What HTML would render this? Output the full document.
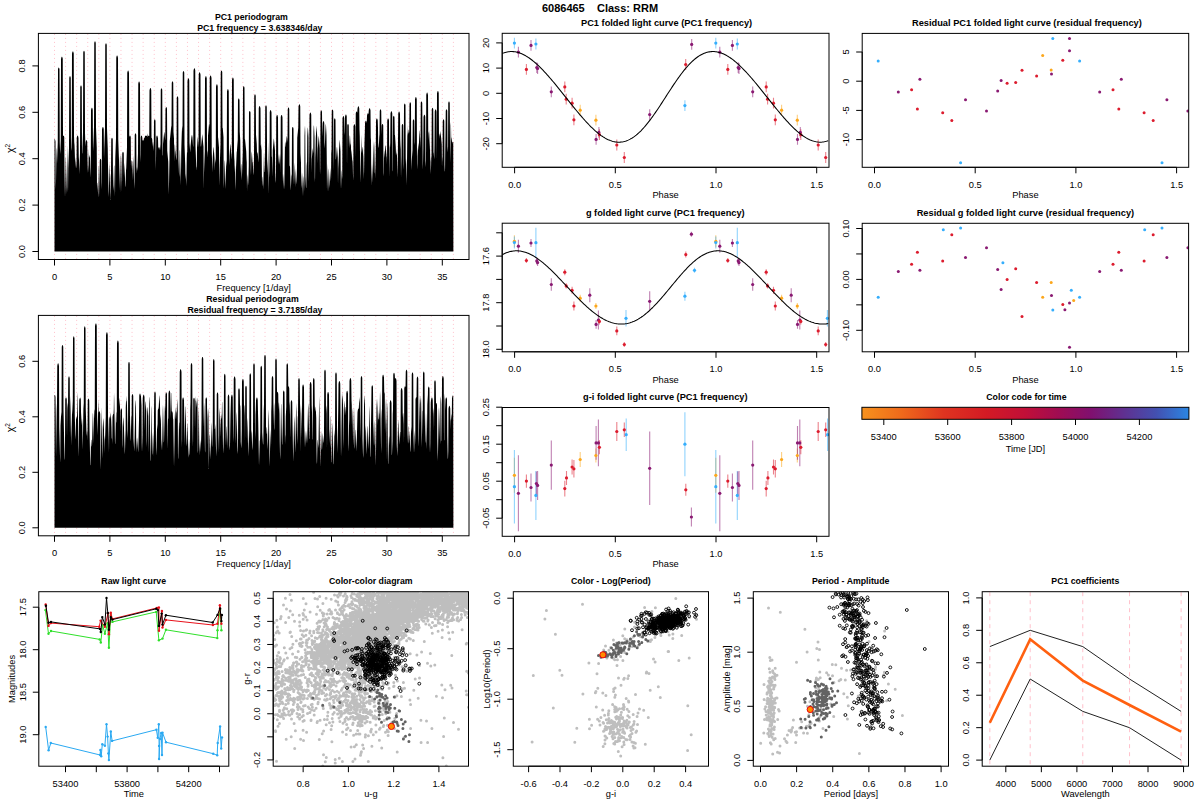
<!DOCTYPE html><html><head><meta charset="utf-8"><style>html,body{margin:0;padding:0;background:#fff;width:1200px;height:800px;overflow:hidden}</style></head><body><svg width="1200" height="800" viewBox="0 0 1200 800" style="display:block">
<g font-family='"Liberation Sans", sans-serif'>
<rect width="1200" height="800" fill="#fff"/>
<text x="600" y="12" font-size="11" text-anchor="middle" font-weight="bold" fill="#000">6086465&#160;&#160;&#160;&#160;Class: RRM</text>
<line x1="54.5" y1="33.9" x2="54.5" y2="259" stroke="#ffc0cb" stroke-width="1" stroke-dasharray="1 3"/>
<line x1="65.58" y1="33.9" x2="65.58" y2="259" stroke="#ffc0cb" stroke-width="1" stroke-dasharray="1 3"/>
<line x1="76.66" y1="33.9" x2="76.66" y2="259" stroke="#ffc0cb" stroke-width="1" stroke-dasharray="1 3"/>
<line x1="87.74" y1="33.9" x2="87.74" y2="259" stroke="#ffc0cb" stroke-width="1" stroke-dasharray="1 3"/>
<line x1="98.82" y1="33.9" x2="98.82" y2="259" stroke="#ffc0cb" stroke-width="1" stroke-dasharray="1 3"/>
<line x1="109.9" y1="33.9" x2="109.9" y2="259" stroke="#ffc0cb" stroke-width="1" stroke-dasharray="1 3"/>
<line x1="120.98" y1="33.9" x2="120.98" y2="259" stroke="#ffc0cb" stroke-width="1" stroke-dasharray="1 3"/>
<line x1="132.06" y1="33.9" x2="132.06" y2="259" stroke="#ffc0cb" stroke-width="1" stroke-dasharray="1 3"/>
<line x1="143.14" y1="33.9" x2="143.14" y2="259" stroke="#ffc0cb" stroke-width="1" stroke-dasharray="1 3"/>
<line x1="154.22" y1="33.9" x2="154.22" y2="259" stroke="#ffc0cb" stroke-width="1" stroke-dasharray="1 3"/>
<line x1="165.3" y1="33.9" x2="165.3" y2="259" stroke="#ffc0cb" stroke-width="1" stroke-dasharray="1 3"/>
<line x1="176.38" y1="33.9" x2="176.38" y2="259" stroke="#ffc0cb" stroke-width="1" stroke-dasharray="1 3"/>
<line x1="187.46" y1="33.9" x2="187.46" y2="259" stroke="#ffc0cb" stroke-width="1" stroke-dasharray="1 3"/>
<line x1="198.54" y1="33.9" x2="198.54" y2="259" stroke="#ffc0cb" stroke-width="1" stroke-dasharray="1 3"/>
<line x1="209.62" y1="33.9" x2="209.62" y2="259" stroke="#ffc0cb" stroke-width="1" stroke-dasharray="1 3"/>
<line x1="220.7" y1="33.9" x2="220.7" y2="259" stroke="#ffc0cb" stroke-width="1" stroke-dasharray="1 3"/>
<line x1="231.78" y1="33.9" x2="231.78" y2="259" stroke="#ffc0cb" stroke-width="1" stroke-dasharray="1 3"/>
<line x1="242.86" y1="33.9" x2="242.86" y2="259" stroke="#ffc0cb" stroke-width="1" stroke-dasharray="1 3"/>
<line x1="253.94" y1="33.9" x2="253.94" y2="259" stroke="#ffc0cb" stroke-width="1" stroke-dasharray="1 3"/>
<line x1="265.02" y1="33.9" x2="265.02" y2="259" stroke="#ffc0cb" stroke-width="1" stroke-dasharray="1 3"/>
<line x1="276.1" y1="33.9" x2="276.1" y2="259" stroke="#ffc0cb" stroke-width="1" stroke-dasharray="1 3"/>
<line x1="287.18" y1="33.9" x2="287.18" y2="259" stroke="#ffc0cb" stroke-width="1" stroke-dasharray="1 3"/>
<line x1="298.26" y1="33.9" x2="298.26" y2="259" stroke="#ffc0cb" stroke-width="1" stroke-dasharray="1 3"/>
<line x1="309.34" y1="33.9" x2="309.34" y2="259" stroke="#ffc0cb" stroke-width="1" stroke-dasharray="1 3"/>
<line x1="320.42" y1="33.9" x2="320.42" y2="259" stroke="#ffc0cb" stroke-width="1" stroke-dasharray="1 3"/>
<line x1="331.5" y1="33.9" x2="331.5" y2="259" stroke="#ffc0cb" stroke-width="1" stroke-dasharray="1 3"/>
<line x1="342.58" y1="33.9" x2="342.58" y2="259" stroke="#ffc0cb" stroke-width="1" stroke-dasharray="1 3"/>
<line x1="353.66" y1="33.9" x2="353.66" y2="259" stroke="#ffc0cb" stroke-width="1" stroke-dasharray="1 3"/>
<line x1="364.74" y1="33.9" x2="364.74" y2="259" stroke="#ffc0cb" stroke-width="1" stroke-dasharray="1 3"/>
<line x1="375.82" y1="33.9" x2="375.82" y2="259" stroke="#ffc0cb" stroke-width="1" stroke-dasharray="1 3"/>
<line x1="386.9" y1="33.9" x2="386.9" y2="259" stroke="#ffc0cb" stroke-width="1" stroke-dasharray="1 3"/>
<line x1="397.98" y1="33.9" x2="397.98" y2="259" stroke="#ffc0cb" stroke-width="1" stroke-dasharray="1 3"/>
<line x1="409.06" y1="33.9" x2="409.06" y2="259" stroke="#ffc0cb" stroke-width="1" stroke-dasharray="1 3"/>
<line x1="420.14" y1="33.9" x2="420.14" y2="259" stroke="#ffc0cb" stroke-width="1" stroke-dasharray="1 3"/>
<line x1="431.22" y1="33.9" x2="431.22" y2="259" stroke="#ffc0cb" stroke-width="1" stroke-dasharray="1 3"/>
<line x1="442.3" y1="33.9" x2="442.3" y2="259" stroke="#ffc0cb" stroke-width="1" stroke-dasharray="1 3"/>
<line x1="453.38" y1="33.9" x2="453.38" y2="259" stroke="#ffc0cb" stroke-width="1" stroke-dasharray="1 3"/>
<path d="M54.50 251.50L54.50 139.0L54.75 139.0L55.00 139.5L55.25 140.3L55.50 141.5L55.75 189.6L56.00 181.6L56.25 164.6L56.50 147.5L56.75 150.0L57.00 163.4L57.25 156.4L57.50 149.5L57.75 142.5L58.00 69.3L58.25 68.3L58.50 67.7L58.75 67.5L59.00 67.7L59.25 68.3L59.50 69.3L59.75 142.5L60.00 149.5L60.25 154.1L60.50 147.1L60.75 140.1L61.00 59.1L61.25 57.9L61.50 57.1L61.75 56.7L62.00 56.7L62.25 57.0L62.50 57.7L62.75 58.8L63.00 136.3L63.25 135.7L63.50 135.5L63.75 135.7L64.00 136.3L64.25 137.2L64.50 171.7L64.75 186.2L65.00 197.2L65.25 187.2L65.50 171.6L65.75 156.0L66.00 159.4L66.25 173.1L66.50 186.7L66.75 193.9L67.00 167.6L67.25 144.1L67.50 161.9L67.75 187.3L68.00 192.5L68.25 168.5L68.50 161.6L68.75 154.6L69.00 147.7L69.25 77.8L69.50 76.9L69.75 76.3L70.00 76.1L70.25 76.3L70.50 76.9L70.75 77.8L71.00 147.7L71.25 150.9L71.50 143.9L71.75 136.9L72.00 53.8L72.25 52.6L72.50 51.8L72.75 51.4L73.00 51.3L73.25 51.7L73.50 52.4L73.75 53.5L74.00 135.5L74.25 142.5L74.50 145.0L74.75 151.9L75.00 160.5L75.25 167.9L75.50 162.4L75.75 156.9L76.00 162.1L76.25 167.7L76.50 167.6L76.75 137.7L77.00 136.6L77.25 135.9L77.50 135.5L77.75 135.6L78.00 136.0L78.25 136.8L78.50 138.0L78.75 156.7L79.00 160.3L79.25 174.1L79.50 167.1L79.75 160.2L80.00 153.2L80.25 87.1L80.50 86.2L80.75 85.6L81.00 85.4L81.25 85.6L81.50 86.2L81.75 87.1L82.00 153.2L82.25 153.4L82.50 146.4L82.75 139.4L83.00 132.5L83.25 52.6L83.50 51.6L83.75 51.0L84.00 50.8L84.25 51.0L84.50 51.6L84.75 52.6L85.00 132.5L85.25 139.4L85.50 146.4L85.75 141.9L86.00 140.9L86.25 140.3L86.50 140.1L86.75 140.3L87.00 140.9L87.25 141.9L87.50 159.2L87.75 168.9L88.00 173.0L88.25 168.3L88.50 164.7L88.75 148.6L89.00 157.3L89.25 156.2L89.50 154.4L89.75 158.3L90.00 156.0L90.25 167.3L90.50 177.7L90.75 167.8L91.00 110.2L91.25 109.0L91.50 108.2L91.75 107.7L92.00 107.7L92.25 108.0L92.50 108.8L92.75 109.9L93.00 151.2L93.25 146.5L93.50 140.7L93.75 133.7L94.00 126.8L94.25 43.0L94.50 42.1L94.75 41.5L95.00 41.3L95.25 41.5L95.50 42.1L95.75 43.0L96.00 126.8L96.25 133.7L96.50 140.7L96.75 147.7L97.00 189.4L97.25 182.7L97.50 183.0L97.75 187.9L98.00 192.8L98.25 197.7L98.50 185.3L98.75 167.7L99.00 165.2L99.25 180.8L99.50 196.5L99.75 160.4L100.00 159.5L100.25 158.9L100.50 158.7L100.75 158.9L101.00 159.5L101.25 160.4L101.50 189.3L101.75 182.3L102.00 129.4L102.25 128.2L102.50 127.4L102.75 127.0L103.00 126.9L103.25 127.3L103.50 128.0L103.75 129.1L104.00 159.0L104.25 148.8L104.50 141.8L104.75 134.9L105.00 127.9L105.25 44.9L105.50 43.9L105.75 43.4L106.00 43.2L106.25 43.4L106.50 43.9L106.75 44.9L107.00 127.9L107.25 134.9L107.50 141.8L107.75 148.8L108.00 165.7L108.25 176.0L108.50 190.9L108.75 197.1L109.00 183.3L109.25 169.6L109.50 162.3L109.75 173.0L110.00 186.5L110.25 200.1L110.50 191.2L110.75 176.1L111.00 173.9L111.25 139.6L111.50 138.6L111.75 138.0L112.00 137.8L112.25 138.0L112.50 138.6L112.75 139.6L113.00 184.7L113.25 190.8L113.50 186.3L113.75 175.7L114.00 165.2L114.25 166.0L114.50 177.9L114.75 189.8L115.00 196.4L115.25 158.9L115.50 152.0L115.75 145.0L116.00 138.1L116.25 57.7L116.50 56.6L116.75 55.8L117.00 55.5L117.25 55.5L117.50 56.0L117.75 56.8L118.00 58.0L118.25 139.4L118.50 146.4L118.75 153.4L119.00 160.3L119.25 189.9L119.50 178.3L119.75 166.7L120.00 155.1L120.25 156.2L120.50 168.5L120.75 180.7L121.00 193.0L121.25 179.1L121.50 153.6L121.75 162.2L122.00 184.8L122.25 153.5L122.50 152.5L122.75 151.9L123.00 151.7L123.25 151.9L123.50 152.5L123.75 153.5L124.00 177.9L124.25 168.2L124.50 162.7L124.75 169.7L125.00 178.5L125.25 187.3L125.50 185.7L125.75 178.1L126.00 170.4L126.25 168.0L126.50 161.0L126.75 154.1L127.00 147.1L127.25 72.8L127.50 71.7L127.75 70.9L128.00 70.6L128.25 70.6L128.50 71.0L128.75 71.8L129.00 73.0L129.25 137.2L129.50 136.3L129.75 135.7L130.00 135.5L130.25 135.7L130.50 136.3L130.75 137.2L131.00 169.0L131.25 165.1L131.50 161.2L131.75 160.2L132.00 160.7L132.25 161.8L132.50 167.8L132.75 173.8L133.00 180.6L133.25 166.5L133.50 155.2L133.75 163.1L134.00 176.6L134.25 188.9L134.50 181.9L134.75 134.9L135.00 134.0L135.25 133.4L135.50 133.2L135.75 133.4L136.00 134.0L136.25 134.9L136.50 173.4L136.75 169.2L137.00 166.7L137.25 170.9L137.50 167.6L137.75 160.6L138.00 153.6L138.25 83.7L138.50 82.6L138.75 81.8L139.00 81.5L139.25 81.5L139.50 81.9L139.75 82.7L140.00 83.9L140.25 155.0L140.50 162.0L140.75 137.2L141.00 136.3L141.25 135.7L141.50 135.5L141.75 135.7L142.00 136.3L142.25 137.2L142.50 140.9L142.75 140.3L143.00 140.1L143.25 140.3L143.50 140.9L143.75 139.6L144.00 138.6L144.25 138.0L144.50 137.8L144.75 137.2L145.00 136.3L145.25 135.7L145.50 135.5L145.75 135.7L146.00 136.3L146.25 135.7L146.50 135.5L146.75 135.7L147.00 136.3L147.25 137.2L147.50 135.2L147.75 133.3L148.00 136.3L148.25 135.7L148.50 135.5L148.75 135.7L149.00 136.3L149.25 135.7L149.50 90.4L149.75 89.2L150.00 88.4L150.25 88.0L150.50 88.0L150.75 88.3L151.00 89.1L151.25 90.2L151.50 137.8L151.75 138.0L152.00 138.6L152.25 139.6L152.50 146.7L152.75 143.4L153.00 141.4L153.25 144.7L153.50 147.9L153.75 151.1L154.00 121.0L154.25 120.0L154.50 119.5L154.75 119.3L155.00 119.5L155.25 120.0L155.50 121.0L155.75 170.1L156.00 159.6L156.25 137.2L156.50 136.3L156.75 135.7L157.00 135.5L157.25 135.7L157.50 136.3L157.75 137.2L158.00 138.3L158.25 148.8L158.50 147.9L158.75 147.3L159.00 147.1L159.25 147.3L159.50 147.9L159.75 148.8L160.00 150.6L160.25 147.2L160.50 143.9L160.75 89.9L161.00 88.9L161.25 88.4L161.50 88.2L161.75 88.4L162.00 88.9L162.25 89.9L162.50 154.9L162.75 155.8L163.00 144.0L163.25 141.5L163.50 139.0L163.75 136.4L164.00 133.9L164.25 131.4L164.50 132.9L164.75 135.4L165.00 137.9L165.25 140.4L165.50 108.7L165.75 107.7L166.00 107.2L166.25 107.0L166.50 107.2L166.75 107.7L167.00 108.7L167.25 150.7L167.50 153.5L167.75 156.2L168.00 159.0L168.25 161.8L168.50 177.8L168.75 194.5L169.00 184.2L169.25 170.5L169.50 158.5L169.75 141.3L170.00 138.8L170.25 136.3L170.50 133.8L170.75 131.3L171.00 128.8L171.25 126.7L171.50 125.6L171.75 82.9L172.00 82.0L172.25 81.4L172.50 81.2L172.75 81.4L173.00 82.0L173.25 82.9L173.50 132.0L173.75 135.3L174.00 138.7L174.25 161.7L174.50 152.0L174.75 145.3L175.00 143.9L175.25 150.6L175.50 151.5L175.75 154.2L176.00 156.9L176.25 159.6L176.50 159.8L176.75 98.0L177.00 97.1L177.25 96.5L177.50 96.3L177.75 96.5L178.00 97.1L178.25 98.0L178.50 159.8L178.75 166.7L179.00 173.7L179.25 177.1L179.50 164.1L179.75 151.0L180.00 149.6L180.25 161.5L180.50 173.3L180.75 185.2L181.00 170.8L181.25 150.6L181.50 141.7L181.75 134.3L182.00 128.2L182.25 125.7L182.50 131.8L182.75 72.7L183.00 71.8L183.25 71.2L183.50 71.0L183.75 71.2L184.00 71.8L184.25 72.7L184.50 144.6L184.75 151.6L185.00 158.5L185.25 165.5L185.50 179.8L185.75 173.5L186.00 179.5L186.25 186.1L186.50 174.0L186.75 158.5L187.00 151.4L187.25 153.1L187.50 80.7L187.75 79.5L188.00 78.7L188.25 78.3L188.50 78.2L188.75 78.6L189.00 79.3L189.25 80.4L189.50 142.7L189.75 146.0L190.00 149.3L190.25 152.6L190.50 146.3L190.75 143.7L191.00 141.0L191.25 138.4L191.50 135.7L191.75 134.8L192.00 137.5L192.25 134.6L192.50 137.9L192.75 141.7L193.00 145.5L193.25 147.1L193.50 70.7L193.75 69.5L194.00 68.7L194.25 68.3L194.50 68.3L194.75 68.6L195.00 69.3L195.25 70.4L195.50 145.7L195.75 152.7L196.00 159.6L196.25 166.6L196.50 167.6L196.75 170.7L197.00 147.8L197.25 144.0L197.50 140.1L197.75 136.2L198.00 139.7L198.25 143.6L198.50 147.5L198.75 74.4L199.00 73.3L199.25 72.5L199.50 72.2L199.75 72.2L200.00 72.7L200.25 73.5L200.50 74.7L200.75 145.4L201.00 146.9L201.25 144.3L201.50 141.7L201.75 139.1L202.00 136.5L202.25 133.9L202.50 136.4L202.75 139.0L203.00 141.6L203.25 144.2L203.50 146.8L203.75 189.2L204.00 172.7L204.25 165.8L204.50 158.8L204.75 151.8L205.00 78.6L205.25 77.4L205.50 76.6L205.75 76.2L206.00 76.1L206.25 76.5L206.50 77.2L206.75 78.3L207.00 150.4L207.25 157.4L207.50 150.2L207.75 152.6L208.00 135.8L208.25 132.9L208.50 129.9L208.75 127.0L209.00 124.1L209.25 124.5L209.50 127.4L209.75 77.6L210.00 76.5L210.25 75.8L210.50 75.4L210.75 75.5L211.00 75.9L211.25 76.7L211.50 77.9L211.75 151.4L212.00 158.4L212.25 165.3L212.50 172.3L212.75 157.3L213.00 153.8L213.25 150.3L213.50 146.9L213.75 147.7L214.00 151.2L214.25 154.7L214.50 158.2L214.75 170.8L215.00 162.2L215.25 158.9L215.50 163.7L215.75 156.7L216.00 86.7L216.25 85.5L216.50 84.7L216.75 84.3L217.00 84.3L217.25 84.6L217.50 85.3L217.75 86.5L218.00 136.9L218.25 138.7L218.50 141.8L218.75 144.8L219.00 147.8L219.25 185.7L219.50 176.6L219.75 165.2L220.00 158.2L220.25 151.3L220.50 144.3L220.75 72.3L221.00 71.3L221.25 70.7L221.50 70.5L221.75 70.7L222.00 71.3L222.25 72.3L222.50 128.1L222.75 127.8L223.00 131.0L223.25 134.1L223.50 137.2L223.75 188.5L224.00 182.8L224.25 172.1L224.50 161.4L224.75 159.9L225.00 169.4L225.25 179.3L225.50 189.1L225.75 181.7L226.00 170.4L226.25 160.8L226.50 166.6L226.75 159.6L227.00 91.6L227.25 90.4L227.50 89.6L227.75 89.2L228.00 89.1L228.25 89.5L228.50 90.2L228.75 91.3L229.00 158.2L229.25 165.2L229.50 156.1L229.75 152.4L230.00 148.8L230.25 145.1L230.50 143.7L230.75 147.3L231.00 151.0L231.25 154.6L231.50 159.6L231.75 152.7L232.00 80.0L232.25 78.8L232.50 78.0L232.75 77.6L233.00 77.5L233.25 77.9L233.50 78.6L233.75 79.7L234.00 151.3L234.25 157.7L234.50 161.3L234.75 172.2L235.00 164.5L235.25 173.0L235.50 184.0L235.75 190.2L236.00 171.3L236.25 152.3L236.50 150.8L236.75 167.3L237.00 149.9L237.25 146.6L237.50 143.2L237.75 139.9L238.00 100.1L238.25 99.2L238.50 98.6L238.75 98.4L239.00 98.6L239.25 99.2L239.50 100.1L239.75 131.8L240.00 136.0L240.25 140.2L240.50 160.7L240.75 172.9L241.00 164.7L241.25 163.8L241.50 171.8L241.75 180.3L242.00 174.5L242.25 167.6L242.50 160.6L242.75 152.2L243.00 87.8L243.25 86.9L243.50 86.3L243.75 86.1L244.00 86.3L244.25 86.9L244.50 87.8L244.75 139.6L245.00 139.1L245.25 141.6L245.50 144.1L245.75 146.6L246.00 149.1L246.25 151.6L246.50 158.8L246.75 162.4L247.00 191.4L247.25 182.7L247.50 174.0L247.75 177.0L248.00 185.7L248.25 182.5L248.50 175.5L248.75 166.0L249.00 112.6L249.25 111.7L249.50 111.1L249.75 110.9L250.00 111.1L250.25 111.7L250.50 112.6L250.75 168.5L251.00 175.5L251.25 160.1L251.50 155.7L251.75 151.3L252.00 153.6L252.25 158.0L252.50 162.4L252.75 162.0L253.00 167.3L253.25 175.4L253.50 172.4L253.75 165.5L254.00 158.5L254.25 95.9L254.50 95.0L254.75 94.4L255.00 94.2L255.25 94.4L255.50 95.0L255.75 95.9L256.00 134.4L256.25 137.6L256.50 140.8L256.75 144.0L257.00 152.5L257.25 153.7L257.50 151.4L257.75 154.0L258.00 156.8L258.25 159.7L258.50 162.6L258.75 108.3L259.00 107.1L259.25 106.4L259.50 106.1L259.75 106.1L260.00 106.5L260.25 107.3L260.50 108.5L260.75 144.7L261.00 145.9L261.25 150.3L261.50 142.8L261.75 160.8L262.00 183.7L262.25 186.5L262.50 177.6L262.75 176.4L263.00 183.0L263.25 189.5L263.50 176.6L263.75 163.2L264.00 151.1L264.25 158.7L264.50 171.8L264.75 172.2L265.00 165.2L265.25 107.1L265.50 106.1L265.75 105.5L266.00 105.3L266.25 105.5L266.50 106.1L266.75 107.1L267.00 142.9L267.25 172.2L267.50 165.3L267.75 158.8L268.00 176.6L268.25 194.3L268.50 172.1L268.75 141.0L269.00 157.9L269.25 177.7L269.50 170.8L269.75 112.2L270.00 111.1L270.25 110.4L270.50 110.0L270.75 110.0L271.00 110.5L271.25 111.3L271.50 112.5L271.75 157.3L272.00 156.3L272.25 166.5L272.50 177.0L272.75 150.3L273.00 147.4L273.25 144.5L273.50 141.5L273.75 138.6L274.00 139.2L274.25 142.2L274.50 145.1L274.75 148.0L275.00 151.0L275.25 171.1L275.50 182.9L275.75 180.6L276.00 171.9L276.25 117.1L276.50 116.0L276.75 115.2L277.00 114.9L277.25 114.9L277.50 115.3L277.75 116.2L278.00 117.4L278.25 164.3L278.50 160.7L278.75 157.0L279.00 153.7L279.25 157.3L279.50 161.0L279.75 164.7L280.00 160.9L280.25 153.2L280.50 173.4L280.75 117.1L281.00 116.0L281.25 115.2L281.50 114.9L281.75 114.9L282.00 115.3L282.25 116.2L282.50 117.4L282.75 173.4L283.00 182.0L283.25 189.0L283.50 177.9L283.75 173.4L284.00 184.2L284.25 189.8L284.50 173.3L284.75 156.7L285.00 140.4L285.25 147.5L285.50 145.8L285.75 141.2L286.00 143.4L286.25 140.8L286.50 138.3L286.75 135.7L287.00 136.9L287.25 139.4L287.50 142.0L287.75 109.2L288.00 108.2L288.25 107.6L288.50 107.4L288.75 107.6L289.00 108.2L289.25 109.2L289.50 166.4L289.75 166.0L290.00 165.5L290.25 173.9L290.50 182.4L290.75 190.8L291.00 185.4L291.25 179.7L291.50 173.9L291.75 176.4L292.00 128.7L292.25 127.7L292.50 127.1L292.75 126.9L293.00 127.1L293.25 127.7L293.50 128.7L293.75 178.1L294.00 185.1L294.25 177.7L294.50 162.6L294.75 167.0L295.00 177.3L295.25 187.3L295.50 177.9L295.75 168.5L296.00 173.5L296.25 181.7L296.50 184.5L296.75 175.9L297.00 167.3L297.25 137.7L297.50 135.2L297.75 132.7L298.00 130.2L298.25 127.7L298.50 106.7L298.75 105.5L299.00 104.7L299.25 104.2L299.50 104.2L299.75 104.6L300.00 105.3L300.25 106.4L300.50 153.2L300.75 158.1L301.00 162.9L301.25 188.2L301.50 185.4L301.75 178.3L302.00 172.1L302.25 176.4L302.50 183.0L302.75 189.6L303.00 196.2L303.25 187.1L303.50 177.9L303.75 175.7L304.00 183.4L304.25 191.1L304.50 135.8L304.75 129.0L305.00 125.4L305.25 132.2L305.50 176.6L305.75 182.0L306.00 187.4L306.25 188.0L306.50 174.8L306.75 161.7L307.00 166.1L307.25 136.1L307.50 131.7L307.75 127.3L308.00 128.6L308.25 133.0L308.50 137.4L308.75 182.0L309.00 166.2L309.25 150.3L309.50 115.0L309.75 113.8L310.00 113.0L310.25 112.6L310.50 112.6L310.75 112.9L311.00 113.6L311.25 114.8L311.50 172.3L311.75 159.2L312.00 156.4L312.25 153.6L312.50 150.8L312.75 148.0L313.00 150.8L313.25 153.6L313.50 131.3L313.75 125.7L314.00 125.6L314.25 131.2L314.50 136.7L314.75 177.3L315.00 182.3L315.25 157.6L315.50 151.6L315.75 138.2L316.00 134.0L316.25 129.7L316.50 125.5L316.75 128.9L317.00 133.1L317.25 137.4L317.50 163.3L317.75 148.7L318.00 145.4L318.25 142.1L318.50 138.8L318.75 135.5L319.00 138.5L319.25 141.8L319.50 145.1L319.75 148.4L320.00 175.1L320.25 168.1L320.50 111.9L320.75 111.0L321.00 110.4L321.25 110.2L321.50 110.4L321.75 111.0L322.00 111.9L322.25 136.4L322.50 130.6L322.75 122.9L323.00 121.9L323.25 121.3L323.50 121.1L323.75 121.3L324.00 121.9L324.25 122.9L324.50 148.4L324.75 145.3L325.00 142.1L325.25 133.8L325.50 128.8L325.75 123.8L326.00 125.3L326.25 130.3L326.50 135.3L326.75 158.0L327.00 191.6L327.25 178.3L327.50 163.3L327.75 176.1L328.00 192.1L328.25 186.6L328.50 177.4L328.75 168.3L329.00 170.8L329.25 177.7L329.50 184.6L329.75 188.0L330.00 177.9L330.25 167.8L330.50 171.7L330.75 178.5L331.00 181.6L331.25 152.9L331.50 150.1L331.75 111.3L332.00 110.3L332.25 109.7L332.50 109.5L332.75 109.7L333.00 110.3L333.25 111.3L333.50 152.1L333.75 171.3L334.00 120.1L334.25 119.1L334.50 118.5L334.75 118.3L335.00 118.5L335.25 119.1L335.50 120.1L335.75 159.4L336.00 158.9L336.25 155.3L336.50 151.7L336.75 148.0L337.00 146.6L337.25 150.2L337.50 153.8L337.75 157.5L338.00 184.7L338.25 167.6L338.50 154.3L338.75 168.1L339.00 150.2L339.25 146.2L339.50 142.2L339.75 139.6L340.00 143.6L340.25 147.6L340.50 151.6L340.75 180.2L341.00 189.2L341.25 182.1L341.50 169.9L341.75 171.8L342.00 179.4L342.25 175.8L342.50 118.5L342.75 117.3L343.00 116.5L343.25 116.1L343.50 116.0L343.75 116.4L344.00 117.1L344.25 118.2L344.50 135.0L344.75 131.9L345.00 116.9L345.25 115.7L345.50 114.9L345.75 114.5L346.00 114.4L346.25 114.8L346.50 115.5L346.75 116.6L347.00 168.3L347.25 125.6L347.50 124.7L347.75 124.1L348.00 123.9L348.25 124.1L348.50 124.7L348.75 125.6L349.00 148.4L349.25 144.7L349.50 140.9L349.75 135.9L350.00 135.3L350.25 140.3L350.50 145.3L350.75 143.2L351.00 146.9L351.25 158.3L351.50 152.3L351.75 149.5L352.00 155.5L352.25 161.5L352.50 159.2L352.75 165.8L353.00 175.7L353.25 180.6L353.50 126.6L353.75 125.4L354.00 124.6L354.25 124.2L354.50 124.2L354.75 124.5L355.00 125.2L355.25 126.4L355.50 157.8L355.75 113.6L356.00 112.5L356.25 111.7L356.50 111.4L356.75 111.4L357.00 111.9L357.25 112.7L357.50 108.8L357.75 107.6L358.00 106.8L358.25 106.3L358.50 106.3L358.75 106.6L359.00 107.4L359.25 108.5L359.50 129.2L359.75 136.1L360.00 153.2L360.25 170.3L360.50 183.1L360.75 164.9L361.00 146.7L361.25 134.6L361.50 147.0L361.75 153.2L362.00 150.2L362.25 147.1L362.50 147.2L362.75 150.2L363.00 153.3L363.25 156.4L363.50 179.2L363.75 171.2L364.00 143.8L364.25 125.5L364.50 148.0L364.75 174.8L365.00 123.2L365.25 122.0L365.50 121.1L365.75 120.7L366.00 120.7L366.25 121.0L366.50 121.8L366.75 122.9L367.00 115.7L367.25 114.5L367.50 113.7L367.75 113.3L368.00 113.3L368.25 113.6L368.50 114.3L368.75 110.4L369.00 109.2L369.25 108.5L369.50 108.2L369.75 108.2L370.00 108.6L370.25 109.4L370.50 110.6L370.75 137.4L371.00 140.5L371.25 172.8L371.50 185.7L371.75 173.6L372.00 163.4L372.25 172.7L372.50 183.1L372.75 170.1L373.00 155.3L373.25 140.6L373.50 147.1L373.75 160.4L374.00 173.8L374.25 172.2L374.50 147.1L374.75 141.0L375.00 165.1L375.25 178.4L375.50 165.1L375.75 151.7L376.00 120.8L376.25 119.6L376.50 118.8L376.75 118.4L377.00 118.4L377.25 118.7L377.50 119.4L377.75 120.6L378.00 128.2L378.25 147.4L378.50 147.6L378.75 145.1L379.00 142.5L379.25 137.0L379.50 134.3L379.75 111.0L380.00 110.1L380.25 109.5L380.50 109.3L380.75 109.5L381.00 110.1L381.25 111.0L381.50 134.6L381.75 125.6L382.00 124.7L382.25 124.1L382.50 123.9L382.75 124.1L383.00 124.7L383.25 125.6L383.50 176.3L383.75 172.9L384.00 151.7L384.25 150.1L384.50 158.0L384.75 154.8L385.00 151.7L385.25 145.4L385.50 145.4L385.75 146.5L386.00 149.7L386.25 152.8L386.50 156.0L386.75 157.2L387.00 164.4L387.25 120.6L387.50 119.4L387.75 118.7L388.00 118.4L388.25 118.4L388.50 118.8L388.75 119.6L389.00 120.8L389.25 177.2L389.50 162.8L389.75 144.4L390.00 148.0L390.25 142.7L390.50 113.6L390.75 112.4L391.00 111.6L391.25 111.2L391.50 111.2L391.75 111.5L392.00 112.3L392.25 113.4L392.50 170.2L392.75 171.5L393.00 117.5L393.25 116.6L393.50 116.0L393.75 115.8L394.00 116.0L394.25 116.6L394.50 117.5L394.75 134.9L395.00 135.1L395.25 139.0L395.50 143.0L395.75 146.9L396.00 155.9L396.25 152.5L396.50 155.2L396.75 148.8L397.00 155.7L397.25 165.3L397.50 177.4L397.75 165.5L398.00 139.7L398.25 113.6L398.50 112.5L398.75 111.7L399.00 111.4L399.25 111.4L399.50 111.9L399.75 112.7L400.00 113.9L400.25 139.1L400.50 145.6L400.75 149.5L401.00 178.2L401.25 165.3L401.50 156.1L401.75 125.6L402.00 124.7L402.25 124.1L402.50 123.9L402.75 124.1L403.00 124.7L403.25 125.6L403.50 169.7L403.75 164.1L404.00 105.2L404.25 104.3L404.50 103.7L404.75 103.5L405.00 103.7L405.25 104.3L405.50 105.2L405.75 164.1L406.00 158.1L406.25 164.4L406.50 175.0L406.75 184.9L407.00 162.6L407.25 140.3L407.50 124.5L407.75 135.8L408.00 132.1L408.25 133.9L408.50 131.9L408.75 129.2L409.00 130.6L409.25 133.3L409.50 104.1L409.75 103.1L410.00 102.5L410.25 102.3L410.50 102.5L410.75 103.1L411.00 104.1L411.25 159.7L411.50 170.3L411.75 160.6L412.00 157.1L412.25 153.5L412.50 150.2L412.75 121.0L413.00 120.0L413.25 119.5L413.50 119.3L413.75 119.5L414.00 120.0L414.25 121.0L414.50 144.9L414.75 142.3L415.00 99.5L415.25 98.3L415.50 97.5L415.75 97.1L416.00 97.0L416.25 97.4L416.50 98.1L416.75 99.2L417.00 163.0L417.25 169.4L417.50 155.7L417.75 151.4L418.00 147.0L418.25 142.6L418.50 146.3L418.75 150.6L419.00 141.4L419.25 136.0L419.50 130.7L419.75 130.8L420.00 136.2L420.25 141.6L420.50 148.3L420.75 103.1L421.00 102.2L421.25 101.6L421.50 101.4L421.75 101.6L422.00 102.2L422.25 103.1L422.50 133.3L422.75 169.8L423.00 163.0L423.25 148.7L423.50 117.1L423.75 115.9L424.00 115.1L424.25 114.7L424.50 114.7L424.75 115.0L425.00 115.7L425.25 116.8L425.50 161.0L425.75 167.3L426.00 160.3L426.25 94.8L426.50 93.7L426.75 93.0L427.00 92.6L427.25 92.6L427.50 93.1L427.75 93.9L428.00 95.1L428.25 133.2L428.50 131.3L428.75 135.6L429.00 139.9L429.25 150.6L429.50 134.8L429.75 129.5L430.00 146.4L430.25 158.7L430.50 161.2L430.75 173.9L431.00 167.9L431.25 158.2L431.50 155.7L431.75 109.4L432.00 108.4L432.25 107.9L432.50 107.7L432.75 107.9L433.00 108.4L433.25 109.4L433.50 152.2L433.75 153.3L434.00 156.3L434.25 159.2L434.50 144.5L434.75 111.5L435.00 110.4L435.25 109.7L435.50 109.3L435.75 109.4L436.00 109.8L436.25 110.6L436.50 111.8L436.75 160.7L437.00 93.5L437.25 92.3L437.50 91.4L437.75 91.0L438.00 91.0L438.25 91.3L438.50 92.1L438.75 93.2L439.00 139.0L439.25 136.1L439.50 133.3L439.75 134.5L440.00 136.3L440.25 133.6L440.50 130.8L440.75 133.5L441.00 136.2L441.25 138.9L441.50 141.7L441.75 144.4L442.00 167.4L442.25 156.3L442.50 161.2L442.75 121.0L443.00 120.0L443.25 119.5L443.50 119.3L443.75 119.5L444.00 120.0L444.25 121.0L444.50 164.4L444.75 170.8L445.00 171.8L445.25 150.1L445.50 135.4L445.75 111.0L446.00 110.1L446.25 109.5L446.50 109.3L446.75 109.5L447.00 110.1L447.25 111.0L447.50 146.5L447.75 149.5L448.00 152.4L448.25 103.1L448.50 102.2L448.75 101.6L449.00 101.4L449.25 101.6L449.50 102.2L449.75 103.1L450.00 144.7L450.25 162.5L450.50 142.3L450.75 122.0L451.00 125.5L451.25 142.0L451.50 138.5L451.75 136.9L452.00 140.5L452.25 144.1L452.50 141.8L452.75 142.1L453.00 142.1L453.25 142.1L453.38 251.50Z" fill="#000"/>
<rect x="38.4" y="33.4" width="430.6" height="226.1" stroke="#000" stroke-width="1" fill="none"/>
<line x1="54.5" y1="259.5" x2="442.3" y2="259.5" stroke="#000" stroke-width="1"/>
<line x1="54.5" y1="259.5" x2="54.5" y2="265.5" stroke="#000" stroke-width="1"/>
<line x1="109.9" y1="259.5" x2="109.9" y2="265.5" stroke="#000" stroke-width="1"/>
<line x1="165.3" y1="259.5" x2="165.3" y2="265.5" stroke="#000" stroke-width="1"/>
<line x1="220.7" y1="259.5" x2="220.7" y2="265.5" stroke="#000" stroke-width="1"/>
<line x1="276.1" y1="259.5" x2="276.1" y2="265.5" stroke="#000" stroke-width="1"/>
<line x1="331.5" y1="259.5" x2="331.5" y2="265.5" stroke="#000" stroke-width="1"/>
<line x1="386.9" y1="259.5" x2="386.9" y2="265.5" stroke="#000" stroke-width="1"/>
<line x1="442.3" y1="259.5" x2="442.3" y2="265.5" stroke="#000" stroke-width="1"/>
<text x="54.5" y="279.8" font-size="9.3" text-anchor="middle" font-weight="normal" fill="#000">0</text>
<text x="109.9" y="279.8" font-size="9.3" text-anchor="middle" font-weight="normal" fill="#000">5</text>
<text x="165.3" y="279.8" font-size="9.3" text-anchor="middle" font-weight="normal" fill="#000">10</text>
<text x="220.7" y="279.8" font-size="9.3" text-anchor="middle" font-weight="normal" fill="#000">15</text>
<text x="276.1" y="279.8" font-size="9.3" text-anchor="middle" font-weight="normal" fill="#000">20</text>
<text x="331.5" y="279.8" font-size="9.3" text-anchor="middle" font-weight="normal" fill="#000">25</text>
<text x="386.9" y="279.8" font-size="9.3" text-anchor="middle" font-weight="normal" fill="#000">30</text>
<text x="442.3" y="279.8" font-size="9.3" text-anchor="middle" font-weight="normal" fill="#000">35</text>
<text x="253.7" y="290.5" font-size="9.3" text-anchor="middle" font-weight="normal" fill="#000">Frequency [1/day]</text>
<line x1="38.4" y1="251.5" x2="38.4" y2="65.9" stroke="#000" stroke-width="1"/>
<line x1="32.4" y1="251.5" x2="38.4" y2="251.5" stroke="#000" stroke-width="1"/>
<line x1="32.4" y1="205.1" x2="38.4" y2="205.1" stroke="#000" stroke-width="1"/>
<line x1="32.4" y1="158.7" x2="38.4" y2="158.7" stroke="#000" stroke-width="1"/>
<line x1="32.4" y1="112.3" x2="38.4" y2="112.3" stroke="#000" stroke-width="1"/>
<line x1="32.4" y1="65.9" x2="38.4" y2="65.9" stroke="#000" stroke-width="1"/>
<text x="25.4" y="251.5" font-size="9.3" text-anchor="middle" font-weight="normal" fill="#000" transform="rotate(-90 25.4 251.5)">0.0</text>
<text x="25.4" y="205.1" font-size="9.3" text-anchor="middle" font-weight="normal" fill="#000" transform="rotate(-90 25.4 205.1)">0.2</text>
<text x="25.4" y="158.7" font-size="9.3" text-anchor="middle" font-weight="normal" fill="#000" transform="rotate(-90 25.4 158.7)">0.4</text>
<text x="25.4" y="112.3" font-size="9.3" text-anchor="middle" font-weight="normal" fill="#000" transform="rotate(-90 25.4 112.3)">0.6</text>
<text x="25.4" y="65.9" font-size="9.3" text-anchor="middle" font-weight="normal" fill="#000" transform="rotate(-90 25.4 65.9)">0.8</text>
<text transform="translate(14.399999999999999 148.45) rotate(-90)" font-size="10.5" text-anchor="middle">&#967;<tspan font-size="6.5" dy="-4.5">2</tspan></text>
<text x="251.4" y="20" font-size="8.75" text-anchor="middle" font-weight="bold" fill="#000">PC1 periodogram</text>
<text x="259.8" y="30.8" font-size="8.75" text-anchor="middle" font-weight="bold" fill="#000">PC1 frequency = 3.638346/day</text>
<line x1="54.5" y1="315.9" x2="54.5" y2="535.3" stroke="#ffc0cb" stroke-width="1" stroke-dasharray="1 3"/>
<line x1="65.58" y1="315.9" x2="65.58" y2="535.3" stroke="#ffc0cb" stroke-width="1" stroke-dasharray="1 3"/>
<line x1="76.66" y1="315.9" x2="76.66" y2="535.3" stroke="#ffc0cb" stroke-width="1" stroke-dasharray="1 3"/>
<line x1="87.74" y1="315.9" x2="87.74" y2="535.3" stroke="#ffc0cb" stroke-width="1" stroke-dasharray="1 3"/>
<line x1="98.82" y1="315.9" x2="98.82" y2="535.3" stroke="#ffc0cb" stroke-width="1" stroke-dasharray="1 3"/>
<line x1="109.9" y1="315.9" x2="109.9" y2="535.3" stroke="#ffc0cb" stroke-width="1" stroke-dasharray="1 3"/>
<line x1="120.98" y1="315.9" x2="120.98" y2="535.3" stroke="#ffc0cb" stroke-width="1" stroke-dasharray="1 3"/>
<line x1="132.06" y1="315.9" x2="132.06" y2="535.3" stroke="#ffc0cb" stroke-width="1" stroke-dasharray="1 3"/>
<line x1="143.14" y1="315.9" x2="143.14" y2="535.3" stroke="#ffc0cb" stroke-width="1" stroke-dasharray="1 3"/>
<line x1="154.22" y1="315.9" x2="154.22" y2="535.3" stroke="#ffc0cb" stroke-width="1" stroke-dasharray="1 3"/>
<line x1="165.3" y1="315.9" x2="165.3" y2="535.3" stroke="#ffc0cb" stroke-width="1" stroke-dasharray="1 3"/>
<line x1="176.38" y1="315.9" x2="176.38" y2="535.3" stroke="#ffc0cb" stroke-width="1" stroke-dasharray="1 3"/>
<line x1="187.46" y1="315.9" x2="187.46" y2="535.3" stroke="#ffc0cb" stroke-width="1" stroke-dasharray="1 3"/>
<line x1="198.54" y1="315.9" x2="198.54" y2="535.3" stroke="#ffc0cb" stroke-width="1" stroke-dasharray="1 3"/>
<line x1="209.62" y1="315.9" x2="209.62" y2="535.3" stroke="#ffc0cb" stroke-width="1" stroke-dasharray="1 3"/>
<line x1="220.7" y1="315.9" x2="220.7" y2="535.3" stroke="#ffc0cb" stroke-width="1" stroke-dasharray="1 3"/>
<line x1="231.78" y1="315.9" x2="231.78" y2="535.3" stroke="#ffc0cb" stroke-width="1" stroke-dasharray="1 3"/>
<line x1="242.86" y1="315.9" x2="242.86" y2="535.3" stroke="#ffc0cb" stroke-width="1" stroke-dasharray="1 3"/>
<line x1="253.94" y1="315.9" x2="253.94" y2="535.3" stroke="#ffc0cb" stroke-width="1" stroke-dasharray="1 3"/>
<line x1="265.02" y1="315.9" x2="265.02" y2="535.3" stroke="#ffc0cb" stroke-width="1" stroke-dasharray="1 3"/>
<line x1="276.1" y1="315.9" x2="276.1" y2="535.3" stroke="#ffc0cb" stroke-width="1" stroke-dasharray="1 3"/>
<line x1="287.18" y1="315.9" x2="287.18" y2="535.3" stroke="#ffc0cb" stroke-width="1" stroke-dasharray="1 3"/>
<line x1="298.26" y1="315.9" x2="298.26" y2="535.3" stroke="#ffc0cb" stroke-width="1" stroke-dasharray="1 3"/>
<line x1="309.34" y1="315.9" x2="309.34" y2="535.3" stroke="#ffc0cb" stroke-width="1" stroke-dasharray="1 3"/>
<line x1="320.42" y1="315.9" x2="320.42" y2="535.3" stroke="#ffc0cb" stroke-width="1" stroke-dasharray="1 3"/>
<line x1="331.5" y1="315.9" x2="331.5" y2="535.3" stroke="#ffc0cb" stroke-width="1" stroke-dasharray="1 3"/>
<line x1="342.58" y1="315.9" x2="342.58" y2="535.3" stroke="#ffc0cb" stroke-width="1" stroke-dasharray="1 3"/>
<line x1="353.66" y1="315.9" x2="353.66" y2="535.3" stroke="#ffc0cb" stroke-width="1" stroke-dasharray="1 3"/>
<line x1="364.74" y1="315.9" x2="364.74" y2="535.3" stroke="#ffc0cb" stroke-width="1" stroke-dasharray="1 3"/>
<line x1="375.82" y1="315.9" x2="375.82" y2="535.3" stroke="#ffc0cb" stroke-width="1" stroke-dasharray="1 3"/>
<line x1="386.9" y1="315.9" x2="386.9" y2="535.3" stroke="#ffc0cb" stroke-width="1" stroke-dasharray="1 3"/>
<line x1="397.98" y1="315.9" x2="397.98" y2="535.3" stroke="#ffc0cb" stroke-width="1" stroke-dasharray="1 3"/>
<line x1="409.06" y1="315.9" x2="409.06" y2="535.3" stroke="#ffc0cb" stroke-width="1" stroke-dasharray="1 3"/>
<line x1="420.14" y1="315.9" x2="420.14" y2="535.3" stroke="#ffc0cb" stroke-width="1" stroke-dasharray="1 3"/>
<line x1="431.22" y1="315.9" x2="431.22" y2="535.3" stroke="#ffc0cb" stroke-width="1" stroke-dasharray="1 3"/>
<line x1="442.3" y1="315.9" x2="442.3" y2="535.3" stroke="#ffc0cb" stroke-width="1" stroke-dasharray="1 3"/>
<line x1="453.38" y1="315.9" x2="453.38" y2="535.3" stroke="#ffc0cb" stroke-width="1" stroke-dasharray="1 3"/>
<path d="M54.50 527.80L54.50 395.1L54.75 394.9L55.00 395.1L55.25 395.8L55.50 397.0L55.75 417.6L56.00 457.5L56.25 441.6L56.50 425.7L56.75 409.8L57.00 402.5L57.25 365.9L57.50 364.6L57.75 363.7L58.00 363.3L58.25 363.3L58.50 363.8L58.75 364.8L59.00 366.2L59.25 426.9L59.50 436.0L59.75 446.2L60.00 456.4L60.25 463.1L60.50 425.4L60.75 421.0L61.00 416.5L61.25 412.1L61.50 416.5L61.75 347.0L62.00 345.8L62.25 345.2L62.50 344.9L62.75 345.2L63.00 345.8L63.25 347.0L63.50 409.5L63.75 420.6L64.00 433.8L64.25 444.7L64.50 460.3L64.75 458.2L65.00 442.1L65.25 399.5L65.50 398.3L65.75 397.6L66.00 397.4L66.25 397.6L66.50 398.3L66.75 399.5L67.00 438.2L67.25 410.6L67.50 405.3L67.75 402.2L68.00 407.5L68.25 378.4L68.50 377.2L68.75 376.5L69.00 376.3L69.25 376.5L69.50 377.2L69.75 378.4L70.00 438.6L70.25 424.2L70.50 404.5L70.75 395.6L71.00 411.8L71.25 430.4L71.50 445.8L71.75 430.3L72.00 414.7L72.25 400.4L72.50 410.3L72.75 414.6L73.00 338.4L73.25 337.2L73.50 336.6L73.75 336.3L74.00 336.6L74.25 337.2L74.50 338.4L74.75 414.6L75.00 422.9L75.25 431.2L75.50 439.6L75.75 434.4L76.00 419.8L76.25 418.4L76.50 417.4L76.75 416.9L77.00 416.8L77.25 409.7L77.50 392.0L77.75 397.4L78.00 417.3L78.25 437.2L78.50 457.1L78.75 446.0L79.00 419.6L79.25 400.0L79.50 398.9L79.75 398.2L80.00 397.9L80.25 398.2L80.50 398.9L80.75 396.2L81.00 411.8L81.25 416.3L81.50 420.8L81.75 425.3L82.00 417.9L82.25 423.5L82.50 436.6L82.75 449.7L83.00 433.6L83.25 417.7L83.50 402.9L83.75 408.6L84.00 328.4L84.25 327.3L84.50 326.6L84.75 326.3L85.00 326.6L85.25 327.3L85.50 328.4L85.75 408.6L86.00 416.9L86.25 425.2L86.50 433.6L86.75 436.1L87.00 429.4L87.25 433.2L87.50 440.6L87.75 400.6L88.00 399.4L88.25 398.7L88.50 398.5L88.75 398.7L89.00 399.4L89.25 400.6L89.50 428.8L89.75 441.0L90.00 453.1L90.25 465.3L90.50 464.9L90.75 452.6L91.00 440.2L91.25 439.4L91.50 442.8L91.75 446.2L92.00 446.4L92.25 435.8L92.50 425.2L92.75 414.6L93.00 412.2L93.25 421.5L93.50 432.4L93.75 443.4L94.00 419.0L94.25 414.0L94.50 409.0L94.75 411.0L95.00 326.3L95.25 324.8L95.50 323.9L95.75 323.4L96.00 323.3L96.25 323.7L96.50 324.6L96.75 325.9L97.00 410.1L97.25 418.4L97.50 426.7L97.75 435.1L98.00 417.6L98.25 399.0L98.50 406.5L98.75 412.8L99.00 411.8L99.25 411.3L99.50 411.3L99.75 411.7L100.00 412.6L100.25 413.9L100.50 458.4L100.75 469.7L101.00 448.1L101.25 423.4L101.50 406.4L101.75 420.7L102.00 439.7L102.25 458.4L102.50 450.3L102.75 427.7L103.00 422.8L103.25 417.9L103.50 419.9L103.75 424.8L104.00 429.8L104.25 453.0L104.50 442.8L104.75 435.2L105.00 440.1L105.25 433.7L105.50 425.4L105.75 417.1L106.00 335.2L106.25 333.7L106.50 332.8L106.75 332.2L107.00 332.2L107.25 332.6L107.50 333.5L107.75 334.8L108.00 415.4L108.25 423.7L108.50 432.1L108.75 440.4L109.00 453.3L109.25 418.9L109.50 417.7L109.75 417.0L110.00 416.8L110.25 412.8L110.50 413.9L110.75 418.9L111.00 415.7L111.25 421.2L111.50 427.5L111.75 439.0L112.00 437.8L112.25 443.9L112.50 417.0L112.75 415.6L113.00 414.6L113.25 414.1L113.50 414.1L113.75 409.2L114.00 392.3L114.25 399.1L114.50 413.8L114.75 428.6L115.00 443.3L115.25 444.3L115.50 433.9L115.75 423.6L116.00 413.2L116.25 411.5L116.50 422.8L116.75 422.1L117.00 343.5L117.25 342.0L117.50 341.1L117.75 340.6L118.00 340.5L118.25 340.9L118.50 341.8L118.75 343.2L119.00 406.3L119.25 401.4L119.50 397.3L119.75 402.3L120.00 407.2L120.25 431.8L120.50 410.8L120.75 409.6L121.00 408.8L121.25 408.5L121.50 408.6L121.75 409.2L122.00 410.3L122.25 448.2L122.50 444.6L122.75 426.0L123.00 421.4L123.25 416.9L123.50 419.0L123.75 423.5L124.00 428.1L124.25 454.3L124.50 451.2L124.75 439.8L125.00 429.3L125.25 437.9L125.50 450.4L125.75 407.4L126.00 401.2L126.25 395.4L126.50 401.5L126.75 400.9L127.00 405.6L127.25 417.5L127.50 429.5L127.75 438.2L128.00 429.9L128.25 363.9L128.50 362.8L128.75 362.1L129.00 361.9L129.25 362.1L129.50 362.8L129.75 363.9L130.00 423.3L130.25 438.2L130.50 441.5L130.75 428.4L131.00 415.3L131.25 417.3L131.50 429.0L131.75 396.1L132.00 395.0L132.25 394.3L132.50 394.0L132.75 394.3L133.00 395.0L133.25 396.1L133.50 438.8L133.75 443.0L134.00 447.3L134.25 451.6L134.50 441.2L134.75 430.5L135.00 419.9L135.25 407.7L135.50 401.4L135.75 400.1L136.00 406.4L136.25 452.5L136.50 447.4L136.75 442.3L137.00 437.3L137.25 439.3L137.50 442.7L137.75 446.1L138.00 449.4L138.25 452.4L138.50 441.4L138.75 430.4L139.00 419.4L139.25 395.6L139.50 394.4L139.75 393.7L140.00 393.5L140.25 393.7L140.50 394.4L140.75 395.6L141.00 396.3L141.25 400.9L141.50 405.5L141.75 442.9L142.00 452.2L142.25 443.8L142.50 435.4L142.75 397.9L143.00 396.4L143.25 395.3L143.50 394.7L143.75 394.6L144.00 394.9L144.25 395.7L144.50 397.0L144.75 430.6L145.00 410.4L145.25 405.8L145.50 401.2L145.75 402.1L146.00 406.7L146.25 411.3L146.50 447.0L146.75 440.9L147.00 416.0L147.25 411.7L147.50 407.3L147.75 407.5L148.00 411.9L148.25 416.2L148.50 452.8L148.75 436.2L149.00 403.4L149.25 396.6L149.50 398.3L149.75 407.2L150.00 427.3L150.25 444.1L150.50 460.9L150.75 460.2L151.00 432.8L151.25 405.5L151.50 408.8L151.75 431.0L152.00 453.3L152.25 454.9L152.50 446.1L152.75 437.4L153.00 431.9L153.25 438.2L153.50 447.1L153.75 456.0L154.00 415.8L154.25 393.6L154.50 392.5L154.75 391.8L155.00 391.5L155.25 391.8L155.50 392.5L155.75 393.6L156.00 447.7L156.25 455.7L156.50 447.1L156.75 438.4L157.00 429.7L157.25 424.0L157.50 429.2L157.75 410.6L158.00 409.4L158.25 408.7L158.50 408.5L158.75 406.2L159.00 401.5L159.25 396.8L159.50 395.0L159.75 399.7L160.00 404.4L160.25 420.3L160.50 414.1L160.75 418.2L161.00 424.5L161.25 439.0L161.50 442.9L161.75 446.8L162.00 450.7L162.25 440.9L162.50 425.6L162.75 410.3L163.00 404.1L163.25 415.1L163.50 428.4L163.75 441.7L164.00 442.4L164.25 431.5L164.50 420.6L164.75 409.7L165.00 404.7L165.25 411.3L165.50 394.5L165.75 393.3L166.00 392.6L166.25 392.4L166.50 392.6L166.75 393.3L167.00 394.5L167.25 435.2L167.50 448.9L167.75 425.7L168.00 417.9L168.25 419.3L168.50 393.4L168.75 392.0L169.00 391.0L169.25 390.5L169.50 390.5L169.75 390.9L170.00 391.8L170.25 393.1L170.50 417.9L170.75 407.3L171.00 393.4L171.25 392.8L171.50 404.5L171.75 411.5L172.00 411.2L172.25 411.5L172.50 412.2L172.75 413.3L173.00 418.4L173.25 419.6L173.50 435.3L173.75 451.1L174.00 466.9L174.25 454.3L174.50 441.0L174.75 417.9L175.00 412.5L175.25 407.1L175.50 411.7L175.75 417.1L176.00 419.6L176.25 413.3L176.50 412.2L176.75 410.6L177.00 404.5L177.25 398.4L177.50 404.6L177.75 410.7L178.00 459.5L178.25 457.6L178.50 446.3L178.75 434.9L179.00 423.6L179.25 422.1L179.50 429.4L179.75 371.7L180.00 370.4L180.25 369.5L180.50 369.1L180.75 369.2L181.00 369.7L181.25 370.6L181.50 372.1L181.75 439.2L182.00 447.5L182.25 400.0L182.50 398.7L182.75 397.8L183.00 397.4L183.25 397.5L183.50 398.0L183.75 398.9L184.00 400.4L184.25 417.2L184.50 445.3L184.75 432.4L185.00 419.6L185.25 406.7L185.50 406.4L185.75 415.7L186.00 426.0L186.25 436.3L186.50 446.6L186.75 443.8L187.00 434.3L187.25 424.8L187.50 422.6L187.75 433.5L188.00 445.6L188.25 457.8L188.50 455.2L188.75 446.7L189.00 438.3L189.25 443.1L189.50 454.1L189.75 455.5L190.00 447.2L190.25 409.8L190.50 402.1L190.75 365.0L191.00 363.9L191.25 363.2L191.50 363.0L191.75 363.2L192.00 363.9L192.25 365.0L192.50 423.4L192.75 438.9L193.00 447.2L193.25 399.7L193.50 398.6L193.75 397.9L194.00 397.7L194.25 397.9L194.50 398.6L194.75 399.7L195.00 429.7L195.25 409.7L195.50 395.7L195.75 400.6L196.00 400.7L196.25 403.2L196.50 407.4L196.75 402.7L197.00 397.4L197.25 399.0L197.50 404.3L197.75 451.1L198.00 453.6L198.25 434.3L198.50 415.1L198.75 406.6L199.00 422.7L199.25 440.8L199.50 455.4L199.75 449.6L200.00 443.7L200.25 439.7L200.50 445.2L200.75 451.9L201.00 443.6L201.25 435.2L201.50 420.1L201.75 358.9L202.00 357.8L202.25 357.1L202.50 356.9L202.75 357.1L203.00 357.8L203.25 358.9L203.50 426.9L203.75 415.9L204.00 402.3L204.25 407.0L204.50 422.2L204.75 437.4L205.00 452.7L205.25 451.2L205.50 399.5L205.75 398.3L206.00 397.6L206.25 397.4L206.50 397.6L206.75 398.3L207.00 399.5L207.25 445.6L207.50 419.4L207.75 413.6L208.00 407.9L208.25 411.0L208.50 416.7L208.75 468.9L209.00 457.9L209.25 447.0L209.50 436.0L209.75 433.2L210.00 439.3L210.25 446.4L210.50 453.4L210.75 459.4L211.00 442.8L211.25 426.2L211.50 422.0L211.75 434.8L212.00 447.5L212.25 444.9L212.50 436.6L212.75 428.2L213.00 361.2L213.25 360.0L213.50 359.3L213.75 359.1L214.00 359.3L214.25 360.0L214.50 361.2L214.75 428.2L215.00 429.5L215.25 423.8L215.50 428.9L215.75 438.6L216.00 448.3L216.25 456.5L216.50 448.2L216.75 394.5L217.00 393.3L217.25 392.6L217.50 392.4L217.75 392.6L218.00 393.3L218.25 394.5L218.50 435.4L218.75 443.3L219.00 453.0L219.25 419.6L219.50 412.7L219.75 407.8L220.00 414.7L220.25 420.8L220.50 437.1L220.75 425.4L221.00 419.5L221.25 413.6L221.50 418.1L221.75 418.7L222.00 401.9L222.25 402.5L222.50 416.8L222.75 431.8L223.00 446.8L223.25 453.7L223.50 445.4L223.75 437.1L224.00 375.9L224.25 374.7L224.50 374.0L224.75 373.8L225.00 374.0L225.25 374.7L225.50 375.9L225.75 437.1L226.00 445.4L226.25 436.4L226.50 426.2L226.75 427.0L227.00 434.0L227.25 441.2L227.50 448.4L227.75 396.7L228.00 395.5L228.25 394.8L228.50 394.6L228.75 394.8L229.00 395.5L229.25 396.7L229.50 445.7L229.75 450.4L230.00 444.9L230.25 429.6L230.50 414.4L230.75 405.5L231.00 397.6L231.25 396.2L231.50 395.2L231.75 394.7L232.00 394.6L232.25 395.1L232.50 395.9L232.75 397.3L233.00 423.1L233.25 436.4L233.50 441.9L233.75 379.0L234.00 377.6L234.25 376.7L234.50 376.3L234.75 376.4L235.00 376.9L235.25 377.8L235.50 379.3L235.75 443.6L236.00 435.4L236.25 423.6L236.50 411.8L236.75 415.1L237.00 426.9L237.25 438.7L237.50 450.5L237.75 454.0L238.00 445.7L238.25 390.3L238.50 389.1L238.75 388.4L239.00 388.2L239.25 388.4L239.50 389.1L239.75 390.3L240.00 406.1L240.25 405.0L240.50 411.2L240.75 441.7L241.00 445.2L241.25 448.6L241.50 441.6L241.75 429.0L242.00 381.8L242.25 380.3L242.50 379.4L242.75 378.9L243.00 378.8L243.25 379.2L243.50 380.1L243.75 381.4L244.00 406.7L244.25 404.6L244.50 410.0L244.75 415.5L245.00 443.1L245.25 387.8L245.50 386.6L245.75 386.0L246.00 385.7L246.25 386.0L246.50 386.6L246.75 387.8L247.00 444.2L247.25 435.1L247.50 422.0L247.75 417.4L248.00 429.3L248.25 442.8L248.50 456.3L248.75 449.5L249.00 439.1L249.25 428.8L249.50 375.3L249.75 374.2L250.00 373.5L250.25 373.2L250.50 373.5L250.75 374.2L251.00 375.3L251.25 433.3L251.50 430.1L251.75 435.1L252.00 442.6L252.25 450.2L252.50 447.4L252.75 439.1L253.00 430.7L253.25 365.3L253.50 364.2L253.75 363.5L254.00 363.2L254.25 363.5L254.50 364.2L254.75 365.3L255.00 430.7L255.25 439.1L255.50 414.3L255.75 409.6L256.00 400.4L256.25 398.9L256.50 398.0L256.75 397.5L257.00 397.4L257.25 397.8L257.50 398.7L257.75 400.0L258.00 412.4L258.25 422.6L258.50 437.1L258.75 451.6L259.00 465.8L259.25 457.4L259.50 448.9L259.75 440.4L260.00 440.6L260.25 432.2L260.50 367.8L260.75 366.7L261.00 366.0L261.25 365.7L261.50 366.0L261.75 366.7L262.00 367.8L262.25 432.2L262.50 437.0L262.75 440.7L263.00 444.4L263.25 444.2L263.50 427.0L263.75 409.8L264.00 404.0L264.25 357.0L264.50 355.8L264.75 355.1L265.00 354.9L265.25 355.1L265.50 355.8L265.75 357.0L266.00 425.7L266.25 434.1L266.50 433.3L266.75 426.7L267.00 427.9L267.25 435.3L267.50 442.7L267.75 450.0L268.00 441.6L268.25 428.7L268.50 415.7L268.75 409.1L269.00 421.3L269.25 438.7L269.50 456.1L269.75 466.4L270.00 452.3L270.25 438.2L270.50 429.1L270.75 437.5L271.00 448.6L271.25 411.7L271.50 404.5L271.75 378.1L272.00 376.9L272.25 376.2L272.50 376.0L272.75 376.2L273.00 376.9L273.25 378.1L273.50 425.7L273.75 414.1L274.00 402.4L274.25 405.8L274.50 418.1L274.75 430.4L275.00 427.9L275.25 360.6L275.50 359.4L275.75 358.8L276.00 358.5L276.25 358.8L276.50 359.4L276.75 360.6L277.00 392.7L277.25 392.1L277.50 391.8L277.75 392.1L278.00 392.7L278.25 393.9L278.50 409.6L278.75 403.8L279.00 402.0L279.25 407.9L279.50 413.7L279.75 441.3L280.00 454.6L280.25 459.5L280.50 441.4L280.75 423.2L281.00 405.1L281.25 403.6L281.50 417.0L281.75 430.4L282.00 443.8L282.25 445.0L282.50 434.2L282.75 423.3L283.00 392.5L283.25 391.4L283.50 390.7L283.75 390.4L284.00 390.7L284.25 391.4L284.50 392.5L284.75 419.6L285.00 444.6L285.25 436.9L285.50 434.5L285.75 416.6L286.00 411.9L286.25 407.1L286.50 365.3L286.75 364.2L287.00 363.5L287.25 363.2L287.50 363.5L287.75 364.2L288.00 365.3L288.25 386.5L288.50 386.3L288.75 386.5L289.00 387.2L289.25 388.4L289.50 414.8L289.75 401.4L290.00 405.5L290.25 421.9L290.50 438.2L290.75 402.2L291.00 401.1L291.25 400.4L291.50 400.1L291.75 400.4L292.00 401.1L292.25 402.2L292.50 423.2L292.75 437.1L293.00 450.9L293.25 462.1L293.50 449.1L293.75 436.2L294.00 423.2L294.25 415.9L294.50 422.7L294.75 432.7L295.00 442.7L295.25 452.8L295.50 443.1L295.75 427.5L296.00 411.9L296.25 402.7L296.50 411.2L296.75 423.3L297.00 435.4L297.25 444.0L297.50 430.8L297.75 417.7L298.00 415.5L298.25 380.0L298.50 378.9L298.75 378.2L299.00 377.9L299.25 378.2L299.50 378.9L299.75 380.0L300.00 403.3L300.25 408.5L300.50 413.8L300.75 452.0L301.00 428.5L301.25 405.0L301.50 416.7L301.75 438.3L302.00 410.9L302.25 387.0L302.50 385.7L302.75 384.8L303.00 384.4L303.25 384.4L303.50 384.9L303.75 385.9L304.00 387.3L304.25 425.6L304.50 432.1L304.75 440.1L305.00 447.4L305.25 442.7L305.50 438.0L305.75 433.3L306.00 430.6L306.25 433.8L306.50 437.0L306.75 440.3L307.00 443.5L307.25 438.8L307.50 428.4L307.75 418.0L308.00 407.6L308.25 403.0L308.50 409.5L308.75 419.2L309.00 428.9L309.25 438.7L309.50 438.7L309.75 384.5L310.00 383.2L310.25 382.3L310.50 381.9L310.75 381.9L311.00 382.4L311.25 383.4L311.50 384.8L311.75 412.1L312.00 405.1L312.25 421.6L312.50 439.2L312.75 439.6L313.00 380.0L313.25 378.9L313.50 378.2L313.75 377.9L314.00 378.2L314.25 378.9L314.50 380.0L314.75 404.7L315.00 409.9L315.25 411.6L315.50 406.5L315.75 407.7L316.00 412.8L316.25 417.9L316.50 446.9L316.75 462.0L317.00 464.3L317.25 452.1L317.50 439.9L317.75 439.9L318.00 443.9L318.25 447.9L318.50 443.8L318.75 426.7L319.00 409.5L319.25 395.8L319.50 408.0L319.75 430.5L320.00 453.0L320.25 467.1L320.50 453.4L320.75 439.7L321.00 429.7L321.25 435.4L321.50 442.3L321.75 449.3L322.00 449.8L322.25 444.1L322.50 438.4L322.75 432.7L323.00 435.8L323.25 438.9L323.50 441.9L323.75 442.9L324.00 434.6L324.25 371.7L324.50 370.5L324.75 369.9L325.00 369.6L325.25 369.9L325.50 370.5L325.75 371.7L326.00 414.1L326.25 407.7L326.50 405.2L326.75 411.7L327.00 451.2L327.25 394.5L327.50 393.2L327.75 392.3L328.00 391.9L328.25 391.9L328.50 392.4L328.75 393.4L329.00 394.8L329.25 429.0L329.50 433.2L329.75 438.2L330.00 443.2L330.25 447.7L330.50 432.3L330.75 417.0L331.00 415.9L331.25 439.3L331.50 462.8L331.75 461.6L332.00 448.5L332.25 435.4L332.50 422.3L332.75 426.8L333.00 439.0L333.25 451.3L333.50 463.5L333.75 464.4L334.00 452.6L334.25 440.8L334.50 429.1L334.75 433.7L335.00 436.2L335.25 374.5L335.50 373.3L335.75 372.6L336.00 372.4L336.25 372.6L336.50 373.3L336.75 374.5L337.00 426.9L337.25 442.4L337.50 452.9L337.75 439.4L338.00 423.5L338.25 407.6L338.50 384.0L338.75 382.6L339.00 381.6L339.25 381.1L339.50 381.0L339.75 381.5L340.00 382.3L340.25 383.7L340.50 412.8L340.75 434.8L341.00 456.9L341.25 448.1L341.50 425.4L341.75 410.2L342.00 391.2L342.25 396.3L342.50 397.3L342.75 398.9L343.00 404.5L343.25 447.9L343.50 439.1L343.75 410.6L344.00 405.5L344.25 400.3L344.50 404.2L344.75 409.3L345.00 416.0L345.25 411.5L345.50 407.1L345.75 407.1L346.00 413.2L346.25 393.4L346.50 392.0L346.75 391.2L347.00 390.8L347.25 390.8L347.50 391.3L347.75 392.3L348.00 393.7L348.25 444.1L348.50 451.7L348.75 438.7L349.00 425.8L349.25 419.6L349.50 380.9L349.75 379.5L350.00 378.5L350.25 378.0L350.50 378.0L350.75 378.4L351.00 379.3L351.25 380.6L351.50 399.9L351.75 405.0L352.00 426.6L352.25 407.7L352.50 411.8L352.75 424.6L353.00 437.3L353.25 445.8L353.50 430.9L353.75 415.9L354.00 406.2L354.25 417.7L354.50 433.4L354.75 449.0L355.00 446.7L355.25 438.2L355.50 429.8L355.75 429.9L356.00 437.2L356.25 444.4L356.50 451.6L356.75 442.6L357.00 432.6L357.25 422.6L357.50 412.6L357.75 410.6L358.00 409.4L358.25 408.7L358.50 408.5L358.75 408.7L359.00 404.1L359.25 396.5L359.50 403.1L359.75 397.8L360.00 409.3L360.25 427.4L360.50 438.4L360.75 378.1L361.00 376.9L361.25 376.2L361.50 376.0L361.75 376.2L362.00 376.9L362.25 378.1L362.50 438.4L362.75 446.7L363.00 455.0L363.25 457.9L363.50 444.7L363.75 431.5L364.00 406.7L364.25 400.9L364.50 395.2L364.75 397.4L365.00 403.2L365.25 442.0L365.50 430.8L365.75 425.0L366.00 431.3L366.25 439.6L366.50 448.0L366.75 454.6L367.00 445.1L367.25 435.6L367.50 426.1L367.75 426.8L368.00 434.3L368.25 441.8L368.50 449.3L368.75 441.2L369.00 426.2L369.25 411.2L369.50 405.4L369.75 420.5L370.00 438.9L370.25 457.2L370.50 456.0L370.75 440.3L371.00 424.7L371.25 409.0L371.50 387.2L371.75 386.1L372.00 385.4L372.25 385.2L372.50 385.4L372.75 386.1L373.00 387.2L373.25 422.2L373.50 428.4L373.75 437.2L374.00 446.0L374.25 443.8L374.50 433.6L374.75 423.3L375.00 420.1L375.25 433.8L375.50 449.8L375.75 465.8L376.00 452.9L376.25 429.0L376.50 407.7L376.75 402.8L377.00 398.2L377.25 403.2L377.50 408.2L377.75 425.4L378.00 409.3L378.25 414.5L378.50 419.3L378.75 418.5L379.00 420.8L379.25 414.4L379.50 412.4L379.75 405.7L380.00 390.4L380.25 395.8L380.50 412.5L380.75 429.1L381.00 445.8L381.25 453.2L381.50 418.8L381.75 411.7L382.00 408.5L382.25 377.3L382.50 375.9L382.75 375.1L383.00 374.7L383.25 374.7L383.50 375.2L383.75 376.2L384.00 377.6L384.25 392.1L384.50 392.7L384.75 393.9L385.00 434.0L385.25 424.4L385.50 417.0L385.75 405.3L386.00 398.0L386.25 405.2L386.50 461.1L386.75 425.0L387.00 416.9L387.25 402.0L387.50 407.7L387.75 436.0L388.00 464.3L388.25 463.3L388.50 454.0L388.75 444.8L389.00 435.6L389.25 438.2L389.50 445.2L389.75 402.8L390.00 401.5L390.25 400.6L390.50 400.2L390.75 400.2L391.00 400.7L391.25 401.7L391.50 403.1L391.75 455.4L392.00 454.2L392.25 447.6L392.50 441.0L392.75 413.9L393.00 409.1L393.25 374.8L393.50 373.6L393.75 372.9L394.00 372.7L394.25 372.9L394.50 373.6L394.75 374.8L395.00 379.3L395.25 378.4L395.50 378.0L395.75 378.0L396.00 378.5L396.25 379.5L396.50 380.9L396.75 444.3L397.00 450.3L397.25 456.3L397.50 447.6L397.75 436.5L398.00 425.4L398.25 419.3L398.50 424.6L398.75 431.4L399.00 438.1L399.25 444.7L399.50 440.5L399.75 436.2L400.00 432.0L400.25 431.9L400.50 438.3L400.75 390.6L401.00 389.3L401.25 388.4L401.50 388.0L401.75 388.0L402.00 388.5L402.25 389.5L402.50 390.9L402.75 417.6L403.00 412.5L403.25 414.0L403.50 419.2L403.75 424.3L404.00 444.1L404.25 388.4L404.50 387.2L404.75 386.5L405.00 386.3L405.25 386.5L405.50 387.2L405.75 371.7L406.00 370.5L406.25 369.9L406.50 369.6L406.75 369.9L407.00 370.5L407.25 371.7L407.50 434.6L407.75 442.9L408.00 427.3L408.25 425.8L408.50 434.8L408.75 443.8L409.00 441.7L409.25 436.0L409.50 430.2L409.75 435.8L410.00 444.0L410.25 452.2L410.50 450.4L410.75 441.1L411.00 431.9L411.25 426.4L411.50 432.9L411.75 374.5L412.00 373.3L412.25 372.6L412.50 372.4L412.75 372.6L413.00 373.3L413.25 374.5L413.50 436.2L413.75 444.5L414.00 452.9L414.25 447.9L414.50 436.5L414.75 430.4L415.00 436.6L415.25 444.8L415.50 399.5L415.75 398.3L416.00 397.6L416.25 397.4L416.50 397.0L416.75 378.6L417.00 377.5L417.25 376.8L417.50 376.6L417.75 376.8L418.00 377.5L418.25 378.6L418.50 438.7L418.75 447.0L419.00 431.3L419.25 409.8L419.50 394.4L419.75 406.0L420.00 424.4L420.25 402.3L420.50 395.1L420.75 402.9L421.00 395.8L421.25 407.6L421.50 429.0L421.75 447.2L422.00 435.3L422.25 423.4L422.50 411.6L422.75 410.5L423.00 373.6L423.25 372.5L423.50 371.8L423.75 371.6L424.00 371.8L424.25 372.5L424.50 373.6L424.75 412.3L425.00 427.8L425.25 443.3L425.50 441.3L425.75 424.5L426.00 411.6L426.25 424.7L426.50 442.1L426.75 448.9L427.00 430.2L427.25 411.5L427.50 394.4L427.75 404.3L428.00 388.6L428.25 387.5L428.50 386.8L428.75 386.6L429.00 386.8L429.25 387.5L429.50 388.6L429.75 444.7L430.00 453.0L430.25 443.9L430.50 423.1L430.75 402.4L431.00 400.4L431.25 398.9L431.50 398.0L431.75 397.5L432.00 397.4L432.25 397.8L432.50 398.7L432.75 400.0L433.00 414.1L433.25 407.7L433.50 410.8L433.75 417.2L434.00 431.4L434.25 382.2L434.50 381.1L434.75 380.4L435.00 380.2L435.25 380.4L435.50 381.1L435.75 382.2L436.00 403.2L436.25 402.9L436.50 403.2L436.75 403.8L437.00 405.0L437.25 437.6L437.50 449.4L437.75 461.1L438.00 452.2L438.25 438.3L438.50 424.5L438.75 410.6L439.00 406.7L439.25 413.5L439.50 422.2L439.75 431.0L440.00 439.8L440.25 443.9L440.50 402.2L440.75 396.2L441.00 398.5L441.25 404.5L441.50 440.2L441.75 441.4L442.00 379.0L442.25 377.6L442.50 376.6L442.75 376.1L443.00 376.0L443.25 376.5L443.50 377.3L443.75 378.7L444.00 439.7L444.25 440.6L444.50 400.7L444.75 393.3L445.00 400.6L445.25 410.0L445.50 399.5L445.75 398.3L446.00 397.6L446.25 397.4L446.50 397.6L446.75 398.3L447.00 399.5L447.25 435.8L447.50 447.3L447.75 458.8L448.00 458.5L448.25 450.9L448.50 408.7L448.75 407.3L449.00 406.3L449.25 405.8L449.50 405.7L449.75 406.2L450.00 407.0L450.25 408.4L450.50 429.4L450.75 418.4L451.00 421.0L451.25 415.8L451.50 413.8L451.75 418.9L452.00 398.4L452.25 397.0L452.50 396.0L452.75 395.5L453.00 395.5L453.25 395.9L453.38 527.80Z" fill="#000"/>
<rect x="38.4" y="315.4" width="430.6" height="220.4" stroke="#000" stroke-width="1" fill="none"/>
<line x1="54.5" y1="535.8" x2="442.3" y2="535.8" stroke="#000" stroke-width="1"/>
<line x1="54.5" y1="535.8" x2="54.5" y2="541.8" stroke="#000" stroke-width="1"/>
<line x1="109.9" y1="535.8" x2="109.9" y2="541.8" stroke="#000" stroke-width="1"/>
<line x1="165.3" y1="535.8" x2="165.3" y2="541.8" stroke="#000" stroke-width="1"/>
<line x1="220.7" y1="535.8" x2="220.7" y2="541.8" stroke="#000" stroke-width="1"/>
<line x1="276.1" y1="535.8" x2="276.1" y2="541.8" stroke="#000" stroke-width="1"/>
<line x1="331.5" y1="535.8" x2="331.5" y2="541.8" stroke="#000" stroke-width="1"/>
<line x1="386.9" y1="535.8" x2="386.9" y2="541.8" stroke="#000" stroke-width="1"/>
<line x1="442.3" y1="535.8" x2="442.3" y2="541.8" stroke="#000" stroke-width="1"/>
<text x="54.5" y="556.1" font-size="9.3" text-anchor="middle" font-weight="normal" fill="#000">0</text>
<text x="109.9" y="556.1" font-size="9.3" text-anchor="middle" font-weight="normal" fill="#000">5</text>
<text x="165.3" y="556.1" font-size="9.3" text-anchor="middle" font-weight="normal" fill="#000">10</text>
<text x="220.7" y="556.1" font-size="9.3" text-anchor="middle" font-weight="normal" fill="#000">15</text>
<text x="276.1" y="556.1" font-size="9.3" text-anchor="middle" font-weight="normal" fill="#000">20</text>
<text x="331.5" y="556.1" font-size="9.3" text-anchor="middle" font-weight="normal" fill="#000">25</text>
<text x="386.9" y="556.1" font-size="9.3" text-anchor="middle" font-weight="normal" fill="#000">30</text>
<text x="442.3" y="556.1" font-size="9.3" text-anchor="middle" font-weight="normal" fill="#000">35</text>
<text x="253.7" y="566.8" font-size="9.3" text-anchor="middle" font-weight="normal" fill="#000">Frequency [1/day]</text>
<line x1="38.4" y1="527.8" x2="38.4" y2="361.3" stroke="#000" stroke-width="1"/>
<line x1="32.4" y1="527.8" x2="38.4" y2="527.8" stroke="#000" stroke-width="1"/>
<line x1="32.4" y1="472.3" x2="38.4" y2="472.3" stroke="#000" stroke-width="1"/>
<line x1="32.4" y1="416.8" x2="38.4" y2="416.8" stroke="#000" stroke-width="1"/>
<line x1="32.4" y1="361.3" x2="38.4" y2="361.3" stroke="#000" stroke-width="1"/>
<text x="25.4" y="527.8" font-size="9.3" text-anchor="middle" font-weight="normal" fill="#000" transform="rotate(-90 25.4 527.8)">0.0</text>
<text x="25.4" y="472.3" font-size="9.3" text-anchor="middle" font-weight="normal" fill="#000" transform="rotate(-90 25.4 472.3)">0.2</text>
<text x="25.4" y="416.8" font-size="9.3" text-anchor="middle" font-weight="normal" fill="#000" transform="rotate(-90 25.4 416.8)">0.4</text>
<text x="25.4" y="361.3" font-size="9.3" text-anchor="middle" font-weight="normal" fill="#000" transform="rotate(-90 25.4 361.3)">0.6</text>
<text transform="translate(14.399999999999999 427.59999999999997) rotate(-90)" font-size="10.5" text-anchor="middle">&#967;<tspan font-size="6.5" dy="-4.5">2</tspan></text>
<text x="252.5" y="302" font-size="8.75" text-anchor="middle" font-weight="bold" fill="#000">Residual periodogram</text>
<text x="254.9" y="312.8" font-size="8.75" text-anchor="middle" font-weight="bold" fill="#000">Residual frequency = 3.7185/day</text>
<clipPath id="c3"><rect x="502.2" y="33.3" width="326.8" height="134.0"/></clipPath>
<g clip-path="url(#c3)">
<line x1="514.40" y1="37.70" x2="514.40" y2="48.50" stroke="#35aefc" stroke-width="1.1" stroke-opacity="0.55"/>
<line x1="715.80" y1="37.70" x2="715.80" y2="48.50" stroke="#35aefc" stroke-width="1.1" stroke-opacity="0.55"/>
<line x1="518.40" y1="46.80" x2="518.40" y2="57.60" stroke="#8a1a72" stroke-width="1.1" stroke-opacity="0.55"/>
<line x1="719.80" y1="46.80" x2="719.80" y2="57.60" stroke="#8a1a72" stroke-width="1.1" stroke-opacity="0.55"/>
<line x1="531.00" y1="40.00" x2="531.00" y2="50.80" stroke="#8a1a72" stroke-width="1.1" stroke-opacity="0.55"/>
<line x1="732.40" y1="40.00" x2="732.40" y2="50.80" stroke="#8a1a72" stroke-width="1.1" stroke-opacity="0.55"/>
<line x1="535.90" y1="38.60" x2="535.90" y2="49.40" stroke="#35aefc" stroke-width="1.1" stroke-opacity="0.55"/>
<line x1="737.30" y1="38.60" x2="737.30" y2="49.40" stroke="#35aefc" stroke-width="1.1" stroke-opacity="0.55"/>
<line x1="526.40" y1="64.00" x2="526.40" y2="74.80" stroke="#dc1c2e" stroke-width="1.1" stroke-opacity="0.55"/>
<line x1="727.80" y1="64.00" x2="727.80" y2="74.80" stroke="#dc1c2e" stroke-width="1.1" stroke-opacity="0.55"/>
<line x1="536.80" y1="62.20" x2="536.80" y2="73.00" stroke="#8a1a72" stroke-width="1.1" stroke-opacity="0.55"/>
<line x1="738.20" y1="62.20" x2="738.20" y2="73.00" stroke="#8a1a72" stroke-width="1.1" stroke-opacity="0.55"/>
<line x1="537.60" y1="63.10" x2="537.60" y2="73.90" stroke="#8a1a72" stroke-width="1.1" stroke-opacity="0.55"/>
<line x1="739.00" y1="63.10" x2="739.00" y2="73.90" stroke="#8a1a72" stroke-width="1.1" stroke-opacity="0.55"/>
<line x1="551.30" y1="86.40" x2="551.30" y2="97.20" stroke="#8a1a72" stroke-width="1.1" stroke-opacity="0.55"/>
<line x1="752.70" y1="86.40" x2="752.70" y2="97.20" stroke="#8a1a72" stroke-width="1.1" stroke-opacity="0.55"/>
<line x1="564.80" y1="81.50" x2="564.80" y2="92.30" stroke="#dc1c2e" stroke-width="1.1" stroke-opacity="0.55"/>
<line x1="766.20" y1="81.50" x2="766.20" y2="92.30" stroke="#dc1c2e" stroke-width="1.1" stroke-opacity="0.55"/>
<line x1="566.20" y1="93.80" x2="566.20" y2="104.60" stroke="#dc1c2e" stroke-width="1.1" stroke-opacity="0.55"/>
<line x1="767.60" y1="93.80" x2="767.60" y2="104.60" stroke="#dc1c2e" stroke-width="1.1" stroke-opacity="0.55"/>
<line x1="572.10" y1="97.80" x2="572.10" y2="108.60" stroke="#dc1c2e" stroke-width="1.1" stroke-opacity="0.55"/>
<line x1="773.50" y1="97.80" x2="773.50" y2="108.60" stroke="#dc1c2e" stroke-width="1.1" stroke-opacity="0.55"/>
<line x1="580.20" y1="104.80" x2="580.20" y2="115.60" stroke="#fca71c" stroke-width="1.1" stroke-opacity="0.55"/>
<line x1="781.60" y1="104.80" x2="781.60" y2="115.60" stroke="#fca71c" stroke-width="1.1" stroke-opacity="0.55"/>
<line x1="573.90" y1="114.40" x2="573.90" y2="125.20" stroke="#dc1c2e" stroke-width="1.1" stroke-opacity="0.55"/>
<line x1="775.30" y1="114.40" x2="775.30" y2="125.20" stroke="#dc1c2e" stroke-width="1.1" stroke-opacity="0.55"/>
<line x1="595.90" y1="114.80" x2="595.90" y2="125.60" stroke="#fca71c" stroke-width="1.1" stroke-opacity="0.55"/>
<line x1="797.30" y1="114.80" x2="797.30" y2="125.60" stroke="#fca71c" stroke-width="1.1" stroke-opacity="0.55"/>
<line x1="596.10" y1="134.00" x2="596.10" y2="144.80" stroke="#8a1a72" stroke-width="1.1" stroke-opacity="0.55"/>
<line x1="797.50" y1="134.00" x2="797.50" y2="144.80" stroke="#8a1a72" stroke-width="1.1" stroke-opacity="0.55"/>
<line x1="598.90" y1="127.00" x2="598.90" y2="137.80" stroke="#8a1a72" stroke-width="1.1" stroke-opacity="0.55"/>
<line x1="800.30" y1="127.00" x2="800.30" y2="137.80" stroke="#8a1a72" stroke-width="1.1" stroke-opacity="0.55"/>
<line x1="599.40" y1="129.30" x2="599.40" y2="140.10" stroke="#dc1c2e" stroke-width="1.1" stroke-opacity="0.55"/>
<line x1="800.80" y1="129.30" x2="800.80" y2="140.10" stroke="#dc1c2e" stroke-width="1.1" stroke-opacity="0.55"/>
<line x1="616.80" y1="139.60" x2="616.80" y2="150.40" stroke="#dc1c2e" stroke-width="1.1" stroke-opacity="0.55"/>
<line x1="818.20" y1="139.60" x2="818.20" y2="150.40" stroke="#dc1c2e" stroke-width="1.1" stroke-opacity="0.55"/>
<line x1="624.30" y1="152.10" x2="624.30" y2="162.90" stroke="#dc1c2e" stroke-width="1.1" stroke-opacity="0.55"/>
<line x1="825.70" y1="152.10" x2="825.70" y2="162.90" stroke="#dc1c2e" stroke-width="1.1" stroke-opacity="0.55"/>
<line x1="649.70" y1="109.20" x2="649.70" y2="120.00" stroke="#8a1a72" stroke-width="1.1" stroke-opacity="0.55"/>
<line x1="851.10" y1="109.20" x2="851.10" y2="120.00" stroke="#8a1a72" stroke-width="1.1" stroke-opacity="0.55"/>
<line x1="685.70" y1="59.10" x2="685.70" y2="69.90" stroke="#dc1c2e" stroke-width="1.1" stroke-opacity="0.55"/>
<line x1="887.10" y1="59.10" x2="887.10" y2="69.90" stroke="#dc1c2e" stroke-width="1.1" stroke-opacity="0.55"/>
<line x1="691.70" y1="39.00" x2="691.70" y2="49.80" stroke="#8a1a72" stroke-width="1.1" stroke-opacity="0.55"/>
<line x1="893.10" y1="39.00" x2="893.10" y2="49.80" stroke="#8a1a72" stroke-width="1.1" stroke-opacity="0.55"/>
<line x1="684.90" y1="100.20" x2="684.90" y2="111.00" stroke="#35aefc" stroke-width="1.1" stroke-opacity="0.55"/>
<line x1="886.30" y1="100.20" x2="886.30" y2="111.00" stroke="#35aefc" stroke-width="1.1" stroke-opacity="0.55"/>
<circle cx="514.40" cy="43.10" r="1.6" fill="#35aefc"/>
<circle cx="715.80" cy="43.10" r="1.6" fill="#35aefc"/>
<circle cx="518.40" cy="52.20" r="1.6" fill="#8a1a72"/>
<circle cx="719.80" cy="52.20" r="1.6" fill="#8a1a72"/>
<circle cx="531.00" cy="45.40" r="1.6" fill="#8a1a72"/>
<circle cx="732.40" cy="45.40" r="1.6" fill="#8a1a72"/>
<circle cx="535.90" cy="44.00" r="1.6" fill="#35aefc"/>
<circle cx="737.30" cy="44.00" r="1.6" fill="#35aefc"/>
<circle cx="526.40" cy="69.40" r="1.6" fill="#dc1c2e"/>
<circle cx="727.80" cy="69.40" r="1.6" fill="#dc1c2e"/>
<circle cx="536.80" cy="67.60" r="1.6" fill="#8a1a72"/>
<circle cx="738.20" cy="67.60" r="1.6" fill="#8a1a72"/>
<circle cx="537.60" cy="68.50" r="1.6" fill="#8a1a72"/>
<circle cx="739.00" cy="68.50" r="1.6" fill="#8a1a72"/>
<circle cx="551.30" cy="91.80" r="1.6" fill="#8a1a72"/>
<circle cx="752.70" cy="91.80" r="1.6" fill="#8a1a72"/>
<circle cx="564.80" cy="86.90" r="1.6" fill="#dc1c2e"/>
<circle cx="766.20" cy="86.90" r="1.6" fill="#dc1c2e"/>
<circle cx="566.20" cy="99.20" r="1.6" fill="#dc1c2e"/>
<circle cx="767.60" cy="99.20" r="1.6" fill="#dc1c2e"/>
<circle cx="572.10" cy="103.20" r="1.6" fill="#dc1c2e"/>
<circle cx="773.50" cy="103.20" r="1.6" fill="#dc1c2e"/>
<circle cx="580.20" cy="110.20" r="1.6" fill="#fca71c"/>
<circle cx="781.60" cy="110.20" r="1.6" fill="#fca71c"/>
<circle cx="573.90" cy="119.80" r="1.6" fill="#dc1c2e"/>
<circle cx="775.30" cy="119.80" r="1.6" fill="#dc1c2e"/>
<circle cx="595.90" cy="120.20" r="1.6" fill="#fca71c"/>
<circle cx="797.30" cy="120.20" r="1.6" fill="#fca71c"/>
<circle cx="596.10" cy="139.40" r="1.6" fill="#8a1a72"/>
<circle cx="797.50" cy="139.40" r="1.6" fill="#8a1a72"/>
<circle cx="598.90" cy="132.40" r="1.6" fill="#8a1a72"/>
<circle cx="800.30" cy="132.40" r="1.6" fill="#8a1a72"/>
<circle cx="599.40" cy="134.70" r="1.6" fill="#dc1c2e"/>
<circle cx="800.80" cy="134.70" r="1.6" fill="#dc1c2e"/>
<circle cx="616.80" cy="145.00" r="1.6" fill="#dc1c2e"/>
<circle cx="818.20" cy="145.00" r="1.6" fill="#dc1c2e"/>
<circle cx="624.30" cy="157.50" r="1.6" fill="#dc1c2e"/>
<circle cx="825.70" cy="157.50" r="1.6" fill="#dc1c2e"/>
<circle cx="649.70" cy="114.60" r="1.6" fill="#8a1a72"/>
<circle cx="851.10" cy="114.60" r="1.6" fill="#8a1a72"/>
<circle cx="685.70" cy="64.50" r="1.6" fill="#dc1c2e"/>
<circle cx="887.10" cy="64.50" r="1.6" fill="#dc1c2e"/>
<circle cx="691.70" cy="44.40" r="1.6" fill="#8a1a72"/>
<circle cx="893.10" cy="44.40" r="1.6" fill="#8a1a72"/>
<circle cx="684.90" cy="105.60" r="1.6" fill="#35aefc"/>
<circle cx="886.30" cy="105.60" r="1.6" fill="#35aefc"/>
<polyline points="502.2,53.53 503.2,53.13 504.2,52.77 505.2,52.45 506.2,52.19 507.2,51.97 508.2,51.79 509.2,51.66 510.2,51.58 511.2,51.55 512.2,51.56 513.2,51.61 514.2,51.71 515.2,51.85 516.2,52.03 517.2,52.26 518.2,52.53 519.2,52.84 520.2,53.19 521.2,53.58 522.2,54.01 523.2,54.48 524.2,54.98 525.2,55.53 526.2,56.10 527.2,56.71 528.2,57.36 529.2,58.04 530.2,58.75 531.2,59.49 532.2,60.26 533.2,61.06 534.2,61.89 535.2,62.75 536.2,63.63 537.2,64.54 538.2,65.47 539.2,66.43 540.2,67.41 541.2,68.41 542.2,69.43 543.2,70.47 544.2,71.53 545.2,72.60 546.2,73.70 547.2,74.81 548.2,75.93 549.2,77.07 550.2,78.23 551.2,79.39 552.2,80.57 553.2,81.76 554.2,82.96 555.2,84.16 556.2,85.38 557.2,86.61 558.2,87.84 559.2,89.07 560.2,90.32 561.2,91.56 562.2,92.81 563.2,94.07 564.2,95.32 565.2,96.58 566.2,97.84 567.2,99.09 568.2,100.35 569.2,101.60 570.2,102.86 571.2,104.10 572.2,105.35 573.2,106.59 574.2,107.82 575.2,109.05 576.2,110.26 577.2,111.47 578.2,112.67 579.2,113.86 580.2,115.04 581.2,116.21 582.2,117.37 583.2,118.51 584.2,119.63 585.2,120.74 586.2,121.84 587.2,122.91 588.2,123.97 589.2,125.01 590.2,126.02 591.2,127.02 592.2,127.99 593.2,128.94 594.2,129.87 595.2,130.77 596.2,131.64 597.2,132.48 598.2,133.30 599.2,134.09 600.2,134.84 601.2,135.57 602.2,136.26 603.2,136.92 604.2,137.54 605.2,138.13 606.2,138.68 607.2,139.20 608.2,139.67 609.2,140.11 610.2,140.51 611.2,140.86 612.2,141.18 613.2,141.45 614.2,141.68 615.2,141.87 616.2,142.01 617.2,142.11 618.2,142.16 619.2,142.17 620.2,142.13 621.2,142.04 622.2,141.91 623.2,141.73 624.2,141.50 625.2,141.23 626.2,140.91 627.2,140.54 628.2,140.12 629.2,139.65 630.2,139.14 631.2,138.58 632.2,137.98 633.2,137.32 634.2,136.63 635.2,135.88 636.2,135.09 637.2,134.26 638.2,133.38 639.2,132.47 640.2,131.51 641.2,130.51 642.2,129.46 643.2,128.38 644.2,127.27 645.2,126.11 646.2,124.93 647.2,123.70 648.2,122.45 649.2,121.16 650.2,119.85 651.2,118.50 652.2,117.13 653.2,115.74 654.2,114.32 655.2,112.88 656.2,111.42 657.2,109.94 658.2,108.45 659.2,106.94 660.2,105.42 661.2,103.89 662.2,102.35 663.2,100.80 664.2,99.25 665.2,97.70 666.2,96.14 667.2,94.59 668.2,93.04 669.2,91.49 670.2,89.96 671.2,88.43 672.2,86.91 673.2,85.40 674.2,83.91 675.2,82.43 676.2,80.97 677.2,79.54 678.2,78.12 679.2,76.73 680.2,75.36 681.2,74.02 682.2,72.70 683.2,71.42 684.2,70.16 685.2,68.94 686.2,67.76 687.2,66.60 688.2,65.49 689.2,64.41 690.2,63.37 691.2,62.37 692.2,61.41 693.2,60.49 694.2,59.61 695.2,58.77 696.2,57.98 697.2,57.24 698.2,56.53 699.2,55.88 700.2,55.27 701.2,54.70 702.2,54.18 703.2,53.71 704.2,53.28 705.2,52.91 706.2,52.57 707.2,52.29 708.2,52.05 709.2,51.86 710.2,51.71 711.2,51.61 712.2,51.56 713.2,51.55 714.2,51.58 715.2,51.66 716.2,51.79 717.2,51.95 718.2,52.17 719.2,52.42 720.2,52.71 721.2,53.05 722.2,53.42 723.2,53.84 724.2,54.29 725.2,54.78 726.2,55.30 727.2,55.87 728.2,56.47 729.2,57.10 730.2,57.76 731.2,58.46 732.2,59.19 733.2,59.95 734.2,60.74 735.2,61.56 736.2,62.40 737.2,63.28 738.2,64.17 739.2,65.10 740.2,66.04 741.2,67.01 742.2,68.00 743.2,69.02 744.2,70.05 745.2,71.10 746.2,72.17 747.2,73.26 748.2,74.36 749.2,75.48 750.2,76.61 751.2,77.76 752.2,78.92 753.2,80.10 754.2,81.28 755.2,82.48 756.2,83.68 757.2,84.89 758.2,86.12 759.2,87.34 760.2,88.58 761.2,89.82 762.2,91.06 763.2,92.31 764.2,93.57 765.2,94.82 766.2,96.08 767.2,97.33 768.2,98.59 769.2,99.85 770.2,101.10 771.2,102.36 772.2,103.61 773.2,104.85 774.2,106.09 775.2,107.33 776.2,108.56 777.2,109.78 778.2,110.99 779.2,112.20 780.2,113.39 781.2,114.57 782.2,115.75 783.2,116.91 784.2,118.05 785.2,119.18 786.2,120.30 787.2,121.40 788.2,122.48 789.2,123.55 790.2,124.59 791.2,125.62 792.2,126.62 793.2,127.61 794.2,128.56 795.2,129.50 796.2,130.41 797.2,131.29 798.2,132.15 799.2,132.98 800.2,133.78 801.2,134.54 802.2,135.28 803.2,135.99 804.2,136.66 805.2,137.30 806.2,137.90 807.2,138.47 808.2,139.00 809.2,139.49 810.2,139.94 811.2,140.35 812.2,140.73 813.2,141.06 814.2,141.35 815.2,141.60 816.2,141.80 817.2,141.96 818.2,142.08 819.2,142.15 820.2,142.17 821.2,142.15 822.2,142.08 823.2,141.97 824.2,141.81 825.2,141.60 826.2,141.34 827.2,141.04 828.2,140.69" fill="none" stroke="#000" stroke-width="1.05"/>
</g>
<rect x="502.2" y="33.3" width="326.8" height="134" stroke="#000" stroke-width="1" fill="none"/>
<line x1="514.6" y1="167.3" x2="816.7" y2="167.3" stroke="#000" stroke-width="1"/>
<line x1="514.6" y1="167.3" x2="514.6" y2="173.3" stroke="#000" stroke-width="1"/>
<line x1="615.3" y1="167.3" x2="615.3" y2="173.3" stroke="#000" stroke-width="1"/>
<line x1="716" y1="167.3" x2="716" y2="173.3" stroke="#000" stroke-width="1"/>
<line x1="816.7" y1="167.3" x2="816.7" y2="173.3" stroke="#000" stroke-width="1"/>
<text x="514.6" y="187.6" font-size="9.3" text-anchor="middle" font-weight="normal" fill="#000">0.0</text>
<text x="615.3" y="187.6" font-size="9.3" text-anchor="middle" font-weight="normal" fill="#000">0.5</text>
<text x="716" y="187.6" font-size="9.3" text-anchor="middle" font-weight="normal" fill="#000">1.0</text>
<text x="816.7" y="187.6" font-size="9.3" text-anchor="middle" font-weight="normal" fill="#000">1.5</text>
<text x="665.6" y="198.3" font-size="9.3" text-anchor="middle" font-weight="normal" fill="#000">Phase</text>
<line x1="502.2" y1="143.7" x2="502.2" y2="42.9" stroke="#000" stroke-width="1"/>
<line x1="496.2" y1="143.7" x2="502.2" y2="143.7" stroke="#000" stroke-width="1"/>
<line x1="496.2" y1="118.5" x2="502.2" y2="118.5" stroke="#000" stroke-width="1"/>
<line x1="496.2" y1="93.3" x2="502.2" y2="93.3" stroke="#000" stroke-width="1"/>
<line x1="496.2" y1="68.1" x2="502.2" y2="68.1" stroke="#000" stroke-width="1"/>
<line x1="496.2" y1="42.9" x2="502.2" y2="42.9" stroke="#000" stroke-width="1"/>
<text x="489.2" y="143.7" font-size="9.3" text-anchor="middle" font-weight="normal" fill="#000" transform="rotate(-90 489.2 143.7)">-20</text>
<text x="489.2" y="118.5" font-size="9.3" text-anchor="middle" font-weight="normal" fill="#000" transform="rotate(-90 489.2 118.5)">-10</text>
<text x="489.2" y="93.3" font-size="9.3" text-anchor="middle" font-weight="normal" fill="#000" transform="rotate(-90 489.2 93.3)">0</text>
<text x="489.2" y="68.1" font-size="9.3" text-anchor="middle" font-weight="normal" fill="#000" transform="rotate(-90 489.2 68.1)">10</text>
<text x="489.2" y="42.9" font-size="9.3" text-anchor="middle" font-weight="normal" fill="#000" transform="rotate(-90 489.2 42.9)">20</text>
<text x="666.6" y="26" font-size="9.25" text-anchor="middle" font-weight="bold" fill="#000">PC1 folded light curve (PC1 frequency)</text>
<clipPath id="c4"><rect x="502.2" y="223.2" width="326.8" height="128.60000000000002"/></clipPath>
<g clip-path="url(#c4)">
<line x1="514.40" y1="235.30" x2="514.40" y2="247.30" stroke="#fca71c" stroke-width="1.1" stroke-opacity="0.55"/>
<line x1="715.80" y1="235.30" x2="715.80" y2="247.30" stroke="#fca71c" stroke-width="1.1" stroke-opacity="0.55"/>
<line x1="514.40" y1="236.50" x2="514.40" y2="248.50" stroke="#35aefc" stroke-width="1.1" stroke-opacity="0.55"/>
<line x1="715.80" y1="236.50" x2="715.80" y2="248.50" stroke="#35aefc" stroke-width="1.1" stroke-opacity="0.55"/>
<line x1="518.40" y1="239.70" x2="518.40" y2="252.70" stroke="#8a1a72" stroke-width="1.1" stroke-opacity="0.55"/>
<line x1="719.80" y1="239.70" x2="719.80" y2="252.70" stroke="#8a1a72" stroke-width="1.1" stroke-opacity="0.55"/>
<line x1="531.00" y1="239.00" x2="531.00" y2="247.00" stroke="#8a1a72" stroke-width="1.1" stroke-opacity="0.55"/>
<line x1="732.40" y1="239.00" x2="732.40" y2="247.00" stroke="#8a1a72" stroke-width="1.1" stroke-opacity="0.55"/>
<line x1="535.90" y1="227.70" x2="535.90" y2="257.70" stroke="#35aefc" stroke-width="1.1" stroke-opacity="0.55"/>
<line x1="737.30" y1="227.70" x2="737.30" y2="257.70" stroke="#35aefc" stroke-width="1.1" stroke-opacity="0.55"/>
<line x1="526.40" y1="257.90" x2="526.40" y2="263.10" stroke="#dc1c2e" stroke-width="1.1" stroke-opacity="0.55"/>
<line x1="727.80" y1="257.90" x2="727.80" y2="263.10" stroke="#dc1c2e" stroke-width="1.1" stroke-opacity="0.55"/>
<line x1="536.80" y1="257.40" x2="536.80" y2="264.40" stroke="#8a1a72" stroke-width="1.1" stroke-opacity="0.55"/>
<line x1="738.20" y1="257.40" x2="738.20" y2="264.40" stroke="#8a1a72" stroke-width="1.1" stroke-opacity="0.55"/>
<line x1="537.60" y1="259.10" x2="537.60" y2="266.10" stroke="#8a1a72" stroke-width="1.1" stroke-opacity="0.55"/>
<line x1="739.00" y1="259.10" x2="739.00" y2="266.10" stroke="#8a1a72" stroke-width="1.1" stroke-opacity="0.55"/>
<line x1="551.30" y1="278.20" x2="551.30" y2="290.80" stroke="#8a1a72" stroke-width="1.1" stroke-opacity="0.55"/>
<line x1="752.70" y1="278.20" x2="752.70" y2="290.80" stroke="#8a1a72" stroke-width="1.1" stroke-opacity="0.55"/>
<line x1="564.80" y1="269.20" x2="564.80" y2="275.20" stroke="#dc1c2e" stroke-width="1.1" stroke-opacity="0.55"/>
<line x1="766.20" y1="269.20" x2="766.20" y2="275.20" stroke="#dc1c2e" stroke-width="1.1" stroke-opacity="0.55"/>
<line x1="566.20" y1="283.30" x2="566.20" y2="288.50" stroke="#dc1c2e" stroke-width="1.1" stroke-opacity="0.55"/>
<line x1="767.60" y1="283.30" x2="767.60" y2="288.50" stroke="#dc1c2e" stroke-width="1.1" stroke-opacity="0.55"/>
<line x1="572.10" y1="286.80" x2="572.10" y2="293.80" stroke="#dc1c2e" stroke-width="1.1" stroke-opacity="0.55"/>
<line x1="773.50" y1="286.80" x2="773.50" y2="293.80" stroke="#dc1c2e" stroke-width="1.1" stroke-opacity="0.55"/>
<line x1="580.20" y1="294.70" x2="580.20" y2="301.70" stroke="#fca71c" stroke-width="1.1" stroke-opacity="0.55"/>
<line x1="781.60" y1="294.70" x2="781.60" y2="301.70" stroke="#fca71c" stroke-width="1.1" stroke-opacity="0.55"/>
<line x1="573.90" y1="301.60" x2="573.90" y2="310.40" stroke="#dc1c2e" stroke-width="1.1" stroke-opacity="0.55"/>
<line x1="775.30" y1="301.60" x2="775.30" y2="310.40" stroke="#dc1c2e" stroke-width="1.1" stroke-opacity="0.55"/>
<line x1="589.80" y1="288.20" x2="589.80" y2="302.20" stroke="#8a1a72" stroke-width="1.1" stroke-opacity="0.55"/>
<line x1="791.20" y1="288.20" x2="791.20" y2="302.20" stroke="#8a1a72" stroke-width="1.1" stroke-opacity="0.55"/>
<line x1="595.90" y1="303.00" x2="595.90" y2="309.00" stroke="#fca71c" stroke-width="1.1" stroke-opacity="0.55"/>
<line x1="797.30" y1="303.00" x2="797.30" y2="309.00" stroke="#fca71c" stroke-width="1.1" stroke-opacity="0.55"/>
<line x1="596.10" y1="320.00" x2="596.10" y2="328.80" stroke="#8a1a72" stroke-width="1.1" stroke-opacity="0.55"/>
<line x1="797.50" y1="320.00" x2="797.50" y2="328.80" stroke="#8a1a72" stroke-width="1.1" stroke-opacity="0.55"/>
<line x1="598.40" y1="310.60" x2="598.40" y2="329.40" stroke="#8a1a72" stroke-width="1.1" stroke-opacity="0.55"/>
<line x1="799.80" y1="310.60" x2="799.80" y2="329.40" stroke="#8a1a72" stroke-width="1.1" stroke-opacity="0.55"/>
<line x1="599.40" y1="318.40" x2="599.40" y2="324.40" stroke="#dc1c2e" stroke-width="1.1" stroke-opacity="0.55"/>
<line x1="800.80" y1="318.40" x2="800.80" y2="324.40" stroke="#dc1c2e" stroke-width="1.1" stroke-opacity="0.55"/>
<line x1="626.00" y1="310.00" x2="626.00" y2="326.60" stroke="#35aefc" stroke-width="1.1" stroke-opacity="0.55"/>
<line x1="827.40" y1="310.00" x2="827.40" y2="326.60" stroke="#35aefc" stroke-width="1.1" stroke-opacity="0.55"/>
<line x1="616.80" y1="326.50" x2="616.80" y2="335.30" stroke="#dc1c2e" stroke-width="1.1" stroke-opacity="0.55"/>
<line x1="818.20" y1="326.50" x2="818.20" y2="335.30" stroke="#dc1c2e" stroke-width="1.1" stroke-opacity="0.55"/>
<line x1="624.30" y1="341.90" x2="624.30" y2="347.10" stroke="#dc1c2e" stroke-width="1.1" stroke-opacity="0.55"/>
<line x1="825.70" y1="341.90" x2="825.70" y2="347.10" stroke="#dc1c2e" stroke-width="1.1" stroke-opacity="0.55"/>
<line x1="649.70" y1="291.30" x2="649.70" y2="311.30" stroke="#8a1a72" stroke-width="1.1" stroke-opacity="0.55"/>
<line x1="851.10" y1="291.30" x2="851.10" y2="311.30" stroke="#8a1a72" stroke-width="1.1" stroke-opacity="0.55"/>
<line x1="685.80" y1="251.60" x2="685.80" y2="257.60" stroke="#dc1c2e" stroke-width="1.1" stroke-opacity="0.55"/>
<line x1="887.20" y1="251.60" x2="887.20" y2="257.60" stroke="#dc1c2e" stroke-width="1.1" stroke-opacity="0.55"/>
<line x1="691.40" y1="231.70" x2="691.40" y2="236.70" stroke="#8a1a72" stroke-width="1.1" stroke-opacity="0.55"/>
<line x1="892.80" y1="231.70" x2="892.80" y2="236.70" stroke="#8a1a72" stroke-width="1.1" stroke-opacity="0.55"/>
<line x1="684.90" y1="291.70" x2="684.90" y2="300.70" stroke="#35aefc" stroke-width="1.1" stroke-opacity="0.55"/>
<line x1="886.30" y1="291.70" x2="886.30" y2="300.70" stroke="#35aefc" stroke-width="1.1" stroke-opacity="0.55"/>
<line x1="694.50" y1="267.80" x2="694.50" y2="272.80" stroke="#35aefc" stroke-width="1.1" stroke-opacity="0.55"/>
<line x1="895.90" y1="267.80" x2="895.90" y2="272.80" stroke="#35aefc" stroke-width="1.1" stroke-opacity="0.55"/>
<circle cx="514.40" cy="241.30" r="1.6" fill="#fca71c"/>
<circle cx="715.80" cy="241.30" r="1.6" fill="#fca71c"/>
<circle cx="514.40" cy="242.50" r="1.6" fill="#35aefc"/>
<circle cx="715.80" cy="242.50" r="1.6" fill="#35aefc"/>
<circle cx="518.40" cy="246.20" r="1.6" fill="#8a1a72"/>
<circle cx="719.80" cy="246.20" r="1.6" fill="#8a1a72"/>
<circle cx="531.00" cy="243.00" r="1.6" fill="#8a1a72"/>
<circle cx="732.40" cy="243.00" r="1.6" fill="#8a1a72"/>
<circle cx="535.90" cy="242.70" r="1.6" fill="#35aefc"/>
<circle cx="737.30" cy="242.70" r="1.6" fill="#35aefc"/>
<circle cx="526.40" cy="260.50" r="1.6" fill="#dc1c2e"/>
<circle cx="727.80" cy="260.50" r="1.6" fill="#dc1c2e"/>
<circle cx="536.80" cy="260.90" r="1.6" fill="#8a1a72"/>
<circle cx="738.20" cy="260.90" r="1.6" fill="#8a1a72"/>
<circle cx="537.60" cy="262.60" r="1.6" fill="#8a1a72"/>
<circle cx="739.00" cy="262.60" r="1.6" fill="#8a1a72"/>
<circle cx="551.30" cy="284.50" r="1.6" fill="#8a1a72"/>
<circle cx="752.70" cy="284.50" r="1.6" fill="#8a1a72"/>
<circle cx="564.80" cy="272.20" r="1.6" fill="#dc1c2e"/>
<circle cx="766.20" cy="272.20" r="1.6" fill="#dc1c2e"/>
<circle cx="566.20" cy="285.90" r="1.6" fill="#dc1c2e"/>
<circle cx="767.60" cy="285.90" r="1.6" fill="#dc1c2e"/>
<circle cx="572.10" cy="290.30" r="1.6" fill="#dc1c2e"/>
<circle cx="773.50" cy="290.30" r="1.6" fill="#dc1c2e"/>
<circle cx="580.20" cy="298.20" r="1.6" fill="#fca71c"/>
<circle cx="781.60" cy="298.20" r="1.6" fill="#fca71c"/>
<circle cx="573.90" cy="306.00" r="1.6" fill="#dc1c2e"/>
<circle cx="775.30" cy="306.00" r="1.6" fill="#dc1c2e"/>
<circle cx="589.80" cy="295.20" r="1.6" fill="#8a1a72"/>
<circle cx="791.20" cy="295.20" r="1.6" fill="#8a1a72"/>
<circle cx="595.90" cy="306.00" r="1.6" fill="#fca71c"/>
<circle cx="797.30" cy="306.00" r="1.6" fill="#fca71c"/>
<circle cx="596.10" cy="324.40" r="1.6" fill="#8a1a72"/>
<circle cx="797.50" cy="324.40" r="1.6" fill="#8a1a72"/>
<circle cx="598.40" cy="320.00" r="1.6" fill="#8a1a72"/>
<circle cx="799.80" cy="320.00" r="1.6" fill="#8a1a72"/>
<circle cx="599.40" cy="321.40" r="1.6" fill="#dc1c2e"/>
<circle cx="800.80" cy="321.40" r="1.6" fill="#dc1c2e"/>
<circle cx="626.00" cy="318.30" r="1.6" fill="#35aefc"/>
<circle cx="827.40" cy="318.30" r="1.6" fill="#35aefc"/>
<circle cx="616.80" cy="330.90" r="1.6" fill="#dc1c2e"/>
<circle cx="818.20" cy="330.90" r="1.6" fill="#dc1c2e"/>
<circle cx="624.30" cy="344.50" r="1.6" fill="#dc1c2e"/>
<circle cx="825.70" cy="344.50" r="1.6" fill="#dc1c2e"/>
<circle cx="649.70" cy="301.30" r="1.6" fill="#8a1a72"/>
<circle cx="851.10" cy="301.30" r="1.6" fill="#8a1a72"/>
<circle cx="685.80" cy="254.60" r="1.6" fill="#dc1c2e"/>
<circle cx="887.20" cy="254.60" r="1.6" fill="#dc1c2e"/>
<circle cx="691.40" cy="234.20" r="1.6" fill="#8a1a72"/>
<circle cx="892.80" cy="234.20" r="1.6" fill="#8a1a72"/>
<circle cx="684.90" cy="296.20" r="1.6" fill="#35aefc"/>
<circle cx="886.30" cy="296.20" r="1.6" fill="#35aefc"/>
<circle cx="694.50" cy="270.30" r="1.6" fill="#35aefc"/>
<circle cx="895.90" cy="270.30" r="1.6" fill="#35aefc"/>
<polyline points="502.2,254.74 503.2,254.21 504.2,253.73 505.2,253.27 506.2,252.86 507.2,252.48 508.2,252.15 509.2,251.85 510.2,251.58 511.2,251.36 512.2,251.17 513.2,251.03 514.2,250.92 515.2,250.85 516.2,250.82 517.2,250.82 518.2,250.87 519.2,250.95 520.2,251.07 521.2,251.23 522.2,251.42 523.2,251.65 524.2,251.92 525.2,252.22 526.2,252.55 527.2,252.92 528.2,253.33 529.2,253.77 530.2,254.23 531.2,254.74 532.2,255.27 533.2,255.83 534.2,256.42 535.2,257.04 536.2,257.69 537.2,258.37 538.2,259.07 539.2,259.80 540.2,260.55 541.2,261.33 542.2,262.13 543.2,262.95 544.2,263.79 545.2,264.65 546.2,265.53 547.2,266.43 548.2,267.35 549.2,268.28 550.2,269.23 551.2,270.19 552.2,271.17 553.2,272.16 554.2,273.16 555.2,274.18 556.2,275.20 557.2,276.23 558.2,277.27 559.2,278.31 560.2,279.37 561.2,280.43 562.2,281.49 563.2,282.55 564.2,283.62 565.2,284.69 566.2,285.76 567.2,286.84 568.2,287.91 569.2,288.98 570.2,290.04 571.2,291.11 572.2,292.17 573.2,293.22 574.2,294.27 575.2,295.31 576.2,296.35 577.2,297.37 578.2,298.39 579.2,299.40 580.2,300.40 581.2,301.39 582.2,302.36 583.2,303.33 584.2,304.28 585.2,305.21 586.2,306.13 587.2,307.04 588.2,307.93 589.2,308.80 590.2,309.66 591.2,310.49 592.2,311.31 593.2,312.11 594.2,312.89 595.2,313.65 596.2,314.38 597.2,315.10 598.2,315.79 599.2,316.45 600.2,317.10 601.2,317.72 602.2,318.31 603.2,318.88 604.2,319.42 605.2,319.93 606.2,320.42 607.2,320.88 608.2,321.31 609.2,321.71 610.2,322.08 611.2,322.42 612.2,322.73 613.2,323.01 614.2,323.26 615.2,323.48 616.2,323.66 617.2,323.81 618.2,323.93 619.2,324.02 620.2,324.07 621.2,324.09 622.2,324.07 623.2,324.02 624.2,323.94 625.2,323.82 626.2,323.66 627.2,323.48 628.2,323.25 629.2,322.99 630.2,322.70 631.2,322.37 632.2,322.01 633.2,321.61 634.2,321.18 635.2,320.72 636.2,320.22 637.2,319.69 638.2,319.12 639.2,318.52 640.2,317.89 641.2,317.23 642.2,316.53 643.2,315.81 644.2,315.05 645.2,314.26 646.2,313.45 647.2,312.61 648.2,311.74 649.2,310.84 650.2,309.92 651.2,308.97 652.2,308.00 653.2,307.00 654.2,305.98 655.2,304.94 656.2,303.89 657.2,302.81 658.2,301.71 659.2,300.60 660.2,299.47 661.2,298.33 662.2,297.17 663.2,296.01 664.2,294.83 665.2,293.64 666.2,292.45 667.2,291.25 668.2,290.04 669.2,288.83 670.2,287.62 671.2,286.40 672.2,285.19 673.2,283.98 674.2,282.77 675.2,281.57 676.2,280.37 677.2,279.18 678.2,278.00 679.2,276.82 680.2,275.66 681.2,274.52 682.2,273.38 683.2,272.27 684.2,271.16 685.2,270.08 686.2,269.02 687.2,267.98 688.2,266.95 689.2,265.96 690.2,264.98 691.2,264.03 692.2,263.11 693.2,262.21 694.2,261.35 695.2,260.51 696.2,259.70 697.2,258.93 698.2,258.18 699.2,257.47 700.2,256.79 701.2,256.14 702.2,255.53 703.2,254.96 704.2,254.42 705.2,253.92 706.2,253.45 707.2,253.02 708.2,252.63 709.2,252.28 710.2,251.96 711.2,251.68 712.2,251.44 713.2,251.24 714.2,251.08 715.2,250.96 716.2,250.87 717.2,250.83 718.2,250.82 719.2,250.85 720.2,250.91 721.2,251.02 722.2,251.16 723.2,251.34 724.2,251.56 725.2,251.81 726.2,252.09 727.2,252.42 728.2,252.77 729.2,253.16 730.2,253.59 731.2,254.04 732.2,254.53 733.2,255.05 734.2,255.60 735.2,256.18 736.2,256.79 737.2,257.43 738.2,258.09 739.2,258.79 740.2,259.50 741.2,260.25 742.2,261.01 743.2,261.80 744.2,262.62 745.2,263.45 746.2,264.30 747.2,265.18 748.2,266.07 749.2,266.98 750.2,267.91 751.2,268.85 752.2,269.81 753.2,270.78 754.2,271.76 755.2,272.76 756.2,273.77 757.2,274.79 758.2,275.82 759.2,276.85 760.2,277.90 761.2,278.95 762.2,280.00 763.2,281.06 764.2,282.13 765.2,283.19 766.2,284.26 767.2,285.34 768.2,286.41 769.2,287.48 770.2,288.55 771.2,289.62 772.2,290.68 773.2,291.74 774.2,292.80 775.2,293.85 776.2,294.90 777.2,295.93 778.2,296.96 779.2,297.99 780.2,299.00 781.2,300.00 782.2,300.99 783.2,301.97 784.2,302.94 785.2,303.90 786.2,304.84 787.2,305.77 788.2,306.68 789.2,307.57 790.2,308.45 791.2,309.32 792.2,310.16 793.2,310.99 794.2,311.79 795.2,312.58 796.2,313.35 797.2,314.09 798.2,314.81 799.2,315.51 800.2,316.19 801.2,316.84 802.2,317.47 803.2,318.08 804.2,318.65 805.2,319.21 806.2,319.73 807.2,320.23 808.2,320.70 809.2,321.14 810.2,321.55 811.2,321.94 812.2,322.29 813.2,322.61 814.2,322.91 815.2,323.17 816.2,323.40 817.2,323.59 818.2,323.76 819.2,323.89 820.2,323.99 821.2,324.05 822.2,324.09 823.2,324.08 824.2,324.05 825.2,323.98 826.2,323.87 827.2,323.73 828.2,323.56" fill="none" stroke="#000" stroke-width="1.05"/>
</g>
<rect x="502.2" y="223.2" width="326.8" height="128.6" stroke="#000" stroke-width="1" fill="none"/>
<line x1="514.6" y1="351.8" x2="816.7" y2="351.8" stroke="#000" stroke-width="1"/>
<line x1="514.6" y1="351.8" x2="514.6" y2="357.8" stroke="#000" stroke-width="1"/>
<line x1="615.3" y1="351.8" x2="615.3" y2="357.8" stroke="#000" stroke-width="1"/>
<line x1="716" y1="351.8" x2="716" y2="357.8" stroke="#000" stroke-width="1"/>
<line x1="816.7" y1="351.8" x2="816.7" y2="357.8" stroke="#000" stroke-width="1"/>
<text x="514.6" y="372.1" font-size="9.3" text-anchor="middle" font-weight="normal" fill="#000">0.0</text>
<text x="615.3" y="372.1" font-size="9.3" text-anchor="middle" font-weight="normal" fill="#000">0.5</text>
<text x="716" y="372.1" font-size="9.3" text-anchor="middle" font-weight="normal" fill="#000">1.0</text>
<text x="816.7" y="372.1" font-size="9.3" text-anchor="middle" font-weight="normal" fill="#000">1.5</text>
<text x="665.6" y="382.8" font-size="9.3" text-anchor="middle" font-weight="normal" fill="#000">Phase</text>
<line x1="502.2" y1="232.8" x2="502.2" y2="349.3" stroke="#000" stroke-width="1"/>
<line x1="496.2" y1="232.8" x2="502.2" y2="232.8" stroke="#000" stroke-width="1"/>
<line x1="496.2" y1="256.1" x2="502.2" y2="256.1" stroke="#000" stroke-width="1"/>
<line x1="496.2" y1="279.4" x2="502.2" y2="279.4" stroke="#000" stroke-width="1"/>
<line x1="496.2" y1="302.7" x2="502.2" y2="302.7" stroke="#000" stroke-width="1"/>
<line x1="496.2" y1="326" x2="502.2" y2="326" stroke="#000" stroke-width="1"/>
<line x1="496.2" y1="349.3" x2="502.2" y2="349.3" stroke="#000" stroke-width="1"/>
<text x="489.2" y="256.1" font-size="9.3" text-anchor="middle" font-weight="normal" fill="#000" transform="rotate(-90 489.2 256.1)">17.6</text>
<text x="489.2" y="302.7" font-size="9.3" text-anchor="middle" font-weight="normal" fill="#000" transform="rotate(-90 489.2 302.7)">17.8</text>
<text x="489.2" y="349.3" font-size="9.3" text-anchor="middle" font-weight="normal" fill="#000" transform="rotate(-90 489.2 349.3)">18.0</text>
<text x="665.3" y="216" font-size="9.25" text-anchor="middle" font-weight="bold" fill="#000">g folded light curve (PC1 frequency)</text>
<clipPath id="c5"><rect x="502.2" y="407.5" width="326.8" height="128.79999999999995"/></clipPath>
<g clip-path="url(#c5)">
<line x1="514.40" y1="457.80" x2="514.40" y2="492.80" stroke="#fca71c" stroke-width="1.1" stroke-opacity="0.55"/>
<line x1="715.80" y1="457.80" x2="715.80" y2="492.80" stroke="#fca71c" stroke-width="1.1" stroke-opacity="0.55"/>
<line x1="514.40" y1="449.90" x2="514.40" y2="523.50" stroke="#35aefc" stroke-width="1.1" stroke-opacity="0.55"/>
<line x1="715.80" y1="449.90" x2="715.80" y2="523.50" stroke="#35aefc" stroke-width="1.1" stroke-opacity="0.55"/>
<line x1="518.40" y1="455.30" x2="518.40" y2="531.30" stroke="#8a1a72" stroke-width="1.1" stroke-opacity="0.55"/>
<line x1="719.80" y1="455.30" x2="719.80" y2="531.30" stroke="#8a1a72" stroke-width="1.1" stroke-opacity="0.55"/>
<line x1="526.40" y1="474.50" x2="526.40" y2="487.70" stroke="#dc1c2e" stroke-width="1.1" stroke-opacity="0.55"/>
<line x1="727.80" y1="474.50" x2="727.80" y2="487.70" stroke="#dc1c2e" stroke-width="1.1" stroke-opacity="0.55"/>
<line x1="531.00" y1="473.50" x2="531.00" y2="501.50" stroke="#8a1a72" stroke-width="1.1" stroke-opacity="0.55"/>
<line x1="732.40" y1="473.50" x2="732.40" y2="501.50" stroke="#8a1a72" stroke-width="1.1" stroke-opacity="0.55"/>
<line x1="535.90" y1="470.90" x2="535.90" y2="519.90" stroke="#35aefc" stroke-width="1.1" stroke-opacity="0.55"/>
<line x1="737.30" y1="470.90" x2="737.30" y2="519.90" stroke="#35aefc" stroke-width="1.1" stroke-opacity="0.55"/>
<line x1="536.40" y1="471.50" x2="536.40" y2="495.50" stroke="#8a1a72" stroke-width="1.1" stroke-opacity="0.55"/>
<line x1="737.80" y1="471.50" x2="737.80" y2="495.50" stroke="#8a1a72" stroke-width="1.1" stroke-opacity="0.55"/>
<line x1="537.60" y1="470.90" x2="537.60" y2="499.90" stroke="#8a1a72" stroke-width="1.1" stroke-opacity="0.55"/>
<line x1="739.00" y1="470.90" x2="739.00" y2="499.90" stroke="#8a1a72" stroke-width="1.1" stroke-opacity="0.55"/>
<line x1="551.30" y1="440.40" x2="551.30" y2="489.80" stroke="#8a1a72" stroke-width="1.1" stroke-opacity="0.55"/>
<line x1="752.70" y1="440.40" x2="752.70" y2="489.80" stroke="#8a1a72" stroke-width="1.1" stroke-opacity="0.55"/>
<line x1="564.80" y1="480.70" x2="564.80" y2="496.50" stroke="#dc1c2e" stroke-width="1.1" stroke-opacity="0.55"/>
<line x1="766.20" y1="480.70" x2="766.20" y2="496.50" stroke="#dc1c2e" stroke-width="1.1" stroke-opacity="0.55"/>
<line x1="566.50" y1="470.90" x2="566.50" y2="484.90" stroke="#dc1c2e" stroke-width="1.1" stroke-opacity="0.55"/>
<line x1="767.90" y1="470.90" x2="767.90" y2="484.90" stroke="#dc1c2e" stroke-width="1.1" stroke-opacity="0.55"/>
<line x1="572.10" y1="459.60" x2="572.10" y2="474.40" stroke="#dc1c2e" stroke-width="1.1" stroke-opacity="0.55"/>
<line x1="773.50" y1="459.60" x2="773.50" y2="474.40" stroke="#dc1c2e" stroke-width="1.1" stroke-opacity="0.55"/>
<line x1="573.90" y1="460.00" x2="573.90" y2="477.60" stroke="#dc1c2e" stroke-width="1.1" stroke-opacity="0.55"/>
<line x1="775.30" y1="460.00" x2="775.30" y2="477.60" stroke="#dc1c2e" stroke-width="1.1" stroke-opacity="0.55"/>
<line x1="580.20" y1="452.00" x2="580.20" y2="467.00" stroke="#fca71c" stroke-width="1.1" stroke-opacity="0.55"/>
<line x1="781.60" y1="452.00" x2="781.60" y2="467.00" stroke="#fca71c" stroke-width="1.1" stroke-opacity="0.55"/>
<line x1="595.90" y1="448.50" x2="595.90" y2="462.50" stroke="#fca71c" stroke-width="1.1" stroke-opacity="0.55"/>
<line x1="797.30" y1="448.50" x2="797.30" y2="462.50" stroke="#fca71c" stroke-width="1.1" stroke-opacity="0.55"/>
<line x1="596.10" y1="426.10" x2="596.10" y2="459.70" stroke="#8a1a72" stroke-width="1.1" stroke-opacity="0.55"/>
<line x1="797.50" y1="426.10" x2="797.50" y2="459.70" stroke="#8a1a72" stroke-width="1.1" stroke-opacity="0.55"/>
<line x1="598.40" y1="419.50" x2="598.40" y2="466.30" stroke="#8a1a72" stroke-width="1.1" stroke-opacity="0.55"/>
<line x1="799.80" y1="419.50" x2="799.80" y2="466.30" stroke="#8a1a72" stroke-width="1.1" stroke-opacity="0.55"/>
<line x1="599.40" y1="440.30" x2="599.40" y2="454.30" stroke="#dc1c2e" stroke-width="1.1" stroke-opacity="0.55"/>
<line x1="800.80" y1="440.30" x2="800.80" y2="454.30" stroke="#dc1c2e" stroke-width="1.1" stroke-opacity="0.55"/>
<line x1="616.80" y1="421.90" x2="616.80" y2="441.10" stroke="#dc1c2e" stroke-width="1.1" stroke-opacity="0.55"/>
<line x1="818.20" y1="421.90" x2="818.20" y2="441.10" stroke="#dc1c2e" stroke-width="1.1" stroke-opacity="0.55"/>
<line x1="624.30" y1="422.60" x2="624.30" y2="437.00" stroke="#dc1c2e" stroke-width="1.1" stroke-opacity="0.55"/>
<line x1="825.70" y1="422.60" x2="825.70" y2="437.00" stroke="#dc1c2e" stroke-width="1.1" stroke-opacity="0.55"/>
<line x1="626.20" y1="418.50" x2="626.20" y2="450.90" stroke="#35aefc" stroke-width="1.1" stroke-opacity="0.55"/>
<line x1="827.60" y1="418.50" x2="827.60" y2="450.90" stroke="#35aefc" stroke-width="1.1" stroke-opacity="0.55"/>
<line x1="649.70" y1="431.50" x2="649.70" y2="505.10" stroke="#8a1a72" stroke-width="1.1" stroke-opacity="0.55"/>
<line x1="851.10" y1="431.50" x2="851.10" y2="505.10" stroke="#8a1a72" stroke-width="1.1" stroke-opacity="0.55"/>
<line x1="684.90" y1="412.20" x2="684.90" y2="476.20" stroke="#35aefc" stroke-width="1.1" stroke-opacity="0.55"/>
<line x1="886.30" y1="412.20" x2="886.30" y2="476.20" stroke="#35aefc" stroke-width="1.1" stroke-opacity="0.55"/>
<line x1="685.80" y1="483.80" x2="685.80" y2="495.80" stroke="#dc1c2e" stroke-width="1.1" stroke-opacity="0.55"/>
<line x1="887.20" y1="483.80" x2="887.20" y2="495.80" stroke="#dc1c2e" stroke-width="1.1" stroke-opacity="0.55"/>
<line x1="691.40" y1="507.50" x2="691.40" y2="526.50" stroke="#8a1a72" stroke-width="1.1" stroke-opacity="0.55"/>
<line x1="892.80" y1="507.50" x2="892.80" y2="526.50" stroke="#8a1a72" stroke-width="1.1" stroke-opacity="0.55"/>
<circle cx="514.40" cy="475.30" r="1.6" fill="#fca71c"/>
<circle cx="715.80" cy="475.30" r="1.6" fill="#fca71c"/>
<circle cx="514.40" cy="486.70" r="1.6" fill="#35aefc"/>
<circle cx="715.80" cy="486.70" r="1.6" fill="#35aefc"/>
<circle cx="518.40" cy="493.30" r="1.6" fill="#8a1a72"/>
<circle cx="719.80" cy="493.30" r="1.6" fill="#8a1a72"/>
<circle cx="526.40" cy="481.10" r="1.6" fill="#dc1c2e"/>
<circle cx="727.80" cy="481.10" r="1.6" fill="#dc1c2e"/>
<circle cx="531.00" cy="487.50" r="1.6" fill="#8a1a72"/>
<circle cx="732.40" cy="487.50" r="1.6" fill="#8a1a72"/>
<circle cx="535.90" cy="495.40" r="1.6" fill="#35aefc"/>
<circle cx="737.30" cy="495.40" r="1.6" fill="#35aefc"/>
<circle cx="536.40" cy="483.50" r="1.6" fill="#8a1a72"/>
<circle cx="737.80" cy="483.50" r="1.6" fill="#8a1a72"/>
<circle cx="537.60" cy="485.40" r="1.6" fill="#8a1a72"/>
<circle cx="739.00" cy="485.40" r="1.6" fill="#8a1a72"/>
<circle cx="551.30" cy="465.10" r="1.6" fill="#8a1a72"/>
<circle cx="752.70" cy="465.10" r="1.6" fill="#8a1a72"/>
<circle cx="564.80" cy="488.60" r="1.6" fill="#dc1c2e"/>
<circle cx="766.20" cy="488.60" r="1.6" fill="#dc1c2e"/>
<circle cx="566.50" cy="477.90" r="1.6" fill="#dc1c2e"/>
<circle cx="767.90" cy="477.90" r="1.6" fill="#dc1c2e"/>
<circle cx="572.10" cy="467.00" r="1.6" fill="#dc1c2e"/>
<circle cx="773.50" cy="467.00" r="1.6" fill="#dc1c2e"/>
<circle cx="573.90" cy="468.80" r="1.6" fill="#dc1c2e"/>
<circle cx="775.30" cy="468.80" r="1.6" fill="#dc1c2e"/>
<circle cx="580.20" cy="459.50" r="1.6" fill="#fca71c"/>
<circle cx="781.60" cy="459.50" r="1.6" fill="#fca71c"/>
<circle cx="595.90" cy="455.50" r="1.6" fill="#fca71c"/>
<circle cx="797.30" cy="455.50" r="1.6" fill="#fca71c"/>
<circle cx="596.10" cy="442.90" r="1.6" fill="#8a1a72"/>
<circle cx="797.50" cy="442.90" r="1.6" fill="#8a1a72"/>
<circle cx="598.40" cy="442.90" r="1.6" fill="#8a1a72"/>
<circle cx="799.80" cy="442.90" r="1.6" fill="#8a1a72"/>
<circle cx="599.40" cy="447.30" r="1.6" fill="#dc1c2e"/>
<circle cx="800.80" cy="447.30" r="1.6" fill="#dc1c2e"/>
<circle cx="616.80" cy="431.50" r="1.6" fill="#dc1c2e"/>
<circle cx="818.20" cy="431.50" r="1.6" fill="#dc1c2e"/>
<circle cx="624.30" cy="429.80" r="1.6" fill="#dc1c2e"/>
<circle cx="825.70" cy="429.80" r="1.6" fill="#dc1c2e"/>
<circle cx="626.20" cy="434.70" r="1.6" fill="#35aefc"/>
<circle cx="827.60" cy="434.70" r="1.6" fill="#35aefc"/>
<circle cx="649.70" cy="468.30" r="1.6" fill="#8a1a72"/>
<circle cx="851.10" cy="468.30" r="1.6" fill="#8a1a72"/>
<circle cx="684.90" cy="444.20" r="1.6" fill="#35aefc"/>
<circle cx="886.30" cy="444.20" r="1.6" fill="#35aefc"/>
<circle cx="685.80" cy="489.80" r="1.6" fill="#dc1c2e"/>
<circle cx="887.20" cy="489.80" r="1.6" fill="#dc1c2e"/>
<circle cx="691.40" cy="517.00" r="1.6" fill="#8a1a72"/>
<circle cx="892.80" cy="517.00" r="1.6" fill="#8a1a72"/>
</g>
<rect x="502.2" y="407.5" width="326.8" height="128.8" stroke="#000" stroke-width="1" fill="none"/>
<line x1="514.6" y1="536.3" x2="816.7" y2="536.3" stroke="#000" stroke-width="1"/>
<line x1="514.6" y1="536.3" x2="514.6" y2="542.3" stroke="#000" stroke-width="1"/>
<line x1="615.3" y1="536.3" x2="615.3" y2="542.3" stroke="#000" stroke-width="1"/>
<line x1="716" y1="536.3" x2="716" y2="542.3" stroke="#000" stroke-width="1"/>
<line x1="816.7" y1="536.3" x2="816.7" y2="542.3" stroke="#000" stroke-width="1"/>
<text x="514.6" y="556.6" font-size="9.3" text-anchor="middle" font-weight="normal" fill="#000">0.0</text>
<text x="615.3" y="556.6" font-size="9.3" text-anchor="middle" font-weight="normal" fill="#000">0.5</text>
<text x="716" y="556.6" font-size="9.3" text-anchor="middle" font-weight="normal" fill="#000">1.0</text>
<text x="816.7" y="556.6" font-size="9.3" text-anchor="middle" font-weight="normal" fill="#000">1.5</text>
<text x="665.6" y="567.3" font-size="9.3" text-anchor="middle" font-weight="normal" fill="#000">Phase</text>
<line x1="502.2" y1="518.2" x2="502.2" y2="407.2" stroke="#000" stroke-width="1"/>
<line x1="496.2" y1="518.2" x2="502.2" y2="518.2" stroke="#000" stroke-width="1"/>
<line x1="496.2" y1="499.7" x2="502.2" y2="499.7" stroke="#000" stroke-width="1"/>
<line x1="496.2" y1="481.2" x2="502.2" y2="481.2" stroke="#000" stroke-width="1"/>
<line x1="496.2" y1="462.7" x2="502.2" y2="462.7" stroke="#000" stroke-width="1"/>
<line x1="496.2" y1="444.2" x2="502.2" y2="444.2" stroke="#000" stroke-width="1"/>
<line x1="496.2" y1="425.7" x2="502.2" y2="425.7" stroke="#000" stroke-width="1"/>
<line x1="496.2" y1="407.2" x2="502.2" y2="407.2" stroke="#000" stroke-width="1"/>
<text x="489.2" y="518.2" font-size="9.3" text-anchor="middle" font-weight="normal" fill="#000" transform="rotate(-90 489.2 518.2)">-0.05</text>
<text x="489.2" y="481.2" font-size="9.3" text-anchor="middle" font-weight="normal" fill="#000" transform="rotate(-90 489.2 481.2)">0.05</text>
<text x="489.2" y="444.2" font-size="9.3" text-anchor="middle" font-weight="normal" fill="#000" transform="rotate(-90 489.2 444.2)">0.15</text>
<text x="489.2" y="407.2" font-size="9.3" text-anchor="middle" font-weight="normal" fill="#000" transform="rotate(-90 489.2 407.2)">0.25</text>
<text x="665.3" y="400.3" font-size="9.25" text-anchor="middle" font-weight="bold" fill="#000">g-i folded light curve (PC1 frequency)</text>
<clipPath id="c6"><rect x="862.2" y="33.4" width="326.5" height="133.9"/></clipPath>
<g clip-path="url(#c6)">
<circle cx="878.20" cy="61.10" r="1.5" fill="#35aefc"/>
<circle cx="1079.60" cy="61.10" r="1.5" fill="#35aefc"/>
<circle cx="898.30" cy="92.10" r="1.5" fill="#8a1a72"/>
<circle cx="1099.70" cy="92.10" r="1.5" fill="#8a1a72"/>
<circle cx="911.60" cy="89.70" r="1.5" fill="#dc1c2e"/>
<circle cx="1113.00" cy="89.70" r="1.5" fill="#dc1c2e"/>
<circle cx="917.40" cy="109.10" r="1.5" fill="#dc1c2e"/>
<circle cx="1118.80" cy="109.10" r="1.5" fill="#dc1c2e"/>
<circle cx="919.90" cy="79.30" r="1.5" fill="#8a1a72"/>
<circle cx="1121.30" cy="79.30" r="1.5" fill="#8a1a72"/>
<circle cx="942.70" cy="112.80" r="1.5" fill="#dc1c2e"/>
<circle cx="1144.10" cy="112.80" r="1.5" fill="#dc1c2e"/>
<circle cx="951.80" cy="120.40" r="1.5" fill="#dc1c2e"/>
<circle cx="1153.20" cy="120.40" r="1.5" fill="#dc1c2e"/>
<circle cx="960.60" cy="162.70" r="1.5" fill="#35aefc"/>
<circle cx="1162.00" cy="162.70" r="1.5" fill="#35aefc"/>
<circle cx="965.50" cy="99.70" r="1.5" fill="#8a1a72"/>
<circle cx="1166.90" cy="99.70" r="1.5" fill="#8a1a72"/>
<circle cx="986.50" cy="111.00" r="1.5" fill="#8a1a72"/>
<circle cx="1187.90" cy="111.00" r="1.5" fill="#8a1a72"/>
<circle cx="997.70" cy="90.90" r="1.5" fill="#8a1a72"/>
<circle cx="1199.10" cy="90.90" r="1.5" fill="#8a1a72"/>
<circle cx="1001.10" cy="80.60" r="1.5" fill="#8a1a72"/>
<circle cx="1202.50" cy="80.60" r="1.5" fill="#8a1a72"/>
<circle cx="1007.10" cy="83.30" r="1.5" fill="#dc1c2e"/>
<circle cx="1208.50" cy="83.30" r="1.5" fill="#dc1c2e"/>
<circle cx="1015.70" cy="82.40" r="1.5" fill="#dc1c2e"/>
<circle cx="1217.10" cy="82.40" r="1.5" fill="#dc1c2e"/>
<circle cx="1022.00" cy="70.20" r="1.5" fill="#dc1c2e"/>
<circle cx="1223.40" cy="70.20" r="1.5" fill="#dc1c2e"/>
<circle cx="1036.60" cy="76.00" r="1.5" fill="#dc1c2e"/>
<circle cx="1238.00" cy="76.00" r="1.5" fill="#dc1c2e"/>
<circle cx="1042.70" cy="55.60" r="1.5" fill="#fca71c"/>
<circle cx="1244.10" cy="55.60" r="1.5" fill="#fca71c"/>
<circle cx="1051.20" cy="69.90" r="1.5" fill="#fca71c"/>
<circle cx="1252.60" cy="69.90" r="1.5" fill="#fca71c"/>
<circle cx="1051.50" cy="73.90" r="1.5" fill="#8a1a72"/>
<circle cx="1252.90" cy="73.90" r="1.5" fill="#8a1a72"/>
<circle cx="1052.80" cy="38.60" r="1.5" fill="#35aefc"/>
<circle cx="1254.20" cy="38.60" r="1.5" fill="#35aefc"/>
<circle cx="1062.80" cy="60.20" r="1.5" fill="#dc1c2e"/>
<circle cx="1264.20" cy="60.20" r="1.5" fill="#dc1c2e"/>
<circle cx="1069.50" cy="50.80" r="1.5" fill="#8a1a72"/>
<circle cx="1270.90" cy="50.80" r="1.5" fill="#8a1a72"/>
<circle cx="1069.50" cy="38.60" r="1.5" fill="#8a1a72"/>
<circle cx="1270.90" cy="38.60" r="1.5" fill="#8a1a72"/>
</g>
<rect x="862.2" y="33.4" width="326.5" height="133.9" stroke="#000" stroke-width="1" fill="none"/>
<line x1="874.5" y1="167.3" x2="1176.6" y2="167.3" stroke="#000" stroke-width="1"/>
<line x1="874.5" y1="167.3" x2="874.5" y2="173.3" stroke="#000" stroke-width="1"/>
<line x1="975.2" y1="167.3" x2="975.2" y2="173.3" stroke="#000" stroke-width="1"/>
<line x1="1075.9" y1="167.3" x2="1075.9" y2="173.3" stroke="#000" stroke-width="1"/>
<line x1="1176.6" y1="167.3" x2="1176.6" y2="173.3" stroke="#000" stroke-width="1"/>
<text x="874.5" y="187.6" font-size="9.3" text-anchor="middle" font-weight="normal" fill="#000">0.0</text>
<text x="975.2" y="187.6" font-size="9.3" text-anchor="middle" font-weight="normal" fill="#000">0.5</text>
<text x="1075.9" y="187.6" font-size="9.3" text-anchor="middle" font-weight="normal" fill="#000">1.0</text>
<text x="1176.6" y="187.6" font-size="9.3" text-anchor="middle" font-weight="normal" fill="#000">1.5</text>
<text x="1025.45" y="198.3" font-size="9.3" text-anchor="middle" font-weight="normal" fill="#000">Phase</text>
<line x1="862.2" y1="139.6" x2="862.2" y2="52" stroke="#000" stroke-width="1"/>
<line x1="856.2" y1="139.6" x2="862.2" y2="139.6" stroke="#000" stroke-width="1"/>
<line x1="856.2" y1="110.4" x2="862.2" y2="110.4" stroke="#000" stroke-width="1"/>
<line x1="856.2" y1="81.2" x2="862.2" y2="81.2" stroke="#000" stroke-width="1"/>
<line x1="856.2" y1="52" x2="862.2" y2="52" stroke="#000" stroke-width="1"/>
<text x="849.2" y="139.6" font-size="9.3" text-anchor="middle" font-weight="normal" fill="#000" transform="rotate(-90 849.2 139.6)">-10</text>
<text x="849.2" y="110.4" font-size="9.3" text-anchor="middle" font-weight="normal" fill="#000" transform="rotate(-90 849.2 110.4)">-5</text>
<text x="849.2" y="81.2" font-size="9.3" text-anchor="middle" font-weight="normal" fill="#000" transform="rotate(-90 849.2 81.2)">0</text>
<text x="849.2" y="52" font-size="9.3" text-anchor="middle" font-weight="normal" fill="#000" transform="rotate(-90 849.2 52)">5</text>
<text x="1026.9" y="26" font-size="9.25" text-anchor="middle" font-weight="bold" fill="#000">Residual PC1 folded light curve (residual frequency)</text>
<clipPath id="c7"><rect x="862.2" y="223.3" width="326.39999999999986" height="128.5"/></clipPath>
<g clip-path="url(#c7)">
<circle cx="878.20" cy="297.30" r="1.5" fill="#35aefc"/>
<circle cx="1079.60" cy="297.30" r="1.5" fill="#35aefc"/>
<circle cx="898.30" cy="271.50" r="1.5" fill="#8a1a72"/>
<circle cx="1099.70" cy="271.50" r="1.5" fill="#8a1a72"/>
<circle cx="911.60" cy="264.20" r="1.5" fill="#dc1c2e"/>
<circle cx="1113.00" cy="264.20" r="1.5" fill="#dc1c2e"/>
<circle cx="917.40" cy="252.30" r="1.5" fill="#dc1c2e"/>
<circle cx="1118.80" cy="252.30" r="1.5" fill="#dc1c2e"/>
<circle cx="919.90" cy="270.30" r="1.5" fill="#8a1a72"/>
<circle cx="1121.30" cy="270.30" r="1.5" fill="#8a1a72"/>
<circle cx="942.70" cy="261.10" r="1.5" fill="#dc1c2e"/>
<circle cx="1144.10" cy="261.10" r="1.5" fill="#dc1c2e"/>
<circle cx="943.30" cy="229.80" r="1.5" fill="#35aefc"/>
<circle cx="1144.70" cy="229.80" r="1.5" fill="#35aefc"/>
<circle cx="951.80" cy="234.70" r="1.5" fill="#dc1c2e"/>
<circle cx="1153.20" cy="234.70" r="1.5" fill="#dc1c2e"/>
<circle cx="960.60" cy="228.00" r="1.5" fill="#35aefc"/>
<circle cx="1162.00" cy="228.00" r="1.5" fill="#35aefc"/>
<circle cx="965.50" cy="257.50" r="1.5" fill="#8a1a72"/>
<circle cx="1166.90" cy="257.50" r="1.5" fill="#8a1a72"/>
<circle cx="986.50" cy="247.70" r="1.5" fill="#8a1a72"/>
<circle cx="1187.90" cy="247.70" r="1.5" fill="#8a1a72"/>
<circle cx="997.70" cy="269.60" r="1.5" fill="#8a1a72"/>
<circle cx="1199.10" cy="269.60" r="1.5" fill="#8a1a72"/>
<circle cx="1002.90" cy="262.70" r="1.5" fill="#35aefc"/>
<circle cx="1204.30" cy="262.70" r="1.5" fill="#35aefc"/>
<circle cx="1001.10" cy="289.40" r="1.5" fill="#8a1a72"/>
<circle cx="1202.50" cy="289.40" r="1.5" fill="#8a1a72"/>
<circle cx="1007.10" cy="279.40" r="1.5" fill="#dc1c2e"/>
<circle cx="1208.50" cy="279.40" r="1.5" fill="#dc1c2e"/>
<circle cx="1015.70" cy="268.70" r="1.5" fill="#dc1c2e"/>
<circle cx="1217.10" cy="268.70" r="1.5" fill="#dc1c2e"/>
<circle cx="1022.00" cy="316.50" r="1.5" fill="#dc1c2e"/>
<circle cx="1223.40" cy="316.50" r="1.5" fill="#dc1c2e"/>
<circle cx="1036.60" cy="282.40" r="1.5" fill="#dc1c2e"/>
<circle cx="1238.00" cy="282.40" r="1.5" fill="#dc1c2e"/>
<circle cx="1042.70" cy="297.30" r="1.5" fill="#fca71c"/>
<circle cx="1244.10" cy="297.30" r="1.5" fill="#fca71c"/>
<circle cx="1051.20" cy="282.40" r="1.5" fill="#fca71c"/>
<circle cx="1252.60" cy="282.40" r="1.5" fill="#fca71c"/>
<circle cx="1051.50" cy="295.50" r="1.5" fill="#8a1a72"/>
<circle cx="1252.90" cy="295.50" r="1.5" fill="#8a1a72"/>
<circle cx="1052.80" cy="310.10" r="1.5" fill="#35aefc"/>
<circle cx="1254.20" cy="310.10" r="1.5" fill="#35aefc"/>
<circle cx="1062.80" cy="304.60" r="1.5" fill="#dc1c2e"/>
<circle cx="1264.20" cy="304.60" r="1.5" fill="#dc1c2e"/>
<circle cx="1064.90" cy="309.80" r="1.5" fill="#8a1a72"/>
<circle cx="1266.30" cy="309.80" r="1.5" fill="#8a1a72"/>
<circle cx="1069.50" cy="303.10" r="1.5" fill="#8a1a72"/>
<circle cx="1270.90" cy="303.10" r="1.5" fill="#8a1a72"/>
<circle cx="1069.50" cy="347.20" r="1.5" fill="#8a1a72"/>
<circle cx="1270.90" cy="347.20" r="1.5" fill="#8a1a72"/>
<circle cx="1071.30" cy="290.30" r="1.5" fill="#35aefc"/>
<circle cx="1272.70" cy="290.30" r="1.5" fill="#35aefc"/>
<circle cx="1073.70" cy="300.40" r="1.5" fill="#fca71c"/>
<circle cx="1275.10" cy="300.40" r="1.5" fill="#fca71c"/>
</g>
<rect x="862.2" y="223.3" width="326.4" height="128.5" stroke="#000" stroke-width="1" fill="none"/>
<line x1="874.5" y1="351.8" x2="1176.6" y2="351.8" stroke="#000" stroke-width="1"/>
<line x1="874.5" y1="351.8" x2="874.5" y2="357.8" stroke="#000" stroke-width="1"/>
<line x1="975.2" y1="351.8" x2="975.2" y2="357.8" stroke="#000" stroke-width="1"/>
<line x1="1075.9" y1="351.8" x2="1075.9" y2="357.8" stroke="#000" stroke-width="1"/>
<line x1="1176.6" y1="351.8" x2="1176.6" y2="357.8" stroke="#000" stroke-width="1"/>
<text x="874.5" y="372.1" font-size="9.3" text-anchor="middle" font-weight="normal" fill="#000">0.0</text>
<text x="975.2" y="372.1" font-size="9.3" text-anchor="middle" font-weight="normal" fill="#000">0.5</text>
<text x="1075.9" y="372.1" font-size="9.3" text-anchor="middle" font-weight="normal" fill="#000">1.0</text>
<text x="1176.6" y="372.1" font-size="9.3" text-anchor="middle" font-weight="normal" fill="#000">1.5</text>
<text x="1025.4" y="382.8" font-size="9.3" text-anchor="middle" font-weight="normal" fill="#000">Phase</text>
<line x1="862.2" y1="330.3" x2="862.2" y2="228.5" stroke="#000" stroke-width="1"/>
<line x1="856.2" y1="330.3" x2="862.2" y2="330.3" stroke="#000" stroke-width="1"/>
<line x1="856.2" y1="304.85" x2="862.2" y2="304.85" stroke="#000" stroke-width="1"/>
<line x1="856.2" y1="279.4" x2="862.2" y2="279.4" stroke="#000" stroke-width="1"/>
<line x1="856.2" y1="253.95" x2="862.2" y2="253.95" stroke="#000" stroke-width="1"/>
<line x1="856.2" y1="228.5" x2="862.2" y2="228.5" stroke="#000" stroke-width="1"/>
<text x="849.2" y="330.3" font-size="9.3" text-anchor="middle" font-weight="normal" fill="#000" transform="rotate(-90 849.2 330.3)">-0.10</text>
<text x="849.2" y="279.4" font-size="9.3" text-anchor="middle" font-weight="normal" fill="#000" transform="rotate(-90 849.2 279.4)">0.00</text>
<text x="849.2" y="228.5" font-size="9.3" text-anchor="middle" font-weight="normal" fill="#000" transform="rotate(-90 849.2 228.5)">0.10</text>
<text x="1025.4" y="216" font-size="9.25" text-anchor="middle" font-weight="bold" fill="#000">Residual g folded light curve (residual frequency)</text>
<defs><linearGradient id="cb" x1="0" x2="1" y1="0" y2="0"><stop offset="0" stop-color="#f7921d"/><stop offset="0.12" stop-color="#ef6a1b"/><stop offset="0.25" stop-color="#df3420"/><stop offset="0.38" stop-color="#d41a24"/><stop offset="0.5" stop-color="#c10f38"/><stop offset="0.6" stop-color="#a00c52"/><stop offset="0.7" stop-color="#80106f"/><stop offset="0.8" stop-color="#603090"/><stop offset="0.9" stop-color="#4350b0"/><stop offset="1" stop-color="#2b86e2"/></linearGradient></defs>
<rect x="861.9" y="407.3" width="327.0" height="12.0" fill="url(#cb)" stroke="#000" stroke-width="1"/>
<line x1="883.8" y1="419.3" x2="883.8" y2="425" stroke="#000" stroke-width="1"/>
<text x="883.8" y="440.2" font-size="9.3" text-anchor="middle" font-weight="normal" fill="#000">53400</text>
<line x1="947.7" y1="419.3" x2="947.7" y2="425" stroke="#000" stroke-width="1"/>
<text x="947.7" y="440.2" font-size="9.3" text-anchor="middle" font-weight="normal" fill="#000">53600</text>
<line x1="1011.6" y1="419.3" x2="1011.6" y2="425" stroke="#000" stroke-width="1"/>
<text x="1011.6" y="440.2" font-size="9.3" text-anchor="middle" font-weight="normal" fill="#000">53800</text>
<line x1="1075.5" y1="419.3" x2="1075.5" y2="425" stroke="#000" stroke-width="1"/>
<text x="1075.5" y="440.2" font-size="9.3" text-anchor="middle" font-weight="normal" fill="#000">54000</text>
<line x1="1139.4" y1="419.3" x2="1139.4" y2="425" stroke="#000" stroke-width="1"/>
<text x="1139.4" y="440.2" font-size="9.3" text-anchor="middle" font-weight="normal" fill="#000">54200</text>
<text x="1025.4" y="451.5" font-size="9.3" text-anchor="middle" font-weight="normal" fill="#000">Time [JD]</text>
<text x="1026.4" y="400.3" font-size="8.75" text-anchor="middle" font-weight="bold" fill="#000">Color code for time</text>
<polyline points="45.7,727.0 48.6,750.2 50.8,743.0 100.1,755.0 100.4,749.9 101.2,756.3 102.3,744.3 104.9,745.7 106.5,724.3 107.6,736.6 108.4,753.4 108.9,760.1 110.8,731.5 112.1,740.9 156.4,729.7 157.7,737.7 158.8,724.3 159.1,745.9 159.1,759.0 159.9,739.0 161.2,732.9 162.0,755.0 162.5,732.6 166.0,742.2 213.2,753.7 217.2,755.3 217.7,743.0 220.1,726.5 221.2,748.6 222.0,737.4" fill="none" stroke="#2aa9f2" stroke-width="1"/>
<circle cx="45.7" cy="727.0" r="1.2" fill="#2aa9f2"/>
<circle cx="48.6" cy="750.2" r="1.2" fill="#2aa9f2"/>
<circle cx="50.8" cy="743.0" r="1.2" fill="#2aa9f2"/>
<circle cx="100.1" cy="755.0" r="1.2" fill="#2aa9f2"/>
<circle cx="100.4" cy="749.9" r="1.2" fill="#2aa9f2"/>
<circle cx="101.2" cy="756.3" r="1.2" fill="#2aa9f2"/>
<circle cx="102.3" cy="744.3" r="1.2" fill="#2aa9f2"/>
<circle cx="104.9" cy="745.7" r="1.2" fill="#2aa9f2"/>
<circle cx="106.5" cy="724.3" r="1.2" fill="#2aa9f2"/>
<circle cx="107.6" cy="736.6" r="1.2" fill="#2aa9f2"/>
<circle cx="108.4" cy="753.4" r="1.2" fill="#2aa9f2"/>
<circle cx="108.9" cy="760.1" r="1.2" fill="#2aa9f2"/>
<circle cx="110.8" cy="731.5" r="1.2" fill="#2aa9f2"/>
<circle cx="112.1" cy="740.9" r="1.2" fill="#2aa9f2"/>
<circle cx="156.4" cy="729.7" r="1.2" fill="#2aa9f2"/>
<circle cx="157.7" cy="737.7" r="1.2" fill="#2aa9f2"/>
<circle cx="158.8" cy="724.3" r="1.2" fill="#2aa9f2"/>
<circle cx="159.1" cy="745.9" r="1.2" fill="#2aa9f2"/>
<circle cx="159.1" cy="759.0" r="1.2" fill="#2aa9f2"/>
<circle cx="159.9" cy="739.0" r="1.2" fill="#2aa9f2"/>
<circle cx="161.2" cy="732.9" r="1.2" fill="#2aa9f2"/>
<circle cx="162.0" cy="755.0" r="1.2" fill="#2aa9f2"/>
<circle cx="162.5" cy="732.6" r="1.2" fill="#2aa9f2"/>
<circle cx="166.0" cy="742.2" r="1.2" fill="#2aa9f2"/>
<circle cx="213.2" cy="753.7" r="1.2" fill="#2aa9f2"/>
<circle cx="217.2" cy="755.3" r="1.2" fill="#2aa9f2"/>
<circle cx="217.7" cy="743.0" r="1.2" fill="#2aa9f2"/>
<circle cx="220.1" cy="726.5" r="1.2" fill="#2aa9f2"/>
<circle cx="221.2" cy="748.6" r="1.2" fill="#2aa9f2"/>
<circle cx="222.0" cy="737.4" r="1.2" fill="#2aa9f2"/>
<polyline points="45.4,610.1 48.5,633.7 51.0,631.0 99.7,639.4 100.8,642.5 102.6,625.0 104.9,633.7 107.6,623.2 108.9,647.7 110.8,615.4 112.4,621.9 156.2,611.9 158.9,640.3 162.5,638.6 165.9,629.8 217.3,638.1 217.5,630.2 220.1,609.7 221.4,630.2" fill="none" stroke="#2fe02a" stroke-width="1"/>
<circle cx="45.4" cy="610.1" r="1.2" fill="#2fe02a"/>
<circle cx="48.5" cy="633.7" r="1.2" fill="#2fe02a"/>
<circle cx="51.0" cy="631.0" r="1.2" fill="#2fe02a"/>
<circle cx="99.7" cy="639.4" r="1.2" fill="#2fe02a"/>
<circle cx="100.8" cy="642.5" r="1.2" fill="#2fe02a"/>
<circle cx="102.6" cy="625.0" r="1.2" fill="#2fe02a"/>
<circle cx="104.9" cy="633.7" r="1.2" fill="#2fe02a"/>
<circle cx="107.6" cy="623.2" r="1.2" fill="#2fe02a"/>
<circle cx="108.9" cy="647.7" r="1.2" fill="#2fe02a"/>
<circle cx="110.8" cy="615.4" r="1.2" fill="#2fe02a"/>
<circle cx="112.4" cy="621.9" r="1.2" fill="#2fe02a"/>
<circle cx="156.2" cy="611.9" r="1.2" fill="#2fe02a"/>
<circle cx="158.9" cy="640.3" r="1.2" fill="#2fe02a"/>
<circle cx="162.5" cy="638.6" r="1.2" fill="#2fe02a"/>
<circle cx="165.9" cy="629.8" r="1.2" fill="#2fe02a"/>
<circle cx="217.3" cy="638.1" r="1.2" fill="#2fe02a"/>
<circle cx="217.5" cy="630.2" r="1.2" fill="#2fe02a"/>
<circle cx="220.1" cy="609.7" r="1.2" fill="#2fe02a"/>
<circle cx="221.4" cy="630.2" r="1.2" fill="#2fe02a"/>
<polyline points="45.7,604.4 48.5,625.9 51.0,623.1 99.2,626.7 100.6,620.6 104.9,626.7 108.0,613.2 108.9,634.2 110.8,612.7 112.4,618.9 157.1,607.9 158.9,607.5 159.0,630.7 161.9,611.0 162.5,627.6 165.9,619.9 212.9,625.0 217.5,623.7 219.9,605.3 221.4,623.7" fill="none" stroke="#e8101a" stroke-width="1"/>
<circle cx="45.7" cy="604.4" r="1.2" fill="#e8101a"/>
<circle cx="48.5" cy="625.9" r="1.2" fill="#e8101a"/>
<circle cx="51.0" cy="623.1" r="1.2" fill="#e8101a"/>
<circle cx="99.2" cy="626.7" r="1.2" fill="#e8101a"/>
<circle cx="100.6" cy="620.6" r="1.2" fill="#e8101a"/>
<circle cx="104.9" cy="626.7" r="1.2" fill="#e8101a"/>
<circle cx="108.0" cy="613.2" r="1.2" fill="#e8101a"/>
<circle cx="108.9" cy="634.2" r="1.2" fill="#e8101a"/>
<circle cx="110.8" cy="612.7" r="1.2" fill="#e8101a"/>
<circle cx="112.4" cy="618.9" r="1.2" fill="#e8101a"/>
<circle cx="157.1" cy="607.9" r="1.2" fill="#e8101a"/>
<circle cx="158.9" cy="607.5" r="1.2" fill="#e8101a"/>
<circle cx="159.0" cy="630.7" r="1.2" fill="#e8101a"/>
<circle cx="161.9" cy="611.0" r="1.2" fill="#e8101a"/>
<circle cx="162.5" cy="627.6" r="1.2" fill="#e8101a"/>
<circle cx="165.9" cy="619.9" r="1.2" fill="#e8101a"/>
<circle cx="212.9" cy="625.0" r="1.2" fill="#e8101a"/>
<circle cx="217.5" cy="623.7" r="1.2" fill="#e8101a"/>
<circle cx="219.9" cy="605.3" r="1.2" fill="#e8101a"/>
<circle cx="221.4" cy="623.7" r="1.2" fill="#e8101a"/>
<polyline points="45.9,605.7 48.5,622.8 51.0,621.9 100.1,628.9 100.8,632.0 102.3,617.1 104.9,624.6 106.5,598.0 107.8,612.9 108.9,629.8 110.8,617.1 112.4,619.6 156.2,608.8 158.0,610.1 158.9,625.9 161.7,613.6 162.5,624.6 165.9,615.2 212.7,622.5 217.5,614.9 220.1,608.4 221.4,621.1 221.9,614.9" fill="none" stroke="#000" stroke-width="1"/>
<circle cx="45.9" cy="605.7" r="1.2" fill="#000"/>
<circle cx="48.5" cy="622.8" r="1.2" fill="#000"/>
<circle cx="51.0" cy="621.9" r="1.2" fill="#000"/>
<circle cx="100.1" cy="628.9" r="1.2" fill="#000"/>
<circle cx="100.8" cy="632.0" r="1.2" fill="#000"/>
<circle cx="102.3" cy="617.1" r="1.2" fill="#000"/>
<circle cx="104.9" cy="624.6" r="1.2" fill="#000"/>
<circle cx="106.5" cy="598.0" r="1.2" fill="#000"/>
<circle cx="107.8" cy="612.9" r="1.2" fill="#000"/>
<circle cx="108.9" cy="629.8" r="1.2" fill="#000"/>
<circle cx="110.8" cy="617.1" r="1.2" fill="#000"/>
<circle cx="112.4" cy="619.6" r="1.2" fill="#000"/>
<circle cx="156.2" cy="608.8" r="1.2" fill="#000"/>
<circle cx="158.0" cy="610.1" r="1.2" fill="#000"/>
<circle cx="158.9" cy="625.9" r="1.2" fill="#000"/>
<circle cx="161.7" cy="613.6" r="1.2" fill="#000"/>
<circle cx="162.5" cy="624.6" r="1.2" fill="#000"/>
<circle cx="165.9" cy="615.2" r="1.2" fill="#000"/>
<circle cx="212.7" cy="622.5" r="1.2" fill="#000"/>
<circle cx="217.5" cy="614.9" r="1.2" fill="#000"/>
<circle cx="220.1" cy="608.4" r="1.2" fill="#000"/>
<circle cx="221.4" cy="621.1" r="1.2" fill="#000"/>
<circle cx="221.9" cy="614.9" r="1.2" fill="#000"/>
<rect x="38.8" y="591.7" width="190" height="174.5" stroke="#000" stroke-width="1" fill="none"/>
<line x1="65.5" y1="766.2" x2="219.5" y2="766.2" stroke="#000" stroke-width="1"/>
<line x1="65.5" y1="766.2" x2="65.5" y2="772.2" stroke="#000" stroke-width="1"/>
<line x1="96.3" y1="766.2" x2="96.3" y2="772.2" stroke="#000" stroke-width="1"/>
<line x1="127.1" y1="766.2" x2="127.1" y2="772.2" stroke="#000" stroke-width="1"/>
<line x1="157.9" y1="766.2" x2="157.9" y2="772.2" stroke="#000" stroke-width="1"/>
<line x1="188.7" y1="766.2" x2="188.7" y2="772.2" stroke="#000" stroke-width="1"/>
<line x1="219.5" y1="766.2" x2="219.5" y2="772.2" stroke="#000" stroke-width="1"/>
<text x="65.5" y="786.5" font-size="9.3" text-anchor="middle" font-weight="normal" fill="#000">53400</text>
<text x="127.1" y="786.5" font-size="9.3" text-anchor="middle" font-weight="normal" fill="#000">53800</text>
<text x="188.7" y="786.5" font-size="9.3" text-anchor="middle" font-weight="normal" fill="#000">54200</text>
<text x="133.8" y="797.2" font-size="9.3" text-anchor="middle" font-weight="normal" fill="#000">Time</text>
<line x1="38.8" y1="607.2" x2="38.8" y2="734.7" stroke="#000" stroke-width="1"/>
<line x1="32.8" y1="607.2" x2="38.8" y2="607.2" stroke="#000" stroke-width="1"/>
<line x1="32.8" y1="649.7" x2="38.8" y2="649.7" stroke="#000" stroke-width="1"/>
<line x1="32.8" y1="692.2" x2="38.8" y2="692.2" stroke="#000" stroke-width="1"/>
<line x1="32.8" y1="734.7" x2="38.8" y2="734.7" stroke="#000" stroke-width="1"/>
<text x="25.8" y="607.2" font-size="9.3" text-anchor="middle" font-weight="normal" fill="#000" transform="rotate(-90 25.8 607.2)">17.5</text>
<text x="25.8" y="649.7" font-size="9.3" text-anchor="middle" font-weight="normal" fill="#000" transform="rotate(-90 25.8 649.7)">18.0</text>
<text x="25.8" y="692.2" font-size="9.3" text-anchor="middle" font-weight="normal" fill="#000" transform="rotate(-90 25.8 692.2)">18.5</text>
<text x="25.8" y="734.7" font-size="9.3" text-anchor="middle" font-weight="normal" fill="#000" transform="rotate(-90 25.8 734.7)">19.0</text>
<text x="15.4" y="678.95" font-size="9.3" text-anchor="middle" font-weight="normal" fill="#000" transform="rotate(-90 15.4 678.95)">Magnitudes</text>
<text x="133.7" y="584" font-size="8.75" text-anchor="middle" font-weight="bold" fill="#000">Raw light curve</text>
<clipPath id="cc"><rect x="273.2" y="591.7" width="195.3" height="174.5"/></clipPath><g clip-path="url(#cc)">
<path d="M288.6 677.2h0M343.4 693.7h0M463.7 594.5h0M359.7 614.7h0M364.4 606.8h0M364.6 622.7h0M381.4 614.1h0M338.4 709.0h0M356.3 679.0h0M336.1 686.1h0M388.2 612.2h0M358.4 663.8h0M327.8 642.0h0M327.9 672.3h0M347.0 619.2h0M313.7 655.9h0M368.1 713.4h0M356.0 711.8h0M388.9 621.6h0M303.5 690.7h0M443.8 592.7h0M425.6 601.6h0M343.1 648.6h0M373.0 618.1h0M436.0 625.4h0M390.8 623.1h0M444.4 594.8h0M442.4 594.8h0M346.3 598.5h0M326.9 663.4h0M382.5 620.9h0M350.1 661.4h0M378.9 638.1h0M359.9 595.8h0M381.3 658.4h0M398.9 599.2h0M306.0 603.7h0M321.5 657.9h0M299.8 685.0h0M347.3 623.9h0M376.6 670.4h0M394.4 622.9h0M424.8 597.1h0M275.4 714.8h0M453.5 610.0h0M354.1 634.0h0M289.3 680.1h0M370.7 615.2h0M361.5 695.7h0M346.5 729.5h0M330.9 645.8h0M303.5 740.4h0M460.3 609.3h0M439.1 608.3h0M344.4 680.8h0M373.9 671.4h0M334.1 639.9h0M281.8 690.9h0M461.3 601.9h0M389.1 654.4h0M353.2 626.8h0M387.4 684.6h0M361.6 630.5h0M341.4 703.8h0M287.5 687.6h0M331.7 725.8h0M276.2 663.7h0M334.0 696.4h0M290.2 611.0h0M362.7 621.4h0M383.7 725.4h0M383.7 639.4h0M327.9 659.7h0M325.8 662.9h0M398.9 606.6h0M285.6 715.0h0M399.4 600.3h0M379.1 619.1h0M317.1 669.6h0M454.3 595.1h0M357.3 642.0h0M343.0 723.3h0M373.3 618.1h0M453.1 615.3h0M400.4 620.3h0M407.0 601.9h0M350.5 730.6h0M366.4 625.0h0M344.1 609.8h0M438.9 618.9h0M337.2 664.3h0M449.5 606.6h0M350.9 640.3h0M377.4 612.2h0M432.3 633.2h0M370.9 621.2h0M392.5 609.3h0M322.8 692.9h0M445.0 603.2h0M395.3 637.7h0M351.1 622.8h0M401.9 593.0h0M371.1 643.5h0M377.9 630.2h0M380.8 628.4h0M457.3 592.5h0M372.6 651.5h0M452.0 688.1h0M303.0 691.7h0M366.8 634.7h0M363.6 644.6h0M380.7 618.8h0M333.4 700.2h0M300.3 684.2h0M353.2 628.1h0M359.6 635.9h0M318.5 629.3h0M346.5 631.9h0M376.4 631.6h0M414.0 594.0h0M318.6 655.7h0M410.9 598.9h0M317.5 632.4h0M296.8 657.4h0M373.7 632.3h0M415.6 598.4h0M356.5 637.0h0M344.8 620.5h0M383.2 618.2h0M336.8 625.1h0M295.3 657.3h0M397.6 600.2h0M345.7 629.5h0M335.2 698.0h0M406.6 596.5h0M457.2 603.4h0M448.4 609.5h0M282.6 697.3h0M338.3 653.2h0M326.6 650.6h0M352.9 761.4h0M390.4 616.5h0M453.7 596.5h0M402.8 606.5h0M283.6 660.9h0M438.2 608.3h0M410.0 619.1h0M387.3 616.6h0M353.3 636.4h0M293.1 665.2h0M440.4 598.9h0M356.4 624.6h0M393.5 645.6h0M414.7 596.2h0M397.0 600.1h0M400.0 616.4h0M388.7 670.2h0M339.3 654.9h0M343.7 645.8h0M467.7 603.6h0M383.9 623.8h0M366.9 594.9h0M365.0 669.9h0M463.9 610.2h0M350.1 631.6h0M419.3 603.5h0M367.5 612.6h0M335.2 759.5h0M363.0 626.8h0M409.1 598.4h0M367.5 626.3h0M299.3 643.8h0M364.0 611.4h0M383.6 615.0h0M290.3 688.0h0M361.8 649.5h0M381.8 661.4h0M404.7 619.5h0M380.9 660.8h0M291.8 675.2h0M425.4 599.4h0M415.3 616.2h0M370.0 661.2h0M362.2 612.9h0M374.2 617.8h0M398.7 622.7h0M376.5 655.4h0M357.1 661.2h0M406.7 617.0h0M343.0 654.0h0M293.3 700.9h0M382.3 689.6h0M414.6 616.3h0M358.2 690.1h0M276.5 674.4h0M342.9 659.2h0M318.1 661.3h0M290.9 681.7h0M364.3 643.5h0M356.2 612.6h0M333.7 707.0h0M441.6 616.2h0M397.9 593.9h0M365.8 620.1h0M352.8 699.8h0M468.2 608.5h0M415.9 611.1h0M366.2 716.2h0M372.7 650.3h0M402.6 610.0h0M352.2 593.4h0M318.7 670.2h0M401.6 629.5h0M328.7 646.3h0M431.9 728.5h0M328.8 641.6h0M398.6 596.6h0M287.4 672.0h0M429.9 603.2h0M394.4 620.9h0M348.4 626.8h0M410.4 597.8h0M367.9 659.3h0M380.5 597.6h0M312.2 704.2h0M466.6 694.8h0M364.8 652.6h0M277.4 714.4h0M393.3 596.1h0M467.6 594.8h0M420.6 604.0h0M399.0 644.1h0M360.0 641.2h0M320.1 720.3h0M389.6 598.0h0M342.3 637.2h0M440.0 602.4h0M347.0 635.7h0M340.8 649.6h0M369.4 611.3h0M342.2 654.9h0M356.8 658.7h0M369.7 611.2h0M452.7 598.7h0M364.8 678.3h0M422.7 606.0h0M432.1 608.8h0M358.3 628.5h0M390.6 627.8h0M445.2 604.1h0M362.5 661.6h0M345.8 641.9h0M307.4 698.4h0M383.0 610.3h0M389.6 594.2h0M363.3 712.5h0M412.8 610.0h0M340.7 665.7h0M365.1 619.1h0M379.7 600.5h0M417.4 595.5h0M347.1 661.2h0M354.2 612.7h0M418.9 613.1h0M328.0 656.9h0M379.8 619.8h0M441.9 603.7h0M402.0 601.9h0M449.3 605.5h0M359.8 643.4h0M357.2 651.2h0M449.7 610.3h0M395.0 591.8h0M367.4 642.9h0M402.3 619.1h0M381.6 604.7h0M320.5 662.1h0M351.5 641.8h0M379.4 633.5h0M449.3 614.9h0M362.6 629.7h0M337.1 650.8h0M389.0 601.8h0M367.7 612.4h0M409.8 603.8h0M359.0 631.4h0M284.3 647.7h0M401.8 593.0h0M393.1 613.7h0M347.9 605.7h0M373.3 681.0h0M433.0 604.6h0M365.2 612.5h0M357.8 642.3h0M379.6 703.6h0M371.5 715.0h0M391.4 612.9h0M381.7 630.9h0M355.6 703.2h0M355.6 655.3h0M348.4 644.6h0M384.6 666.8h0M284.4 707.7h0M453.7 595.1h0M383.8 595.6h0M350.6 632.2h0M393.6 617.7h0M417.6 609.2h0M402.3 596.0h0M333.9 702.6h0M353.7 628.8h0M416.9 617.2h0M410.7 616.6h0M435.5 600.1h0M426.1 597.1h0M364.6 640.5h0M337.1 691.3h0M381.4 648.3h0M363.9 608.0h0M376.3 615.0h0M374.8 625.1h0M338.8 646.4h0M400.9 602.2h0M345.5 712.3h0M350.2 619.6h0M394.0 686.1h0M420.3 604.2h0M339.2 651.7h0M358.5 665.8h0M385.8 614.9h0M346.4 659.8h0M301.8 670.7h0M336.8 667.9h0M431.9 596.2h0M349.8 634.7h0M393.5 633.8h0M297.2 686.9h0M325.8 659.2h0M373.2 616.0h0M382.9 685.5h0M319.2 621.1h0M399.1 619.6h0M377.5 616.0h0M357.8 630.8h0M371.3 691.6h0M359.1 608.1h0M394.2 609.9h0M410.3 604.0h0M369.7 627.6h0M436.3 614.6h0M349.1 629.7h0M334.5 691.9h0M374.9 644.4h0M314.6 685.4h0M307.5 713.5h0M338.0 597.0h0M374.4 618.6h0M374.7 627.1h0M360.6 719.5h0M370.1 615.4h0M391.9 630.2h0M436.5 601.3h0M341.1 647.2h0M435.3 607.2h0M449.6 604.0h0M316.8 644.4h0M358.0 654.2h0M432.6 605.5h0M455.9 596.2h0M324.1 622.9h0M366.7 667.1h0M429.3 625.0h0M281.1 616.6h0M417.4 628.0h0M340.4 654.4h0M399.9 629.5h0M396.5 595.1h0M451.8 655.4h0M364.0 638.4h0M439.9 593.4h0M362.6 621.3h0M398.6 636.1h0M353.1 696.3h0M375.8 636.7h0M356.8 696.3h0M412.5 616.6h0M341.0 701.6h0M439.0 599.5h0M351.0 646.4h0M467.0 598.4h0M389.0 617.4h0M373.8 624.2h0M415.3 619.6h0M312.1 685.6h0M369.4 611.5h0M366.4 629.8h0M380.4 609.7h0M413.7 597.3h0M367.7 717.4h0M373.2 592.9h0M451.9 599.3h0M369.4 636.8h0M397.3 598.2h0M405.4 632.3h0M326.4 642.2h0M386.4 601.0h0M437.2 611.6h0M379.1 608.8h0M314.3 662.2h0M314.4 685.1h0M418.0 597.7h0M369.8 631.9h0M370.2 722.3h0M468.0 594.2h0M464.3 611.2h0M339.9 625.7h0M347.8 652.5h0M317.4 721.5h0M381.0 615.1h0M413.1 622.2h0M300.8 702.4h0M342.8 644.3h0M290.0 677.0h0M392.9 594.6h0M319.5 646.6h0M376.5 643.9h0M273.9 686.0h0M349.3 629.3h0M449.0 606.6h0M345.3 685.3h0M354.2 634.2h0M361.2 598.1h0M326.1 652.5h0M337.3 668.3h0M373.0 644.4h0M301.6 646.4h0M402.6 616.3h0M366.8 657.6h0M301.5 689.5h0M359.0 621.8h0M444.1 620.6h0M316.5 614.3h0M346.9 642.7h0M382.7 616.4h0M329.0 643.5h0M367.6 640.7h0M373.7 648.8h0M396.2 605.2h0M402.7 594.5h0M339.8 701.6h0M358.4 718.4h0M344.9 651.7h0M359.8 677.8h0M379.3 615.7h0M374.2 619.3h0M371.1 643.2h0M400.8 618.4h0M382.3 631.6h0M375.7 691.5h0M373.7 628.4h0M365.7 634.2h0M285.7 680.3h0M292.9 680.8h0M299.7 621.9h0M397.2 605.4h0M395.0 601.9h0M449.0 600.9h0M412.8 600.5h0M405.0 615.4h0M360.0 711.7h0M460.7 594.7h0M312.9 675.4h0M365.4 719.1h0M341.4 626.4h0M359.3 635.1h0M351.8 618.7h0M427.2 609.5h0M361.3 642.2h0M387.9 637.9h0M350.9 625.3h0M296.1 675.1h0M347.3 632.6h0M373.2 605.8h0M419.9 614.3h0M407.2 597.9h0M419.8 596.7h0M404.3 625.2h0M369.1 603.6h0M372.6 634.0h0M316.0 652.9h0M281.7 716.3h0M285.8 690.3h0M360.5 709.9h0M417.3 624.1h0M354.5 644.9h0M312.0 640.4h0M327.8 662.8h0M360.3 619.1h0M373.7 638.8h0M360.9 696.7h0M397.2 752.1h0M421.9 599.0h0M391.7 635.5h0M382.5 628.3h0M381.1 596.4h0M328.3 644.9h0M407.9 601.6h0M323.8 657.4h0M276.6 667.2h0M398.9 605.2h0M421.0 595.2h0M395.8 607.0h0M342.5 612.3h0M373.1 649.6h0M348.2 644.9h0M381.7 626.9h0M337.9 646.9h0M452.0 602.4h0M307.6 639.9h0M405.8 666.6h0M450.7 593.6h0M378.1 622.9h0M325.6 632.4h0M382.0 613.3h0M437.7 591.8h0M356.4 703.0h0M349.9 653.3h0M360.7 618.4h0M398.9 642.4h0M411.9 621.6h0M390.9 597.7h0M333.9 663.4h0M404.9 611.3h0M428.3 597.8h0M392.9 623.3h0M467.0 594.9h0M337.5 649.7h0M466.2 594.6h0M375.5 633.9h0M405.8 627.1h0M357.6 725.6h0M403.1 592.7h0M374.5 716.0h0M339.9 650.5h0M312.1 654.7h0M347.5 630.2h0M413.2 616.3h0M395.7 621.7h0M456.5 592.2h0M368.0 660.7h0M451.4 619.7h0M349.7 623.1h0M379.0 605.3h0M334.5 657.0h0M381.2 606.5h0M404.2 634.9h0M430.6 609.9h0M438.0 605.1h0M317.1 722.6h0M374.5 676.8h0M399.6 610.8h0M291.7 680.4h0M387.1 603.4h0M277.1 672.6h0M362.5 702.8h0M395.4 599.6h0M405.4 615.4h0M404.2 597.3h0M408.0 592.8h0M417.7 611.5h0M351.0 595.7h0M298.1 671.2h0M338.2 698.6h0M390.0 597.9h0M350.2 661.7h0M391.7 616.0h0M354.4 709.5h0M277.7 631.0h0M373.2 660.8h0M297.4 664.2h0M430.1 594.7h0M359.1 598.0h0M402.9 592.1h0M464.7 596.3h0M322.7 645.8h0M289.8 695.3h0M377.7 648.2h0M373.8 615.8h0M346.8 599.6h0M400.0 605.4h0M352.7 630.9h0M341.3 690.3h0M382.4 650.8h0M338.4 649.5h0M369.5 703.4h0M359.9 614.1h0M410.6 599.2h0M350.0 632.4h0M331.5 640.7h0M388.1 735.4h0M345.8 645.4h0M390.1 610.9h0M288.4 677.4h0M318.0 655.3h0M385.9 665.1h0M395.4 675.2h0M338.3 661.9h0M413.6 613.3h0M435.5 592.8h0M307.0 682.8h0M361.4 637.4h0M377.4 612.6h0M458.6 597.3h0M426.9 617.8h0M396.7 621.2h0M352.3 694.0h0M423.1 593.9h0M391.2 631.8h0M348.8 619.4h0M416.3 626.1h0M279.2 633.1h0M344.9 721.6h0M392.5 594.7h0M379.5 622.1h0M371.6 616.2h0M439.9 617.6h0M417.7 591.8h0M322.1 658.7h0M430.8 665.9h0M378.6 610.6h0M339.9 657.3h0M376.8 654.1h0M422.0 618.0h0M358.6 672.9h0M363.2 682.0h0M383.8 637.8h0M394.4 615.2h0M335.4 648.4h0M448.5 617.2h0M355.1 690.0h0M397.8 615.2h0M395.1 620.2h0M398.9 594.2h0M456.9 597.3h0M334.2 624.0h0M303.1 730.3h0M346.9 620.2h0M368.5 619.7h0M361.6 599.2h0M311.3 657.5h0M391.7 605.3h0M431.1 615.3h0M394.8 619.8h0M326.6 629.4h0M419.4 605.0h0M392.2 618.0h0M379.1 616.0h0M279.8 692.5h0M378.2 625.0h0M359.7 638.2h0M360.7 620.5h0M340.8 608.4h0M342.0 651.5h0M389.9 617.8h0M416.5 606.7h0M383.2 656.0h0M331.2 634.6h0M278.5 706.1h0M441.9 593.2h0M374.4 657.7h0M369.6 658.2h0M364.6 668.2h0M326.4 647.8h0M467.4 596.6h0M367.4 662.1h0M355.8 630.2h0M340.9 632.7h0M346.6 650.2h0M445.8 607.5h0M350.2 705.7h0M397.1 613.2h0M369.4 668.4h0M365.3 697.7h0M343.9 626.6h0M381.0 646.9h0M405.3 592.5h0M325.2 675.0h0M415.5 593.8h0M356.0 700.6h0M411.4 618.0h0M346.2 656.5h0M275.4 685.5h0M334.4 622.6h0M283.1 710.2h0M360.4 632.9h0M371.7 615.9h0M382.8 635.5h0M405.8 602.9h0M364.5 631.1h0M361.0 753.3h0M393.8 614.4h0M398.8 664.9h0M385.1 600.6h0M359.6 596.6h0M315.2 680.6h0M372.8 669.5h0M457.8 601.2h0M411.4 600.0h0M327.3 687.8h0M346.4 651.6h0M343.4 634.6h0M339.6 664.1h0M391.9 592.9h0M438.0 620.1h0M360.1 611.8h0M342.5 667.6h0M418.6 621.2h0M339.0 717.9h0M425.8 623.9h0M360.4 660.9h0M319.7 652.5h0M298.3 676.1h0M395.3 611.7h0M326.3 647.4h0M283.2 675.4h0M371.6 632.0h0M332.0 642.0h0M279.5 711.5h0M367.7 609.7h0M399.2 604.5h0M359.1 667.9h0M370.6 616.9h0M374.4 610.1h0M414.2 596.1h0M400.2 608.9h0M361.8 632.2h0M323.3 708.5h0M321.4 633.1h0M385.4 628.1h0M307.8 679.5h0M385.2 643.4h0M326.5 640.0h0M347.0 647.9h0M401.3 627.8h0M337.3 634.6h0M292.7 614.7h0M336.1 632.6h0M342.7 653.0h0M321.4 659.8h0M355.5 627.6h0M456.4 592.4h0M364.8 718.6h0M322.1 637.3h0M457.7 617.4h0M407.1 600.2h0M372.6 612.7h0M401.6 608.5h0M377.4 619.0h0M342.8 621.4h0M377.5 660.4h0M304.2 695.5h0M371.6 642.9h0M431.8 598.9h0M408.2 605.0h0M334.8 649.0h0M351.0 643.9h0M311.2 704.7h0M395.5 599.0h0M350.3 614.6h0M332.7 640.4h0M378.8 652.2h0M333.5 639.7h0M408.9 596.7h0M303.3 598.6h0M339.9 721.4h0M303.3 715.4h0M279.5 710.2h0M346.9 672.9h0M383.6 624.8h0M402.4 638.0h0M376.8 631.7h0M339.3 650.1h0M348.0 640.3h0M363.4 690.2h0M384.9 624.8h0M415.7 599.1h0M392.9 625.6h0M379.7 610.1h0M436.5 603.5h0M335.9 650.6h0M420.3 616.9h0M299.6 714.6h0M307.0 689.9h0M394.0 616.8h0M373.6 717.1h0M419.7 601.3h0M392.9 620.5h0M325.1 654.8h0M430.0 600.4h0M441.4 594.1h0M343.7 693.0h0M349.4 631.8h0M421.1 742.6h0M329.3 658.2h0M363.6 704.3h0M389.1 661.7h0M392.1 637.6h0M388.4 600.7h0M373.2 626.8h0M384.0 631.5h0M352.6 699.4h0M385.4 701.5h0M415.4 610.4h0M461.1 595.8h0M350.2 691.8h0M347.9 647.9h0M330.6 686.7h0M305.6 655.7h0M367.5 693.4h0M338.9 700.7h0M372.0 600.1h0M448.4 600.8h0M459.8 603.5h0M409.4 601.5h0M452.5 618.1h0M437.6 611.2h0M296.9 681.9h0M426.6 594.6h0M368.6 643.2h0M340.5 629.5h0M330.4 664.9h0M416.6 629.7h0M343.9 655.1h0M338.2 633.3h0M385.2 592.2h0M340.8 634.1h0M325.0 644.0h0M443.9 619.5h0M351.4 620.8h0M405.1 628.4h0M437.8 603.8h0M371.3 641.3h0M378.4 618.2h0M282.0 702.1h0M332.8 635.0h0M287.3 680.6h0M319.5 649.1h0M390.6 620.8h0M383.4 599.2h0M374.4 625.5h0M366.4 658.6h0M405.2 614.7h0M446.2 611.7h0M391.6 722.7h0M337.9 652.9h0M334.0 681.6h0M403.5 593.5h0M375.3 620.2h0M379.4 740.3h0M339.1 643.9h0M373.0 608.4h0M380.4 592.3h0M285.2 694.1h0M338.1 648.6h0M437.9 616.2h0M375.7 658.8h0M355.6 656.8h0M408.4 606.7h0M365.0 647.9h0M283.7 676.4h0M359.5 688.5h0M277.3 719.8h0M410.4 592.4h0M326.8 673.9h0M399.5 611.9h0M342.6 732.0h0M349.1 628.7h0M332.6 651.0h0M329.5 689.5h0M278.3 715.6h0M359.5 617.1h0M375.2 621.8h0M360.1 641.6h0M393.3 595.2h0M334.8 623.5h0M356.3 744.8h0M330.7 668.7h0M345.9 638.2h0M384.3 605.0h0M384.0 671.7h0M357.8 636.2h0M295.5 685.4h0M359.6 682.2h0M357.5 648.6h0M377.4 663.8h0M418.8 602.1h0M404.5 609.2h0M373.3 620.6h0M295.4 730.8h0M357.1 628.7h0M399.9 597.1h0M292.0 686.7h0M399.0 598.5h0M351.6 708.1h0M412.6 613.7h0M276.0 689.2h0M406.8 595.0h0M435.0 597.8h0M375.6 623.7h0M374.6 676.5h0M404.1 618.3h0M407.6 612.4h0M371.4 675.7h0M400.7 619.4h0M368.9 697.0h0M430.9 602.7h0M354.0 646.1h0M381.8 641.4h0M374.2 642.8h0M347.9 727.9h0M364.7 656.7h0M343.7 681.6h0M368.3 645.6h0M405.5 606.9h0M383.5 616.9h0M343.0 639.0h0M419.8 601.8h0M342.2 606.8h0M453.4 594.2h0M369.5 625.3h0M399.1 628.7h0M332.5 706.1h0M363.8 617.3h0M360.4 600.1h0M383.0 635.1h0M438.1 614.4h0M391.2 598.1h0M351.8 641.3h0M381.2 617.0h0M366.0 622.6h0M334.9 646.4h0M371.0 594.6h0M340.6 666.2h0M395.3 601.2h0M374.8 601.7h0M345.8 659.7h0M300.0 645.8h0M355.9 690.2h0M423.4 603.4h0M295.0 678.9h0M427.6 742.4h0M351.1 707.3h0M364.8 644.0h0M318.6 674.0h0M318.9 672.1h0M459.4 594.2h0M407.1 616.8h0M389.6 624.9h0M370.3 639.8h0M286.6 700.4h0M296.3 666.2h0M412.6 592.9h0M345.7 667.4h0M365.9 601.8h0M406.8 671.3h0M388.3 638.1h0M429.9 608.5h0M388.3 639.3h0M353.0 712.6h0M322.2 733.7h0M431.2 611.5h0M367.4 614.8h0M322.9 663.4h0M417.3 605.6h0M347.6 689.6h0M331.1 697.8h0M380.4 593.2h0M376.4 647.9h0M446.5 599.7h0M372.6 611.3h0M324.0 668.9h0M396.3 627.9h0M449.9 604.7h0M355.1 633.8h0M386.4 611.2h0M332.4 690.5h0M362.8 655.9h0M407.2 608.6h0M400.3 626.8h0M353.6 707.0h0M309.7 633.1h0M402.5 595.7h0M444.9 609.5h0M361.6 647.3h0M352.9 652.2h0M379.7 635.7h0M371.5 603.2h0M359.6 650.9h0M347.1 653.9h0M319.2 655.0h0M348.5 650.3h0M467.7 601.2h0M380.6 614.1h0M365.1 638.1h0M354.0 628.5h0M383.6 633.5h0M360.7 631.9h0M336.0 641.4h0M378.5 592.1h0M322.0 690.7h0M379.6 615.1h0M358.1 600.5h0M336.0 634.2h0M444.7 596.4h0M468.3 600.4h0M426.4 612.2h0M466.2 606.0h0M337.6 644.4h0M367.1 623.5h0M328.5 681.5h0M326.2 724.7h0M327.9 634.4h0M377.4 630.8h0M388.7 594.4h0M352.2 669.6h0M377.3 609.3h0M388.6 592.1h0M371.9 672.8h0M378.5 711.1h0M365.5 642.3h0M370.1 636.0h0M419.8 608.0h0M411.4 596.7h0M403.8 610.9h0M378.4 611.3h0M277.4 677.1h0M325.4 634.1h0M382.9 594.9h0M290.5 698.5h0M438.3 623.0h0M429.7 604.1h0M323.1 630.9h0M320.0 683.7h0M277.0 659.1h0M360.1 717.8h0M365.4 663.7h0M400.3 605.3h0M429.4 598.1h0M330.4 656.6h0M387.2 626.8h0M367.7 634.6h0M361.0 660.8h0M403.4 682.6h0M362.4 646.2h0M333.2 633.2h0M353.7 647.5h0M343.4 673.9h0M341.2 622.6h0M366.3 614.5h0M402.5 689.1h0M421.0 602.7h0M369.3 672.3h0M362.9 636.6h0M336.4 695.4h0M338.0 653.7h0M445.0 689.8h0M300.2 686.8h0M374.1 676.9h0M361.4 692.1h0M395.2 597.9h0M283.6 718.4h0M445.9 605.6h0M282.7 676.2h0M351.5 654.3h0M466.2 643.9h0M372.0 680.9h0M348.0 710.6h0M430.5 591.8h0M410.5 604.5h0M336.9 659.6h0M333.2 657.3h0M463.3 596.1h0M293.1 675.2h0M368.4 640.2h0M376.8 606.5h0M409.9 610.7h0M348.4 719.2h0M373.3 634.9h0M375.8 620.6h0M329.7 683.1h0M360.9 670.8h0M325.9 700.2h0M360.7 641.8h0M381.6 694.3h0M414.3 605.9h0M324.0 642.7h0M385.8 713.6h0M376.4 635.1h0M437.4 591.9h0M330.8 652.0h0M405.6 603.0h0M349.7 659.7h0M387.6 634.2h0M384.2 673.0h0M420.5 612.3h0M360.2 634.5h0M282.1 671.5h0M360.5 626.2h0M366.9 612.0h0M345.4 632.9h0M311.9 649.5h0M328.6 655.8h0M461.5 598.7h0M404.2 619.3h0M367.3 617.3h0M345.1 674.0h0M316.9 662.0h0M347.0 646.7h0M361.5 635.8h0M317.5 657.5h0M418.2 592.0h0M381.8 612.6h0M389.5 600.1h0M275.6 731.4h0M409.2 602.7h0M356.4 642.0h0M365.5 655.9h0M367.6 611.8h0M419.2 610.9h0M424.7 613.8h0M461.5 598.8h0M332.4 674.7h0M373.2 718.1h0M373.1 699.7h0M361.6 650.5h0M363.8 617.1h0M346.0 710.5h0M273.5 635.2h0M370.6 626.6h0M383.6 595.5h0M347.0 692.1h0M396.3 628.1h0M338.5 655.1h0M370.1 625.1h0M337.2 664.9h0M354.0 701.8h0M385.5 732.3h0M377.7 667.6h0M418.1 605.0h0M297.8 716.7h0M413.2 604.6h0M342.4 622.6h0M313.6 659.7h0M383.6 628.2h0M323.7 648.1h0M447.6 597.5h0M372.0 599.8h0M395.3 627.7h0M380.2 615.6h0M408.0 612.2h0M396.5 608.2h0M398.6 635.4h0M460.6 619.5h0M406.6 631.8h0M340.3 636.5h0M334.4 635.3h0M350.1 618.7h0M294.2 699.9h0M348.5 616.1h0M363.9 662.9h0M345.6 649.5h0M382.0 600.4h0M463.0 598.5h0M410.0 604.3h0M437.2 613.6h0M379.7 642.7h0M355.4 656.3h0M369.3 641.1h0M435.4 603.0h0M380.7 688.8h0M285.8 672.7h0M410.6 728.6h0M326.4 681.5h0M317.7 655.7h0M403.4 604.9h0M335.7 641.6h0M418.8 603.1h0M399.7 602.5h0M397.4 599.3h0M373.5 619.2h0M460.5 599.3h0M376.9 636.8h0M332.9 714.3h0M374.1 706.4h0M362.8 681.2h0M450.5 605.2h0M350.7 624.3h0M336.6 638.8h0M365.4 594.1h0M349.4 664.7h0M446.3 595.5h0M459.2 598.4h0M335.4 707.7h0M346.4 637.7h0M369.3 625.2h0M454.5 594.1h0M377.2 603.2h0M358.0 642.9h0M447.6 611.1h0M461.5 602.4h0M328.9 656.6h0M317.8 646.7h0M363.0 616.1h0M436.6 593.1h0M464.7 600.6h0M328.2 645.0h0M329.0 655.2h0M353.8 636.2h0M321.3 651.7h0M353.5 599.0h0M298.7 664.0h0M380.2 624.9h0M366.2 629.9h0M340.9 715.3h0M312.4 644.4h0M365.9 633.6h0M406.7 601.6h0M464.8 612.5h0M364.3 667.6h0M416.5 592.7h0M377.0 606.4h0M324.2 661.1h0M425.9 596.8h0M350.3 661.4h0M394.5 599.4h0M402.4 623.7h0M287.6 696.8h0M398.1 622.1h0M426.1 599.5h0M346.2 668.1h0M315.2 659.3h0M357.4 626.2h0M329.8 705.0h0M350.0 607.4h0M421.0 613.3h0M399.5 612.0h0M390.7 625.6h0M334.9 646.2h0M382.3 632.7h0M381.7 747.9h0M318.5 694.2h0M397.0 604.2h0M349.3 678.3h0M357.5 626.0h0M321.0 656.9h0M378.9 611.4h0M359.9 699.5h0M407.9 614.3h0M305.6 652.8h0M364.5 626.7h0M363.0 679.7h0M395.6 631.0h0M355.2 634.8h0M456.0 592.7h0M359.5 596.1h0M333.8 662.8h0M360.6 621.8h0M441.7 600.5h0M340.3 662.0h0M466.7 671.2h0M353.8 644.1h0M387.4 725.2h0M417.9 596.3h0M442.8 610.4h0M426.2 618.0h0M411.3 631.7h0M339.1 669.0h0M351.9 648.2h0M389.2 645.0h0M314.2 715.1h0M386.5 623.4h0M319.1 676.9h0M331.8 655.6h0M383.9 597.2h0M367.5 627.9h0M400.0 632.8h0M277.5 679.7h0M395.6 621.4h0M370.1 645.5h0M315.6 653.9h0M347.9 709.3h0M316.8 650.5h0M462.8 602.4h0M335.7 656.4h0M359.9 734.1h0M365.7 660.5h0M336.1 656.9h0M414.1 627.0h0M378.4 650.2h0M384.4 616.1h0M355.1 648.0h0M364.7 706.2h0M380.7 616.0h0M315.7 656.1h0M358.2 614.0h0M275.9 695.4h0M392.7 614.9h0M351.0 713.3h0M345.8 621.0h0M382.8 642.4h0M330.7 632.3h0M433.4 601.2h0M325.1 663.1h0M426.5 593.1h0M341.4 711.5h0M383.8 625.9h0M319.7 671.7h0M339.0 641.8h0M362.8 622.0h0M344.3 654.3h0M389.6 632.9h0M339.2 618.7h0M386.3 627.1h0M402.3 596.4h0M344.4 648.5h0M454.1 601.4h0M439.8 611.4h0M398.6 610.5h0M378.2 597.5h0M337.6 655.0h0M362.2 725.6h0M395.0 625.4h0M362.6 631.5h0M306.6 732.3h0M359.9 680.9h0M274.2 622.7h0M396.8 620.2h0M382.7 675.1h0M333.2 645.8h0M351.9 613.0h0M400.7 604.1h0M357.1 703.7h0M431.5 593.3h0M405.9 606.3h0M404.9 593.0h0M284.5 692.4h0M338.6 653.3h0M403.6 611.9h0M396.6 606.2h0M387.7 591.8h0M388.4 626.8h0M313.7 631.2h0M346.6 623.3h0M429.1 599.9h0M400.5 634.2h0M421.3 615.8h0M377.8 611.8h0M430.6 601.9h0M285.4 669.9h0M324.3 646.5h0M397.8 632.9h0M461.3 610.4h0M350.4 709.8h0M345.3 649.8h0M374.4 646.9h0M340.7 703.3h0M412.4 605.4h0M437.2 600.7h0M276.5 664.4h0M407.1 622.1h0M334.1 650.1h0M378.3 597.5h0M412.6 601.6h0M381.2 667.1h0M387.1 595.7h0M294.1 685.2h0M462.0 610.6h0M353.0 654.1h0M463.8 607.1h0M358.4 635.2h0M384.7 623.0h0M363.5 621.7h0M355.2 605.6h0M357.0 616.5h0M465.1 598.0h0M373.0 662.5h0M430.2 594.7h0M381.6 642.5h0M338.7 652.8h0M371.3 651.1h0M387.6 622.5h0M413.9 599.2h0M384.3 632.2h0M383.9 710.1h0M311.6 635.7h0M387.3 603.8h0M420.7 606.1h0M323.4 678.1h0M399.7 593.9h0M325.9 624.1h0M397.5 607.3h0M406.2 611.8h0M395.6 626.4h0M390.4 605.8h0M452.0 599.6h0M395.8 604.3h0M434.1 605.3h0M367.0 594.9h0M449.6 638.9h0M323.7 659.5h0M391.1 610.2h0M406.6 611.9h0M377.3 632.5h0M358.1 636.2h0M386.1 644.6h0M344.0 686.6h0M360.4 670.9h0M286.5 608.9h0M305.2 705.4h0M343.2 644.9h0M395.1 618.3h0M358.3 636.4h0M374.7 619.5h0M359.1 692.0h0M342.0 664.1h0M318.7 621.6h0M356.2 620.2h0M330.7 651.7h0M424.3 641.6h0M384.7 619.0h0M308.9 669.5h0M394.3 607.6h0M343.9 637.6h0M390.9 622.7h0M315.8 698.3h0M361.5 616.5h0M292.3 712.2h0M401.1 617.8h0M311.9 651.3h0M308.1 653.3h0M402.7 595.2h0M444.4 602.2h0M331.4 646.8h0M376.8 717.5h0M424.1 606.5h0M390.8 599.5h0M426.0 603.6h0M383.4 624.6h0M397.2 612.8h0M431.5 594.2h0M376.8 640.1h0M331.3 611.7h0M434.8 592.1h0M358.7 669.2h0M361.2 702.0h0M389.2 606.6h0M277.3 627.1h0M283.8 692.8h0M307.0 642.7h0M402.6 595.5h0M351.0 643.2h0M280.5 618.8h0M327.5 627.0h0M393.8 608.0h0M430.5 597.2h0M397.8 598.2h0M438.4 622.5h0M367.9 668.8h0M325.9 689.5h0M346.0 696.4h0M343.6 650.1h0M354.1 624.6h0M320.0 635.9h0M402.8 618.4h0M409.9 610.9h0M308.4 667.3h0M421.9 594.7h0M341.1 624.9h0M353.4 651.9h0M360.9 617.1h0M447.9 614.3h0M373.6 666.3h0M382.9 707.2h0M383.5 597.6h0M406.4 621.8h0M329.4 659.5h0M345.3 645.8h0M337.1 637.4h0M433.8 600.1h0M341.7 648.8h0M316.1 658.2h0M428.7 604.8h0M326.4 625.3h0M395.9 625.1h0M307.1 620.0h0M332.7 652.4h0M448.6 598.3h0M349.3 657.1h0M361.2 635.9h0M374.5 608.9h0M351.4 666.1h0M322.4 663.4h0M411.0 616.6h0M393.0 625.8h0M402.3 600.0h0M418.7 606.8h0M333.3 638.5h0M421.3 598.2h0M360.6 676.0h0M343.0 668.7h0M368.1 685.3h0M361.3 620.2h0M314.2 691.7h0M389.4 630.2h0M382.0 636.0h0M296.4 680.9h0M367.0 604.9h0M371.2 680.2h0M356.0 610.5h0M426.2 609.2h0M369.2 625.8h0M429.4 596.5h0M387.0 619.0h0M384.1 611.4h0M358.0 620.6h0M408.9 626.8h0M429.4 599.3h0M322.8 629.7h0M355.5 623.0h0M452.0 599.1h0M407.0 605.4h0M392.3 606.2h0M325.8 654.3h0M384.4 630.5h0M364.3 645.1h0M361.7 644.8h0M361.9 665.4h0M403.3 633.2h0M384.3 677.0h0M439.4 598.5h0M403.9 604.5h0M422.0 614.0h0M313.1 643.0h0M296.2 662.1h0M321.8 675.3h0M350.4 652.3h0M321.2 648.3h0M442.4 630.0h0M333.3 648.5h0M379.9 627.7h0M427.5 608.8h0M404.9 619.2h0M406.0 592.1h0M371.6 697.2h0M350.2 712.9h0M468.5 592.6h0M387.5 717.6h0M278.5 677.6h0M384.3 632.4h0M410.6 604.6h0M462.0 606.6h0M382.6 642.7h0M406.1 595.2h0M382.9 705.1h0M370.7 593.9h0M381.2 603.1h0M345.7 628.5h0M385.8 620.3h0M281.1 698.8h0M281.0 694.4h0M369.2 594.3h0M377.0 642.5h0M372.0 652.8h0M435.3 597.1h0M391.0 626.9h0M385.4 634.6h0M335.5 610.1h0M384.1 601.8h0M317.2 638.4h0M291.9 647.6h0M422.8 608.9h0M467.1 593.3h0M352.8 702.8h0M390.6 603.0h0M384.3 671.7h0M291.9 681.8h0M333.8 684.4h0M449.0 605.3h0M389.2 609.0h0M334.7 618.4h0M393.2 628.1h0M425.6 614.2h0M338.3 644.0h0M368.1 608.9h0M389.2 592.6h0M330.4 613.7h0M326.9 670.6h0M408.4 608.2h0M331.7 628.5h0M339.2 663.1h0M423.4 608.3h0M315.8 647.5h0M293.7 691.6h0M362.8 598.7h0M420.4 615.1h0M415.9 607.2h0M384.3 684.1h0M365.5 596.4h0M348.4 637.2h0M389.9 625.2h0M279.4 723.6h0M413.0 632.5h0M413.7 615.6h0M401.8 621.4h0M341.7 631.5h0M345.9 636.6h0M371.4 628.3h0M368.4 633.3h0M348.1 664.3h0M342.1 688.5h0M336.8 637.5h0M388.9 633.1h0M393.4 635.4h0M397.2 625.2h0M352.1 674.9h0M342.3 656.8h0M337.9 668.9h0M355.9 713.6h0M416.2 593.1h0M385.2 597.9h0M373.7 606.5h0M294.7 748.6h0M401.6 592.1h0M359.4 631.4h0M391.0 615.7h0M443.8 600.9h0M349.5 674.5h0M363.7 603.7h0M390.4 599.5h0M334.6 644.0h0M398.2 634.4h0M370.3 646.1h0M423.7 612.4h0M371.9 646.4h0M432.0 607.4h0M421.7 609.9h0M407.2 607.6h0M355.2 626.3h0M323.0 685.7h0M333.6 637.6h0M397.6 634.8h0M378.0 616.4h0M359.7 640.5h0M354.6 685.4h0M406.5 600.5h0M384.4 622.3h0M467.6 601.3h0M359.8 704.7h0M395.3 652.4h0M368.5 626.2h0M468.0 600.3h0M447.1 611.6h0M362.7 717.1h0M344.2 695.3h0M334.9 645.8h0M406.6 609.5h0M383.6 617.4h0M325.2 646.3h0M364.9 645.1h0M425.1 618.3h0M457.8 602.3h0M278.1 692.6h0M352.2 663.5h0M403.5 612.7h0M364.1 642.7h0M364.3 598.2h0M281.9 664.0h0M442.0 592.2h0M314.4 680.2h0M366.7 644.2h0M434.0 605.1h0M349.9 692.1h0M447.2 604.6h0M387.3 617.3h0M392.4 624.8h0M353.0 668.3h0M331.6 646.5h0M341.2 646.9h0M387.7 701.5h0M330.2 698.8h0M373.1 613.3h0M393.5 625.2h0M375.2 646.1h0M348.8 662.7h0M363.5 626.7h0M393.7 630.0h0M296.1 678.8h0M352.4 644.4h0M319.1 660.9h0M411.4 594.9h0M342.6 656.7h0M390.6 612.5h0M380.8 604.9h0M341.1 632.5h0M346.5 717.4h0M339.0 662.4h0M304.3 610.0h0M362.1 628.9h0M390.5 616.9h0M404.2 601.2h0M421.9 602.6h0M356.5 616.6h0M467.4 617.5h0M352.9 654.4h0M371.5 636.4h0M290.4 632.1h0M373.1 630.5h0M360.4 630.9h0M383.5 621.1h0M431.6 596.6h0M318.0 652.6h0M355.9 645.4h0M379.4 617.0h0M448.2 606.8h0M371.4 729.3h0M288.1 672.9h0M374.4 619.4h0M410.3 599.2h0M388.1 618.3h0M399.0 625.5h0M357.6 654.1h0M365.1 632.6h0M308.8 695.7h0M405.7 600.9h0M273.4 718.2h0M376.5 616.8h0M450.4 611.9h0M315.0 654.3h0M379.2 614.7h0M372.1 630.3h0M321.3 643.2h0M372.4 630.3h0M321.0 621.2h0M290.8 671.9h0M460.1 597.3h0M340.9 592.7h0M357.9 669.1h0M309.4 708.4h0M396.7 635.0h0M315.8 655.7h0M423.6 606.6h0M371.0 639.2h0M330.8 708.2h0M395.2 594.4h0M346.3 635.5h0M413.4 604.7h0M384.5 667.0h0M344.3 695.9h0M429.2 603.7h0M427.8 602.0h0M334.1 651.1h0M317.6 675.2h0M352.6 693.7h0M376.8 615.4h0M452.8 606.2h0M416.5 597.9h0M360.1 597.1h0M344.9 638.5h0M398.8 631.7h0M291.1 683.4h0M356.5 688.1h0M383.0 618.0h0M372.0 626.4h0M395.1 615.0h0M374.2 647.3h0M339.6 650.7h0M446.3 766.0h0M334.9 663.2h0M355.4 717.4h0M411.3 630.9h0M274.5 700.7h0M370.0 627.7h0M344.9 662.5h0M353.2 638.4h0M399.5 596.3h0M463.4 598.5h0M300.4 638.9h0M374.9 637.6h0M323.8 647.3h0M362.9 648.0h0M367.5 642.2h0M365.1 694.3h0M386.8 615.5h0M407.9 604.4h0M281.8 713.9h0M302.0 646.0h0M331.2 708.0h0M337.5 626.5h0M352.7 617.4h0M292.5 665.4h0M288.8 617.4h0M312.5 660.9h0M338.9 652.0h0M366.7 608.2h0M336.7 640.0h0M375.7 621.8h0M368.2 641.8h0M376.9 640.2h0M282.0 663.4h0M391.5 636.2h0M352.7 644.6h0M417.0 605.0h0M453.2 595.7h0M377.2 631.3h0M449.5 597.4h0M410.1 610.4h0M436.4 602.7h0M446.4 595.9h0M384.7 632.4h0M424.8 599.2h0M404.0 616.0h0M365.9 622.8h0M418.6 595.8h0M418.3 604.7h0M337.3 667.2h0M342.1 636.1h0M302.8 709.8h0M359.7 636.7h0M373.6 634.3h0M392.4 609.5h0M374.7 690.4h0M334.0 668.8h0M331.4 648.2h0M351.8 605.1h0M300.6 739.2h0M356.8 594.7h0M326.3 621.0h0M372.2 607.2h0M344.3 712.9h0M447.7 605.8h0M352.4 655.3h0M389.5 637.7h0M365.2 710.7h0M402.0 604.2h0M412.2 605.5h0M346.1 702.9h0M379.5 640.6h0M409.3 606.6h0M456.6 610.0h0M359.8 605.3h0M370.9 637.8h0M337.6 637.7h0M410.2 653.7h0M437.5 606.0h0M371.6 594.3h0M367.5 619.9h0M420.2 594.9h0M398.3 606.7h0M384.8 628.6h0M377.1 609.0h0M325.5 680.5h0M297.8 699.8h0M332.8 680.1h0M356.2 645.3h0M408.7 604.2h0M397.9 597.0h0M331.4 684.9h0M277.8 682.2h0M313.8 665.8h0M317.4 682.4h0M324.2 626.7h0M409.3 609.4h0M384.6 615.3h0M357.7 643.8h0M373.2 636.8h0M362.3 659.7h0M369.4 639.0h0M385.3 637.4h0M416.8 594.5h0M319.6 663.7h0M324.0 653.3h0M398.5 622.0h0M461.4 614.4h0M296.1 674.5h0M466.9 612.2h0M466.2 594.1h0M331.4 613.9h0M353.6 719.0h0M408.2 595.9h0M340.3 595.1h0M363.0 706.3h0M323.4 635.0h0M427.3 595.8h0M431.2 594.6h0M360.0 626.5h0M459.8 602.9h0M402.6 613.7h0M319.5 699.0h0M354.1 623.9h0M400.5 633.8h0M301.0 675.3h0M418.7 598.6h0M379.9 601.4h0M350.7 705.9h0M364.0 623.3h0M367.3 712.2h0M413.9 612.7h0M413.7 607.3h0M331.1 651.9h0M426.9 595.8h0M390.7 598.3h0M347.8 635.3h0M455.1 599.0h0M421.9 614.7h0M362.8 633.4h0M316.1 673.6h0M363.5 640.5h0M331.2 599.3h0M407.8 602.4h0M386.2 604.0h0M348.6 655.1h0M386.5 628.1h0M291.2 710.1h0M276.0 683.4h0M409.3 611.3h0M389.8 625.8h0M373.0 616.9h0M330.0 665.3h0M375.5 620.7h0M358.6 670.0h0M385.8 604.8h0M411.3 600.5h0M320.2 610.2h0M365.6 641.8h0M339.9 665.5h0M340.1 640.0h0M367.7 674.3h0M293.3 704.6h0M378.9 696.0h0M352.1 627.5h0M331.2 646.5h0M414.0 614.3h0M343.9 666.3h0M373.5 637.9h0M301.7 657.2h0M464.3 604.4h0M316.2 683.9h0M363.6 705.7h0M362.6 677.4h0M427.1 605.3h0M355.4 626.4h0M372.9 621.0h0M393.4 625.2h0M349.5 660.9h0M312.8 663.3h0M393.0 628.7h0M303.0 613.4h0M413.9 595.8h0M442.1 637.5h0M402.4 606.4h0M428.1 619.9h0M369.7 667.1h0M402.8 619.2h0M321.6 639.5h0M356.6 655.3h0M358.2 623.6h0M382.8 651.8h0M341.3 713.4h0M354.5 635.2h0M384.6 598.7h0M358.6 724.8h0M369.7 665.6h0M405.6 613.3h0M372.3 667.0h0M398.4 618.1h0M455.9 596.3h0M305.6 662.3h0M304.4 690.1h0M364.4 635.4h0M396.2 605.4h0M325.3 761.8h0M361.0 688.1h0M328.1 652.3h0M373.8 644.8h0M447.9 615.2h0M428.1 614.3h0M376.3 602.3h0M319.8 644.5h0M365.8 637.4h0M361.4 751.8h0M387.0 601.9h0M313.1 668.7h0M315.0 598.4h0M326.8 652.6h0M424.8 601.4h0M378.0 600.9h0M367.2 616.0h0M365.6 616.0h0M343.6 647.7h0M369.3 635.3h0M351.8 646.5h0M447.4 592.7h0M361.0 637.3h0M344.3 621.2h0M349.5 705.9h0M363.3 712.3h0M402.6 598.5h0M388.3 620.8h0M371.4 637.6h0M445.2 602.9h0M305.3 677.5h0M384.2 613.0h0M415.6 604.7h0M352.2 649.4h0M352.7 724.6h0M321.0 666.2h0M428.5 596.3h0M275.2 686.5h0M377.9 641.1h0M355.1 646.7h0M367.3 619.5h0M311.6 698.5h0M431.6 595.7h0M428.2 613.5h0M420.6 613.1h0M360.7 672.5h0M398.1 611.8h0M299.3 615.3h0M319.9 647.6h0M405.3 603.8h0M393.7 638.3h0M372.9 670.6h0M391.5 597.1h0M367.7 594.3h0M455.4 596.9h0M344.1 616.0h0M364.4 673.8h0M409.8 630.3h0M378.8 612.8h0M401.1 633.3h0M286.8 708.7h0M331.8 642.9h0M441.2 599.6h0M345.4 626.8h0M373.5 664.8h0M360.5 592.7h0M343.3 659.5h0M299.3 693.6h0M393.0 619.6h0M348.6 690.6h0M443.3 614.7h0M447.9 599.7h0M366.5 637.6h0M291.7 699.8h0M457.9 608.2h0M363.6 614.4h0M454.5 614.1h0M379.6 601.2h0M455.3 592.2h0M390.3 632.1h0M377.0 632.3h0M397.1 631.1h0M373.9 663.2h0M371.3 625.5h0M337.4 682.4h0M408.2 612.6h0M362.6 697.5h0M358.8 625.1h0M412.2 599.9h0M406.1 592.5h0M360.5 755.2h0M410.0 616.2h0M396.3 624.9h0M371.4 619.4h0M353.9 704.1h0M427.9 592.0h0M315.0 689.9h0M464.3 605.8h0M352.3 634.5h0M341.8 613.4h0M356.5 624.3h0M351.3 709.5h0M339.3 758.3h0M357.4 625.5h0M275.8 699.7h0M433.3 603.9h0M378.7 693.0h0M376.8 613.7h0M408.6 604.6h0M349.6 625.7h0M372.8 659.7h0M384.8 600.9h0M374.5 623.1h0M325.4 652.5h0M279.3 698.4h0M385.6 619.8h0M395.2 618.2h0M397.8 592.9h0M394.6 592.4h0M409.8 619.9h0M376.3 625.2h0M330.1 657.6h0M428.5 597.5h0M446.8 606.4h0M346.8 702.8h0M450.9 603.7h0M399.6 593.5h0M320.3 689.9h0M337.1 658.0h0M341.6 713.3h0M351.7 701.3h0M356.9 639.1h0M280.4 658.6h0M276.3 703.9h0M371.0 685.5h0M281.1 685.5h0M370.7 731.1h0M451.2 607.9h0M410.4 639.0h0M332.5 706.8h0M409.7 601.8h0M457.0 601.6h0M337.6 646.7h0M337.7 646.5h0M399.6 620.1h0M398.9 614.2h0M277.5 693.0h0M322.3 612.8h0M359.2 615.6h0M449.8 600.5h0M417.8 592.7h0M345.2 593.8h0M369.1 644.8h0M380.9 711.8h0M406.0 631.1h0M381.1 599.6h0M387.0 612.7h0M322.8 766.1h0M403.1 602.1h0M290.5 679.7h0M397.4 680.9h0M300.5 683.0h0M411.5 599.6h0M387.0 629.0h0M448.0 597.3h0M331.9 650.9h0M366.9 605.6h0M372.4 620.5h0M458.2 610.7h0M367.8 627.6h0M376.6 614.1h0M384.0 605.9h0M318.1 628.6h0M385.5 632.0h0M373.6 596.2h0M344.5 617.8h0M466.7 603.5h0M303.4 631.1h0M378.6 631.4h0M378.0 669.2h0M376.9 598.8h0M296.7 688.2h0M317.9 703.8h0M341.2 660.0h0M414.6 597.2h0M329.5 609.6h0M352.6 643.7h0M407.4 614.1h0M424.3 611.5h0M463.1 591.9h0M407.8 629.7h0M454.4 600.0h0M360.8 648.2h0M369.4 650.7h0M439.3 602.2h0M375.7 719.1h0M422.8 600.6h0M352.2 663.5h0M423.1 621.1h0M343.8 646.7h0M448.5 594.6h0M375.4 617.8h0M358.6 669.2h0M382.6 597.3h0M355.1 624.4h0M356.8 683.5h0M380.5 639.1h0M348.8 638.9h0M370.5 618.4h0M364.6 706.3h0M321.9 649.8h0M345.9 658.1h0M388.0 601.1h0M401.8 593.2h0M364.2 652.3h0M346.8 705.3h0M325.5 645.2h0M325.6 650.3h0M388.2 621.2h0M355.9 705.6h0M427.5 593.2h0M460.8 600.9h0M298.1 692.5h0M394.9 623.1h0M318.9 689.3h0M430.6 598.6h0M410.4 598.4h0M372.2 605.4h0M434.8 600.5h0M365.1 723.1h0M409.7 597.6h0M451.1 607.7h0M428.0 601.0h0M360.7 654.7h0M342.0 647.6h0M383.2 619.3h0M327.3 719.5h0M359.5 634.7h0M345.0 719.3h0M379.7 605.1h0M446.0 592.4h0M355.8 633.0h0M420.7 604.4h0M332.4 633.7h0M392.2 634.8h0M351.1 660.5h0M363.7 612.5h0M409.0 624.8h0M395.4 597.6h0M361.7 639.5h0M381.6 696.3h0M363.9 654.2h0M432.5 622.4h0M374.6 632.0h0M422.7 617.8h0M380.0 657.4h0M340.3 633.9h0M429.9 599.5h0M351.3 644.6h0M402.3 602.0h0M348.6 696.5h0M367.0 689.6h0M383.7 638.3h0M350.9 603.9h0M395.8 613.4h0M410.6 599.6h0M298.2 669.8h0M323.2 647.8h0M330.6 642.7h0M294.3 671.8h0M350.5 706.3h0M383.6 624.6h0M388.3 731.8h0M294.5 621.3h0M356.5 710.9h0M398.8 627.3h0M392.1 626.4h0M363.8 631.8h0M320.2 653.7h0M327.2 646.7h0M391.1 634.7h0M394.1 605.1h0M376.6 627.4h0M383.0 592.1h0M408.2 631.1h0M427.1 615.3h0M361.3 617.6h0M336.5 646.7h0M421.0 610.9h0M367.1 649.3h0M400.4 595.1h0M436.6 596.6h0M369.7 632.8h0M353.8 651.9h0M337.5 613.6h0M424.0 604.9h0M351.7 628.8h0M393.6 616.4h0M416.5 593.7h0M418.0 630.0h0M423.2 602.4h0M451.9 620.6h0M373.1 606.8h0M349.2 635.8h0M390.1 641.1h0M306.0 642.4h0M285.7 704.6h0M395.5 610.3h0M392.0 597.6h0M363.5 702.9h0M437.9 604.6h0M321.9 645.4h0M347.9 676.1h0M354.0 633.6h0M368.9 600.7h0M361.8 716.2h0M428.2 615.7h0M350.5 643.7h0M382.0 645.3h0M367.0 638.3h0M355.0 712.4h0M404.9 621.5h0M421.9 618.0h0M277.2 705.0h0M331.8 613.4h0M351.9 641.6h0M397.5 644.8h0M356.8 705.1h0M339.7 696.3h0M384.3 602.0h0M401.7 620.1h0M368.4 676.7h0M364.6 634.7h0M451.8 603.8h0M317.7 658.1h0M368.5 674.5h0M377.9 646.9h0M291.8 713.8h0M366.0 635.8h0M335.5 648.7h0M408.9 622.9h0M408.8 638.2h0M448.8 621.0h0M415.7 614.4h0M394.0 645.3h0M418.3 597.1h0M381.6 625.6h0M403.0 625.4h0M408.2 607.8h0M355.0 674.3h0M409.2 620.2h0M313.6 592.2h0M458.3 602.7h0M369.7 670.1h0M429.5 593.2h0M398.7 622.7h0M278.5 673.4h0M344.3 642.9h0M367.0 671.4h0M438.7 612.1h0M371.5 667.3h0M327.9 649.9h0M360.4 645.0h0M312.3 652.5h0M342.7 611.4h0M387.6 630.8h0M437.9 594.5h0M350.2 658.0h0M459.1 596.4h0M303.9 666.3h0M359.3 704.3h0M363.2 709.4h0M362.9 604.8h0M389.1 645.1h0M375.0 705.9h0M363.9 699.6h0M405.2 608.3h0M341.3 655.5h0M379.9 685.9h0M426.2 605.4h0M408.9 602.6h0M351.7 638.7h0M344.7 645.2h0M440.7 593.9h0M354.2 626.9h0M366.1 634.9h0M341.7 677.8h0M356.5 614.5h0M402.9 597.9h0M359.6 628.2h0M337.6 713.9h0M438.2 597.4h0M327.0 661.2h0M324.8 648.3h0M389.0 631.6h0M360.7 674.5h0M438.3 609.1h0M454.9 605.0h0M379.3 629.2h0M389.3 614.2h0M333.4 647.9h0M285.6 622.6h0M356.0 634.6h0M399.7 598.2h0M297.4 672.3h0M391.5 595.6h0M381.5 625.7h0M377.7 627.2h0M464.6 599.3h0M387.8 655.2h0M349.4 685.0h0M375.1 602.2h0M369.5 606.0h0M390.8 604.8h0M315.4 662.3h0M450.1 599.1h0M367.4 610.0h0M409.6 603.1h0M354.8 645.4h0M370.2 641.4h0M301.6 687.0h0M354.6 646.9h0M344.6 639.6h0M412.5 615.2h0M397.5 604.0h0M340.7 668.1h0M366.9 602.1h0M341.2 611.4h0M398.7 628.3h0M420.8 596.2h0M429.5 594.4h0M345.7 669.1h0M274.5 669.0h0M336.3 655.0h0M369.0 632.8h0M350.0 657.7h0M434.4 599.2h0M400.1 618.6h0M351.5 662.0h0M364.4 602.9h0M355.2 705.1h0M367.3 650.4h0M435.1 592.4h0M379.2 649.1h0M440.0 596.6h0M326.1 598.3h0M457.3 595.3h0M279.3 673.6h0M371.3 623.2h0M364.1 663.4h0M352.0 694.6h0M346.3 656.7h0M365.7 653.1h0M317.0 645.8h0M360.3 628.0h0M400.1 618.3h0M324.5 655.1h0M432.3 601.0h0M394.7 627.1h0M428.7 599.9h0M392.4 594.6h0M411.1 600.7h0M297.0 713.4h0M324.5 671.7h0M331.8 675.3h0M274.7 674.3h0M346.6 633.3h0M317.6 671.5h0M406.3 593.3h0M383.2 618.6h0M373.1 678.4h0M369.1 649.5h0M324.0 642.9h0M278.8 671.4h0M391.9 642.4h0M406.0 604.0h0M349.7 649.4h0M426.1 604.4h0M371.0 642.7h0M364.8 642.5h0M387.9 623.5h0M432.1 592.1h0M382.6 608.5h0M367.4 652.7h0M434.3 605.0h0M338.9 700.5h0M423.6 610.8h0M414.4 605.2h0M340.0 637.5h0M390.0 623.5h0M468.1 600.6h0M384.3 633.3h0M345.0 648.8h0M394.4 641.2h0M386.6 650.3h0M393.6 607.0h0M429.0 591.8h0M367.2 601.1h0M384.2 601.5h0M356.3 630.6h0M314.1 662.5h0M405.2 591.8h0M450.5 620.5h0M319.0 648.3h0M421.8 608.1h0M327.9 712.2h0M377.5 647.9h0M455.1 592.6h0M378.7 676.1h0M371.8 667.3h0M306.6 629.8h0M451.2 599.7h0M365.6 622.0h0M386.7 613.9h0M326.3 652.8h0M353.6 648.6h0M443.1 591.9h0M404.0 617.7h0M364.4 648.2h0M354.2 624.6h0M451.4 612.7h0M451.7 592.6h0M382.7 609.8h0M360.4 617.1h0M421.6 652.1h0M319.5 644.3h0M461.7 600.3h0M386.4 642.3h0M387.2 626.5h0M371.2 645.2h0M346.5 645.4h0M386.6 621.6h0M416.9 606.5h0M419.5 603.0h0M382.2 663.0h0M329.3 651.7h0M374.7 622.9h0M424.9 614.7h0M348.7 604.7h0M393.4 592.5h0M400.6 616.1h0M393.8 597.1h0M410.9 599.0h0M399.4 616.5h0M421.1 598.4h0M374.6 630.4h0M385.0 648.7h0M423.2 592.5h0M362.6 667.8h0M353.6 735.2h0M389.0 633.3h0M369.3 644.7h0M408.3 626.3h0M363.4 616.2h0M332.8 652.4h0M335.5 654.5h0M380.2 617.2h0M334.2 712.4h0M337.0 618.2h0M345.5 600.2h0M406.1 612.5h0M397.6 619.5h0M388.2 611.1h0M381.0 607.8h0M438.8 602.8h0M384.8 635.7h0M433.0 602.2h0M408.9 631.3h0M444.4 598.4h0M421.3 612.9h0M443.0 617.1h0M339.1 627.6h0M369.8 642.0h0M290.8 668.0h0M353.0 613.4h0M379.6 620.0h0M400.4 610.2h0M416.2 610.4h0M389.6 623.3h0M386.6 599.0h0M327.2 651.4h0M372.3 594.9h0M364.6 693.1h0M348.2 651.8h0M377.0 621.0h0M300.1 699.2h0M376.9 622.3h0M408.0 602.1h0M433.6 593.5h0M314.2 663.6h0M406.8 606.4h0M325.4 695.8h0M361.7 613.5h0M345.1 606.2h0M353.9 608.7h0M329.0 664.3h0M339.8 609.4h0M357.7 717.1h0M422.8 594.0h0M281.5 681.4h0M302.6 642.5h0M324.4 658.4h0M402.6 613.1h0M389.9 596.2h0M349.3 647.2h0M396.9 695.7h0M388.9 670.7h0M336.5 642.7h0M455.7 608.3h0M357.5 650.7h0M318.2 672.9h0M292.2 688.5h0M424.8 601.8h0M331.8 681.9h0M362.5 683.1h0M384.8 678.9h0M400.7 614.2h0M452.1 614.3h0M379.3 630.0h0M352.3 617.7h0M301.2 697.3h0M314.5 656.7h0M460.8 604.1h0M382.1 629.2h0M368.8 652.4h0M387.3 607.6h0M340.8 707.6h0M336.1 635.4h0M440.0 607.7h0M433.4 593.0h0M380.0 602.6h0M321.9 642.7h0M357.2 631.4h0M415.1 602.8h0M387.3 730.1h0M388.0 624.8h0M328.7 617.9h0M393.4 608.9h0M365.9 655.9h0M380.7 639.6h0M279.6 660.4h0M335.7 600.9h0M383.6 606.3h0M448.7 632.8h0M327.2 613.9h0M362.8 682.1h0M352.0 601.8h0M372.5 630.2h0M325.3 640.5h0M358.3 722.8h0M356.3 616.9h0M276.0 673.8h0M384.0 633.5h0M440.7 595.7h0M373.8 620.5h0M372.7 633.5h0M365.2 606.5h0M450.6 592.8h0M420.7 593.7h0M361.4 604.3h0M402.3 636.6h0M418.6 598.0h0M324.7 667.5h0M427.6 600.1h0M345.3 695.7h0M361.0 610.8h0M342.8 665.7h0M364.9 683.1h0M353.6 630.9h0M393.0 648.0h0M425.1 603.6h0M442.2 600.2h0M385.9 624.0h0M350.1 658.5h0M277.5 696.0h0M335.3 644.0h0M389.3 627.0h0M316.7 695.6h0M278.4 705.2h0M446.3 606.3h0M351.3 631.1h0M414.1 593.8h0M369.2 676.5h0M335.7 696.8h0M371.6 622.8h0M398.6 596.3h0M360.5 633.7h0M378.5 638.9h0M454.2 592.4h0M356.7 710.5h0M369.4 676.6h0M320.3 686.6h0M350.6 618.1h0M346.2 639.2h0M361.2 624.2h0M327.6 715.9h0M409.9 606.4h0M350.2 639.5h0M463.6 597.3h0M408.0 625.2h0M378.3 649.6h0M289.7 679.5h0M329.9 652.7h0M428.4 601.0h0M423.1 604.4h0M379.0 611.9h0M355.2 667.3h0M393.6 686.4h0M376.0 732.1h0M279.8 692.5h0M325.4 653.4h0M382.3 629.1h0M374.1 633.5h0M405.8 601.7h0M388.1 594.0h0M328.4 667.4h0M390.4 610.7h0M379.5 635.8h0M358.4 621.9h0M380.1 629.2h0M360.3 653.4h0M388.2 598.1h0M327.7 648.4h0M384.6 627.4h0M369.9 714.0h0M424.0 597.1h0M392.4 619.6h0M352.8 702.8h0M413.1 612.2h0M359.4 600.2h0M465.6 598.7h0M310.2 647.3h0M395.1 696.9h0M393.4 624.0h0M381.3 656.5h0M379.0 676.8h0M390.7 605.1h0M288.3 703.3h0M403.0 612.5h0M391.7 592.4h0M335.0 647.6h0M386.5 606.3h0M379.7 619.4h0M411.8 604.0h0M362.7 745.1h0M358.3 593.8h0M450.7 685.2h0M379.8 632.1h0M349.6 692.4h0M400.7 615.8h0M341.7 639.5h0M306.8 657.9h0M330.3 653.8h0M328.6 647.2h0M348.6 643.7h0M385.3 606.0h0M428.6 609.2h0M401.8 609.4h0M346.1 654.0h0M363.2 655.6h0M355.0 657.4h0M453.7 595.6h0M388.5 592.4h0M404.9 598.3h0M375.9 668.3h0M326.1 689.1h0M320.2 680.0h0M448.5 599.4h0M325.0 657.7h0M383.9 660.6h0M373.7 631.6h0M339.1 672.8h0M363.1 640.7h0M334.1 631.9h0M381.5 611.9h0M337.3 653.4h0M358.1 685.3h0M374.7 594.3h0M328.4 656.3h0M395.7 615.0h0M339.0 651.5h0M366.7 626.7h0M378.4 595.7h0M419.2 611.6h0M440.4 595.3h0M377.6 614.9h0M459.0 598.5h0M384.6 618.2h0M380.5 625.4h0M403.0 621.0h0M350.3 650.6h0M387.4 612.8h0M396.7 614.1h0M462.1 596.1h0M410.4 597.3h0M400.3 607.0h0M453.6 619.7h0M377.7 639.4h0M421.7 619.6h0M461.5 599.2h0M397.5 591.9h0M368.9 654.5h0M457.0 595.0h0M338.5 664.9h0M323.4 643.3h0M464.4 605.7h0M440.8 600.8h0M336.9 648.4h0M401.4 609.7h0M370.8 687.5h0M369.4 702.9h0M318.2 702.2h0M373.8 618.6h0M379.4 592.4h0M445.2 593.9h0M415.6 612.9h0M369.3 631.8h0M311.0 694.2h0M291.5 719.0h0M401.9 611.1h0M410.5 603.0h0M413.3 602.8h0M388.8 624.7h0M299.7 626.0h0M315.7 688.1h0M399.7 629.6h0M430.9 610.3h0M338.4 647.3h0M350.4 645.1h0M302.9 670.9h0M363.1 615.3h0M342.7 614.6h0M352.7 660.4h0M441.8 604.9h0M380.1 617.0h0M362.1 720.4h0M294.3 702.3h0M355.8 708.8h0M355.5 625.4h0M397.5 615.6h0M435.5 605.0h0M398.6 598.4h0M373.3 625.9h0M385.0 611.7h0M451.5 595.6h0M349.0 640.9h0M374.2 702.0h0M402.6 613.7h0M359.9 653.1h0M351.9 654.5h0M426.0 617.9h0M391.8 604.5h0M367.5 668.6h0M375.8 651.0h0M365.5 631.9h0M319.5 636.9h0M444.1 594.8h0M379.2 631.7h0M373.6 592.4h0M338.9 633.0h0M389.4 616.9h0M363.2 642.0h0M467.1 599.3h0M333.0 636.6h0M378.1 613.4h0M373.7 638.1h0M340.8 707.3h0M413.2 619.1h0M409.9 612.6h0M377.0 626.8h0M435.9 615.7h0M383.3 594.1h0M374.1 593.8h0M399.8 618.6h0M429.7 603.1h0M356.1 718.2h0M384.4 633.8h0M346.8 653.7h0M358.2 689.3h0M351.6 707.7h0M362.3 616.6h0M390.9 627.9h0M385.5 660.6h0M439.9 596.7h0M439.9 600.4h0M384.5 608.6h0M426.0 614.0h0M464.4 599.2h0M386.4 605.3h0M428.3 595.0h0M392.0 625.4h0M316.1 708.2h0M428.4 592.4h0M387.3 626.4h0M383.0 619.7h0M335.0 626.2h0M459.2 592.1h0M355.5 618.7h0M340.7 648.0h0M340.2 629.6h0M418.5 607.5h0M353.2 659.0h0M403.4 619.2h0M317.9 673.4h0M380.1 612.3h0M368.4 686.1h0M309.0 638.4h0M386.1 612.2h0M457.0 618.8h0M343.4 650.2h0M369.2 614.9h0M427.8 611.5h0M323.7 657.1h0M376.6 639.2h0M452.6 597.1h0M355.2 683.0h0M426.8 599.5h0M323.2 663.5h0M375.4 614.4h0M369.5 650.9h0M332.1 669.4h0M394.8 718.5h0M363.6 716.4h0M439.3 610.3h0M311.5 662.0h0M369.2 627.5h0M415.2 603.5h0M369.3 593.1h0M366.3 668.9h0M313.8 632.8h0M315.3 684.7h0M386.1 629.1h0M381.0 608.2h0M375.4 641.8h0M424.3 593.9h0M365.7 595.1h0M282.1 679.0h0M354.8 693.7h0M361.8 601.9h0M368.3 636.5h0M349.0 625.5h0M352.1 665.5h0M382.1 604.8h0M407.1 593.7h0M435.7 592.8h0M441.4 597.1h0M321.7 693.6h0M361.3 619.0h0M323.8 688.0h0M387.4 641.2h0M386.8 593.2h0M329.3 657.0h0M381.9 622.3h0M456.2 597.8h0M360.4 593.6h0M285.4 598.3h0M466.3 594.0h0M371.4 643.4h0M403.3 596.6h0M357.1 658.1h0M381.9 639.6h0M325.5 638.4h0M387.6 658.1h0M464.0 601.2h0M336.9 633.0h0M433.8 596.4h0M361.4 618.0h0M394.9 600.6h0M383.1 641.0h0M442.6 624.4h0M388.6 604.7h0M334.2 669.8h0M324.6 673.7h0M368.6 611.9h0M368.5 621.7h0M433.7 593.4h0M375.3 627.6h0M385.8 657.6h0M376.1 610.5h0M316.7 629.6h0M296.3 640.8h0M354.5 637.0h0M367.9 649.8h0M364.6 609.2h0M361.4 644.7h0M422.0 594.6h0M332.5 696.8h0M334.4 650.3h0M382.5 608.2h0M321.7 678.0h0M345.6 648.4h0M384.6 622.7h0M311.1 720.1h0M456.7 592.2h0M349.0 641.6h0M395.7 596.2h0M407.6 594.8h0M376.7 642.2h0M440.2 600.4h0M380.6 611.0h0M304.4 698.3h0M440.6 608.9h0M376.3 633.3h0M448.1 605.0h0M437.5 605.4h0M426.1 602.3h0M422.7 596.7h0M398.2 624.3h0M382.1 638.8h0M406.9 620.9h0M279.2 696.6h0M321.3 635.6h0M343.0 663.0h0M278.9 681.4h0M356.8 658.5h0M323.5 640.9h0M301.4 667.5h0M392.6 612.5h0M344.2 630.6h0M312.2 643.3h0M365.7 629.2h0M406.1 595.2h0M396.1 636.3h0M433.1 601.9h0M323.6 730.9h0M352.1 645.0h0M351.8 697.0h0M287.1 669.8h0M410.6 704.6h0M415.4 605.3h0M427.8 621.1h0M294.0 684.2h0M354.8 649.3h0M279.7 662.9h0M457.8 598.4h0M350.4 622.7h0M339.4 656.6h0M426.4 595.6h0M424.5 593.3h0M370.3 639.3h0M350.9 641.0h0M381.2 634.8h0M357.4 666.3h0M396.1 602.5h0M377.5 598.0h0M368.4 624.9h0M399.5 614.0h0M359.4 625.6h0M298.2 651.4h0M453.5 722.4h0M358.7 707.1h0M313.1 693.2h0M334.9 645.4h0M414.0 627.4h0M359.6 633.0h0M449.6 597.0h0M302.2 634.7h0M418.1 607.5h0M288.6 681.2h0M330.4 645.5h0M352.1 618.4h0M461.9 593.7h0M367.0 622.2h0M327.3 635.3h0M330.9 707.2h0M370.5 652.7h0M383.0 627.4h0M333.4 644.6h0M347.2 660.4h0M415.2 678.9h0M392.6 611.8h0M317.8 698.4h0M419.1 603.6h0M348.3 646.7h0M368.3 761.6h0M398.7 606.2h0M369.4 625.0h0M304.2 720.4h0M375.5 637.2h0M463.6 603.8h0M418.1 605.8h0M410.0 612.3h0M346.6 694.9h0M380.0 607.6h0M336.2 658.9h0M368.1 617.3h0M383.0 671.6h0M365.1 637.3h0M386.1 622.3h0M366.9 647.2h0M319.5 651.1h0M447.6 626.8h0M391.7 639.7h0M394.9 600.5h0M369.6 620.7h0M417.4 615.1h0M347.2 684.3h0M280.7 666.5h0M369.1 659.0h0M281.5 696.4h0M418.2 698.3h0M396.2 635.6h0M395.0 631.8h0M375.9 616.0h0M400.4 611.2h0M465.2 615.0h0M395.2 633.1h0M344.9 657.9h0M275.5 730.7h0M382.6 630.6h0M413.7 625.0h0M325.0 655.9h0M375.7 630.3h0M396.6 713.4h0M328.4 649.8h0M361.5 604.5h0M468.1 597.0h0M464.0 598.0h0M329.9 694.9h0M366.7 620.2h0M360.2 705.6h0M388.6 629.9h0M337.7 601.9h0M375.8 642.5h0M342.7 657.1h0M363.2 616.6h0M325.1 651.6h0M356.0 639.2h0M356.2 642.6h0M337.3 595.4h0M373.0 629.9h0M363.6 624.0h0M445.0 593.5h0M429.6 609.1h0M307.8 647.2h0M439.8 601.9h0M331.8 680.0h0M393.0 593.8h0M273.4 697.5h0M356.3 644.1h0M354.4 634.8h0M387.9 616.5h0M448.1 597.7h0M342.4 641.3h0M398.4 616.7h0M340.6 626.2h0M398.2 633.1h0M377.4 622.2h0M380.3 629.3h0M349.7 664.9h0M380.4 694.8h0M384.6 600.5h0M354.7 643.1h0M398.8 597.0h0M343.7 631.6h0M370.4 669.4h0M314.7 668.6h0M393.5 669.8h0M363.9 637.6h0M335.4 640.6h0M411.1 605.1h0M387.9 614.5h0M408.4 607.1h0M435.9 594.0h0M415.9 624.5h0M372.2 653.7h0M284.0 713.0h0M292.9 667.2h0M385.6 617.1h0M342.8 674.4h0M353.1 722.9h0M370.3 659.0h0M376.0 624.4h0M442.9 757.8h0M292.6 709.8h0M360.7 657.4h0M396.6 599.0h0M373.2 625.4h0M428.5 592.4h0M377.0 665.9h0M431.4 602.1h0M357.4 637.0h0M338.6 652.5h0M342.0 636.3h0M291.4 600.2h0M376.9 596.5h0M283.5 605.1h0M437.8 593.1h0M288.6 711.5h0M391.5 617.4h0M346.9 709.0h0M366.0 629.1h0M274.8 705.4h0M443.6 606.7h0M371.4 678.2h0M364.9 619.9h0M393.1 597.1h0M372.0 596.7h0M329.5 722.7h0M400.9 622.2h0M356.3 643.2h0M360.1 725.9h0M365.9 687.7h0M361.6 621.4h0M388.0 614.4h0M417.8 599.1h0M376.2 640.5h0M383.7 628.8h0M355.4 641.0h0M401.7 632.6h0M373.7 682.4h0M288.4 714.4h0M363.6 625.7h0M299.2 707.1h0M445.6 599.1h0M319.7 596.4h0M412.9 608.4h0M370.3 592.3h0M377.8 620.2h0M359.3 630.1h0M337.5 655.7h0M345.1 602.6h0M401.1 615.6h0M446.1 603.4h0M344.7 627.9h0M355.2 639.9h0M349.6 713.4h0M399.8 605.6h0M301.5 695.1h0M393.5 609.1h0M353.3 679.7h0M369.1 689.0h0M347.4 646.3h0M377.1 615.5h0M367.7 626.7h0M452.1 598.3h0M415.9 611.3h0M391.5 623.9h0M341.9 714.0h0M369.2 700.5h0M398.0 600.6h0M390.2 612.8h0M341.9 643.0h0M310.8 696.8h0M346.5 619.1h0M368.9 711.9h0M385.1 610.0h0M381.1 657.5h0M355.6 639.7h0M381.8 634.8h0M287.9 699.5h0M443.0 615.2h0M343.1 639.3h0M347.1 597.3h0M423.9 594.2h0M297.1 669.6h0M390.7 638.5h0M385.9 620.6h0M354.1 627.4h0M319.6 626.4h0M301.2 682.8h0M347.8 645.7h0M380.8 656.0h0M347.3 643.5h0M409.7 594.2h0M333.6 678.9h0M358.8 650.5h0M397.1 617.8h0M414.5 592.2h0M355.8 658.0h0M365.8 654.2h0M369.4 637.1h0M367.8 621.0h0M277.8 671.6h0M448.1 600.8h0M363.2 603.8h0M325.0 643.7h0M378.7 620.9h0M366.4 634.6h0M291.7 636.6h0M323.1 675.6h0M403.6 615.7h0M359.4 602.8h0M354.6 611.8h0M409.4 624.6h0M360.3 680.0h0M403.7 602.9h0M462.9 592.6h0M438.3 606.6h0M280.0 703.7h0M327.0 656.2h0M372.1 620.6h0M366.3 593.1h0M452.4 604.8h0M334.7 636.4h0M369.6 649.5h0M353.4 627.2h0M339.5 614.8h0M373.7 667.0h0M451.4 598.6h0M416.3 605.7h0M409.7 620.3h0M379.9 608.5h0M355.0 676.6h0M387.6 623.1h0M370.6 636.4h0M383.0 623.2h0M388.3 617.9h0M409.7 608.9h0M316.4 696.0h0M361.8 593.5h0M282.8 703.5h0M373.4 592.9h0M398.4 605.5h0M352.8 631.9h0M382.0 613.3h0M275.1 646.2h0M334.0 628.9h0M358.3 623.2h0M338.6 653.0h0M284.7 688.9h0M349.8 632.7h0M323.2 615.0h0M340.4 659.9h0M378.6 601.2h0M351.9 651.7h0M276.8 620.3h0M316.8 655.6h0M380.5 609.7h0M335.0 651.6h0M387.9 595.4h0M330.2 664.7h0M391.7 615.9h0M367.6 623.9h0M323.6 652.1h0M372.6 652.9h0M351.5 679.4h0M407.7 622.2h0M362.7 622.8h0M390.9 659.3h0M417.0 593.9h0M393.0 602.4h0M461.5 592.1h0M349.7 633.9h0M369.6 610.3h0M366.9 622.0h0M347.9 639.8h0M369.7 598.4h0M370.4 614.9h0M309.0 664.8h0M364.5 654.7h0M380.8 630.5h0M294.8 698.8h0M389.9 712.3h0M305.7 617.1h0M356.8 699.5h0M391.9 597.5h0M430.2 614.6h0M323.0 648.9h0M330.6 651.7h0M381.5 645.8h0M453.0 598.2h0M403.0 597.7h0M329.4 660.5h0M348.3 705.2h0M302.4 670.5h0M412.5 618.7h0M338.2 645.2h0M369.4 608.4h0M372.8 674.0h0M416.7 611.1h0M400.0 611.5h0M393.8 682.4h0M322.2 656.0h0M377.1 618.0h0M393.4 610.2h0M315.1 648.4h0M374.2 637.1h0M278.5 687.1h0M359.6 660.8h0M424.9 605.9h0M374.8 644.4h0M334.4 655.1h0M303.0 721.3h0M346.4 705.5h0M438.2 594.5h0M403.2 623.3h0M358.6 656.5h0M364.5 616.2h0M388.1 595.8h0M459.0 593.8h0M374.4 646.0h0M369.0 643.8h0M383.1 617.3h0M349.9 668.9h0M353.5 639.6h0M314.8 691.9h0M383.7 609.0h0M285.6 678.0h0M382.0 631.8h0M401.8 616.0h0M366.5 612.5h0M341.9 714.3h0M347.4 626.1h0M375.3 594.0h0M449.5 607.1h0M425.1 596.2h0M422.3 610.3h0M385.2 606.3h0M329.6 685.8h0M296.2 683.0h0M322.9 642.6h0M389.4 618.7h0M318.7 632.8h0M395.1 626.5h0M461.5 599.0h0M382.3 622.3h0M447.2 617.2h0M342.7 677.4h0M379.4 729.3h0M403.8 606.6h0M417.9 603.9h0M381.0 631.4h0M459.5 599.0h0M398.6 628.7h0M365.5 639.0h0M351.4 672.0h0M380.5 616.8h0M441.0 599.0h0M419.2 602.5h0M394.6 594.1h0M355.4 699.8h0M399.3 598.8h0M425.1 608.8h0M442.5 606.1h0M436.3 613.0h0M388.0 598.0h0M467.9 603.4h0M357.8 636.0h0M333.2 662.1h0M378.5 593.0h0M345.8 631.2h0M290.1 698.6h0M389.0 627.4h0M418.2 602.9h0M356.6 606.0h0M405.0 601.7h0M379.6 668.3h0M351.4 616.0h0M384.6 649.6h0M387.1 634.4h0M290.0 673.9h0M443.4 599.1h0M391.2 619.4h0M418.6 615.0h0M396.3 623.9h0M452.7 632.2h0M326.2 648.3h0M409.9 626.5h0M445.9 607.3h0M362.0 721.0h0M380.3 633.4h0M438.1 594.1h0M346.7 645.8h0M322.0 676.8h0M349.9 619.1h0M396.3 605.6h0M396.1 610.2h0M308.3 680.8h0M379.0 650.2h0M421.0 596.5h0M292.9 644.2h0M383.1 605.3h0M380.2 620.7h0M393.5 628.4h0M370.4 630.7h0M424.8 593.6h0M365.1 614.2h0M407.7 601.0h0M390.2 627.9h0M291.0 668.0h0M384.2 636.1h0M407.8 597.1h0M379.3 700.4h0M391.2 611.5h0M396.4 601.8h0M316.1 663.1h0M376.5 635.0h0M436.7 604.9h0M326.3 637.8h0M366.6 709.5h0M414.1 628.1h0M378.5 613.7h0M446.6 593.7h0M315.5 644.7h0M331.8 634.0h0M418.6 624.9h0M346.1 624.4h0M299.8 687.3h0M318.7 645.4h0M377.6 638.7h0M350.6 649.4h0M336.6 656.2h0M341.1 667.1h0M323.5 754.8h0M418.9 611.4h0M339.8 706.1h0M462.9 596.7h0M406.1 620.8h0M358.8 733.9h0M423.7 592.0h0M314.5 655.3h0M381.7 623.3h0M375.1 623.8h0M360.6 660.4h0M416.3 599.2h0M350.8 648.7h0M333.0 629.2h0M304.8 659.9h0M356.3 628.5h0M314.4 666.9h0M311.5 673.1h0M362.0 722.0h0M443.6 595.4h0M466.8 594.5h0M416.7 593.9h0M392.6 604.3h0M341.7 658.0h0M370.4 603.6h0M392.0 612.9h0M354.5 624.4h0M418.4 601.4h0M308.2 684.7h0M314.3 693.8h0M419.5 665.6h0M330.5 662.0h0M277.2 673.2h0M426.6 607.7h0M362.8 633.6h0M404.6 617.5h0M367.3 668.6h0M358.0 689.5h0M404.1 601.3h0M388.6 683.1h0M368.4 599.4h0M462.1 629.7h0M359.2 694.5h0M330.3 652.5h0M370.4 673.2h0M342.7 639.8h0M379.8 649.9h0M419.2 627.4h0M303.5 706.0h0M452.3 594.5h0M371.8 609.5h0M344.9 667.9h0M380.4 630.9h0M404.0 737.6h0M403.7 628.4h0M360.0 634.5h0M348.4 713.0h0M322.1 673.8h0M367.0 608.8h0M427.5 601.3h0M378.1 612.5h0M383.3 626.0h0M438.1 631.3h0M375.2 644.0h0M358.1 637.3h0M409.0 606.5h0M353.9 703.8h0M466.6 598.2h0M302.6 694.9h0M404.0 603.5h0M355.4 599.6h0M384.2 640.1h0M385.0 622.5h0M356.0 621.7h0M369.7 595.9h0M329.1 629.5h0M468.3 606.7h0M332.2 718.5h0M382.8 615.1h0M379.7 605.9h0M413.2 602.0h0M400.6 613.3h0M354.4 697.2h0M389.3 619.4h0M357.1 672.1h0M362.9 655.7h0M442.0 606.4h0M359.8 720.7h0M350.0 652.2h0M323.6 692.9h0M375.4 608.3h0M439.7 623.3h0M352.7 639.6h0M442.0 605.8h0M431.0 600.4h0M453.7 597.8h0M426.9 614.6h0M438.7 600.1h0M344.7 654.9h0M449.3 613.5h0M402.5 622.6h0M381.6 629.6h0M345.1 720.8h0M320.1 671.2h0M292.8 689.0h0M442.5 697.8h0M385.8 618.6h0M283.5 714.8h0M367.0 628.7h0M323.9 660.2h0M394.6 629.9h0M347.7 654.5h0M450.5 599.7h0M443.4 613.6h0M337.9 643.6h0M376.0 620.2h0M301.4 689.5h0M327.4 653.3h0M350.2 718.5h0M289.8 667.6h0M320.8 652.2h0M391.1 616.2h0M379.7 679.7h0M360.4 696.2h0M346.2 655.4h0M358.3 597.1h0M384.3 593.7h0M409.4 617.6h0M410.4 592.9h0M370.7 632.9h0M372.0 600.5h0M358.6 613.3h0M378.0 617.2h0M364.7 626.5h0M386.2 711.2h0M279.6 682.5h0M407.8 594.3h0M319.3 739.5h0M403.3 622.3h0M351.1 747.1h0M315.9 678.1h0M363.4 642.8h0M421.4 612.2h0M428.1 604.9h0M299.6 719.0h0M338.4 605.0h0M360.8 623.9h0M397.4 599.1h0M377.1 662.4h0M340.0 649.5h0M317.7 606.7h0M404.1 613.2h0M363.1 630.7h0M340.4 652.5h0M392.9 616.7h0M378.3 607.1h0M373.4 622.3h0M381.9 636.5h0M383.6 640.1h0M420.5 597.2h0M352.8 604.0h0M360.0 672.8h0M421.3 608.5h0M338.0 636.6h0M372.7 626.3h0M326.4 662.4h0M303.6 674.4h0M377.2 622.5h0M442.5 598.8h0M348.4 639.9h0M339.9 695.5h0M426.5 592.5h0M375.4 623.8h0M404.5 617.3h0M462.1 595.6h0M425.7 607.1h0M297.6 704.4h0M351.5 597.4h0M434.5 599.1h0M442.0 594.9h0M374.4 626.8h0M371.9 746.2h0M352.2 638.0h0M465.7 593.9h0M323.6 657.1h0M350.1 703.0h0M354.2 682.8h0M351.2 630.8h0M443.2 602.9h0M451.2 598.1h0M427.4 592.5h0M346.6 695.2h0M342.4 636.6h0M378.2 591.8h0M337.9 644.8h0M413.1 609.4h0M381.4 603.1h0M458.8 598.0h0M380.1 606.2h0M370.7 624.4h0M416.8 605.4h0M440.0 597.5h0M323.8 648.2h0M346.2 659.4h0M395.1 613.6h0M387.1 622.1h0M321.2 651.9h0M365.5 734.7h0M388.4 612.9h0M384.2 644.6h0M344.1 701.2h0M318.0 653.3h0M393.3 607.8h0M427.5 663.3h0M371.7 627.8h0M394.0 611.3h0M372.6 618.1h0M362.8 633.6h0M327.0 681.7h0M281.8 686.0h0M343.9 668.8h0M333.0 617.4h0M285.5 669.6h0M374.1 646.3h0M373.8 619.0h0M384.1 623.8h0M424.8 596.0h0M333.2 653.1h0M373.5 677.7h0M395.2 610.2h0M368.7 623.1h0M334.6 660.7h0M459.3 604.6h0M369.2 622.7h0M306.3 663.1h0M394.8 636.0h0M416.8 609.4h0M289.7 672.0h0M328.7 610.2h0M365.9 615.1h0M447.9 597.3h0M408.7 616.2h0M342.7 648.0h0M369.6 636.8h0M459.7 606.8h0M371.8 618.2h0M328.9 651.2h0M318.1 626.8h0M336.3 643.8h0M455.9 595.3h0M354.6 619.4h0M338.0 649.5h0M334.5 594.9h0M329.6 663.2h0M440.5 617.9h0M335.5 619.0h0M462.8 607.1h0M379.4 663.1h0M424.6 592.7h0M445.8 601.4h0M372.5 654.3h0M274.8 639.4h0M435.0 601.9h0M408.5 608.1h0M336.8 643.5h0M382.6 682.5h0M329.5 630.7h0M465.6 599.1h0M443.1 616.8h0M300.6 669.9h0M342.8 680.7h0M310.4 693.4h0M337.2 682.0h0M354.4 746.8h0M411.4 604.3h0M284.0 708.9h0M379.5 611.2h0M422.5 610.1h0M314.7 641.0h0M380.4 639.9h0M404.7 606.9h0M289.4 670.2h0M455.7 599.7h0M354.9 636.4h0M343.4 639.3h0M373.6 608.4h0M443.2 593.0h0M364.7 615.2h0M344.9 645.6h0M440.2 603.6h0M366.7 644.0h0M362.6 624.4h0M378.1 614.8h0M423.0 605.8h0M366.9 701.7h0M388.2 618.1h0M407.6 591.9h0M443.9 594.7h0M404.1 625.7h0M352.0 678.9h0M452.0 608.3h0M382.9 642.1h0M368.1 637.9h0M326.6 670.4h0M340.6 629.1h0M410.8 606.1h0M442.8 600.9h0M437.5 601.3h0M366.6 662.6h0M277.4 661.4h0M431.5 610.7h0M326.8 647.4h0M356.2 733.9h0M407.3 610.0h0M378.0 613.2h0M406.3 593.6h0M398.5 617.5h0M334.0 640.0h0M372.2 618.2h0M312.4 675.8h0M378.0 649.4h0M367.6 644.3h0M323.5 659.5h0M397.9 628.9h0M398.0 633.5h0M393.7 623.7h0M465.0 596.5h0M364.5 664.6h0M448.2 597.1h0M392.0 634.9h0M280.5 716.7h0M345.2 684.1h0M435.7 605.2h0M375.3 648.2h0M409.4 611.4h0M407.3 625.8h0M369.7 657.2h0M413.9 612.0h0M350.9 640.2h0M399.6 604.6h0M345.7 695.0h0M457.5 600.7h0M341.0 716.3h0M466.6 601.6h0M394.4 604.1h0M370.0 603.0h0M325.6 619.1h0M422.2 599.5h0M413.3 602.1h0M438.3 596.9h0M360.7 690.1h0M385.8 604.5h0M305.1 649.7h0M365.6 622.6h0M457.5 602.8h0M399.6 597.7h0M314.2 652.6h0M420.7 611.1h0M359.2 654.9h0M369.8 666.6h0M349.0 631.1h0M314.8 653.1h0M349.3 655.7h0M376.5 667.3h0M276.5 761.3h0M406.9 595.3h0M385.7 628.5h0M404.5 688.3h0M454.4 609.9h0M370.9 689.7h0M365.7 616.2h0M337.1 673.4h0M343.1 638.0h0M363.8 592.8h0M449.9 604.9h0M349.3 645.7h0M419.5 678.0h0M356.1 636.0h0M339.6 648.5h0M317.5 649.1h0M301.9 657.5h0M350.6 615.6h0M423.5 601.5h0M389.3 593.2h0M414.1 596.5h0M374.0 636.1h0M357.4 600.7h0M379.5 630.5h0M395.3 603.3h0M367.0 612.0h0M332.8 665.5h0M378.9 626.4h0M389.6 606.4h0M448.4 601.7h0M375.4 710.7h0M431.2 594.8h0M382.0 626.7h0M353.7 696.3h0M414.3 592.6h0M372.7 636.0h0M298.4 689.4h0M416.0 597.4h0M363.2 599.9h0M417.3 619.1h0M383.8 657.6h0M354.0 615.8h0M293.8 663.1h0M440.8 602.8h0M343.0 649.0h0M325.4 646.9h0M374.6 623.1h0M331.0 643.4h0M358.6 640.9h0M461.6 617.5h0M331.5 648.2h0M435.8 613.1h0M368.8 613.2h0M306.5 661.3h0M333.4 654.4h0M365.3 618.5h0M339.0 620.6h0M404.5 618.0h0M351.0 622.0h0M287.0 680.2h0M416.6 612.2h0M397.1 597.1h0M373.9 641.6h0M368.8 611.4h0M367.8 632.5h0M412.1 603.9h0M370.4 714.5h0M362.9 649.7h0M432.5 607.8h0M274.7 698.4h0M339.1 698.6h0M406.0 609.3h0M414.1 618.8h0M367.2 618.9h0M422.5 610.2h0M335.4 646.9h0M345.1 646.9h0M461.7 594.9h0M435.5 614.4h0M366.7 603.6h0M290.1 670.3h0M370.8 659.3h0M395.0 634.9h0M358.2 626.2h0M381.0 628.8h0M339.6 680.9h0M295.4 684.8h0M360.6 626.4h0M290.2 677.8h0M346.0 600.8h0M351.6 659.2h0M303.5 615.1h0M337.7 637.8h0M347.0 632.3h0M362.4 628.3h0M350.3 684.7h0M353.0 654.7h0M381.5 593.4h0M372.7 599.4h0M329.0 669.4h0M335.9 628.0h0M436.8 596.7h0M362.2 650.7h0M311.2 655.7h0M387.6 607.5h0M338.6 631.3h0M389.1 688.2h0M412.9 592.3h0M361.1 627.7h0M350.3 632.5h0M353.5 654.8h0M408.5 619.9h0M385.1 592.0h0M350.8 716.9h0M409.7 596.0h0M381.3 602.5h0M428.3 595.6h0M353.9 649.0h0M350.9 644.5h0M344.8 710.6h0M412.9 598.6h0M371.0 667.0h0M413.8 620.6h0M332.0 643.8h0M275.4 673.3h0M368.3 619.9h0M356.3 624.3h0M361.7 625.0h0M411.3 632.2h0M363.1 635.2h0M282.2 702.6h0M413.9 593.0h0M364.4 648.3h0M346.2 632.1h0M414.7 611.0h0M337.3 624.3h0M412.0 604.0h0M380.4 612.1h0M406.8 600.2h0M335.3 652.3h0M386.0 643.5h0M315.9 685.7h0M361.8 637.1h0M364.7 709.6h0M465.3 595.1h0M395.5 595.3h0M345.8 630.6h0M363.2 628.0h0M355.2 659.1h0M382.8 667.3h0M465.2 599.6h0M336.0 627.0h0M391.9 598.2h0M331.5 647.0h0M279.1 666.4h0M399.1 597.3h0M417.0 594.6h0M459.0 608.0h0M409.4 595.1h0M462.6 604.5h0M358.0 641.2h0M311.2 682.7h0M449.9 597.5h0M300.0 643.2h0M338.1 640.2h0M446.3 619.4h0M336.5 665.8h0M354.6 630.3h0M347.4 650.7h0M330.0 643.8h0M358.1 661.9h0M274.4 679.6h0M372.7 613.6h0M371.8 643.6h0M293.7 710.6h0M329.6 654.0h0M459.7 607.9h0M366.4 636.2h0M352.0 630.8h0M371.0 637.9h0M411.9 597.2h0M328.5 663.7h0M381.6 630.7h0M410.6 621.2h0M466.6 607.9h0M301.1 638.9h0M419.8 595.2h0M398.5 631.7h0M455.1 595.0h0M309.5 652.2h0M317.2 688.8h0M337.7 640.2h0M331.9 741.8h0M370.2 710.4h0M394.2 626.7h0M365.7 608.7h0M372.3 642.0h0M343.1 622.0h0M443.7 606.8h0M409.9 700.1h0M398.1 621.9h0M408.0 608.0h0M413.8 621.5h0M320.8 645.5h0M387.1 609.5h0M381.6 658.9h0M373.0 652.5h0M357.2 644.8h0M315.2 677.6h0M290.1 671.1h0M368.6 681.4h0M370.5 618.4h0M333.4 641.3h0M340.8 625.3h0M348.0 660.1h0M402.1 615.2h0M282.3 716.0h0M384.5 600.2h0M331.3 666.5h0M318.5 662.9h0M400.3 611.0h0M308.0 686.3h0M457.5 613.1h0M334.7 633.8h0M431.9 604.1h0M302.2 669.7h0M291.7 681.5h0M342.5 663.1h0M325.5 658.6h0M376.9 616.1h0M379.0 656.2h0M423.7 595.9h0M374.7 673.5h0M338.4 636.8h0M337.0 682.8h0M413.2 594.0h0M330.6 661.8h0M354.5 632.0h0M423.2 615.8h0M360.5 724.5h0M426.1 605.2h0M285.8 653.0h0M444.4 605.7h0M406.3 604.0h0M409.0 611.9h0M423.0 600.3h0M346.0 691.8h0M466.5 605.4h0M294.9 699.1h0M400.4 607.7h0M393.7 605.3h0M407.7 613.4h0M333.1 638.0h0M395.8 620.0h0M429.6 595.5h0M374.5 603.4h0M316.1 665.3h0M389.9 649.1h0M384.0 631.2h0M456.4 604.4h0M420.2 595.0h0M376.0 677.4h0M399.8 620.3h0M372.8 643.1h0M410.2 613.4h0M428.2 602.4h0M348.6 706.9h0M379.3 609.9h0M364.1 614.7h0M354.8 666.2h0M276.2 665.1h0M371.6 652.5h0M301.2 708.9h0M369.5 605.5h0M374.7 640.0h0M388.4 640.4h0M388.7 616.9h0M408.7 597.4h0M313.5 655.0h0M342.4 761.6h0M382.9 619.1h0M342.2 637.6h0M358.2 625.0h0M451.5 592.0h0M442.3 609.1h0M370.4 620.9h0M273.8 672.5h0M397.4 599.4h0M332.4 642.6h0M447.8 601.7h0M374.3 665.9h0M354.1 664.1h0M466.7 598.7h0M291.2 736.8h0M334.5 660.6h0M350.4 669.9h0M445.1 608.6h0M359.0 674.8h0M333.5 632.9h0M330.1 645.9h0M370.7 636.2h0M320.3 654.6h0M372.1 594.3h0M335.2 762.9h0M417.2 619.8h0M430.3 603.3h0M447.8 603.8h0M354.0 646.8h0M341.9 647.6h0M309.0 679.1h0M363.4 603.9h0M347.8 687.8h0M406.7 595.9h0M378.2 597.4h0M405.3 625.6h0M306.5 690.3h0M358.2 627.6h0M347.3 657.7h0M350.0 668.7h0M420.6 606.2h0M415.7 605.0h0M428.9 595.8h0M363.2 652.0h0M364.0 652.6h0M331.6 685.4h0M439.4 593.6h0M340.4 707.2h0M366.4 618.2h0M453.8 608.0h0M378.5 700.9h0M429.2 624.8h0M327.3 652.7h0M392.3 617.8h0M347.4 656.3h0M383.4 597.3h0M404.8 596.0h0M368.9 602.6h0M400.8 612.1h0M365.8 622.6h0M396.5 625.9h0M310.9 652.8h0M406.1 603.9h0M398.1 620.8h0M390.1 620.4h0M314.0 659.9h0M324.5 650.8h0M465.0 594.5h0M458.6 621.0h0M384.3 598.7h0M368.6 636.8h0M468.5 707.3h0M411.1 601.0h0M402.8 608.8h0M468.2 602.9h0M442.5 600.6h0M338.9 632.0h0M398.1 595.1h0M385.8 616.2h0M368.4 629.4h0M365.2 693.1h0M292.6 654.0h0M383.4 643.6h0M384.3 606.0h0M346.5 660.2h0M317.5 598.9h0M435.0 599.3h0M379.7 604.3h0M378.9 639.0h0M381.2 624.7h0M454.1 608.3h0M425.6 595.0h0M428.7 601.2h0M416.9 655.0h0M423.4 599.0h0M280.3 697.7h0M373.0 635.0h0M359.0 613.4h0M286.3 693.5h0M363.1 627.1h0M336.4 633.2h0M347.4 673.6h0M359.3 648.1h0M378.7 637.3h0M355.0 758.9h0M367.9 596.1h0M345.9 642.4h0M397.0 625.1h0M364.1 606.1h0M363.5 711.9h0M412.5 604.1h0M320.7 658.0h0M419.2 610.6h0M442.3 615.0h0M427.7 595.6h0M450.4 599.6h0M327.1 633.4h0M358.2 637.6h0M373.3 629.6h0M384.4 612.0h0M446.2 609.8h0M328.0 657.2h0M359.8 715.0h0M305.9 630.2h0M344.3 678.4h0M305.7 658.2h0M331.2 660.8h0M404.1 622.1h0M322.9 619.6h0M349.9 656.2h0M323.1 669.9h0M410.7 592.5h0M422.8 615.2h0M343.9 662.6h0M273.5 660.3h0M335.8 639.2h0M383.5 628.8h0M311.0 720.5h0M412.7 617.2h0M389.4 598.5h0M323.3 616.0h0M276.6 668.0h0M379.8 653.0h0M360.3 641.1h0M283.3 683.6h0M358.6 672.1h0M385.5 609.6h0M409.6 596.4h0M436.4 696.3h0M327.1 699.1h0M330.6 644.7h0M315.5 665.9h0M396.9 593.1h0M332.4 654.7h0M351.2 647.1h0M335.7 648.8h0M402.7 620.9h0M353.4 614.5h0M371.6 676.2h0M379.6 634.0h0M394.6 614.0h0M353.8 633.5h0M350.5 647.6h0M418.9 595.9h0M332.9 627.0h0M354.4 627.6h0M361.7 685.4h0M376.8 615.8h0M344.6 649.3h0M406.9 612.9h0M373.8 608.8h0M401.4 593.4h0M398.7 617.7h0M360.2 675.6h0M402.1 666.8h0M431.4 598.4h0M389.1 593.3h0M397.8 611.3h0M418.5 606.1h0M385.1 598.9h0M370.1 654.5h0M315.6 678.2h0M375.2 607.5h0M436.2 592.1h0M424.1 595.6h0M379.5 643.8h0M389.9 623.0h0M339.8 639.6h0M307.6 679.7h0M327.3 634.8h0M382.6 661.8h0M389.5 620.3h0M372.6 652.4h0M373.6 634.0h0M342.1 669.4h0M422.9 598.9h0M371.5 646.9h0M391.4 615.8h0M323.9 667.0h0M314.7 680.8h0M362.4 623.1h0M364.1 627.6h0M468.4 673.1h0M386.1 618.3h0M357.3 616.9h0M368.4 648.3h0M335.0 653.1h0M345.9 626.7h0M413.1 599.5h0M408.8 614.2h0M358.6 633.4h0M305.9 664.7h0M420.9 720.3h0M316.5 655.3h0M284.9 688.6h0M395.6 610.6h0M380.3 636.9h0M433.1 616.5h0M343.0 611.0h0M339.1 646.9h0M343.1 624.4h0M343.5 628.9h0M388.2 606.9h0M442.0 598.3h0M359.0 616.4h0M340.6 634.3h0M418.5 602.7h0M368.5 622.2h0M348.6 646.0h0M446.3 605.8h0M372.7 689.4h0M348.2 632.7h0M330.3 694.1h0M341.5 647.3h0M348.8 646.6h0M358.2 645.4h0M359.2 601.9h0M400.7 602.7h0M408.9 598.2h0M289.8 715.2h0M459.3 602.0h0M352.9 687.1h0M384.2 720.5h0M353.9 616.8h0M350.0 648.9h0M396.4 622.1h0M388.2 641.8h0M431.2 605.8h0M443.8 594.1h0M370.4 658.7h0M461.5 608.0h0M390.1 632.9h0M384.1 613.2h0M457.0 620.2h0M346.2 615.9h0M415.1 595.5h0M320.4 677.8h0M361.0 621.3h0M368.0 670.0h0M368.4 615.9h0M403.4 595.2h0M400.4 616.4h0M368.2 628.0h0M347.8 631.6h0M294.8 672.7h0M408.7 592.6h0M394.8 598.1h0M315.9 659.8h0M386.2 608.9h0M421.7 595.6h0M365.0 610.3h0M329.8 666.5h0M426.5 721.1h0M377.4 593.1h0M459.1 601.0h0M413.2 623.0h0M406.7 597.6h0M343.3 660.1h0M416.4 600.5h0M365.1 610.8h0M339.4 649.2h0M335.2 659.9h0M343.3 656.1h0M447.0 598.5h0M344.3 634.0h0M400.3 608.0h0M410.0 592.9h0M356.9 641.5h0M394.4 610.0h0M433.3 603.3h0M344.1 637.6h0M442.3 603.7h0M373.2 619.5h0M341.2 648.3h0M357.4 709.8h0M373.8 622.6h0M354.2 649.2h0M343.7 642.4h0M333.0 673.0h0M398.3 597.8h0M404.7 629.8h0M344.5 633.5h0M447.6 622.5h0M444.3 595.2h0M358.2 637.1h0M382.8 613.5h0M384.0 637.4h0M314.5 687.3h0M361.5 638.1h0M277.1 687.1h0M432.1 592.7h0M319.1 692.1h0M441.2 618.5h0M373.6 593.8h0M366.6 629.1h0M333.0 650.5h0M367.1 721.6h0M325.1 656.4h0M348.2 629.8h0M370.4 615.7h0M434.8 665.0h0M406.8 620.6h0M374.6 635.5h0M348.9 631.6h0M293.4 679.9h0M344.8 652.8h0M359.7 660.5h0M347.4 628.3h0M434.0 610.9h0M353.8 616.7h0M370.4 634.2h0M314.6 657.0h0M441.3 601.2h0M357.5 651.4h0M372.9 598.2h0M356.7 707.3h0M357.4 713.9h0M274.3 680.1h0M368.4 735.7h0M448.1 599.1h0M370.0 605.7h0M421.5 605.3h0M318.0 656.2h0M379.0 628.8h0M398.8 614.3h0M329.2 630.3h0M362.4 602.5h0M413.8 690.3h0M358.4 647.8h0M375.0 622.3h0M305.9 635.3h0M443.9 593.3h0M355.0 719.4h0M451.7 598.4h0M389.4 598.7h0M427.4 595.8h0M379.5 628.6h0M316.0 648.7h0M388.9 675.5h0M345.2 631.2h0M455.2 607.4h0M423.2 603.2h0M407.6 614.3h0M292.2 672.5h0M326.5 636.9h0M375.4 652.3h0M364.9 642.7h0M409.9 608.3h0M357.2 658.6h0M461.8 603.1h0M332.4 649.2h0M387.0 607.0h0M374.2 623.7h0M322.6 663.1h0M384.3 647.2h0M377.8 635.2h0M417.1 601.0h0M389.6 614.2h0M303.2 619.2h0M444.3 592.0h0M411.9 617.7h0M327.3 699.5h0M356.9 607.1h0M421.5 594.5h0M342.7 705.3h0M431.8 613.8h0M401.4 696.4h0M362.1 654.6h0M333.8 652.7h0M377.0 696.3h0M438.0 612.2h0M307.0 653.8h0M277.3 655.8h0M447.4 608.3h0M329.5 703.6h0M344.1 624.4h0M376.9 634.7h0M290.4 685.5h0M397.6 616.0h0M409.6 618.8h0M360.5 706.0h0M389.6 638.4h0M389.8 622.4h0M359.4 691.5h0M420.0 601.2h0M414.0 628.4h0M395.4 607.2h0M363.0 651.7h0M341.9 636.3h0M330.7 693.7h0M377.2 659.6h0M402.7 608.3h0M361.4 647.2h0M416.1 620.5h0M292.0 675.1h0M376.5 635.0h0M333.9 627.8h0M290.0 594.4h0M347.6 660.2h0M437.6 610.1h0M385.3 612.4h0M357.9 705.7h0M344.7 665.0h0M324.8 640.5h0M343.8 605.2h0M403.8 598.9h0M356.5 623.5h0M323.5 648.5h0M431.3 598.8h0M417.4 597.5h0M349.7 649.9h0M401.3 623.3h0M340.3 639.8h0M429.0 600.9h0M374.0 642.5h0M351.9 657.2h0M282.5 696.8h0M317.1 623.2h0M362.4 659.1h0M315.3 647.0h0M413.6 608.1h0M274.8 663.0h0M406.5 597.4h0M362.5 688.6h0M395.3 611.2h0M446.4 610.2h0M328.4 652.2h0M314.2 699.3h0M283.3 680.6h0M348.0 636.3h0M408.1 608.7h0M297.3 707.0h0M411.1 595.7h0M435.1 602.0h0M399.8 604.5h0M349.4 621.2h0M274.5 670.0h0M328.7 646.7h0M306.6 640.2h0M279.6 700.6h0M348.4 666.7h0M345.1 631.4h0M352.4 608.4h0M301.5 665.6h0M298.0 709.6h0M366.9 592.0h0M366.1 702.8h0M328.4 665.0h0M401.3 619.7h0M406.6 640.7h0M411.7 602.9h0M358.7 628.6h0M383.3 636.6h0M298.8 680.4h0M419.0 612.3h0M323.4 655.9h0M371.8 603.3h0M396.3 604.0h0M394.4 728.5h0M445.4 612.3h0M357.8 642.0h0M401.8 598.8h0M422.5 602.1h0M345.3 658.0h0M322.4 643.6h0M307.5 680.7h0M382.9 607.2h0M377.4 630.5h0M358.2 611.2h0M348.5 620.9h0M424.0 621.3h0M328.5 658.2h0M326.8 660.0h0M440.2 599.1h0M368.4 633.5h0M356.0 672.7h0M419.7 601.6h0M450.0 597.3h0M362.9 718.5h0M335.4 661.6h0M382.9 604.5h0M462.8 597.4h0M321.6 648.6h0M452.0 613.3h0M300.6 630.5h0M406.0 635.6h0M446.2 598.0h0M364.9 649.3h0M350.1 663.4h0M360.6 609.5h0M347.1 651.5h0M463.0 602.3h0M306.5 691.8h0M464.4 602.4h0M350.3 613.2h0M395.3 634.2h0M306.5 645.2h0M366.5 651.1h0M341.8 629.1h0M384.2 604.5h0M379.5 656.9h0M364.3 619.3h0M379.6 650.2h0M371.2 619.9h0M355.0 600.2h0M310.1 612.0h0M359.8 706.7h0M373.0 600.6h0M390.8 618.4h0M405.2 621.1h0M430.7 606.1h0M288.6 694.1h0M348.0 700.6h0M449.8 603.5h0M385.8 648.4h0M427.4 611.8h0M359.5 635.7h0M351.4 659.3h0M321.8 655.3h0M320.4 646.9h0M355.9 681.6h0M299.5 696.8h0M405.6 595.9h0M378.3 626.2h0M431.4 627.5h0M342.6 680.5h0M373.5 640.3h0M380.2 727.9h0M413.3 622.1h0M361.3 633.7h0M402.8 616.0h0M373.9 595.8h0M276.6 645.1h0M367.2 641.3h0M354.0 658.8h0M307.9 690.3h0M402.5 610.0h0M346.3 614.6h0M438.1 597.6h0M359.0 620.7h0M357.2 716.6h0M419.9 598.2h0M277.3 677.9h0M386.9 640.1h0M328.2 656.1h0M391.8 625.8h0M301.5 675.1h0M359.6 615.1h0M320.9 658.9h0M322.1 654.1h0M384.9 617.3h0M418.8 612.5h0M318.7 627.9h0M437.9 595.7h0M334.1 649.5h0M367.4 640.0h0M351.0 647.8h0M355.8 664.1h0M403.5 627.4h0M425.5 596.6h0M333.2 642.2h0M368.5 657.0h0M331.0 674.9h0M377.0 633.5h0M344.3 649.2h0M377.0 629.0h0M363.9 652.5h0M383.8 617.1h0M349.9 704.1h0M433.1 602.8h0M407.2 626.6h0M373.3 664.4h0M399.9 634.3h0M322.7 649.8h0M360.1 660.3h0M335.7 648.6h0M412.9 614.7h0M344.9 661.9h0M380.1 630.3h0M358.6 600.7h0M332.9 722.1h0M363.9 601.1h0M337.7 637.9h0M345.7 674.9h0M343.5 596.1h0M434.5 625.8h0M313.3 675.6h0M293.5 663.0h0M364.8 680.4h0M317.5 645.9h0M366.3 598.6h0M337.2 651.4h0M432.2 595.6h0M398.7 604.4h0M372.8 634.2h0M401.4 597.8h0M322.2 640.1h0M300.5 694.5h0M363.9 636.2h0M360.1 630.5h0M336.3 647.4h0M351.3 613.5h0M378.7 628.9h0M388.9 651.4h0M409.7 603.0h0M418.5 594.7h0M337.0 657.6h0M363.6 748.5h0M278.0 726.3h0M302.9 711.7h0M365.6 632.7h0M359.0 624.7h0M331.1 729.6h0M338.4 651.7h0M400.7 626.7h0M441.7 603.3h0M369.5 645.2h0M344.3 651.8h0M459.3 592.8h0M376.8 642.1h0M413.3 594.6h0M294.1 723.5h0M371.8 700.5h0M458.5 598.9h0M287.4 658.1h0M296.0 671.7h0M359.0 630.4h0M413.3 640.6h0M422.6 599.4h0M342.9 654.6h0M314.7 641.4h0M382.2 627.5h0M412.9 628.5h0M282.3 692.6h0M375.3 630.1h0M442.1 595.4h0M425.0 614.0h0M361.4 631.0h0M357.7 730.6h0M344.8 632.7h0M435.5 596.0h0M345.5 620.8h0M325.5 620.4h0M375.9 725.0h0M368.8 615.2h0M286.2 739.3h0M400.6 622.8h0M357.2 702.4h0M377.9 647.9h0M340.6 626.4h0M341.9 646.4h0M278.7 652.4h0M395.3 616.9h0M297.7 682.7h0M291.0 674.2h0M349.3 677.2h0M381.4 623.8h0M337.0 709.5h0M342.8 666.7h0M366.8 621.3h0M422.3 594.9h0M355.8 627.2h0M353.0 627.0h0M352.6 659.7h0M440.7 599.9h0M411.3 606.9h0M399.4 613.1h0M351.6 623.5h0M347.3 677.0h0M370.0 625.4h0M383.6 616.8h0M314.5 668.9h0M322.9 603.5h0M382.1 620.8h0M396.7 629.5h0M458.5 729.3h0M361.1 721.6h0M384.1 624.3h0M375.5 657.8h0M364.1 653.0h0M328.2 644.2h0M373.7 643.1h0M319.7 687.3h0M319.9 622.1h0M300.5 696.1h0M314.3 647.2h0M468.1 594.6h0M370.9 731.9h0M387.4 620.9h0M295.1 686.4h0M398.6 600.0h0M306.8 660.7h0M342.1 702.7h0M383.5 617.1h0M438.4 596.9h0M383.2 633.7h0M342.7 629.5h0M380.3 644.0h0M399.1 603.3h0M290.0 632.5h0M372.3 616.5h0M340.1 712.8h0M342.6 695.7h0M343.2 635.4h0M407.2 623.1h0M412.1 604.7h0M445.7 597.0h0M395.1 618.6h0M466.8 604.0h0M433.1 592.4h0M411.2 602.2h0M369.6 624.2h0M406.0 606.9h0M425.3 598.3h0M467.6 604.4h0M349.8 667.0h0M370.3 621.2h0M389.7 620.1h0M318.7 648.4h0M327.4 628.8h0M308.8 679.7h0M379.8 616.7h0M468.0 593.2h0M397.0 637.5h0M328.0 636.6h0M354.1 627.1h0M466.2 690.9h0M331.3 667.6h0M276.1 632.7h0M321.1 636.4h0M407.7 606.4h0M375.4 617.4h0M399.9 600.7h0M445.9 602.6h0M336.3 666.8h0M356.4 704.4h0M353.9 628.7h0M364.3 615.5h0M347.2 657.4h0M360.2 650.4h0M413.1 620.2h0M394.5 606.8h0M376.2 626.6h0M293.5 671.1h0M407.5 617.9h0M312.2 675.8h0M299.7 718.6h0M422.6 601.8h0M441.8 685.1h0M326.3 757.4h0M310.0 630.9h0M341.8 651.5h0M283.4 683.7h0M364.7 633.5h0M355.0 654.7h0M372.5 619.4h0M345.0 652.9h0M420.7 594.7h0M355.3 621.4h0M294.0 690.0h0M316.0 667.2h0M365.8 617.2h0M330.8 663.3h0M464.7 612.1h0M466.3 597.6h0M393.4 637.6h0M334.2 707.6h0M424.4 598.4h0M302.6 661.8h0M354.0 619.4h0M328.8 672.7h0M387.3 594.1h0M298.9 688.7h0M403.6 637.5h0M342.4 607.5h0M382.9 612.2h0M425.4 594.5h0M367.6 619.8h0M416.6 614.0h0M293.0 668.4h0M339.0 707.9h0M458.1 593.4h0M320.4 654.8h0M303.7 636.4h0M363.8 624.6h0M447.7 603.1h0M337.3 700.3h0M383.3 603.5h0M318.1 684.4h0M347.9 654.9h0M399.5 595.5h0M356.3 633.0h0M339.3 711.0h0M357.9 715.0h0M344.6 651.4h0M350.3 651.6h0M330.1 645.2h0M348.2 687.3h0M394.3 629.4h0M380.6 602.7h0M349.1 644.3h0M382.0 679.0h0M340.2 629.1h0M349.2 650.6h0M372.7 605.6h0M290.0 689.4h0M366.3 624.5h0M357.9 626.8h0M321.3 639.4h0M363.7 667.8h0M342.3 640.6h0M361.4 718.1h0M397.5 631.3h0M389.9 609.8h0M299.9 680.5h0M284.6 684.2h0M368.5 653.7h0M409.9 611.2h0M349.0 646.2h0M371.6 711.8h0M389.4 625.8h0M317.2 660.0h0M402.5 633.3h0M457.0 595.7h0M414.0 618.1h0M296.7 661.9h0M372.9 665.9h0M419.9 603.7h0M443.6 736.6h0M277.4 688.6h0M443.3 601.3h0M311.6 710.0h0M372.7 610.4h0M435.3 606.2h0M326.9 648.6h0M358.7 639.0h0M376.7 641.8h0M435.0 613.3h0M320.7 681.6h0M386.0 622.4h0M351.2 637.5h0M359.3 599.8h0M440.2 607.5h0M425.2 599.6h0M370.8 618.8h0M386.8 662.7h0M366.7 652.3h0M351.2 651.7h0M377.5 640.3h0M322.8 655.9h0M336.5 651.0h0M358.7 608.9h0M282.3 694.3h0M377.9 609.3h0M305.9 661.8h0M400.1 635.1h0M342.3 652.8h0M341.8 654.3h0M333.3 649.2h0M443.7 592.8h0M362.9 669.4h0M366.4 650.1h0M438.6 614.2h0M375.6 620.9h0M297.5 697.4h0M355.7 682.7h0M322.2 666.4h0M381.5 633.8h0M400.6 601.4h0M377.0 666.5h0M443.5 601.0h0M436.9 596.3h0M417.2 596.3h0M465.8 599.2h0M352.0 644.9h0M348.9 655.4h0M387.8 642.0h0M412.5 596.4h0M310.9 668.3h0M339.0 668.2h0M417.2 599.9h0M323.4 655.8h0M388.4 628.8h0M383.3 726.5h0M330.8 632.2h0M399.5 640.3h0M341.9 649.0h0M386.9 619.1h0M468.5 594.3h0M363.8 653.0h0M347.3 643.2h0M414.3 598.7h0M410.8 595.8h0M354.1 623.6h0M443.6 610.5h0M345.4 663.1h0M347.9 683.9h0M392.5 601.0h0M370.5 646.5h0M355.6 637.2h0M430.9 616.4h0M314.2 710.6h0M344.2 645.0h0M405.5 604.4h0M392.9 649.9h0M376.2 621.8h0M330.7 678.9h0M331.2 634.7h0M334.7 681.3h0M394.7 591.7h0M390.2 595.2h0M438.4 605.6h0M389.4 612.4h0M351.3 624.6h0M364.1 697.9h0M392.9 619.6h0M330.7 692.4h0M361.8 707.2h0M400.2 632.6h0M404.3 595.8h0M448.0 597.5h0M332.4 657.3h0M281.2 683.2h0M313.5 657.8h0M390.3 607.8h0M344.4 648.0h0M366.9 598.1h0M344.4 672.6h0M352.4 628.4h0M369.2 616.8h0M381.0 623.4h0M389.5 596.6h0M341.8 649.1h0M427.0 606.5h0M365.3 737.1h0M339.9 642.6h0M325.4 625.1h0M377.1 663.3h0M325.4 660.2h0M444.2 594.0h0M308.2 706.9h0M355.9 631.6h0M322.9 706.2h0M415.8 619.8h0M373.2 593.0h0M280.0 657.4h0M465.0 593.2h0M426.9 595.0h0M299.5 680.5h0M466.2 596.8h0M301.1 702.1h0M337.7 627.1h0M324.7 660.5h0M399.5 609.4h0M315.3 637.8h0M393.6 632.5h0M463.2 609.6h0M468.1 613.5h0M324.4 719.5h0M347.4 621.2h0M273.3 698.0h0M342.6 667.2h0M427.5 611.9h0M371.1 617.5h0M370.0 644.5h0M288.4 689.8h0M383.3 631.2h0M365.0 666.3h0M367.0 602.8h0M392.6 600.1h0M366.7 593.2h0M345.5 654.1h0M350.5 703.6h0M350.5 666.7h0M409.5 603.0h0M338.5 706.2h0M416.9 614.5h0M395.4 593.9h0M301.9 716.7h0M322.3 663.9h0M366.3 611.2h0M394.3 657.2h0M352.8 716.5h0M291.9 699.4h0M444.8 595.2h0M370.1 703.7h0M400.3 595.6h0M434.7 606.8h0M337.4 612.8h0M338.5 650.6h0M365.9 642.5h0M360.9 633.2h0M430.3 653.5h0M363.9 621.1h0M277.5 677.0h0M359.2 663.2h0M458.5 600.9h0M282.7 693.4h0M389.5 637.5h0M368.5 617.5h0M375.2 625.7h0M406.4 614.1h0M385.7 675.8h0M385.2 703.0h0M342.4 665.2h0M331.4 649.9h0M356.4 616.6h0M429.3 596.5h0M346.7 724.5h0M376.6 643.4h0M366.1 633.5h0M386.0 635.5h0M375.5 686.6h0M350.1 638.2h0M416.6 618.1h0M365.5 710.8h0M276.7 676.5h0M392.1 620.2h0M381.5 662.2h0M363.0 633.1h0M310.0 674.4h0M345.6 699.6h0M377.3 614.1h0M374.5 630.8h0M370.8 645.3h0M435.1 618.7h0M457.4 613.7h0M450.8 598.8h0M379.1 598.1h0M392.6 612.5h0M310.0 681.7h0M454.1 598.9h0M355.1 701.7h0M436.2 599.2h0M357.0 618.4h0M410.7 619.7h0M345.9 629.5h0M363.6 700.0h0M345.6 623.8h0M393.1 617.5h0M317.1 663.8h0M323.8 661.6h0M397.3 601.9h0M383.6 646.9h0M468.0 694.7h0M355.9 611.7h0M300.0 659.2h0M353.3 632.6h0M367.5 631.3h0M369.9 648.5h0M382.4 664.4h0M431.0 607.6h0M358.0 628.5h0M428.3 593.4h0M346.7 596.2h0M326.9 699.8h0M369.1 664.2h0M290.0 648.8h0M343.1 651.8h0M346.1 674.6h0M341.0 658.4h0M424.4 612.6h0M456.5 596.8h0M386.1 637.1h0M458.5 594.2h0M427.3 603.0h0M427.8 591.9h0M403.9 617.4h0M424.0 621.2h0M382.9 592.0h0M339.3 593.6h0M359.6 687.4h0M466.7 643.2h0M383.3 616.1h0M386.6 627.4h0M398.6 617.3h0M352.7 640.9h0M276.4 677.6h0M352.2 632.4h0M374.7 658.0h0M391.4 603.1h0M346.5 691.8h0M352.8 657.0h0M300.7 644.8h0M360.9 717.2h0M401.3 593.8h0M337.5 648.7h0M398.0 598.1h0M371.2 700.8h0M356.5 690.1h0M346.6 705.4h0M448.2 604.4h0M392.1 669.6h0M352.0 638.6h0M358.7 623.2h0M367.5 641.5h0M326.6 694.5h0M293.8 671.0h0M344.6 647.0h0M382.1 630.8h0M347.4 710.3h0M401.0 639.2h0M414.7 629.6h0M324.5 682.2h0M366.1 634.9h0M422.3 606.2h0M341.0 630.0h0M374.4 594.1h0M356.3 620.7h0M364.4 597.9h0M372.5 606.9h0M390.7 604.7h0M394.3 626.7h0M377.9 601.4h0M439.6 592.2h0M351.9 643.9h0M353.8 633.3h0M373.1 627.4h0M337.3 649.9h0M399.9 624.0h0M339.7 674.2h0M451.8 602.1h0M364.4 626.6h0M428.6 593.2h0M398.2 604.4h0M374.9 690.2h0M401.8 595.1h0M383.5 646.9h0M333.2 681.0h0M373.0 621.9h0M382.3 714.5h0M293.3 682.4h0M367.9 643.1h0M373.3 734.8h0M338.4 645.7h0M335.8 653.1h0M419.1 601.0h0M361.1 626.9h0M352.4 612.2h0M308.4 690.5h0M276.2 673.5h0M342.8 647.3h0M340.4 637.3h0M346.3 734.6h0M355.7 650.4h0M371.9 610.6h0M379.3 638.4h0M365.5 685.9h0M374.7 607.2h0M350.7 625.3h0M309.9 712.6h0M406.2 606.8h0M430.5 608.5h0M284.2 659.7h0M395.6 660.8h0M364.8 628.5h0M392.8 642.3h0M456.2 594.4h0M417.8 598.7h0M410.4 614.4h0M393.4 615.3h0M384.0 647.1h0M367.8 677.5h0M364.7 636.1h0M288.2 694.4h0M322.5 643.6h0M370.3 610.3h0M381.1 601.2h0M341.0 696.3h0M383.5 599.8h0M388.4 618.3h0M424.6 595.1h0M385.8 713.7h0M318.4 662.9h0M293.7 698.2h0M365.8 712.4h0M414.6 612.9h0M449.3 602.3h0M326.9 620.2h0M356.6 663.2h0M342.3 660.2h0M347.9 652.0h0M412.9 606.8h0M332.2 675.8h0M390.7 603.8h0M297.3 684.4h0M346.5 659.9h0M303.1 698.9h0M429.3 592.6h0M398.8 600.4h0M275.2 704.8h0M339.4 640.2h0M328.7 675.0h0M380.5 634.0h0M307.6 652.2h0M308.7 695.5h0M309.2 660.8h0M367.5 603.8h0M349.6 676.4h0M380.9 617.0h0M356.8 596.3h0M362.3 682.9h0M337.0 656.4h0M422.4 613.8h0M388.0 596.4h0M340.9 666.8h0M345.6 680.9h0M324.6 699.7h0M410.3 599.1h0M315.9 683.2h0M359.6 684.4h0M365.7 613.0h0M434.5 600.9h0M406.3 592.5h0M354.2 593.9h0M282.4 684.5h0M380.3 610.6h0M395.9 597.2h0M370.3 605.4h0M339.0 692.5h0M380.5 625.0h0M416.5 612.8h0M392.6 633.8h0M409.0 618.5h0M393.3 606.4h0M453.9 601.9h0M310.7 653.6h0M444.3 718.1h0M398.1 611.0h0M375.3 637.7h0M382.8 708.1h0M387.8 618.8h0M312.9 653.6h0M343.9 621.7h0M395.7 593.6h0M371.4 619.2h0M428.6 600.6h0M434.9 596.0h0M427.4 615.2h0M357.8 635.1h0M402.1 638.2h0M312.4 707.3h0M321.4 642.4h0M324.0 613.8h0M366.9 655.4h0M357.1 628.7h0M397.2 592.4h0M413.9 595.7h0M377.4 680.6h0M350.0 652.4h0M370.3 667.2h0M345.5 632.8h0M395.6 648.8h0M323.4 674.7h0M324.2 673.8h0M274.4 687.3h0M371.0 630.2h0M337.7 648.1h0M419.2 617.0h0M289.0 700.3h0M356.3 650.7h0M368.1 619.9h0M369.3 702.7h0M403.2 603.2h0M358.3 629.0h0M369.9 644.9h0" stroke="#bebebe" stroke-width="3" stroke-linecap="round"/>
<path d="M378.6 703.2h0M392.7 724.1h0M409.5 734.8h0M394.3 697.0h0M385.9 712.0h0M377.0 692.6h0M385.8 708.0h0M386.3 705.5h0M385.9 705.3h0M398.3 731.2h0M408.9 741.5h0M403.2 724.1h0M405.5 736.3h0M387.3 706.9h0M401.4 719.4h0M384.0 705.7h0M398.0 725.6h0M397.2 731.1h0M390.5 704.5h0M389.2 717.9h0M379.5 711.8h0M384.7 699.1h0M399.6 711.1h0M379.2 718.9h0M394.8 708.3h0M402.9 728.5h0M365.6 689.9h0M389.1 709.4h0M386.9 719.1h0M396.7 721.9h0M385.9 708.4h0M390.3 708.1h0M378.5 708.4h0M387.9 712.4h0M379.3 707.1h0M380.2 708.2h0M388.9 707.1h0M385.6 695.8h0M380.1 700.1h0M379.4 693.2h0M376.9 697.0h0M379.2 715.1h0M381.5 722.2h0M369.7 696.5h0M381.8 694.4h0M377.0 692.3h0M405.2 721.7h0M374.7 699.0h0M393.1 722.1h0M403.4 738.9h0M396.5 716.8h0M382.7 697.2h0M397.1 723.2h0M377.8 690.1h0M387.1 698.0h0M394.4 721.6h0M399.1 710.7h0M396.3 715.8h0M388.9 706.7h0M383.2 703.2h0M372.4 670.1h0M371.6 672.1h0M370.2 690.7h0M387.0 703.8h0M379.6 695.9h0M324.7 685.5h0M312.8 697.9h0M339.8 702.6h0M333.8 707.1h0M366.1 678.4h0M322.7 705.3h0M381.9 696.9h0" stroke="#636363" stroke-width="3" stroke-linecap="round"/>
<circle cx="395.8" cy="658.2" r="1.45" fill="none" stroke="#000" stroke-width="0.9"/>
<circle cx="370.6" cy="668.0" r="1.45" fill="none" stroke="#000" stroke-width="0.9"/>
<circle cx="371.2" cy="663.2" r="1.45" fill="none" stroke="#000" stroke-width="0.9"/>
<circle cx="362.6" cy="657.8" r="1.45" fill="none" stroke="#000" stroke-width="0.9"/>
<circle cx="371.4" cy="658.9" r="1.45" fill="none" stroke="#000" stroke-width="0.9"/>
<circle cx="382.8" cy="655.6" r="1.45" fill="none" stroke="#000" stroke-width="0.9"/>
<circle cx="376.9" cy="667.2" r="1.45" fill="none" stroke="#000" stroke-width="0.9"/>
<circle cx="373.1" cy="663.2" r="1.45" fill="none" stroke="#000" stroke-width="0.9"/>
<circle cx="359.3" cy="654.8" r="1.45" fill="none" stroke="#000" stroke-width="0.9"/>
<circle cx="373.2" cy="659.5" r="1.45" fill="none" stroke="#000" stroke-width="0.9"/>
<circle cx="373.1" cy="663.8" r="1.45" fill="none" stroke="#000" stroke-width="0.9"/>
<circle cx="373.6" cy="688.9" r="1.45" fill="none" stroke="#000" stroke-width="0.9"/>
<circle cx="373.8" cy="663.7" r="1.45" fill="none" stroke="#000" stroke-width="0.9"/>
<circle cx="373.9" cy="680.0" r="1.45" fill="none" stroke="#000" stroke-width="0.9"/>
<circle cx="377.4" cy="684.4" r="1.45" fill="none" stroke="#000" stroke-width="0.9"/>
<circle cx="395.9" cy="646.5" r="1.45" fill="none" stroke="#000" stroke-width="0.9"/>
<circle cx="378.4" cy="679.4" r="1.45" fill="none" stroke="#000" stroke-width="0.9"/>
<circle cx="398.9" cy="662.3" r="1.45" fill="none" stroke="#000" stroke-width="0.9"/>
<circle cx="368.2" cy="651.7" r="1.45" fill="none" stroke="#000" stroke-width="0.9"/>
<circle cx="368.2" cy="638.2" r="1.45" fill="none" stroke="#000" stroke-width="0.9"/>
<circle cx="372.1" cy="658.3" r="1.45" fill="none" stroke="#000" stroke-width="0.9"/>
<circle cx="374.4" cy="657.9" r="1.45" fill="none" stroke="#000" stroke-width="0.9"/>
<circle cx="377.0" cy="668.9" r="1.45" fill="none" stroke="#000" stroke-width="0.9"/>
<circle cx="387.2" cy="628.5" r="1.45" fill="none" stroke="#000" stroke-width="0.9"/>
<circle cx="381.3" cy="663.4" r="1.45" fill="none" stroke="#000" stroke-width="0.9"/>
<circle cx="365.3" cy="675.7" r="1.45" fill="none" stroke="#000" stroke-width="0.9"/>
<circle cx="373.3" cy="649.8" r="1.45" fill="none" stroke="#000" stroke-width="0.9"/>
<circle cx="366.9" cy="645.1" r="1.45" fill="none" stroke="#000" stroke-width="0.9"/>
<circle cx="373.9" cy="668.0" r="1.45" fill="none" stroke="#000" stroke-width="0.9"/>
<circle cx="370.8" cy="660.8" r="1.45" fill="none" stroke="#000" stroke-width="0.9"/>
<circle cx="382.1" cy="659.4" r="1.45" fill="none" stroke="#000" stroke-width="0.9"/>
<circle cx="379.7" cy="650.0" r="1.45" fill="none" stroke="#000" stroke-width="0.9"/>
<circle cx="378.3" cy="649.4" r="1.45" fill="none" stroke="#000" stroke-width="0.9"/>
<circle cx="370.9" cy="660.2" r="1.45" fill="none" stroke="#000" stroke-width="0.9"/>
<circle cx="380.2" cy="666.1" r="1.45" fill="none" stroke="#000" stroke-width="0.9"/>
<circle cx="371.4" cy="665.9" r="1.45" fill="none" stroke="#000" stroke-width="0.9"/>
<circle cx="363.7" cy="658.6" r="1.45" fill="none" stroke="#000" stroke-width="0.9"/>
<circle cx="364.6" cy="665.1" r="1.45" fill="none" stroke="#000" stroke-width="0.9"/>
<circle cx="377.3" cy="670.4" r="1.45" fill="none" stroke="#000" stroke-width="0.9"/>
<circle cx="394.4" cy="666.0" r="1.45" fill="none" stroke="#000" stroke-width="0.9"/>
<circle cx="387.9" cy="646.1" r="1.45" fill="none" stroke="#000" stroke-width="0.9"/>
<circle cx="369.9" cy="649.1" r="1.45" fill="none" stroke="#000" stroke-width="0.9"/>
<circle cx="381.2" cy="645.2" r="1.45" fill="none" stroke="#000" stroke-width="0.9"/>
<circle cx="358.7" cy="659.5" r="1.45" fill="none" stroke="#000" stroke-width="0.9"/>
<circle cx="367.9" cy="665.7" r="1.45" fill="none" stroke="#000" stroke-width="0.9"/>
<circle cx="382.2" cy="665.7" r="1.45" fill="none" stroke="#000" stroke-width="0.9"/>
<circle cx="376.4" cy="652.4" r="1.45" fill="none" stroke="#000" stroke-width="0.9"/>
<circle cx="386.5" cy="663.2" r="1.45" fill="none" stroke="#000" stroke-width="0.9"/>
<circle cx="370.8" cy="655.4" r="1.45" fill="none" stroke="#000" stroke-width="0.9"/>
<circle cx="399.1" cy="661.2" r="1.45" fill="none" stroke="#000" stroke-width="0.9"/>
<circle cx="383.1" cy="662.2" r="1.45" fill="none" stroke="#000" stroke-width="0.9"/>
<circle cx="375.4" cy="668.0" r="1.45" fill="none" stroke="#000" stroke-width="0.9"/>
<circle cx="366.8" cy="675.7" r="1.45" fill="none" stroke="#000" stroke-width="0.9"/>
<circle cx="368.6" cy="658.9" r="1.45" fill="none" stroke="#000" stroke-width="0.9"/>
<circle cx="386.3" cy="673.1" r="1.45" fill="none" stroke="#000" stroke-width="0.9"/>
<circle cx="377.7" cy="669.4" r="1.45" fill="none" stroke="#000" stroke-width="0.9"/>
<circle cx="377.7" cy="652.9" r="1.45" fill="none" stroke="#000" stroke-width="0.9"/>
<circle cx="383.5" cy="648.6" r="1.45" fill="none" stroke="#000" stroke-width="0.9"/>
<circle cx="386.6" cy="665.6" r="1.45" fill="none" stroke="#000" stroke-width="0.9"/>
<circle cx="385.2" cy="653.7" r="1.45" fill="none" stroke="#000" stroke-width="0.9"/>
<circle cx="379.4" cy="670.4" r="1.45" fill="none" stroke="#000" stroke-width="0.9"/>
<circle cx="373.9" cy="670.3" r="1.45" fill="none" stroke="#000" stroke-width="0.9"/>
<circle cx="384.5" cy="665.9" r="1.45" fill="none" stroke="#000" stroke-width="0.9"/>
<circle cx="389.9" cy="644.8" r="1.45" fill="none" stroke="#000" stroke-width="0.9"/>
<circle cx="379.0" cy="679.0" r="1.45" fill="none" stroke="#000" stroke-width="0.9"/>
<circle cx="365.0" cy="671.9" r="1.45" fill="none" stroke="#000" stroke-width="0.9"/>
<circle cx="376.9" cy="648.2" r="1.45" fill="none" stroke="#000" stroke-width="0.9"/>
<circle cx="383.5" cy="659.8" r="1.45" fill="none" stroke="#000" stroke-width="0.9"/>
<circle cx="386.2" cy="665.2" r="1.45" fill="none" stroke="#000" stroke-width="0.9"/>
<circle cx="381.6" cy="666.4" r="1.45" fill="none" stroke="#000" stroke-width="0.9"/>
<circle cx="375.9" cy="671.4" r="1.45" fill="none" stroke="#000" stroke-width="0.9"/>
<circle cx="383.7" cy="662.9" r="1.45" fill="none" stroke="#000" stroke-width="0.9"/>
<circle cx="372.6" cy="652.1" r="1.45" fill="none" stroke="#000" stroke-width="0.9"/>
<circle cx="385.8" cy="639.5" r="1.45" fill="none" stroke="#000" stroke-width="0.9"/>
<circle cx="386.0" cy="662.3" r="1.45" fill="none" stroke="#000" stroke-width="0.9"/>
<circle cx="386.1" cy="658.3" r="1.45" fill="none" stroke="#000" stroke-width="0.9"/>
<circle cx="373.7" cy="659.8" r="1.45" fill="none" stroke="#000" stroke-width="0.9"/>
<circle cx="380.6" cy="651.7" r="1.45" fill="none" stroke="#000" stroke-width="0.9"/>
<circle cx="369.4" cy="671.2" r="1.45" fill="none" stroke="#000" stroke-width="0.9"/>
<circle cx="372.0" cy="654.8" r="1.45" fill="none" stroke="#000" stroke-width="0.9"/>
<circle cx="391.4" cy="649.3" r="1.45" fill="none" stroke="#000" stroke-width="0.9"/>
<circle cx="389.3" cy="663.5" r="1.45" fill="none" stroke="#000" stroke-width="0.9"/>
<circle cx="372.6" cy="659.3" r="1.45" fill="none" stroke="#000" stroke-width="0.9"/>
<circle cx="370.4" cy="668.6" r="1.45" fill="none" stroke="#000" stroke-width="0.9"/>
<circle cx="368.0" cy="660.0" r="1.45" fill="none" stroke="#000" stroke-width="0.9"/>
<circle cx="370.1" cy="677.0" r="1.45" fill="none" stroke="#000" stroke-width="0.9"/>
<circle cx="377.4" cy="670.4" r="1.45" fill="none" stroke="#000" stroke-width="0.9"/>
<circle cx="374.5" cy="660.0" r="1.45" fill="none" stroke="#000" stroke-width="0.9"/>
<circle cx="388.9" cy="667.9" r="1.45" fill="none" stroke="#000" stroke-width="0.9"/>
<circle cx="371.5" cy="647.2" r="1.45" fill="none" stroke="#000" stroke-width="0.9"/>
<circle cx="382.5" cy="646.5" r="1.45" fill="none" stroke="#000" stroke-width="0.9"/>
<circle cx="383.3" cy="668.6" r="1.45" fill="none" stroke="#000" stroke-width="0.9"/>
<circle cx="368.1" cy="665.5" r="1.45" fill="none" stroke="#000" stroke-width="0.9"/>
<circle cx="387.7" cy="648.5" r="1.45" fill="none" stroke="#000" stroke-width="0.9"/>
<circle cx="371.8" cy="662.9" r="1.45" fill="none" stroke="#000" stroke-width="0.9"/>
<circle cx="386.1" cy="645.3" r="1.45" fill="none" stroke="#000" stroke-width="0.9"/>
<circle cx="379.7" cy="655.9" r="1.45" fill="none" stroke="#000" stroke-width="0.9"/>
<circle cx="385.1" cy="669.2" r="1.45" fill="none" stroke="#000" stroke-width="0.9"/>
<circle cx="356.6" cy="648.6" r="1.45" fill="none" stroke="#000" stroke-width="0.9"/>
<circle cx="383.7" cy="653.4" r="1.45" fill="none" stroke="#000" stroke-width="0.9"/>
<circle cx="365.1" cy="674.8" r="1.45" fill="none" stroke="#000" stroke-width="0.9"/>
<circle cx="357.4" cy="661.2" r="1.45" fill="none" stroke="#000" stroke-width="0.9"/>
<circle cx="367.8" cy="656.4" r="1.45" fill="none" stroke="#000" stroke-width="0.9"/>
<circle cx="370.5" cy="664.0" r="1.45" fill="none" stroke="#000" stroke-width="0.9"/>
<circle cx="380.6" cy="678.1" r="1.45" fill="none" stroke="#000" stroke-width="0.9"/>
<circle cx="379.8" cy="660.7" r="1.45" fill="none" stroke="#000" stroke-width="0.9"/>
<circle cx="376.6" cy="665.6" r="1.45" fill="none" stroke="#000" stroke-width="0.9"/>
<circle cx="376.5" cy="667.0" r="1.45" fill="none" stroke="#000" stroke-width="0.9"/>
<circle cx="369.5" cy="647.7" r="1.45" fill="none" stroke="#000" stroke-width="0.9"/>
<circle cx="377.1" cy="674.6" r="1.45" fill="none" stroke="#000" stroke-width="0.9"/>
<circle cx="378.8" cy="671.7" r="1.45" fill="none" stroke="#000" stroke-width="0.9"/>
<circle cx="394.4" cy="666.3" r="1.45" fill="none" stroke="#000" stroke-width="0.9"/>
<circle cx="381.2" cy="660.0" r="1.45" fill="none" stroke="#000" stroke-width="0.9"/>
<circle cx="392.8" cy="660.6" r="1.45" fill="none" stroke="#000" stroke-width="0.9"/>
<circle cx="370.9" cy="661.3" r="1.45" fill="none" stroke="#000" stroke-width="0.9"/>
<circle cx="379.0" cy="653.6" r="1.45" fill="none" stroke="#000" stroke-width="0.9"/>
<circle cx="375.9" cy="655.9" r="1.45" fill="none" stroke="#000" stroke-width="0.9"/>
<circle cx="370.0" cy="660.5" r="1.45" fill="none" stroke="#000" stroke-width="0.9"/>
<circle cx="369.5" cy="644.8" r="1.45" fill="none" stroke="#000" stroke-width="0.9"/>
<circle cx="367.8" cy="669.1" r="1.45" fill="none" stroke="#000" stroke-width="0.9"/>
<circle cx="382.5" cy="676.8" r="1.45" fill="none" stroke="#000" stroke-width="0.9"/>
<circle cx="377.5" cy="648.4" r="1.45" fill="none" stroke="#000" stroke-width="0.9"/>
<circle cx="375.0" cy="647.5" r="1.45" fill="none" stroke="#000" stroke-width="0.9"/>
<circle cx="379.8" cy="667.0" r="1.45" fill="none" stroke="#000" stroke-width="0.9"/>
<circle cx="373.2" cy="669.8" r="1.45" fill="none" stroke="#000" stroke-width="0.9"/>
<circle cx="378.6" cy="679.1" r="1.45" fill="none" stroke="#000" stroke-width="0.9"/>
<circle cx="376.3" cy="655.6" r="1.45" fill="none" stroke="#000" stroke-width="0.9"/>
<circle cx="388.9" cy="652.2" r="1.45" fill="none" stroke="#000" stroke-width="0.9"/>
<circle cx="373.3" cy="657.2" r="1.45" fill="none" stroke="#000" stroke-width="0.9"/>
<circle cx="389.6" cy="673.6" r="1.45" fill="none" stroke="#000" stroke-width="0.9"/>
<circle cx="403.3" cy="670.6" r="1.45" fill="none" stroke="#000" stroke-width="0.9"/>
<circle cx="379.5" cy="645.5" r="1.45" fill="none" stroke="#000" stroke-width="0.9"/>
<circle cx="382.0" cy="658.9" r="1.45" fill="none" stroke="#000" stroke-width="0.9"/>
<circle cx="357.3" cy="655.1" r="1.45" fill="none" stroke="#000" stroke-width="0.9"/>
<circle cx="383.4" cy="642.4" r="1.45" fill="none" stroke="#000" stroke-width="0.9"/>
<circle cx="368.0" cy="673.9" r="1.45" fill="none" stroke="#000" stroke-width="0.9"/>
<circle cx="377.2" cy="650.1" r="1.45" fill="none" stroke="#000" stroke-width="0.9"/>
<circle cx="375.2" cy="657.2" r="1.45" fill="none" stroke="#000" stroke-width="0.9"/>
<circle cx="390.4" cy="672.2" r="1.45" fill="none" stroke="#000" stroke-width="0.9"/>
<circle cx="375.5" cy="665.1" r="1.45" fill="none" stroke="#000" stroke-width="0.9"/>
<circle cx="379.5" cy="667.7" r="1.45" fill="none" stroke="#000" stroke-width="0.9"/>
<circle cx="373.1" cy="654.0" r="1.45" fill="none" stroke="#000" stroke-width="0.9"/>
<circle cx="360.4" cy="677.4" r="1.45" fill="none" stroke="#000" stroke-width="0.9"/>
<circle cx="356.3" cy="661.4" r="1.45" fill="none" stroke="#000" stroke-width="0.9"/>
<circle cx="376.9" cy="664.8" r="1.45" fill="none" stroke="#000" stroke-width="0.9"/>
<circle cx="387.8" cy="671.2" r="1.45" fill="none" stroke="#000" stroke-width="0.9"/>
<circle cx="372.5" cy="659.9" r="1.45" fill="none" stroke="#000" stroke-width="0.9"/>
<circle cx="366.1" cy="653.6" r="1.45" fill="none" stroke="#000" stroke-width="0.9"/>
<circle cx="389.2" cy="657.7" r="1.45" fill="none" stroke="#000" stroke-width="0.9"/>
<circle cx="382.8" cy="659.4" r="1.45" fill="none" stroke="#000" stroke-width="0.9"/>
<circle cx="364.8" cy="670.9" r="1.45" fill="none" stroke="#000" stroke-width="0.9"/>
<circle cx="378.4" cy="661.4" r="1.45" fill="none" stroke="#000" stroke-width="0.9"/>
<circle cx="384.9" cy="638.0" r="1.45" fill="none" stroke="#000" stroke-width="0.9"/>
<circle cx="371.5" cy="649.7" r="1.45" fill="none" stroke="#000" stroke-width="0.9"/>
<circle cx="354.0" cy="658.0" r="1.45" fill="none" stroke="#000" stroke-width="0.9"/>
<circle cx="386.1" cy="668.9" r="1.45" fill="none" stroke="#000" stroke-width="0.9"/>
<circle cx="368.4" cy="652.2" r="1.45" fill="none" stroke="#000" stroke-width="0.9"/>
<circle cx="378.0" cy="645.9" r="1.45" fill="none" stroke="#000" stroke-width="0.9"/>
<circle cx="371.3" cy="667.2" r="1.45" fill="none" stroke="#000" stroke-width="0.9"/>
<circle cx="382.2" cy="652.6" r="1.45" fill="none" stroke="#000" stroke-width="0.9"/>
<circle cx="378.0" cy="643.7" r="1.45" fill="none" stroke="#000" stroke-width="0.9"/>
<circle cx="380.7" cy="642.5" r="1.45" fill="none" stroke="#000" stroke-width="0.9"/>
<circle cx="380.5" cy="649.7" r="1.45" fill="none" stroke="#000" stroke-width="0.9"/>
<circle cx="399.3" cy="663.5" r="1.45" fill="none" stroke="#000" stroke-width="0.9"/>
<circle cx="369.8" cy="649.0" r="1.45" fill="none" stroke="#000" stroke-width="0.9"/>
<circle cx="370.8" cy="679.3" r="1.45" fill="none" stroke="#000" stroke-width="0.9"/>
<circle cx="387.9" cy="656.8" r="1.45" fill="none" stroke="#000" stroke-width="0.9"/>
<circle cx="375.8" cy="675.2" r="1.45" fill="none" stroke="#000" stroke-width="0.9"/>
<circle cx="392.4" cy="669.2" r="1.45" fill="none" stroke="#000" stroke-width="0.9"/>
<circle cx="383.2" cy="663.8" r="1.45" fill="none" stroke="#000" stroke-width="0.9"/>
<circle cx="373.4" cy="660.6" r="1.45" fill="none" stroke="#000" stroke-width="0.9"/>
<circle cx="373.1" cy="654.8" r="1.45" fill="none" stroke="#000" stroke-width="0.9"/>
<circle cx="384.5" cy="669.5" r="1.45" fill="none" stroke="#000" stroke-width="0.9"/>
<circle cx="374.7" cy="675.2" r="1.45" fill="none" stroke="#000" stroke-width="0.9"/>
<circle cx="378.1" cy="665.6" r="1.45" fill="none" stroke="#000" stroke-width="0.9"/>
<circle cx="376.8" cy="639.9" r="1.45" fill="none" stroke="#000" stroke-width="0.9"/>
<circle cx="365.2" cy="670.9" r="1.45" fill="none" stroke="#000" stroke-width="0.9"/>
<circle cx="382.1" cy="663.8" r="1.45" fill="none" stroke="#000" stroke-width="0.9"/>
<circle cx="386.3" cy="655.3" r="1.45" fill="none" stroke="#000" stroke-width="0.9"/>
<circle cx="362.3" cy="665.1" r="1.45" fill="none" stroke="#000" stroke-width="0.9"/>
<circle cx="372.0" cy="664.1" r="1.45" fill="none" stroke="#000" stroke-width="0.9"/>
<circle cx="373.1" cy="678.5" r="1.45" fill="none" stroke="#000" stroke-width="0.9"/>
<circle cx="357.0" cy="664.2" r="1.45" fill="none" stroke="#000" stroke-width="0.9"/>
<circle cx="376.4" cy="643.5" r="1.45" fill="none" stroke="#000" stroke-width="0.9"/>
<circle cx="371.4" cy="657.1" r="1.45" fill="none" stroke="#000" stroke-width="0.9"/>
<circle cx="384.9" cy="655.7" r="1.45" fill="none" stroke="#000" stroke-width="0.9"/>
<circle cx="375.7" cy="639.3" r="1.45" fill="none" stroke="#000" stroke-width="0.9"/>
<circle cx="365.1" cy="663.1" r="1.45" fill="none" stroke="#000" stroke-width="0.9"/>
<circle cx="365.2" cy="677.8" r="1.45" fill="none" stroke="#000" stroke-width="0.9"/>
<circle cx="403.6" cy="669.3" r="1.45" fill="none" stroke="#000" stroke-width="0.9"/>
<circle cx="378.8" cy="669.4" r="1.45" fill="none" stroke="#000" stroke-width="0.9"/>
<circle cx="382.6" cy="676.7" r="1.45" fill="none" stroke="#000" stroke-width="0.9"/>
<circle cx="397.9" cy="647.1" r="1.45" fill="none" stroke="#000" stroke-width="0.9"/>
<circle cx="380.9" cy="671.3" r="1.45" fill="none" stroke="#000" stroke-width="0.9"/>
<circle cx="380.4" cy="657.1" r="1.45" fill="none" stroke="#000" stroke-width="0.9"/>
<circle cx="391.3" cy="668.3" r="1.45" fill="none" stroke="#000" stroke-width="0.9"/>
<circle cx="369.2" cy="667.5" r="1.45" fill="none" stroke="#000" stroke-width="0.9"/>
<circle cx="375.9" cy="671.8" r="1.45" fill="none" stroke="#000" stroke-width="0.9"/>
<circle cx="368.4" cy="660.0" r="1.45" fill="none" stroke="#000" stroke-width="0.9"/>
<circle cx="385.7" cy="661.2" r="1.45" fill="none" stroke="#000" stroke-width="0.9"/>
<circle cx="377.5" cy="647.3" r="1.45" fill="none" stroke="#000" stroke-width="0.9"/>
<circle cx="375.4" cy="680.1" r="1.45" fill="none" stroke="#000" stroke-width="0.9"/>
<circle cx="368.7" cy="670.0" r="1.45" fill="none" stroke="#000" stroke-width="0.9"/>
<circle cx="387.8" cy="666.5" r="1.45" fill="none" stroke="#000" stroke-width="0.9"/>
<circle cx="373.6" cy="680.6" r="1.45" fill="none" stroke="#000" stroke-width="0.9"/>
<circle cx="351.9" cy="669.3" r="1.45" fill="none" stroke="#000" stroke-width="0.9"/>
<circle cx="392.8" cy="665.1" r="1.45" fill="none" stroke="#000" stroke-width="0.9"/>
<circle cx="387.8" cy="664.5" r="1.45" fill="none" stroke="#000" stroke-width="0.9"/>
<circle cx="359.0" cy="683.7" r="1.45" fill="none" stroke="#000" stroke-width="0.9"/>
<circle cx="391.9" cy="663.8" r="1.45" fill="none" stroke="#000" stroke-width="0.9"/>
<circle cx="362.5" cy="653.2" r="1.45" fill="none" stroke="#000" stroke-width="0.9"/>
<circle cx="399.9" cy="654.3" r="1.45" fill="none" stroke="#000" stroke-width="0.9"/>
<circle cx="384.3" cy="653.9" r="1.45" fill="none" stroke="#000" stroke-width="0.9"/>
<circle cx="383.2" cy="662.0" r="1.45" fill="none" stroke="#000" stroke-width="0.9"/>
<circle cx="384.9" cy="667.8" r="1.45" fill="none" stroke="#000" stroke-width="0.9"/>
<circle cx="376.8" cy="683.0" r="1.45" fill="none" stroke="#000" stroke-width="0.9"/>
<circle cx="384.2" cy="653.4" r="1.45" fill="none" stroke="#000" stroke-width="0.9"/>
<circle cx="388.3" cy="661.5" r="1.45" fill="none" stroke="#000" stroke-width="0.9"/>
<circle cx="381.5" cy="679.0" r="1.45" fill="none" stroke="#000" stroke-width="0.9"/>
<circle cx="372.6" cy="667.9" r="1.45" fill="none" stroke="#000" stroke-width="0.9"/>
<circle cx="368.0" cy="670.9" r="1.45" fill="none" stroke="#000" stroke-width="0.9"/>
<circle cx="374.0" cy="664.8" r="1.45" fill="none" stroke="#000" stroke-width="0.9"/>
<circle cx="384.1" cy="676.7" r="1.45" fill="none" stroke="#000" stroke-width="0.9"/>
<circle cx="367.5" cy="656.0" r="1.45" fill="none" stroke="#000" stroke-width="0.9"/>
<circle cx="383.5" cy="654.2" r="1.45" fill="none" stroke="#000" stroke-width="0.9"/>
<circle cx="377.8" cy="658.5" r="1.45" fill="none" stroke="#000" stroke-width="0.9"/>
<circle cx="372.5" cy="659.7" r="1.45" fill="none" stroke="#000" stroke-width="0.9"/>
<circle cx="372.6" cy="666.1" r="1.45" fill="none" stroke="#000" stroke-width="0.9"/>
<circle cx="371.0" cy="659.9" r="1.45" fill="none" stroke="#000" stroke-width="0.9"/>
<circle cx="390.9" cy="673.9" r="1.45" fill="none" stroke="#000" stroke-width="0.9"/>
<circle cx="379.1" cy="665.2" r="1.45" fill="none" stroke="#000" stroke-width="0.9"/>
<circle cx="373.8" cy="659.7" r="1.45" fill="none" stroke="#000" stroke-width="0.9"/>
<circle cx="372.2" cy="679.2" r="1.45" fill="none" stroke="#000" stroke-width="0.9"/>
<circle cx="396.3" cy="678.4" r="1.45" fill="none" stroke="#000" stroke-width="0.9"/>
<circle cx="382.1" cy="658.9" r="1.45" fill="none" stroke="#000" stroke-width="0.9"/>
<circle cx="360.9" cy="658.8" r="1.45" fill="none" stroke="#000" stroke-width="0.9"/>
<circle cx="396.2" cy="652.4" r="1.45" fill="none" stroke="#000" stroke-width="0.9"/>
<circle cx="382.3" cy="687.7" r="1.45" fill="none" stroke="#000" stroke-width="0.9"/>
<circle cx="384.9" cy="658.9" r="1.45" fill="none" stroke="#000" stroke-width="0.9"/>
<circle cx="383.6" cy="656.7" r="1.45" fill="none" stroke="#000" stroke-width="0.9"/>
<circle cx="382.7" cy="648.5" r="1.45" fill="none" stroke="#000" stroke-width="0.9"/>
<circle cx="378.3" cy="662.3" r="1.45" fill="none" stroke="#000" stroke-width="0.9"/>
<circle cx="370.7" cy="668.8" r="1.45" fill="none" stroke="#000" stroke-width="0.9"/>
<circle cx="377.0" cy="658.8" r="1.45" fill="none" stroke="#000" stroke-width="0.9"/>
<circle cx="374.5" cy="660.8" r="1.45" fill="none" stroke="#000" stroke-width="0.9"/>
<circle cx="377.3" cy="654.3" r="1.45" fill="none" stroke="#000" stroke-width="0.9"/>
<circle cx="386.2" cy="670.5" r="1.45" fill="none" stroke="#000" stroke-width="0.9"/>
<circle cx="378.0" cy="682.8" r="1.45" fill="none" stroke="#000" stroke-width="0.9"/>
<circle cx="374.4" cy="655.3" r="1.45" fill="none" stroke="#000" stroke-width="0.9"/>
<circle cx="382.3" cy="646.0" r="1.45" fill="none" stroke="#000" stroke-width="0.9"/>
<circle cx="377.5" cy="670.2" r="1.45" fill="none" stroke="#000" stroke-width="0.9"/>
<circle cx="365.4" cy="659.8" r="1.45" fill="none" stroke="#000" stroke-width="0.9"/>
<circle cx="403.2" cy="652.7" r="1.45" fill="none" stroke="#000" stroke-width="0.9"/>
<circle cx="373.1" cy="680.6" r="1.45" fill="none" stroke="#000" stroke-width="0.9"/>
<circle cx="355.2" cy="660.4" r="1.45" fill="none" stroke="#000" stroke-width="0.9"/>
<circle cx="384.1" cy="641.8" r="1.45" fill="none" stroke="#000" stroke-width="0.9"/>
<circle cx="373.7" cy="660.5" r="1.45" fill="none" stroke="#000" stroke-width="0.9"/>
<circle cx="364.1" cy="669.3" r="1.45" fill="none" stroke="#000" stroke-width="0.9"/>
<circle cx="386.3" cy="660.1" r="1.45" fill="none" stroke="#000" stroke-width="0.9"/>
<circle cx="376.2" cy="668.3" r="1.45" fill="none" stroke="#000" stroke-width="0.9"/>
<circle cx="377.1" cy="660.0" r="1.45" fill="none" stroke="#000" stroke-width="0.9"/>
<circle cx="381.7" cy="657.5" r="1.45" fill="none" stroke="#000" stroke-width="0.9"/>
<circle cx="395.0" cy="648.0" r="1.45" fill="none" stroke="#000" stroke-width="0.9"/>
<circle cx="372.0" cy="659.3" r="1.45" fill="none" stroke="#000" stroke-width="0.9"/>
<circle cx="383.3" cy="646.1" r="1.45" fill="none" stroke="#000" stroke-width="0.9"/>
<circle cx="371.2" cy="647.2" r="1.45" fill="none" stroke="#000" stroke-width="0.9"/>
<circle cx="386.6" cy="639.8" r="1.45" fill="none" stroke="#000" stroke-width="0.9"/>
<circle cx="373.6" cy="671.8" r="1.45" fill="none" stroke="#000" stroke-width="0.9"/>
<circle cx="379.0" cy="669.3" r="1.45" fill="none" stroke="#000" stroke-width="0.9"/>
<circle cx="385.5" cy="659.9" r="1.45" fill="none" stroke="#000" stroke-width="0.9"/>
<circle cx="384.9" cy="669.3" r="1.45" fill="none" stroke="#000" stroke-width="0.9"/>
<circle cx="375.8" cy="665.1" r="1.45" fill="none" stroke="#000" stroke-width="0.9"/>
<circle cx="369.7" cy="657.3" r="1.45" fill="none" stroke="#000" stroke-width="0.9"/>
<circle cx="378.2" cy="668.4" r="1.45" fill="none" stroke="#000" stroke-width="0.9"/>
<circle cx="369.1" cy="673.9" r="1.45" fill="none" stroke="#000" stroke-width="0.9"/>
<circle cx="379.2" cy="642.9" r="1.45" fill="none" stroke="#000" stroke-width="0.9"/>
<circle cx="383.7" cy="672.4" r="1.45" fill="none" stroke="#000" stroke-width="0.9"/>
<circle cx="376.0" cy="656.7" r="1.45" fill="none" stroke="#000" stroke-width="0.9"/>
<circle cx="369.5" cy="660.6" r="1.45" fill="none" stroke="#000" stroke-width="0.9"/>
<circle cx="375.4" cy="660.7" r="1.45" fill="none" stroke="#000" stroke-width="0.9"/>
<circle cx="367.4" cy="679.9" r="1.45" fill="none" stroke="#000" stroke-width="0.9"/>
<circle cx="371.4" cy="653.0" r="1.45" fill="none" stroke="#000" stroke-width="0.9"/>
<circle cx="373.6" cy="641.9" r="1.45" fill="none" stroke="#000" stroke-width="0.9"/>
<circle cx="386.6" cy="665.5" r="1.45" fill="none" stroke="#000" stroke-width="0.9"/>
<circle cx="390.4" cy="665.9" r="1.45" fill="none" stroke="#000" stroke-width="0.9"/>
<circle cx="367.7" cy="664.3" r="1.45" fill="none" stroke="#000" stroke-width="0.9"/>
<circle cx="373.8" cy="664.6" r="1.45" fill="none" stroke="#000" stroke-width="0.9"/>
<circle cx="375.7" cy="667.8" r="1.45" fill="none" stroke="#000" stroke-width="0.9"/>
<circle cx="386.5" cy="672.0" r="1.45" fill="none" stroke="#000" stroke-width="0.9"/>
<circle cx="375.6" cy="658.4" r="1.45" fill="none" stroke="#000" stroke-width="0.9"/>
<circle cx="380.1" cy="662.7" r="1.45" fill="none" stroke="#000" stroke-width="0.9"/>
<circle cx="370.2" cy="639.5" r="1.45" fill="none" stroke="#000" stroke-width="0.9"/>
<circle cx="364.6" cy="658.9" r="1.45" fill="none" stroke="#000" stroke-width="0.9"/>
<circle cx="381.6" cy="672.3" r="1.45" fill="none" stroke="#000" stroke-width="0.9"/>
<circle cx="363.1" cy="661.8" r="1.45" fill="none" stroke="#000" stroke-width="0.9"/>
<circle cx="355.8" cy="655.5" r="1.45" fill="none" stroke="#000" stroke-width="0.9"/>
<circle cx="388.3" cy="667.4" r="1.45" fill="none" stroke="#000" stroke-width="0.9"/>
<circle cx="371.2" cy="672.8" r="1.45" fill="none" stroke="#000" stroke-width="0.9"/>
<circle cx="367.7" cy="664.1" r="1.45" fill="none" stroke="#000" stroke-width="0.9"/>
<circle cx="378.4" cy="666.8" r="1.45" fill="none" stroke="#000" stroke-width="0.9"/>
<circle cx="379.5" cy="665.6" r="1.45" fill="none" stroke="#000" stroke-width="0.9"/>
<circle cx="371.8" cy="665.1" r="1.45" fill="none" stroke="#000" stroke-width="0.9"/>
<circle cx="386.5" cy="683.0" r="1.45" fill="none" stroke="#000" stroke-width="0.9"/>
<circle cx="381.9" cy="647.5" r="1.45" fill="none" stroke="#000" stroke-width="0.9"/>
<circle cx="385.6" cy="655.9" r="1.45" fill="none" stroke="#000" stroke-width="0.9"/>
<circle cx="373.2" cy="656.0" r="1.45" fill="none" stroke="#000" stroke-width="0.9"/>
<circle cx="370.6" cy="689.0" r="1.45" fill="none" stroke="#000" stroke-width="0.9"/>
<circle cx="384.8" cy="659.7" r="1.45" fill="none" stroke="#000" stroke-width="0.9"/>
<circle cx="389.4" cy="667.3" r="1.45" fill="none" stroke="#000" stroke-width="0.9"/>
<circle cx="362.7" cy="664.5" r="1.45" fill="none" stroke="#000" stroke-width="0.9"/>
<circle cx="382.3" cy="674.1" r="1.45" fill="none" stroke="#000" stroke-width="0.9"/>
<circle cx="372.8" cy="660.5" r="1.45" fill="none" stroke="#000" stroke-width="0.9"/>
<circle cx="387.5" cy="658.4" r="1.45" fill="none" stroke="#000" stroke-width="0.9"/>
<circle cx="383.6" cy="660.0" r="1.45" fill="none" stroke="#000" stroke-width="0.9"/>
<circle cx="388.7" cy="648.0" r="1.45" fill="none" stroke="#000" stroke-width="0.9"/>
<circle cx="396.5" cy="669.5" r="1.45" fill="none" stroke="#000" stroke-width="0.9"/>
<circle cx="362.6" cy="656.6" r="1.45" fill="none" stroke="#000" stroke-width="0.9"/>
<circle cx="375.2" cy="628.3" r="1.45" fill="none" stroke="#000" stroke-width="0.9"/>
<circle cx="381.6" cy="665.9" r="1.45" fill="none" stroke="#000" stroke-width="0.9"/>
<circle cx="371.7" cy="659.2" r="1.45" fill="none" stroke="#000" stroke-width="0.9"/>
<circle cx="378.9" cy="659.6" r="1.45" fill="none" stroke="#000" stroke-width="0.9"/>
<circle cx="382.4" cy="668.2" r="1.45" fill="none" stroke="#000" stroke-width="0.9"/>
<circle cx="374.3" cy="665.6" r="1.45" fill="none" stroke="#000" stroke-width="0.9"/>
<circle cx="382.2" cy="672.3" r="1.45" fill="none" stroke="#000" stroke-width="0.9"/>
<circle cx="368.3" cy="666.9" r="1.45" fill="none" stroke="#000" stroke-width="0.9"/>
<circle cx="380.3" cy="672.0" r="1.45" fill="none" stroke="#000" stroke-width="0.9"/>
<circle cx="396.2" cy="651.6" r="1.45" fill="none" stroke="#000" stroke-width="0.9"/>
<circle cx="385.8" cy="645.0" r="1.45" fill="none" stroke="#000" stroke-width="0.9"/>
<circle cx="377.8" cy="656.2" r="1.45" fill="none" stroke="#000" stroke-width="0.9"/>
<circle cx="361.9" cy="649.0" r="1.45" fill="none" stroke="#000" stroke-width="0.9"/>
<circle cx="405.7" cy="665.4" r="1.45" fill="none" stroke="#000" stroke-width="0.9"/>
<circle cx="377.8" cy="685.2" r="1.45" fill="none" stroke="#000" stroke-width="0.9"/>
<circle cx="384.3" cy="653.6" r="1.45" fill="none" stroke="#000" stroke-width="0.9"/>
<circle cx="361.2" cy="659.9" r="1.45" fill="none" stroke="#000" stroke-width="0.9"/>
<circle cx="406.7" cy="630.4" r="1.45" fill="none" stroke="#000" stroke-width="0.9"/>
<circle cx="347.0" cy="687.9" r="1.45" fill="none" stroke="#000" stroke-width="0.9"/>
<circle cx="381.5" cy="668.5" r="1.45" fill="none" stroke="#000" stroke-width="0.9"/>
<circle cx="352.2" cy="656.6" r="1.45" fill="none" stroke="#000" stroke-width="0.9"/>
<circle cx="347.4" cy="650.4" r="1.45" fill="none" stroke="#000" stroke-width="0.9"/>
<circle cx="327.7" cy="670.7" r="1.45" fill="none" stroke="#000" stroke-width="0.9"/>
<circle cx="354.9" cy="657.8" r="1.45" fill="none" stroke="#000" stroke-width="0.9"/>
<circle cx="361.1" cy="659.4" r="1.45" fill="none" stroke="#000" stroke-width="0.9"/>
<circle cx="381.9" cy="664.5" r="1.45" fill="none" stroke="#000" stroke-width="0.9"/>
<circle cx="395.3" cy="661.7" r="1.45" fill="none" stroke="#000" stroke-width="0.9"/>
<circle cx="394.9" cy="660.7" r="1.45" fill="none" stroke="#000" stroke-width="0.9"/>
<circle cx="371.9" cy="663.9" r="1.45" fill="none" stroke="#000" stroke-width="0.9"/>
<circle cx="362.7" cy="620.8" r="1.45" fill="none" stroke="#000" stroke-width="0.9"/>
<circle cx="334.1" cy="641.0" r="1.45" fill="none" stroke="#000" stroke-width="0.9"/>
<circle cx="375.6" cy="654.2" r="1.45" fill="none" stroke="#000" stroke-width="0.9"/>
<circle cx="371.5" cy="663.5" r="1.45" fill="none" stroke="#000" stroke-width="0.9"/>
<circle cx="335.5" cy="658.0" r="1.45" fill="none" stroke="#000" stroke-width="0.9"/>
<circle cx="353.3" cy="662.1" r="1.45" fill="none" stroke="#000" stroke-width="0.9"/>
<circle cx="396.8" cy="664.4" r="1.45" fill="none" stroke="#000" stroke-width="0.9"/>
<circle cx="402.7" cy="649.7" r="1.45" fill="none" stroke="#000" stroke-width="0.9"/>
<circle cx="354.9" cy="675.7" r="1.45" fill="none" stroke="#000" stroke-width="0.9"/>
<circle cx="387.3" cy="654.3" r="1.45" fill="none" stroke="#000" stroke-width="0.9"/>
<circle cx="411.8" cy="668.5" r="1.45" fill="none" stroke="#000" stroke-width="0.9"/>
<circle cx="353.0" cy="675.8" r="1.45" fill="none" stroke="#000" stroke-width="0.9"/>
<circle cx="377.1" cy="664.0" r="1.45" fill="none" stroke="#000" stroke-width="0.9"/>
<circle cx="401.7" cy="660.8" r="1.45" fill="none" stroke="#000" stroke-width="0.9"/>
<circle cx="355.7" cy="648.2" r="1.45" fill="none" stroke="#000" stroke-width="0.9"/>
<circle cx="369.7" cy="670.4" r="1.45" fill="none" stroke="#000" stroke-width="0.9"/>
<circle cx="383.1" cy="658.5" r="1.45" fill="none" stroke="#000" stroke-width="0.9"/>
<circle cx="358.7" cy="688.5" r="1.45" fill="none" stroke="#000" stroke-width="0.9"/>
<circle cx="388.0" cy="642.6" r="1.45" fill="none" stroke="#000" stroke-width="0.9"/>
<circle cx="360.3" cy="660.7" r="1.45" fill="none" stroke="#000" stroke-width="0.9"/>
<circle cx="367.7" cy="663.1" r="1.45" fill="none" stroke="#000" stroke-width="0.9"/>
<circle cx="386.0" cy="669.8" r="1.45" fill="none" stroke="#000" stroke-width="0.9"/>
<circle cx="367.5" cy="663.6" r="1.45" fill="none" stroke="#000" stroke-width="0.9"/>
<circle cx="368.6" cy="643.4" r="1.45" fill="none" stroke="#000" stroke-width="0.9"/>
<circle cx="364.1" cy="664.6" r="1.45" fill="none" stroke="#000" stroke-width="0.9"/>
<circle cx="383.0" cy="661.1" r="1.45" fill="none" stroke="#000" stroke-width="0.9"/>
<circle cx="383.7" cy="670.0" r="1.45" fill="none" stroke="#000" stroke-width="0.9"/>
<circle cx="400.6" cy="691.1" r="1.45" fill="none" stroke="#000" stroke-width="0.9"/>
<circle cx="367.8" cy="654.8" r="1.45" fill="none" stroke="#000" stroke-width="0.9"/>
<circle cx="361.0" cy="661.1" r="1.45" fill="none" stroke="#000" stroke-width="0.9"/>
<circle cx="388.1" cy="641.7" r="1.45" fill="none" stroke="#000" stroke-width="0.9"/>
<circle cx="377.1" cy="680.6" r="1.45" fill="none" stroke="#000" stroke-width="0.9"/>
<circle cx="376.1" cy="667.1" r="1.45" fill="none" stroke="#000" stroke-width="0.9"/>
<circle cx="409.9" cy="670.9" r="1.45" fill="none" stroke="#000" stroke-width="0.9"/>
<circle cx="357.2" cy="657.8" r="1.45" fill="none" stroke="#000" stroke-width="0.9"/>
<circle cx="372.4" cy="650.4" r="1.45" fill="none" stroke="#000" stroke-width="0.9"/>
<circle cx="377.2" cy="677.2" r="1.45" fill="none" stroke="#000" stroke-width="0.9"/>
<circle cx="388.9" cy="645.8" r="1.45" fill="none" stroke="#000" stroke-width="0.9"/>
<circle cx="365.1" cy="666.6" r="1.45" fill="none" stroke="#000" stroke-width="0.9"/>
<circle cx="386.5" cy="660.4" r="1.45" fill="none" stroke="#000" stroke-width="0.9"/>
<circle cx="351.1" cy="658.0" r="1.45" fill="none" stroke="#000" stroke-width="0.9"/>
<circle cx="388.0" cy="659.4" r="1.45" fill="none" stroke="#000" stroke-width="0.9"/>
<circle cx="409.4" cy="668.6" r="1.45" fill="none" stroke="#000" stroke-width="0.9"/>
<circle cx="366.1" cy="647.8" r="1.45" fill="none" stroke="#000" stroke-width="0.9"/>
<circle cx="378.5" cy="657.1" r="1.45" fill="none" stroke="#000" stroke-width="0.9"/>
<circle cx="385.4" cy="678.5" r="1.45" fill="none" stroke="#000" stroke-width="0.9"/>
<circle cx="402.7" cy="648.2" r="1.45" fill="none" stroke="#000" stroke-width="0.9"/>
<circle cx="375.5" cy="644.5" r="1.45" fill="none" stroke="#000" stroke-width="0.9"/>
<circle cx="397.5" cy="658.0" r="1.45" fill="none" stroke="#000" stroke-width="0.9"/>
<circle cx="364.9" cy="689.2" r="1.45" fill="none" stroke="#000" stroke-width="0.9"/>
<circle cx="402.3" cy="655.3" r="1.45" fill="none" stroke="#000" stroke-width="0.9"/>
<circle cx="406.5" cy="655.1" r="1.45" fill="none" stroke="#000" stroke-width="0.9"/>
<circle cx="370.1" cy="681.9" r="1.45" fill="none" stroke="#000" stroke-width="0.9"/>
<circle cx="373.1" cy="682.8" r="1.45" fill="none" stroke="#000" stroke-width="0.9"/>
<circle cx="371.1" cy="662.1" r="1.45" fill="none" stroke="#000" stroke-width="0.9"/>
<circle cx="384.3" cy="675.4" r="1.45" fill="none" stroke="#000" stroke-width="0.9"/>
<circle cx="377.6" cy="665.9" r="1.45" fill="none" stroke="#000" stroke-width="0.9"/>
<circle cx="365.6" cy="674.6" r="1.45" fill="none" stroke="#000" stroke-width="0.9"/>
<circle cx="399.5" cy="687.7" r="1.45" fill="none" stroke="#000" stroke-width="0.9"/>
<circle cx="366.5" cy="653.9" r="1.45" fill="none" stroke="#000" stroke-width="0.9"/>
<circle cx="381.7" cy="661.5" r="1.45" fill="none" stroke="#000" stroke-width="0.9"/>
<circle cx="395.5" cy="668.4" r="1.45" fill="none" stroke="#000" stroke-width="0.9"/>
<circle cx="419.3" cy="683.7" r="1.45" fill="none" stroke="#000" stroke-width="0.9"/>
<circle cx="358.2" cy="648.1" r="1.45" fill="none" stroke="#000" stroke-width="0.9"/>
<circle cx="355.8" cy="657.9" r="1.45" fill="none" stroke="#000" stroke-width="0.9"/>
<circle cx="360.6" cy="688.7" r="1.45" fill="none" stroke="#000" stroke-width="0.9"/>
<circle cx="383.1" cy="660.7" r="1.45" fill="none" stroke="#000" stroke-width="0.9"/>
<circle cx="385.0" cy="676.8" r="1.45" fill="none" stroke="#000" stroke-width="0.9"/>
<circle cx="374.1" cy="684.6" r="1.45" fill="none" stroke="#000" stroke-width="0.9"/>
<circle cx="390.0" cy="659.3" r="1.45" fill="none" stroke="#000" stroke-width="0.9"/>
<circle cx="333.3" cy="670.0" r="1.45" fill="none" stroke="#000" stroke-width="0.9"/>
<circle cx="369.5" cy="653.8" r="1.45" fill="none" stroke="#000" stroke-width="0.9"/>
<circle cx="397.0" cy="637.9" r="1.45" fill="none" stroke="#000" stroke-width="0.9"/>
<circle cx="362.2" cy="655.7" r="1.45" fill="none" stroke="#000" stroke-width="0.9"/>
<circle cx="374.1" cy="663.9" r="1.45" fill="none" stroke="#000" stroke-width="0.9"/>
<circle cx="390.9" cy="653.4" r="1.45" fill="none" stroke="#000" stroke-width="0.9"/>
<circle cx="354.4" cy="685.6" r="1.45" fill="none" stroke="#000" stroke-width="0.9"/>
<circle cx="418.8" cy="663.8" r="1.45" fill="none" stroke="#000" stroke-width="0.9"/>
<circle cx="374.7" cy="662.3" r="1.45" fill="none" stroke="#000" stroke-width="0.9"/>
<circle cx="399.3" cy="650.8" r="1.45" fill="none" stroke="#000" stroke-width="0.9"/>
<circle cx="352.1" cy="649.9" r="1.45" fill="none" stroke="#000" stroke-width="0.9"/>
<circle cx="387.6" cy="666.0" r="1.45" fill="none" stroke="#000" stroke-width="0.9"/>
<circle cx="370.8" cy="652.4" r="1.45" fill="none" stroke="#000" stroke-width="0.9"/>
<circle cx="382.6" cy="678.0" r="1.45" fill="none" stroke="#000" stroke-width="0.9"/>
<circle cx="368.6" cy="637.8" r="1.45" fill="none" stroke="#000" stroke-width="0.9"/>
<circle cx="379.7" cy="659.3" r="1.45" fill="none" stroke="#000" stroke-width="0.9"/>
<circle cx="344.6" cy="643.1" r="1.45" fill="none" stroke="#000" stroke-width="0.9"/>
<circle cx="337.5" cy="672.8" r="1.45" fill="none" stroke="#000" stroke-width="0.9"/>
<circle cx="334.2" cy="633.1" r="1.45" fill="none" stroke="#000" stroke-width="0.9"/>
<circle cx="357.6" cy="648.1" r="1.45" fill="none" stroke="#000" stroke-width="0.9"/>
<circle cx="405.1" cy="660.1" r="1.45" fill="none" stroke="#000" stroke-width="0.9"/>
<circle cx="376.5" cy="668.5" r="1.45" fill="none" stroke="#000" stroke-width="0.9"/>
<circle cx="344.5" cy="651.4" r="1.45" fill="none" stroke="#000" stroke-width="0.9"/>
<circle cx="389.5" cy="675.4" r="1.45" fill="none" stroke="#000" stroke-width="0.9"/>
<circle cx="368.5" cy="644.2" r="1.45" fill="none" stroke="#000" stroke-width="0.9"/>
<circle cx="361.6" cy="651.5" r="1.45" fill="none" stroke="#000" stroke-width="0.9"/>
<circle cx="390.9" cy="667.3" r="1.45" fill="none" stroke="#000" stroke-width="0.9"/>
<circle cx="333.4" cy="639.3" r="1.45" fill="none" stroke="#000" stroke-width="0.9"/>
<circle cx="410.3" cy="668.8" r="1.45" fill="none" stroke="#000" stroke-width="0.9"/>
<circle cx="379.9" cy="654.7" r="1.45" fill="none" stroke="#000" stroke-width="0.9"/>
<circle cx="348.7" cy="669.5" r="1.45" fill="none" stroke="#000" stroke-width="0.9"/>
<circle cx="389.5" cy="670.7" r="1.45" fill="none" stroke="#000" stroke-width="0.9"/>
<circle cx="362.5" cy="665.0" r="1.45" fill="none" stroke="#000" stroke-width="0.9"/>
<circle cx="385.3" cy="672.6" r="1.45" fill="none" stroke="#000" stroke-width="0.9"/>
<circle cx="391.4" cy="726.4" r="3.1" fill="#ff8c00" stroke="#e8000b" stroke-width="1"/>
</g>
<rect x="273.2" y="591.7" width="195.3" height="174.5" stroke="#000" stroke-width="1" fill="none"/>
<line x1="303.15" y1="766.2" x2="438.9" y2="766.2" stroke="#000" stroke-width="1"/>
<line x1="303.15" y1="766.2" x2="303.15" y2="772.2" stroke="#000" stroke-width="1"/>
<line x1="348.4" y1="766.2" x2="348.4" y2="772.2" stroke="#000" stroke-width="1"/>
<line x1="393.65" y1="766.2" x2="393.65" y2="772.2" stroke="#000" stroke-width="1"/>
<line x1="438.9" y1="766.2" x2="438.9" y2="772.2" stroke="#000" stroke-width="1"/>
<text x="303.15" y="786.5" font-size="9.3" text-anchor="middle" font-weight="normal" fill="#000">0.8</text>
<text x="348.4" y="786.5" font-size="9.3" text-anchor="middle" font-weight="normal" fill="#000">1.0</text>
<text x="393.65" y="786.5" font-size="9.3" text-anchor="middle" font-weight="normal" fill="#000">1.2</text>
<text x="438.9" y="786.5" font-size="9.3" text-anchor="middle" font-weight="normal" fill="#000">1.4</text>
<text x="370.85" y="797.2" font-size="9.3" text-anchor="middle" font-weight="normal" fill="#000">u-g</text>
<line x1="273.2" y1="759.93" x2="273.2" y2="598.3" stroke="#000" stroke-width="1"/>
<line x1="267.2" y1="759.93" x2="273.2" y2="759.93" stroke="#000" stroke-width="1"/>
<line x1="267.2" y1="736.84" x2="273.2" y2="736.84" stroke="#000" stroke-width="1"/>
<line x1="267.2" y1="713.75" x2="273.2" y2="713.75" stroke="#000" stroke-width="1"/>
<line x1="267.2" y1="690.66" x2="273.2" y2="690.66" stroke="#000" stroke-width="1"/>
<line x1="267.2" y1="667.57" x2="273.2" y2="667.57" stroke="#000" stroke-width="1"/>
<line x1="267.2" y1="644.48" x2="273.2" y2="644.48" stroke="#000" stroke-width="1"/>
<line x1="267.2" y1="621.39" x2="273.2" y2="621.39" stroke="#000" stroke-width="1"/>
<line x1="267.2" y1="598.3" x2="273.2" y2="598.3" stroke="#000" stroke-width="1"/>
<text x="260.2" y="759.93" font-size="9.3" text-anchor="middle" font-weight="normal" fill="#000" transform="rotate(-90 260.2 759.93)">-0.2</text>
<text x="260.2" y="713.75" font-size="9.3" text-anchor="middle" font-weight="normal" fill="#000" transform="rotate(-90 260.2 713.75)">0.0</text>
<text x="260.2" y="690.66" font-size="9.3" text-anchor="middle" font-weight="normal" fill="#000" transform="rotate(-90 260.2 690.66)">0.1</text>
<text x="260.2" y="667.57" font-size="9.3" text-anchor="middle" font-weight="normal" fill="#000" transform="rotate(-90 260.2 667.57)">0.2</text>
<text x="260.2" y="644.48" font-size="9.3" text-anchor="middle" font-weight="normal" fill="#000" transform="rotate(-90 260.2 644.48)">0.3</text>
<text x="260.2" y="621.39" font-size="9.3" text-anchor="middle" font-weight="normal" fill="#000" transform="rotate(-90 260.2 621.39)">0.4</text>
<text x="260.2" y="598.3" font-size="9.3" text-anchor="middle" font-weight="normal" fill="#000" transform="rotate(-90 260.2 598.3)">0.5</text>
<text x="249.8" y="678.95" font-size="9.3" text-anchor="middle" font-weight="normal" fill="#000" transform="rotate(-90 249.8 678.95)">g-r</text>
<text x="370.8" y="584" font-size="8.75" text-anchor="middle" font-weight="bold" fill="#000">Color-color diagram</text>
<clipPath id="cl"><rect x="513.3" y="591.7" width="195.20000000000005" height="174.5"/></clipPath><g clip-path="url(#cl)">
<path d="M613.1 721.8h0M622.6 732.2h0M612.1 736.5h0M612.8 725.3h0M613.8 732.0h0M613.3 728.8h0M608.3 715.0h0M606.8 738.0h0M609.6 733.4h0M610.0 723.1h0M629.4 736.1h0M603.5 731.3h0M619.4 719.8h0M608.1 727.3h0M604.6 715.2h0M630.4 727.5h0M608.9 718.5h0M619.2 730.5h0M616.6 726.6h0M624.7 725.7h0M619.2 722.0h0M611.8 732.2h0M620.4 724.9h0M633.9 748.1h0M612.7 733.2h0M627.1 728.0h0M616.5 719.1h0M608.9 721.3h0M616.4 708.4h0M620.9 737.7h0M628.1 725.0h0M610.4 731.3h0M626.7 727.2h0M617.8 732.0h0M625.7 722.2h0M600.9 717.6h0M633.9 742.5h0M604.9 729.0h0M620.9 737.7h0M633.0 729.2h0M610.0 727.3h0M605.0 736.1h0M610.0 729.0h0M629.0 722.4h0M618.6 717.3h0M628.9 711.5h0M589.5 728.8h0M617.5 729.2h0M619.5 740.8h0M623.8 742.0h0M622.5 725.8h0M603.2 746.4h0M599.3 720.9h0M606.4 727.7h0M623.2 730.8h0M604.0 731.1h0M606.3 719.7h0M623.9 732.0h0M623.0 729.1h0M612.2 722.5h0M614.8 737.6h0M626.4 727.2h0M624.3 723.6h0M622.1 746.8h0M616.5 711.3h0M624.6 733.3h0M613.0 738.8h0M617.8 740.7h0M616.7 716.5h0M621.7 736.6h0M614.4 734.2h0M597.6 719.2h0M617.8 724.6h0M611.6 728.5h0M606.5 729.4h0M615.5 741.5h0M619.1 733.6h0M613.0 738.0h0M624.1 744.4h0M616.1 707.5h0M619.5 720.9h0M612.4 728.5h0M613.1 728.4h0M627.3 724.5h0M614.7 722.3h0M631.4 726.9h0M626.9 720.3h0M602.7 710.0h0M610.8 730.2h0M621.0 717.9h0M614.7 706.8h0M605.3 736.3h0M608.4 713.3h0M614.8 711.7h0M603.6 723.3h0M618.6 717.8h0M603.1 722.5h0M616.5 724.4h0M618.3 751.5h0M623.1 723.6h0M614.3 725.3h0M617.8 732.7h0M630.0 739.4h0M619.5 708.8h0M621.4 712.2h0M606.6 729.1h0M613.0 734.6h0M608.8 710.7h0M619.3 723.0h0M615.0 727.1h0M611.2 726.5h0M614.5 726.2h0M624.2 732.2h0M615.8 725.5h0M613.5 724.3h0M620.3 726.6h0M623.8 737.4h0M619.5 734.4h0M622.4 718.4h0M620.2 724.7h0M635.9 732.3h0M613.8 743.4h0M648.3 717.4h0M623.7 709.6h0M618.6 738.3h0M605.5 726.6h0M622.6 717.6h0M632.0 733.6h0M624.1 720.9h0M633.1 745.9h0M589.4 719.2h0M627.7 723.7h0M627.0 739.7h0M637.1 716.6h0M634.1 721.5h0M643.7 710.3h0M631.0 730.6h0M591.6 725.3h0M596.3 706.9h0M600.0 725.1h0M611.2 721.1h0M629.3 722.0h0M611.4 727.0h0M620.7 715.0h0M623.7 706.0h0M627.8 715.8h0M621.9 724.3h0M631.3 727.1h0M633.3 724.9h0M621.7 737.3h0M635.0 747.7h0M617.7 710.1h0M631.9 742.0h0M614.7 744.0h0M614.7 709.6h0M611.4 720.6h0M618.7 737.5h0M576.8 728.3h0M645.3 744.3h0M628.7 701.9h0M626.2 698.4h0M639.5 709.0h0M636.6 731.0h0M605.9 695.6h0M633.9 724.1h0M610.8 722.1h0M618.1 722.7h0M638.0 712.9h0M607.5 723.1h0M630.3 735.0h0M605.0 739.9h0M617.4 741.6h0M623.8 725.4h0M637.5 724.5h0M604.9 743.8h0M629.3 717.2h0M628.5 701.0h0M620.2 729.7h0M615.2 707.9h0M623.5 704.6h0M630.6 737.0h0M622.4 708.6h0M615.7 717.2h0M612.6 704.5h0M627.2 709.3h0M633.2 714.6h0M635.4 743.2h0M625.8 739.6h0M620.7 756.0h0M616.3 733.8h0M613.7 688.9h0M646.6 671.9h0M635.5 694.6h0M649.0 673.6h0M597.0 673.8h0M621.0 685.2h0M624.3 678.2h0M595.9 691.4h0M595.4 692.7h0M615.4 695.1h0M597.8 688.2h0M602.8 693.0h0M618.5 678.1h0M627.8 678.6h0M628.6 675.8h0M615.1 688.0h0M658.3 686.8h0M650.2 690.3h0M613.6 691.6h0M623.7 679.3h0M622.9 660.5h0M605.5 646.1h0M651.5 639.7h0M624.8 629.0h0M626.9 639.7h0M620.0 645.0h0M619.2 642.3h0M620.6 656.5h0M654.9 637.5h0M634.6 622.2h0M624.7 652.6h0M629.3 647.8h0M626.5 640.9h0M622.8 635.8h0M638.2 645.5h0M630.1 643.6h0M603.7 649.9h0M614.4 653.0h0M603.8 650.9h0M632.3 646.4h0M651.0 627.1h0M633.1 636.9h0M605.3 654.5h0M617.4 659.8h0M617.9 651.3h0M649.5 640.8h0M614.7 659.7h0M606.9 658.0h0M616.4 642.9h0M615.0 650.1h0M598.6 663.6h0M630.9 639.3h0M629.8 641.2h0M613.4 640.1h0M613.7 658.6h0M610.6 647.6h0M617.0 665.4h0M634.5 626.9h0M640.6 636.5h0M624.7 638.8h0M582.5 604.2h0M624.2 707.1h0M544.9 619.1h0M678.8 660.4h0M546.4 610.4h0M687.8 705.8h0M614.8 697.2h0M689.2 658.1h0M646.3 673.0h0M691.2 734.8h0M532.1 742.1h0M668.1 651.4h0M687.6 750.6h0M653.5 659.0h0M588.9 662.9h0M644.6 607.4h0M655.4 607.8h0M582.9 694.0h0M559.8 670.2h0M668.6 651.5h0M608.9 650.3h0M533.3 675.4h0M655.3 635.0h0M562.0 675.2h0M655.1 661.9h0M553.3 708.1h0M660.3 697.5h0M574.8 742.2h0M675.8 598.5h0M555.4 634.3h0M669.3 624.3h0M696.3 614.3h0M672.8 638.6h0M650.3 641.6h0M672.9 634.0h0M660.9 635.6h0M681.7 635.6h0M667.0 623.6h0M660.4 633.3h0M668.8 616.3h0M661.5 618.6h0M668.0 619.6h0M668.0 631.8h0M651.4 630.8h0M656.5 618.3h0M696.5 619.2h0M671.8 628.7h0M685.0 616.0h0M669.2 634.9h0M676.5 626.1h0M668.4 616.5h0M669.6 622.3h0M664.5 629.9h0M634.9 627.4h0M672.6 617.5h0M669.2 614.2h0M657.7 623.8h0M657.5 616.6h0M660.9 615.3h0M677.3 625.2h0M656.8 625.6h0M658.6 625.4h0M668.2 617.8h0M651.9 611.6h0M665.6 628.1h0M689.3 617.4h0M668.7 626.6h0M680.7 623.3h0M652.2 617.1h0M662.7 613.4h0" stroke="#bebebe" stroke-width="3" stroke-linecap="round"/>
<path d="M648.1 629.0h0M638.4 635.2h0M636.6 631.7h0M622.4 643.1h0M631.3 643.2h0M604.0 651.9h0M614.6 652.3h0M615.2 652.8h0M653.8 632.4h0M613.9 644.5h0M624.5 642.8h0M629.6 646.0h0M634.8 646.1h0M639.4 644.2h0M605.5 656.4h0M619.8 649.4h0M622.0 650.0h0M618.5 654.1h0M606.6 654.6h0M611.8 657.2h0M609.9 653.7h0M620.9 652.0h0M617.5 645.1h0M617.3 646.5h0M637.8 634.2h0M608.0 655.1h0M626.4 643.1h0M626.8 653.8h0M638.6 641.6h0M616.2 648.2h0M618.8 651.8h0M641.8 642.5h0M605.8 652.6h0M634.1 641.5h0M628.8 649.3h0M624.1 649.1h0M642.6 637.1h0M613.4 650.3h0M643.5 635.1h0M624.4 648.1h0M627.0 641.4h0M612.9 654.2h0M621.9 642.9h0M612.5 655.0h0M618.3 652.5h0M632.5 642.8h0M639.8 634.6h0M607.7 656.0h0M655.5 633.8h0M632.4 641.4h0M632.8 642.5h0M645.8 639.4h0M647.8 641.0h0M620.0 651.5h0M624.9 647.5h0M630.4 638.9h0M617.9 648.0h0M619.0 649.6h0M612.9 653.4h0M623.5 650.3h0M631.1 643.3h0M616.0 654.9h0M606.7 654.6h0M621.2 652.4h0M611.5 648.0h0M617.5 643.3h0M617.4 647.6h0M618.8 642.8h0M621.1 648.0h0M621.4 651.4h0M618.8 647.7h0M633.9 645.4h0M633.6 643.9h0M634.4 635.8h0M624.7 647.0h0M598.5 655.6h0M637.2 647.8h0M611.0 654.7h0M619.9 651.2h0M629.6 643.4h0M616.0 656.6h0M615.7 645.6h0M622.9 643.3h0M601.0 657.2h0M642.7 632.8h0" stroke="#636363" stroke-width="3" stroke-linecap="round"/>
<circle cx="677.9" cy="609.7" r="1.45" fill="none" stroke="#000" stroke-width="0.9"/>
<circle cx="670.4" cy="619.5" r="1.45" fill="none" stroke="#000" stroke-width="0.9"/>
<circle cx="655.8" cy="622.5" r="1.45" fill="none" stroke="#000" stroke-width="0.9"/>
<circle cx="661.9" cy="623.7" r="1.45" fill="none" stroke="#000" stroke-width="0.9"/>
<circle cx="676.1" cy="618.5" r="1.45" fill="none" stroke="#000" stroke-width="0.9"/>
<circle cx="675.8" cy="618.4" r="1.45" fill="none" stroke="#000" stroke-width="0.9"/>
<circle cx="667.3" cy="627.8" r="1.45" fill="none" stroke="#000" stroke-width="0.9"/>
<circle cx="653.0" cy="623.5" r="1.45" fill="none" stroke="#000" stroke-width="0.9"/>
<circle cx="674.7" cy="621.3" r="1.45" fill="none" stroke="#000" stroke-width="0.9"/>
<circle cx="651.8" cy="626.4" r="1.45" fill="none" stroke="#000" stroke-width="0.9"/>
<circle cx="663.7" cy="624.0" r="1.45" fill="none" stroke="#000" stroke-width="0.9"/>
<circle cx="667.5" cy="627.6" r="1.45" fill="none" stroke="#000" stroke-width="0.9"/>
<circle cx="650.4" cy="621.7" r="1.45" fill="none" stroke="#000" stroke-width="0.9"/>
<circle cx="655.6" cy="623.6" r="1.45" fill="none" stroke="#000" stroke-width="0.9"/>
<circle cx="672.3" cy="619.6" r="1.45" fill="none" stroke="#000" stroke-width="0.9"/>
<circle cx="667.7" cy="619.4" r="1.45" fill="none" stroke="#000" stroke-width="0.9"/>
<circle cx="677.9" cy="615.6" r="1.45" fill="none" stroke="#000" stroke-width="0.9"/>
<circle cx="670.8" cy="618.7" r="1.45" fill="none" stroke="#000" stroke-width="0.9"/>
<circle cx="675.7" cy="613.4" r="1.45" fill="none" stroke="#000" stroke-width="0.9"/>
<circle cx="666.2" cy="624.2" r="1.45" fill="none" stroke="#000" stroke-width="0.9"/>
<circle cx="664.4" cy="617.1" r="1.45" fill="none" stroke="#000" stroke-width="0.9"/>
<circle cx="654.2" cy="626.6" r="1.45" fill="none" stroke="#000" stroke-width="0.9"/>
<circle cx="660.9" cy="631.0" r="1.45" fill="none" stroke="#000" stroke-width="0.9"/>
<circle cx="655.4" cy="628.3" r="1.45" fill="none" stroke="#000" stroke-width="0.9"/>
<circle cx="664.1" cy="624.3" r="1.45" fill="none" stroke="#000" stroke-width="0.9"/>
<circle cx="670.8" cy="627.2" r="1.45" fill="none" stroke="#000" stroke-width="0.9"/>
<circle cx="669.3" cy="617.8" r="1.45" fill="none" stroke="#000" stroke-width="0.9"/>
<circle cx="671.9" cy="622.2" r="1.45" fill="none" stroke="#000" stroke-width="0.9"/>
<circle cx="651.7" cy="626.7" r="1.45" fill="none" stroke="#000" stroke-width="0.9"/>
<circle cx="651.2" cy="631.4" r="1.45" fill="none" stroke="#000" stroke-width="0.9"/>
<circle cx="667.8" cy="620.6" r="1.45" fill="none" stroke="#000" stroke-width="0.9"/>
<circle cx="661.0" cy="622.2" r="1.45" fill="none" stroke="#000" stroke-width="0.9"/>
<circle cx="671.6" cy="616.6" r="1.45" fill="none" stroke="#000" stroke-width="0.9"/>
<circle cx="646.5" cy="627.2" r="1.45" fill="none" stroke="#000" stroke-width="0.9"/>
<circle cx="658.9" cy="618.0" r="1.45" fill="none" stroke="#000" stroke-width="0.9"/>
<circle cx="668.1" cy="619.6" r="1.45" fill="none" stroke="#000" stroke-width="0.9"/>
<circle cx="680.4" cy="619.1" r="1.45" fill="none" stroke="#000" stroke-width="0.9"/>
<circle cx="674.3" cy="625.6" r="1.45" fill="none" stroke="#000" stroke-width="0.9"/>
<circle cx="654.6" cy="631.5" r="1.45" fill="none" stroke="#000" stroke-width="0.9"/>
<circle cx="670.8" cy="625.4" r="1.45" fill="none" stroke="#000" stroke-width="0.9"/>
<circle cx="661.3" cy="621.4" r="1.45" fill="none" stroke="#000" stroke-width="0.9"/>
<circle cx="661.0" cy="626.5" r="1.45" fill="none" stroke="#000" stroke-width="0.9"/>
<circle cx="664.0" cy="628.4" r="1.45" fill="none" stroke="#000" stroke-width="0.9"/>
<circle cx="666.1" cy="618.1" r="1.45" fill="none" stroke="#000" stroke-width="0.9"/>
<circle cx="696.0" cy="609.0" r="1.45" fill="none" stroke="#000" stroke-width="0.9"/>
<circle cx="668.3" cy="623.9" r="1.45" fill="none" stroke="#000" stroke-width="0.9"/>
<circle cx="667.4" cy="618.9" r="1.45" fill="none" stroke="#000" stroke-width="0.9"/>
<circle cx="669.8" cy="624.9" r="1.45" fill="none" stroke="#000" stroke-width="0.9"/>
<circle cx="667.3" cy="623.6" r="1.45" fill="none" stroke="#000" stroke-width="0.9"/>
<circle cx="662.7" cy="625.6" r="1.45" fill="none" stroke="#000" stroke-width="0.9"/>
<circle cx="683.5" cy="618.8" r="1.45" fill="none" stroke="#000" stroke-width="0.9"/>
<circle cx="676.8" cy="627.7" r="1.45" fill="none" stroke="#000" stroke-width="0.9"/>
<circle cx="667.4" cy="621.6" r="1.45" fill="none" stroke="#000" stroke-width="0.9"/>
<circle cx="674.0" cy="618.9" r="1.45" fill="none" stroke="#000" stroke-width="0.9"/>
<circle cx="665.6" cy="620.9" r="1.45" fill="none" stroke="#000" stroke-width="0.9"/>
<circle cx="663.5" cy="618.0" r="1.45" fill="none" stroke="#000" stroke-width="0.9"/>
<circle cx="677.7" cy="616.5" r="1.45" fill="none" stroke="#000" stroke-width="0.9"/>
<circle cx="650.5" cy="615.0" r="1.45" fill="none" stroke="#000" stroke-width="0.9"/>
<circle cx="663.9" cy="620.3" r="1.45" fill="none" stroke="#000" stroke-width="0.9"/>
<circle cx="674.8" cy="617.0" r="1.45" fill="none" stroke="#000" stroke-width="0.9"/>
<circle cx="660.6" cy="623.8" r="1.45" fill="none" stroke="#000" stroke-width="0.9"/>
<circle cx="649.1" cy="627.8" r="1.45" fill="none" stroke="#000" stroke-width="0.9"/>
<circle cx="671.2" cy="617.4" r="1.45" fill="none" stroke="#000" stroke-width="0.9"/>
<circle cx="677.8" cy="617.2" r="1.45" fill="none" stroke="#000" stroke-width="0.9"/>
<circle cx="675.4" cy="616.3" r="1.45" fill="none" stroke="#000" stroke-width="0.9"/>
<circle cx="664.4" cy="617.6" r="1.45" fill="none" stroke="#000" stroke-width="0.9"/>
<circle cx="667.5" cy="623.0" r="1.45" fill="none" stroke="#000" stroke-width="0.9"/>
<circle cx="669.8" cy="628.0" r="1.45" fill="none" stroke="#000" stroke-width="0.9"/>
<circle cx="684.9" cy="611.7" r="1.45" fill="none" stroke="#000" stroke-width="0.9"/>
<circle cx="677.5" cy="618.4" r="1.45" fill="none" stroke="#000" stroke-width="0.9"/>
<circle cx="659.0" cy="619.4" r="1.45" fill="none" stroke="#000" stroke-width="0.9"/>
<circle cx="666.5" cy="622.5" r="1.45" fill="none" stroke="#000" stroke-width="0.9"/>
<circle cx="658.8" cy="617.9" r="1.45" fill="none" stroke="#000" stroke-width="0.9"/>
<circle cx="688.2" cy="624.6" r="1.45" fill="none" stroke="#000" stroke-width="0.9"/>
<circle cx="685.1" cy="618.4" r="1.45" fill="none" stroke="#000" stroke-width="0.9"/>
<circle cx="675.4" cy="620.3" r="1.45" fill="none" stroke="#000" stroke-width="0.9"/>
<circle cx="671.2" cy="626.4" r="1.45" fill="none" stroke="#000" stroke-width="0.9"/>
<circle cx="660.4" cy="621.2" r="1.45" fill="none" stroke="#000" stroke-width="0.9"/>
<circle cx="664.6" cy="624.3" r="1.45" fill="none" stroke="#000" stroke-width="0.9"/>
<circle cx="660.9" cy="615.6" r="1.45" fill="none" stroke="#000" stroke-width="0.9"/>
<circle cx="665.6" cy="627.6" r="1.45" fill="none" stroke="#000" stroke-width="0.9"/>
<circle cx="668.6" cy="626.7" r="1.45" fill="none" stroke="#000" stroke-width="0.9"/>
<circle cx="646.7" cy="629.9" r="1.45" fill="none" stroke="#000" stroke-width="0.9"/>
<circle cx="667.5" cy="627.8" r="1.45" fill="none" stroke="#000" stroke-width="0.9"/>
<circle cx="650.5" cy="627.1" r="1.45" fill="none" stroke="#000" stroke-width="0.9"/>
<circle cx="672.3" cy="618.0" r="1.45" fill="none" stroke="#000" stroke-width="0.9"/>
<circle cx="675.3" cy="623.9" r="1.45" fill="none" stroke="#000" stroke-width="0.9"/>
<circle cx="677.6" cy="623.0" r="1.45" fill="none" stroke="#000" stroke-width="0.9"/>
<circle cx="675.4" cy="618.4" r="1.45" fill="none" stroke="#000" stroke-width="0.9"/>
<circle cx="677.1" cy="621.2" r="1.45" fill="none" stroke="#000" stroke-width="0.9"/>
<circle cx="681.0" cy="613.7" r="1.45" fill="none" stroke="#000" stroke-width="0.9"/>
<circle cx="674.7" cy="621.3" r="1.45" fill="none" stroke="#000" stroke-width="0.9"/>
<circle cx="671.7" cy="617.5" r="1.45" fill="none" stroke="#000" stroke-width="0.9"/>
<circle cx="673.6" cy="615.6" r="1.45" fill="none" stroke="#000" stroke-width="0.9"/>
<circle cx="667.0" cy="626.5" r="1.45" fill="none" stroke="#000" stroke-width="0.9"/>
<circle cx="679.1" cy="618.1" r="1.45" fill="none" stroke="#000" stroke-width="0.9"/>
<circle cx="664.3" cy="618.7" r="1.45" fill="none" stroke="#000" stroke-width="0.9"/>
<circle cx="682.3" cy="614.0" r="1.45" fill="none" stroke="#000" stroke-width="0.9"/>
<circle cx="680.9" cy="612.6" r="1.45" fill="none" stroke="#000" stroke-width="0.9"/>
<circle cx="657.1" cy="622.2" r="1.45" fill="none" stroke="#000" stroke-width="0.9"/>
<circle cx="667.1" cy="619.6" r="1.45" fill="none" stroke="#000" stroke-width="0.9"/>
<circle cx="666.8" cy="622.0" r="1.45" fill="none" stroke="#000" stroke-width="0.9"/>
<circle cx="664.8" cy="628.1" r="1.45" fill="none" stroke="#000" stroke-width="0.9"/>
<circle cx="674.0" cy="622.7" r="1.45" fill="none" stroke="#000" stroke-width="0.9"/>
<circle cx="669.2" cy="623.9" r="1.45" fill="none" stroke="#000" stroke-width="0.9"/>
<circle cx="641.9" cy="615.6" r="1.45" fill="none" stroke="#000" stroke-width="0.9"/>
<circle cx="673.7" cy="623.3" r="1.45" fill="none" stroke="#000" stroke-width="0.9"/>
<circle cx="658.2" cy="625.9" r="1.45" fill="none" stroke="#000" stroke-width="0.9"/>
<circle cx="675.3" cy="620.0" r="1.45" fill="none" stroke="#000" stroke-width="0.9"/>
<circle cx="673.2" cy="625.5" r="1.45" fill="none" stroke="#000" stroke-width="0.9"/>
<circle cx="661.6" cy="620.7" r="1.45" fill="none" stroke="#000" stroke-width="0.9"/>
<circle cx="655.7" cy="618.4" r="1.45" fill="none" stroke="#000" stroke-width="0.9"/>
<circle cx="670.7" cy="623.2" r="1.45" fill="none" stroke="#000" stroke-width="0.9"/>
<circle cx="663.8" cy="621.7" r="1.45" fill="none" stroke="#000" stroke-width="0.9"/>
<circle cx="662.4" cy="626.7" r="1.45" fill="none" stroke="#000" stroke-width="0.9"/>
<circle cx="666.1" cy="622.1" r="1.45" fill="none" stroke="#000" stroke-width="0.9"/>
<circle cx="665.1" cy="624.7" r="1.45" fill="none" stroke="#000" stroke-width="0.9"/>
<circle cx="679.6" cy="619.9" r="1.45" fill="none" stroke="#000" stroke-width="0.9"/>
<circle cx="665.8" cy="619.8" r="1.45" fill="none" stroke="#000" stroke-width="0.9"/>
<circle cx="663.5" cy="619.8" r="1.45" fill="none" stroke="#000" stroke-width="0.9"/>
<circle cx="675.3" cy="616.7" r="1.45" fill="none" stroke="#000" stroke-width="0.9"/>
<circle cx="680.5" cy="622.2" r="1.45" fill="none" stroke="#000" stroke-width="0.9"/>
<circle cx="688.9" cy="612.4" r="1.45" fill="none" stroke="#000" stroke-width="0.9"/>
<circle cx="672.9" cy="624.3" r="1.45" fill="none" stroke="#000" stroke-width="0.9"/>
<circle cx="678.2" cy="623.0" r="1.45" fill="none" stroke="#000" stroke-width="0.9"/>
<circle cx="656.6" cy="627.2" r="1.45" fill="none" stroke="#000" stroke-width="0.9"/>
<circle cx="663.1" cy="621.7" r="1.45" fill="none" stroke="#000" stroke-width="0.9"/>
<circle cx="662.4" cy="626.1" r="1.45" fill="none" stroke="#000" stroke-width="0.9"/>
<circle cx="663.4" cy="625.1" r="1.45" fill="none" stroke="#000" stroke-width="0.9"/>
<circle cx="651.7" cy="626.0" r="1.45" fill="none" stroke="#000" stroke-width="0.9"/>
<circle cx="672.0" cy="616.9" r="1.45" fill="none" stroke="#000" stroke-width="0.9"/>
<circle cx="656.8" cy="620.5" r="1.45" fill="none" stroke="#000" stroke-width="0.9"/>
<circle cx="682.7" cy="625.2" r="1.45" fill="none" stroke="#000" stroke-width="0.9"/>
<circle cx="665.9" cy="631.1" r="1.45" fill="none" stroke="#000" stroke-width="0.9"/>
<circle cx="673.5" cy="622.0" r="1.45" fill="none" stroke="#000" stroke-width="0.9"/>
<circle cx="664.1" cy="627.1" r="1.45" fill="none" stroke="#000" stroke-width="0.9"/>
<circle cx="664.5" cy="620.9" r="1.45" fill="none" stroke="#000" stroke-width="0.9"/>
<circle cx="673.7" cy="619.2" r="1.45" fill="none" stroke="#000" stroke-width="0.9"/>
<circle cx="660.1" cy="624.4" r="1.45" fill="none" stroke="#000" stroke-width="0.9"/>
<circle cx="676.9" cy="619.6" r="1.45" fill="none" stroke="#000" stroke-width="0.9"/>
<circle cx="668.9" cy="615.7" r="1.45" fill="none" stroke="#000" stroke-width="0.9"/>
<circle cx="654.7" cy="627.8" r="1.45" fill="none" stroke="#000" stroke-width="0.9"/>
<circle cx="685.6" cy="619.9" r="1.45" fill="none" stroke="#000" stroke-width="0.9"/>
<circle cx="659.9" cy="618.0" r="1.45" fill="none" stroke="#000" stroke-width="0.9"/>
<circle cx="671.4" cy="625.8" r="1.45" fill="none" stroke="#000" stroke-width="0.9"/>
<circle cx="669.7" cy="618.5" r="1.45" fill="none" stroke="#000" stroke-width="0.9"/>
<circle cx="647.8" cy="628.4" r="1.45" fill="none" stroke="#000" stroke-width="0.9"/>
<circle cx="686.6" cy="610.9" r="1.45" fill="none" stroke="#000" stroke-width="0.9"/>
<circle cx="667.8" cy="619.9" r="1.45" fill="none" stroke="#000" stroke-width="0.9"/>
<circle cx="666.3" cy="623.5" r="1.45" fill="none" stroke="#000" stroke-width="0.9"/>
<circle cx="652.2" cy="618.7" r="1.45" fill="none" stroke="#000" stroke-width="0.9"/>
<circle cx="674.3" cy="622.2" r="1.45" fill="none" stroke="#000" stroke-width="0.9"/>
<circle cx="696.3" cy="615.2" r="1.45" fill="none" stroke="#000" stroke-width="0.9"/>
<circle cx="672.3" cy="619.6" r="1.45" fill="none" stroke="#000" stroke-width="0.9"/>
<circle cx="668.9" cy="620.3" r="1.45" fill="none" stroke="#000" stroke-width="0.9"/>
<circle cx="676.6" cy="617.1" r="1.45" fill="none" stroke="#000" stroke-width="0.9"/>
<circle cx="676.7" cy="620.0" r="1.45" fill="none" stroke="#000" stroke-width="0.9"/>
<circle cx="672.9" cy="628.7" r="1.45" fill="none" stroke="#000" stroke-width="0.9"/>
<circle cx="686.2" cy="606.3" r="1.45" fill="none" stroke="#000" stroke-width="0.9"/>
<circle cx="689.2" cy="616.2" r="1.45" fill="none" stroke="#000" stroke-width="0.9"/>
<circle cx="665.6" cy="618.2" r="1.45" fill="none" stroke="#000" stroke-width="0.9"/>
<circle cx="653.1" cy="630.9" r="1.45" fill="none" stroke="#000" stroke-width="0.9"/>
<circle cx="663.6" cy="627.9" r="1.45" fill="none" stroke="#000" stroke-width="0.9"/>
<circle cx="687.5" cy="612.7" r="1.45" fill="none" stroke="#000" stroke-width="0.9"/>
<circle cx="664.6" cy="625.2" r="1.45" fill="none" stroke="#000" stroke-width="0.9"/>
<circle cx="672.7" cy="624.8" r="1.45" fill="none" stroke="#000" stroke-width="0.9"/>
<circle cx="654.0" cy="624.5" r="1.45" fill="none" stroke="#000" stroke-width="0.9"/>
<circle cx="671.8" cy="626.0" r="1.45" fill="none" stroke="#000" stroke-width="0.9"/>
<circle cx="668.8" cy="618.9" r="1.45" fill="none" stroke="#000" stroke-width="0.9"/>
<circle cx="663.0" cy="618.9" r="1.45" fill="none" stroke="#000" stroke-width="0.9"/>
<circle cx="679.1" cy="619.7" r="1.45" fill="none" stroke="#000" stroke-width="0.9"/>
<circle cx="670.1" cy="625.0" r="1.45" fill="none" stroke="#000" stroke-width="0.9"/>
<circle cx="683.0" cy="613.5" r="1.45" fill="none" stroke="#000" stroke-width="0.9"/>
<circle cx="661.3" cy="615.3" r="1.45" fill="none" stroke="#000" stroke-width="0.9"/>
<circle cx="664.0" cy="625.2" r="1.45" fill="none" stroke="#000" stroke-width="0.9"/>
<circle cx="662.5" cy="614.4" r="1.45" fill="none" stroke="#000" stroke-width="0.9"/>
<circle cx="668.3" cy="623.9" r="1.45" fill="none" stroke="#000" stroke-width="0.9"/>
<circle cx="665.9" cy="630.1" r="1.45" fill="none" stroke="#000" stroke-width="0.9"/>
<circle cx="670.9" cy="627.8" r="1.45" fill="none" stroke="#000" stroke-width="0.9"/>
<circle cx="675.2" cy="624.3" r="1.45" fill="none" stroke="#000" stroke-width="0.9"/>
<circle cx="653.0" cy="627.8" r="1.45" fill="none" stroke="#000" stroke-width="0.9"/>
<circle cx="661.4" cy="621.1" r="1.45" fill="none" stroke="#000" stroke-width="0.9"/>
<circle cx="652.8" cy="624.4" r="1.45" fill="none" stroke="#000" stroke-width="0.9"/>
<circle cx="656.6" cy="633.4" r="1.45" fill="none" stroke="#000" stroke-width="0.9"/>
<circle cx="680.0" cy="621.3" r="1.45" fill="none" stroke="#000" stroke-width="0.9"/>
<circle cx="663.3" cy="613.6" r="1.45" fill="none" stroke="#000" stroke-width="0.9"/>
<circle cx="669.3" cy="619.2" r="1.45" fill="none" stroke="#000" stroke-width="0.9"/>
<circle cx="670.2" cy="612.8" r="1.45" fill="none" stroke="#000" stroke-width="0.9"/>
<circle cx="664.4" cy="626.4" r="1.45" fill="none" stroke="#000" stroke-width="0.9"/>
<circle cx="664.3" cy="623.6" r="1.45" fill="none" stroke="#000" stroke-width="0.9"/>
<circle cx="674.9" cy="616.7" r="1.45" fill="none" stroke="#000" stroke-width="0.9"/>
<circle cx="661.0" cy="625.8" r="1.45" fill="none" stroke="#000" stroke-width="0.9"/>
<circle cx="664.0" cy="627.2" r="1.45" fill="none" stroke="#000" stroke-width="0.9"/>
<circle cx="657.2" cy="619.0" r="1.45" fill="none" stroke="#000" stroke-width="0.9"/>
<circle cx="649.6" cy="633.2" r="1.45" fill="none" stroke="#000" stroke-width="0.9"/>
<circle cx="681.3" cy="622.4" r="1.45" fill="none" stroke="#000" stroke-width="0.9"/>
<circle cx="664.8" cy="626.6" r="1.45" fill="none" stroke="#000" stroke-width="0.9"/>
<circle cx="675.3" cy="619.4" r="1.45" fill="none" stroke="#000" stroke-width="0.9"/>
<circle cx="658.4" cy="618.0" r="1.45" fill="none" stroke="#000" stroke-width="0.9"/>
<circle cx="667.0" cy="615.2" r="1.45" fill="none" stroke="#000" stroke-width="0.9"/>
<circle cx="660.4" cy="623.3" r="1.45" fill="none" stroke="#000" stroke-width="0.9"/>
<circle cx="659.8" cy="620.8" r="1.45" fill="none" stroke="#000" stroke-width="0.9"/>
<circle cx="661.8" cy="621.9" r="1.45" fill="none" stroke="#000" stroke-width="0.9"/>
<circle cx="678.6" cy="615.0" r="1.45" fill="none" stroke="#000" stroke-width="0.9"/>
<circle cx="662.7" cy="630.0" r="1.45" fill="none" stroke="#000" stroke-width="0.9"/>
<circle cx="660.9" cy="627.4" r="1.45" fill="none" stroke="#000" stroke-width="0.9"/>
<circle cx="659.8" cy="626.4" r="1.45" fill="none" stroke="#000" stroke-width="0.9"/>
<circle cx="672.0" cy="622.6" r="1.45" fill="none" stroke="#000" stroke-width="0.9"/>
<circle cx="676.1" cy="613.5" r="1.45" fill="none" stroke="#000" stroke-width="0.9"/>
<circle cx="678.6" cy="613.5" r="1.45" fill="none" stroke="#000" stroke-width="0.9"/>
<circle cx="671.6" cy="625.6" r="1.45" fill="none" stroke="#000" stroke-width="0.9"/>
<circle cx="674.3" cy="621.4" r="1.45" fill="none" stroke="#000" stroke-width="0.9"/>
<circle cx="674.1" cy="621.4" r="1.45" fill="none" stroke="#000" stroke-width="0.9"/>
<circle cx="654.8" cy="626.3" r="1.45" fill="none" stroke="#000" stroke-width="0.9"/>
<circle cx="646.2" cy="627.7" r="1.45" fill="none" stroke="#000" stroke-width="0.9"/>
<circle cx="668.4" cy="617.5" r="1.45" fill="none" stroke="#000" stroke-width="0.9"/>
<circle cx="660.2" cy="625.2" r="1.45" fill="none" stroke="#000" stroke-width="0.9"/>
<circle cx="665.3" cy="618.4" r="1.45" fill="none" stroke="#000" stroke-width="0.9"/>
<circle cx="652.3" cy="627.2" r="1.45" fill="none" stroke="#000" stroke-width="0.9"/>
<circle cx="677.9" cy="609.9" r="1.45" fill="none" stroke="#000" stroke-width="0.9"/>
<circle cx="663.0" cy="631.4" r="1.45" fill="none" stroke="#000" stroke-width="0.9"/>
<circle cx="667.4" cy="619.4" r="1.45" fill="none" stroke="#000" stroke-width="0.9"/>
<circle cx="644.7" cy="624.5" r="1.45" fill="none" stroke="#000" stroke-width="0.9"/>
<circle cx="678.5" cy="624.2" r="1.45" fill="none" stroke="#000" stroke-width="0.9"/>
<circle cx="680.2" cy="618.9" r="1.45" fill="none" stroke="#000" stroke-width="0.9"/>
<circle cx="665.8" cy="618.6" r="1.45" fill="none" stroke="#000" stroke-width="0.9"/>
<circle cx="654.0" cy="618.7" r="1.45" fill="none" stroke="#000" stroke-width="0.9"/>
<circle cx="653.2" cy="624.2" r="1.45" fill="none" stroke="#000" stroke-width="0.9"/>
<circle cx="645.8" cy="634.5" r="1.45" fill="none" stroke="#000" stroke-width="0.9"/>
<circle cx="661.5" cy="620.4" r="1.45" fill="none" stroke="#000" stroke-width="0.9"/>
<circle cx="685.0" cy="618.0" r="1.45" fill="none" stroke="#000" stroke-width="0.9"/>
<circle cx="676.9" cy="619.9" r="1.45" fill="none" stroke="#000" stroke-width="0.9"/>
<circle cx="675.2" cy="621.6" r="1.45" fill="none" stroke="#000" stroke-width="0.9"/>
<circle cx="672.8" cy="622.7" r="1.45" fill="none" stroke="#000" stroke-width="0.9"/>
<circle cx="663.3" cy="622.7" r="1.45" fill="none" stroke="#000" stroke-width="0.9"/>
<circle cx="669.3" cy="617.7" r="1.45" fill="none" stroke="#000" stroke-width="0.9"/>
<circle cx="672.8" cy="621.2" r="1.45" fill="none" stroke="#000" stroke-width="0.9"/>
<circle cx="666.1" cy="609.5" r="1.45" fill="none" stroke="#000" stroke-width="0.9"/>
<circle cx="671.4" cy="621.3" r="1.45" fill="none" stroke="#000" stroke-width="0.9"/>
<circle cx="653.8" cy="630.6" r="1.45" fill="none" stroke="#000" stroke-width="0.9"/>
<circle cx="666.0" cy="625.6" r="1.45" fill="none" stroke="#000" stroke-width="0.9"/>
<circle cx="674.7" cy="616.0" r="1.45" fill="none" stroke="#000" stroke-width="0.9"/>
<circle cx="675.5" cy="620.8" r="1.45" fill="none" stroke="#000" stroke-width="0.9"/>
<circle cx="654.5" cy="629.5" r="1.45" fill="none" stroke="#000" stroke-width="0.9"/>
<circle cx="683.6" cy="615.4" r="1.45" fill="none" stroke="#000" stroke-width="0.9"/>
<circle cx="684.2" cy="619.3" r="1.45" fill="none" stroke="#000" stroke-width="0.9"/>
<circle cx="653.7" cy="633.0" r="1.45" fill="none" stroke="#000" stroke-width="0.9"/>
<circle cx="671.1" cy="620.2" r="1.45" fill="none" stroke="#000" stroke-width="0.9"/>
<circle cx="661.6" cy="623.4" r="1.45" fill="none" stroke="#000" stroke-width="0.9"/>
<circle cx="672.2" cy="622.6" r="1.45" fill="none" stroke="#000" stroke-width="0.9"/>
<circle cx="670.2" cy="621.8" r="1.45" fill="none" stroke="#000" stroke-width="0.9"/>
<circle cx="672.3" cy="620.1" r="1.45" fill="none" stroke="#000" stroke-width="0.9"/>
<circle cx="672.4" cy="613.2" r="1.45" fill="none" stroke="#000" stroke-width="0.9"/>
<circle cx="671.5" cy="623.2" r="1.45" fill="none" stroke="#000" stroke-width="0.9"/>
<circle cx="657.1" cy="630.3" r="1.45" fill="none" stroke="#000" stroke-width="0.9"/>
<circle cx="672.7" cy="620.8" r="1.45" fill="none" stroke="#000" stroke-width="0.9"/>
<circle cx="657.5" cy="627.5" r="1.45" fill="none" stroke="#000" stroke-width="0.9"/>
<circle cx="673.7" cy="627.8" r="1.45" fill="none" stroke="#000" stroke-width="0.9"/>
<circle cx="684.3" cy="619.5" r="1.45" fill="none" stroke="#000" stroke-width="0.9"/>
<circle cx="673.0" cy="618.1" r="1.45" fill="none" stroke="#000" stroke-width="0.9"/>
<circle cx="654.7" cy="626.0" r="1.45" fill="none" stroke="#000" stroke-width="0.9"/>
<circle cx="674.8" cy="615.0" r="1.45" fill="none" stroke="#000" stroke-width="0.9"/>
<circle cx="648.4" cy="624.1" r="1.45" fill="none" stroke="#000" stroke-width="0.9"/>
<circle cx="674.0" cy="617.6" r="1.45" fill="none" stroke="#000" stroke-width="0.9"/>
<circle cx="681.1" cy="614.8" r="1.45" fill="none" stroke="#000" stroke-width="0.9"/>
<circle cx="667.7" cy="624.9" r="1.45" fill="none" stroke="#000" stroke-width="0.9"/>
<circle cx="668.3" cy="617.2" r="1.45" fill="none" stroke="#000" stroke-width="0.9"/>
<circle cx="660.4" cy="626.6" r="1.45" fill="none" stroke="#000" stroke-width="0.9"/>
<circle cx="676.3" cy="621.5" r="1.45" fill="none" stroke="#000" stroke-width="0.9"/>
<circle cx="678.7" cy="621.6" r="1.45" fill="none" stroke="#000" stroke-width="0.9"/>
<circle cx="672.0" cy="621.8" r="1.45" fill="none" stroke="#000" stroke-width="0.9"/>
<circle cx="670.1" cy="610.9" r="1.45" fill="none" stroke="#000" stroke-width="0.9"/>
<circle cx="664.2" cy="614.5" r="1.45" fill="none" stroke="#000" stroke-width="0.9"/>
<circle cx="673.6" cy="612.2" r="1.45" fill="none" stroke="#000" stroke-width="0.9"/>
<circle cx="649.8" cy="624.2" r="1.45" fill="none" stroke="#000" stroke-width="0.9"/>
<circle cx="668.4" cy="618.3" r="1.45" fill="none" stroke="#000" stroke-width="0.9"/>
<circle cx="671.3" cy="622.0" r="1.45" fill="none" stroke="#000" stroke-width="0.9"/>
<circle cx="650.0" cy="625.5" r="1.45" fill="none" stroke="#000" stroke-width="0.9"/>
<circle cx="668.1" cy="615.7" r="1.45" fill="none" stroke="#000" stroke-width="0.9"/>
<circle cx="666.0" cy="627.2" r="1.45" fill="none" stroke="#000" stroke-width="0.9"/>
<circle cx="651.2" cy="627.2" r="1.45" fill="none" stroke="#000" stroke-width="0.9"/>
<circle cx="654.9" cy="625.5" r="1.45" fill="none" stroke="#000" stroke-width="0.9"/>
<circle cx="663.7" cy="627.0" r="1.45" fill="none" stroke="#000" stroke-width="0.9"/>
<circle cx="661.3" cy="631.6" r="1.45" fill="none" stroke="#000" stroke-width="0.9"/>
<circle cx="673.7" cy="625.9" r="1.45" fill="none" stroke="#000" stroke-width="0.9"/>
<circle cx="677.9" cy="621.6" r="1.45" fill="none" stroke="#000" stroke-width="0.9"/>
<circle cx="663.2" cy="628.0" r="1.45" fill="none" stroke="#000" stroke-width="0.9"/>
<circle cx="665.2" cy="621.5" r="1.45" fill="none" stroke="#000" stroke-width="0.9"/>
<circle cx="674.6" cy="616.2" r="1.45" fill="none" stroke="#000" stroke-width="0.9"/>
<circle cx="666.6" cy="618.5" r="1.45" fill="none" stroke="#000" stroke-width="0.9"/>
<circle cx="660.2" cy="627.1" r="1.45" fill="none" stroke="#000" stroke-width="0.9"/>
<circle cx="665.3" cy="619.6" r="1.45" fill="none" stroke="#000" stroke-width="0.9"/>
<circle cx="695.1" cy="616.8" r="1.45" fill="none" stroke="#000" stroke-width="0.9"/>
<circle cx="680.5" cy="621.8" r="1.45" fill="none" stroke="#000" stroke-width="0.9"/>
<circle cx="681.0" cy="623.9" r="1.45" fill="none" stroke="#000" stroke-width="0.9"/>
<circle cx="674.9" cy="619.2" r="1.45" fill="none" stroke="#000" stroke-width="0.9"/>
<circle cx="660.5" cy="627.0" r="1.45" fill="none" stroke="#000" stroke-width="0.9"/>
<circle cx="665.7" cy="618.3" r="1.45" fill="none" stroke="#000" stroke-width="0.9"/>
<circle cx="683.3" cy="623.2" r="1.45" fill="none" stroke="#000" stroke-width="0.9"/>
<circle cx="674.1" cy="620.2" r="1.45" fill="none" stroke="#000" stroke-width="0.9"/>
<circle cx="660.2" cy="623.4" r="1.45" fill="none" stroke="#000" stroke-width="0.9"/>
<circle cx="667.9" cy="618.0" r="1.45" fill="none" stroke="#000" stroke-width="0.9"/>
<circle cx="675.4" cy="621.8" r="1.45" fill="none" stroke="#000" stroke-width="0.9"/>
<circle cx="677.6" cy="623.7" r="1.45" fill="none" stroke="#000" stroke-width="0.9"/>
<circle cx="665.5" cy="626.3" r="1.45" fill="none" stroke="#000" stroke-width="0.9"/>
<circle cx="662.1" cy="621.0" r="1.45" fill="none" stroke="#000" stroke-width="0.9"/>
<circle cx="671.0" cy="624.9" r="1.45" fill="none" stroke="#000" stroke-width="0.9"/>
<circle cx="680.2" cy="613.6" r="1.45" fill="none" stroke="#000" stroke-width="0.9"/>
<circle cx="684.2" cy="616.0" r="1.45" fill="none" stroke="#000" stroke-width="0.9"/>
<circle cx="670.5" cy="628.3" r="1.45" fill="none" stroke="#000" stroke-width="0.9"/>
<circle cx="665.4" cy="619.6" r="1.45" fill="none" stroke="#000" stroke-width="0.9"/>
<circle cx="649.6" cy="628.0" r="1.45" fill="none" stroke="#000" stroke-width="0.9"/>
<circle cx="666.0" cy="627.1" r="1.45" fill="none" stroke="#000" stroke-width="0.9"/>
<circle cx="682.1" cy="625.9" r="1.45" fill="none" stroke="#000" stroke-width="0.9"/>
<circle cx="660.0" cy="627.9" r="1.45" fill="none" stroke="#000" stroke-width="0.9"/>
<circle cx="671.2" cy="618.3" r="1.45" fill="none" stroke="#000" stroke-width="0.9"/>
<circle cx="668.1" cy="610.7" r="1.45" fill="none" stroke="#000" stroke-width="0.9"/>
<circle cx="676.8" cy="619.8" r="1.45" fill="none" stroke="#000" stroke-width="0.9"/>
<circle cx="681.1" cy="615.9" r="1.45" fill="none" stroke="#000" stroke-width="0.9"/>
<circle cx="653.2" cy="621.8" r="1.45" fill="none" stroke="#000" stroke-width="0.9"/>
<circle cx="653.2" cy="625.9" r="1.45" fill="none" stroke="#000" stroke-width="0.9"/>
<circle cx="678.7" cy="621.7" r="1.45" fill="none" stroke="#000" stroke-width="0.9"/>
<circle cx="665.9" cy="613.5" r="1.45" fill="none" stroke="#000" stroke-width="0.9"/>
<circle cx="676.6" cy="621.6" r="1.45" fill="none" stroke="#000" stroke-width="0.9"/>
<circle cx="653.0" cy="622.4" r="1.45" fill="none" stroke="#000" stroke-width="0.9"/>
<circle cx="661.8" cy="623.7" r="1.45" fill="none" stroke="#000" stroke-width="0.9"/>
<circle cx="660.6" cy="616.1" r="1.45" fill="none" stroke="#000" stroke-width="0.9"/>
<circle cx="662.5" cy="620.9" r="1.45" fill="none" stroke="#000" stroke-width="0.9"/>
<circle cx="676.1" cy="621.0" r="1.45" fill="none" stroke="#000" stroke-width="0.9"/>
<circle cx="661.9" cy="619.8" r="1.45" fill="none" stroke="#000" stroke-width="0.9"/>
<circle cx="662.1" cy="628.6" r="1.45" fill="none" stroke="#000" stroke-width="0.9"/>
<circle cx="668.6" cy="608.5" r="1.45" fill="none" stroke="#000" stroke-width="0.9"/>
<circle cx="671.9" cy="623.1" r="1.45" fill="none" stroke="#000" stroke-width="0.9"/>
<circle cx="659.1" cy="620.7" r="1.45" fill="none" stroke="#000" stroke-width="0.9"/>
<circle cx="655.8" cy="632.7" r="1.45" fill="none" stroke="#000" stroke-width="0.9"/>
<circle cx="662.2" cy="626.1" r="1.45" fill="none" stroke="#000" stroke-width="0.9"/>
<circle cx="659.4" cy="628.2" r="1.45" fill="none" stroke="#000" stroke-width="0.9"/>
<circle cx="671.9" cy="626.3" r="1.45" fill="none" stroke="#000" stroke-width="0.9"/>
<circle cx="677.0" cy="621.4" r="1.45" fill="none" stroke="#000" stroke-width="0.9"/>
<circle cx="658.5" cy="616.5" r="1.45" fill="none" stroke="#000" stroke-width="0.9"/>
<circle cx="654.1" cy="627.9" r="1.45" fill="none" stroke="#000" stroke-width="0.9"/>
<circle cx="675.7" cy="617.7" r="1.45" fill="none" stroke="#000" stroke-width="0.9"/>
<circle cx="653.1" cy="623.0" r="1.45" fill="none" stroke="#000" stroke-width="0.9"/>
<circle cx="677.6" cy="621.5" r="1.45" fill="none" stroke="#000" stroke-width="0.9"/>
<circle cx="666.7" cy="614.3" r="1.45" fill="none" stroke="#000" stroke-width="0.9"/>
<circle cx="672.3" cy="620.4" r="1.45" fill="none" stroke="#000" stroke-width="0.9"/>
<circle cx="681.0" cy="626.1" r="1.45" fill="none" stroke="#000" stroke-width="0.9"/>
<circle cx="661.1" cy="619.5" r="1.45" fill="none" stroke="#000" stroke-width="0.9"/>
<circle cx="655.6" cy="628.6" r="1.45" fill="none" stroke="#000" stroke-width="0.9"/>
<circle cx="678.4" cy="612.9" r="1.45" fill="none" stroke="#000" stroke-width="0.9"/>
<circle cx="663.1" cy="616.3" r="1.45" fill="none" stroke="#000" stroke-width="0.9"/>
<circle cx="662.7" cy="618.8" r="1.45" fill="none" stroke="#000" stroke-width="0.9"/>
<circle cx="659.7" cy="623.8" r="1.45" fill="none" stroke="#000" stroke-width="0.9"/>
<circle cx="658.2" cy="622.1" r="1.45" fill="none" stroke="#000" stroke-width="0.9"/>
<circle cx="686.4" cy="611.7" r="1.45" fill="none" stroke="#000" stroke-width="0.9"/>
<circle cx="653.0" cy="623.3" r="1.45" fill="none" stroke="#000" stroke-width="0.9"/>
<circle cx="654.1" cy="621.0" r="1.45" fill="none" stroke="#000" stroke-width="0.9"/>
<circle cx="662.4" cy="622.3" r="1.45" fill="none" stroke="#000" stroke-width="0.9"/>
<circle cx="675.4" cy="619.5" r="1.45" fill="none" stroke="#000" stroke-width="0.9"/>
<circle cx="669.7" cy="622.1" r="1.45" fill="none" stroke="#000" stroke-width="0.9"/>
<circle cx="686.4" cy="613.8" r="1.45" fill="none" stroke="#000" stroke-width="0.9"/>
<circle cx="658.2" cy="621.2" r="1.45" fill="none" stroke="#000" stroke-width="0.9"/>
<circle cx="664.1" cy="627.4" r="1.45" fill="none" stroke="#000" stroke-width="0.9"/>
<circle cx="674.9" cy="616.7" r="1.45" fill="none" stroke="#000" stroke-width="0.9"/>
<circle cx="665.6" cy="620.7" r="1.45" fill="none" stroke="#000" stroke-width="0.9"/>
<circle cx="678.7" cy="613.1" r="1.45" fill="none" stroke="#000" stroke-width="0.9"/>
<circle cx="667.4" cy="624.7" r="1.45" fill="none" stroke="#000" stroke-width="0.9"/>
<circle cx="660.8" cy="623.2" r="1.45" fill="none" stroke="#000" stroke-width="0.9"/>
<circle cx="677.9" cy="616.8" r="1.45" fill="none" stroke="#000" stroke-width="0.9"/>
<circle cx="680.7" cy="620.9" r="1.45" fill="none" stroke="#000" stroke-width="0.9"/>
<circle cx="679.5" cy="618.1" r="1.45" fill="none" stroke="#000" stroke-width="0.9"/>
<circle cx="662.1" cy="613.8" r="1.45" fill="none" stroke="#000" stroke-width="0.9"/>
<circle cx="670.2" cy="619.9" r="1.45" fill="none" stroke="#000" stroke-width="0.9"/>
<circle cx="673.6" cy="623.0" r="1.45" fill="none" stroke="#000" stroke-width="0.9"/>
<circle cx="670.1" cy="623.3" r="1.45" fill="none" stroke="#000" stroke-width="0.9"/>
<circle cx="694.0" cy="612.7" r="1.45" fill="none" stroke="#000" stroke-width="0.9"/>
<circle cx="656.0" cy="628.5" r="1.45" fill="none" stroke="#000" stroke-width="0.9"/>
<circle cx="670.5" cy="614.9" r="1.45" fill="none" stroke="#000" stroke-width="0.9"/>
<circle cx="664.8" cy="617.8" r="1.45" fill="none" stroke="#000" stroke-width="0.9"/>
<circle cx="678.8" cy="617.2" r="1.45" fill="none" stroke="#000" stroke-width="0.9"/>
<circle cx="663.3" cy="617.6" r="1.45" fill="none" stroke="#000" stroke-width="0.9"/>
<circle cx="667.5" cy="621.3" r="1.45" fill="none" stroke="#000" stroke-width="0.9"/>
<circle cx="660.4" cy="621.0" r="1.45" fill="none" stroke="#000" stroke-width="0.9"/>
<circle cx="674.5" cy="618.0" r="1.45" fill="none" stroke="#000" stroke-width="0.9"/>
<circle cx="668.2" cy="613.9" r="1.45" fill="none" stroke="#000" stroke-width="0.9"/>
<circle cx="675.0" cy="622.5" r="1.45" fill="none" stroke="#000" stroke-width="0.9"/>
<circle cx="666.7" cy="620.7" r="1.45" fill="none" stroke="#000" stroke-width="0.9"/>
<circle cx="673.0" cy="619.7" r="1.45" fill="none" stroke="#000" stroke-width="0.9"/>
<circle cx="672.8" cy="619.5" r="1.45" fill="none" stroke="#000" stroke-width="0.9"/>
<circle cx="673.4" cy="619.8" r="1.45" fill="none" stroke="#000" stroke-width="0.9"/>
<circle cx="665.3" cy="619.0" r="1.45" fill="none" stroke="#000" stroke-width="0.9"/>
<circle cx="677.8" cy="625.6" r="1.45" fill="none" stroke="#000" stroke-width="0.9"/>
<circle cx="673.1" cy="622.7" r="1.45" fill="none" stroke="#000" stroke-width="0.9"/>
<circle cx="671.0" cy="622.9" r="1.45" fill="none" stroke="#000" stroke-width="0.9"/>
<circle cx="684.9" cy="614.5" r="1.45" fill="none" stroke="#000" stroke-width="0.9"/>
<circle cx="651.9" cy="619.3" r="1.45" fill="none" stroke="#000" stroke-width="0.9"/>
<circle cx="661.3" cy="624.2" r="1.45" fill="none" stroke="#000" stroke-width="0.9"/>
<circle cx="672.7" cy="623.3" r="1.45" fill="none" stroke="#000" stroke-width="0.9"/>
<circle cx="669.7" cy="619.8" r="1.45" fill="none" stroke="#000" stroke-width="0.9"/>
<circle cx="656.4" cy="622.5" r="1.45" fill="none" stroke="#000" stroke-width="0.9"/>
<circle cx="681.8" cy="618.8" r="1.45" fill="none" stroke="#000" stroke-width="0.9"/>
<circle cx="674.5" cy="623.6" r="1.45" fill="none" stroke="#000" stroke-width="0.9"/>
<circle cx="663.1" cy="621.2" r="1.45" fill="none" stroke="#000" stroke-width="0.9"/>
<circle cx="678.3" cy="611.2" r="1.45" fill="none" stroke="#000" stroke-width="0.9"/>
<circle cx="658.8" cy="620.3" r="1.45" fill="none" stroke="#000" stroke-width="0.9"/>
<circle cx="672.1" cy="615.3" r="1.45" fill="none" stroke="#000" stroke-width="0.9"/>
<circle cx="672.8" cy="624.8" r="1.45" fill="none" stroke="#000" stroke-width="0.9"/>
<circle cx="657.3" cy="623.4" r="1.45" fill="none" stroke="#000" stroke-width="0.9"/>
<circle cx="672.4" cy="618.2" r="1.45" fill="none" stroke="#000" stroke-width="0.9"/>
<circle cx="671.1" cy="620.0" r="1.45" fill="none" stroke="#000" stroke-width="0.9"/>
<circle cx="673.9" cy="620.5" r="1.45" fill="none" stroke="#000" stroke-width="0.9"/>
<circle cx="673.6" cy="619.0" r="1.45" fill="none" stroke="#000" stroke-width="0.9"/>
<circle cx="675.9" cy="613.5" r="1.45" fill="none" stroke="#000" stroke-width="0.9"/>
<circle cx="672.4" cy="620.2" r="1.45" fill="none" stroke="#000" stroke-width="0.9"/>
<circle cx="672.3" cy="616.3" r="1.45" fill="none" stroke="#000" stroke-width="0.9"/>
<circle cx="665.2" cy="620.0" r="1.45" fill="none" stroke="#000" stroke-width="0.9"/>
<circle cx="662.3" cy="629.1" r="1.45" fill="none" stroke="#000" stroke-width="0.9"/>
<circle cx="674.1" cy="615.8" r="1.45" fill="none" stroke="#000" stroke-width="0.9"/>
<circle cx="668.4" cy="615.1" r="1.45" fill="none" stroke="#000" stroke-width="0.9"/>
<circle cx="683.2" cy="615.2" r="1.45" fill="none" stroke="#000" stroke-width="0.9"/>
<circle cx="665.2" cy="630.8" r="1.45" fill="none" stroke="#000" stroke-width="0.9"/>
<circle cx="644.8" cy="632.8" r="1.45" fill="none" stroke="#000" stroke-width="0.9"/>
<circle cx="637.3" cy="628.5" r="1.45" fill="none" stroke="#000" stroke-width="0.9"/>
<circle cx="651.6" cy="619.1" r="1.45" fill="none" stroke="#000" stroke-width="0.9"/>
<circle cx="636.7" cy="617.8" r="1.45" fill="none" stroke="#000" stroke-width="0.9"/>
<circle cx="630.7" cy="620.9" r="1.45" fill="none" stroke="#000" stroke-width="0.9"/>
<circle cx="655.6" cy="621.3" r="1.45" fill="none" stroke="#000" stroke-width="0.9"/>
<circle cx="661.2" cy="621.1" r="1.45" fill="none" stroke="#000" stroke-width="0.9"/>
<circle cx="651.9" cy="625.5" r="1.45" fill="none" stroke="#000" stroke-width="0.9"/>
<circle cx="637.4" cy="623.9" r="1.45" fill="none" stroke="#000" stroke-width="0.9"/>
<circle cx="646.9" cy="612.6" r="1.45" fill="none" stroke="#000" stroke-width="0.9"/>
<circle cx="645.7" cy="612.3" r="1.45" fill="none" stroke="#000" stroke-width="0.9"/>
<circle cx="648.7" cy="621.6" r="1.45" fill="none" stroke="#000" stroke-width="0.9"/>
<circle cx="641.0" cy="615.8" r="1.45" fill="none" stroke="#000" stroke-width="0.9"/>
<circle cx="649.3" cy="614.8" r="1.45" fill="none" stroke="#000" stroke-width="0.9"/>
<circle cx="637.4" cy="621.5" r="1.45" fill="none" stroke="#000" stroke-width="0.9"/>
<circle cx="638.8" cy="628.2" r="1.45" fill="none" stroke="#000" stroke-width="0.9"/>
<circle cx="649.1" cy="612.9" r="1.45" fill="none" stroke="#000" stroke-width="0.9"/>
<circle cx="641.5" cy="613.8" r="1.45" fill="none" stroke="#000" stroke-width="0.9"/>
<circle cx="630.7" cy="620.6" r="1.45" fill="none" stroke="#000" stroke-width="0.9"/>
<circle cx="644.6" cy="613.8" r="1.45" fill="none" stroke="#000" stroke-width="0.9"/>
<circle cx="650.5" cy="629.7" r="1.45" fill="none" stroke="#000" stroke-width="0.9"/>
<circle cx="651.2" cy="614.5" r="1.45" fill="none" stroke="#000" stroke-width="0.9"/>
<circle cx="664.6" cy="615.2" r="1.45" fill="none" stroke="#000" stroke-width="0.9"/>
<circle cx="639.2" cy="619.6" r="1.45" fill="none" stroke="#000" stroke-width="0.9"/>
<circle cx="641.5" cy="619.0" r="1.45" fill="none" stroke="#000" stroke-width="0.9"/>
<circle cx="642.2" cy="622.6" r="1.45" fill="none" stroke="#000" stroke-width="0.9"/>
<circle cx="644.2" cy="632.4" r="1.45" fill="none" stroke="#000" stroke-width="0.9"/>
<circle cx="641.7" cy="622.2" r="1.45" fill="none" stroke="#000" stroke-width="0.9"/>
<circle cx="651.0" cy="622.2" r="1.45" fill="none" stroke="#000" stroke-width="0.9"/>
<circle cx="645.9" cy="619.0" r="1.45" fill="none" stroke="#000" stroke-width="0.9"/>
<circle cx="648.3" cy="628.4" r="1.45" fill="none" stroke="#000" stroke-width="0.9"/>
<circle cx="654.0" cy="626.0" r="1.45" fill="none" stroke="#000" stroke-width="0.9"/>
<circle cx="643.0" cy="627.3" r="1.45" fill="none" stroke="#000" stroke-width="0.9"/>
<circle cx="632.0" cy="630.2" r="1.45" fill="none" stroke="#000" stroke-width="0.9"/>
<circle cx="602.9" cy="654.8" r="3.1" fill="#ff8c00" stroke="#e8000b" stroke-width="1"/>
</g>
<rect x="513.3" y="591.7" width="195.2" height="174.5" stroke="#000" stroke-width="1" fill="none"/>
<line x1="528.6" y1="766.2" x2="685.6" y2="766.2" stroke="#000" stroke-width="1"/>
<line x1="528.6" y1="766.2" x2="528.6" y2="772.2" stroke="#000" stroke-width="1"/>
<line x1="560" y1="766.2" x2="560" y2="772.2" stroke="#000" stroke-width="1"/>
<line x1="591.4" y1="766.2" x2="591.4" y2="772.2" stroke="#000" stroke-width="1"/>
<line x1="622.8" y1="766.2" x2="622.8" y2="772.2" stroke="#000" stroke-width="1"/>
<line x1="654.2" y1="766.2" x2="654.2" y2="772.2" stroke="#000" stroke-width="1"/>
<line x1="685.6" y1="766.2" x2="685.6" y2="772.2" stroke="#000" stroke-width="1"/>
<text x="528.6" y="786.5" font-size="9.3" text-anchor="middle" font-weight="normal" fill="#000">-0.6</text>
<text x="560" y="786.5" font-size="9.3" text-anchor="middle" font-weight="normal" fill="#000">-0.4</text>
<text x="591.4" y="786.5" font-size="9.3" text-anchor="middle" font-weight="normal" fill="#000">-0.2</text>
<text x="622.8" y="786.5" font-size="9.3" text-anchor="middle" font-weight="normal" fill="#000">0.0</text>
<text x="654.2" y="786.5" font-size="9.3" text-anchor="middle" font-weight="normal" fill="#000">0.2</text>
<text x="685.6" y="786.5" font-size="9.3" text-anchor="middle" font-weight="normal" fill="#000">0.4</text>
<text x="610.9" y="797.2" font-size="9.3" text-anchor="middle" font-weight="normal" fill="#000">g-i</text>
<line x1="513.3" y1="749.7" x2="513.3" y2="598.2" stroke="#000" stroke-width="1"/>
<line x1="507.3" y1="749.7" x2="513.3" y2="749.7" stroke="#000" stroke-width="1"/>
<line x1="507.3" y1="699.2" x2="513.3" y2="699.2" stroke="#000" stroke-width="1"/>
<line x1="507.3" y1="648.7" x2="513.3" y2="648.7" stroke="#000" stroke-width="1"/>
<line x1="507.3" y1="598.2" x2="513.3" y2="598.2" stroke="#000" stroke-width="1"/>
<text x="500.3" y="749.7" font-size="9.3" text-anchor="middle" font-weight="normal" fill="#000" transform="rotate(-90 500.3 749.7)">-1.5</text>
<text x="500.3" y="699.2" font-size="9.3" text-anchor="middle" font-weight="normal" fill="#000" transform="rotate(-90 500.3 699.2)">-1.0</text>
<text x="500.3" y="648.7" font-size="9.3" text-anchor="middle" font-weight="normal" fill="#000" transform="rotate(-90 500.3 648.7)">-0.5</text>
<text x="500.3" y="598.2" font-size="9.3" text-anchor="middle" font-weight="normal" fill="#000" transform="rotate(-90 500.3 598.2)">0.0</text>
<text x="489.9" y="678.95" font-size="9.3" text-anchor="middle" font-weight="normal" fill="#000" transform="rotate(-90 489.9 678.95)">Log10(Period)</text>
<text x="610.9" y="584" font-size="8.75" text-anchor="middle" font-weight="bold" fill="#000">Color - Log(Period)</text>
<clipPath id="pa"><rect x="753.3" y="591.7" width="195.20000000000005" height="174.5"/></clipPath><g clip-path="url(#pa)">
<path d="M773.5 714.7h0M773.6 688.2h0M773.1 733.9h0M769.3 668.7h0M768.6 699.6h0M769.4 682.5h0M774.6 673.9h0M768.4 710.1h0M769.8 700.8h0M770.1 721.3h0M774.6 678.7h0M769.9 725.9h0M769.1 711.8h0M769.8 657.5h0M771.1 714.0h0M769.6 690.8h0M777.5 752.3h0M770.6 710.5h0M775.3 676.2h0M771.7 700.9h0M775.1 685.2h0M773.2 703.2h0M773.7 689.1h0M770.7 719.2h0M771.2 744.0h0M772.9 704.2h0M766.0 711.4h0M777.0 675.3h0M768.4 710.5h0M774.4 727.1h0M772.7 754.0h0M770.4 702.5h0M768.6 719.6h0M773.6 716.9h0M769.0 706.9h0M773.1 677.1h0M770.4 708.4h0M770.5 713.5h0M771.9 713.9h0M770.7 710.8h0M773.1 710.1h0M764.1 699.6h0M771.0 721.7h0M770.8 701.0h0M769.1 704.2h0M768.9 712.5h0M770.3 695.4h0M777.0 698.1h0M770.9 683.7h0M770.7 692.1h0M772.0 660.1h0M767.7 733.5h0M770.9 710.6h0M773.6 710.3h0M768.2 699.7h0M767.0 694.1h0M766.2 715.0h0M770.9 707.7h0M768.7 681.0h0M768.9 703.6h0M771.5 709.8h0M772.8 685.1h0M770.7 706.1h0M767.0 700.5h0M767.1 703.4h0M773.0 719.6h0M770.5 692.8h0M771.0 695.0h0M771.0 702.2h0M773.1 714.4h0M767.1 719.7h0M769.3 688.4h0M769.6 710.0h0M770.8 685.1h0M773.4 701.6h0M771.3 701.5h0M763.8 733.0h0M771.8 713.7h0M769.4 709.9h0M768.8 690.8h0M768.5 685.7h0M769.8 678.1h0M772.2 737.2h0M770.9 689.7h0M775.3 703.1h0M770.1 725.4h0M770.1 724.5h0M769.9 700.0h0M770.0 672.2h0M768.3 720.1h0M771.2 716.1h0M765.6 706.7h0M771.1 692.0h0M774.4 698.8h0M769.7 692.4h0M771.2 730.7h0M770.4 742.7h0M770.8 733.0h0M774.6 721.6h0M774.2 713.0h0M771.8 705.2h0M771.7 702.4h0M771.7 693.0h0M769.2 736.5h0M767.6 698.2h0M767.9 733.9h0M772.0 681.4h0M769.7 691.8h0M771.8 723.4h0M767.8 701.3h0M771.4 678.5h0M767.2 692.7h0M774.9 679.5h0M768.5 688.6h0M770.7 703.7h0M771.1 703.6h0M771.0 713.2h0M770.9 701.4h0M767.9 687.4h0M772.4 676.9h0M768.2 712.6h0M770.1 710.6h0M776.3 698.1h0M771.3 703.1h0M772.2 707.8h0M769.5 686.9h0M764.9 709.0h0M772.1 713.9h0M767.6 686.7h0M770.5 683.3h0M774.1 687.1h0M768.8 716.5h0M770.6 735.2h0M770.8 725.7h0M772.5 721.2h0M770.7 693.9h0M771.3 729.4h0M771.5 708.2h0M773.7 739.8h0M769.5 717.4h0M772.0 728.4h0M771.7 706.0h0M775.2 738.6h0M778.5 709.6h0M771.0 708.0h0M771.8 725.0h0M774.6 707.8h0M769.3 731.1h0M770.4 660.6h0M774.6 699.9h0M769.6 699.0h0M770.9 712.9h0M771.7 697.7h0M771.1 699.4h0M770.1 690.2h0M773.1 672.5h0M766.9 717.9h0M770.9 679.8h0M768.4 728.9h0M768.6 713.3h0M770.4 685.4h0M773.0 703.5h0M773.7 707.5h0M772.7 670.8h0M770.4 707.5h0M764.5 719.6h0M777.7 719.5h0M764.0 684.5h0M774.1 729.6h0M771.4 696.4h0M801.2 727.8h0M801.9 727.9h0M787.0 742.6h0M796.5 731.7h0M791.5 729.8h0M795.2 732.3h0M799.7 728.0h0M808.9 725.9h0M791.0 732.1h0M808.9 714.8h0M791.5 730.9h0M811.1 723.2h0M792.6 727.4h0M808.4 725.9h0M793.4 719.9h0M809.9 724.3h0M806.5 726.2h0M803.6 732.9h0M807.4 733.2h0M801.7 721.7h0M787.4 735.0h0M780.0 746.1h0M789.0 730.4h0M786.0 741.2h0M784.5 738.7h0M830.9 698.6h0M817.2 695.8h0M826.7 694.3h0M833.9 682.6h0M823.9 685.5h0M819.4 721.1h0M819.5 649.6h0M819.8 672.1h0M818.6 691.6h0M824.8 717.1h0M807.1 652.1h0M825.0 693.4h0M816.2 679.8h0M807.5 706.3h0M826.6 672.7h0M846.6 670.3h0M809.9 701.7h0M822.6 700.0h0M824.8 689.6h0M847.3 697.3h0M825.4 692.4h0M818.6 689.3h0M832.5 675.7h0M840.8 679.6h0M818.3 679.4h0M816.4 677.9h0M815.8 688.0h0M818.3 659.9h0M820.9 708.6h0M828.4 674.9h0M825.8 698.4h0M830.8 704.0h0M832.3 664.5h0M816.8 648.4h0M820.2 677.7h0M835.8 664.7h0M815.8 681.3h0M841.5 668.2h0M823.0 728.4h0M820.3 691.7h0M760.7 743.3h0M804.9 629.3h0M779.6 752.9h0M779.2 711.1h0M858.2 696.1h0M884.6 631.1h0M902.4 715.5h0M819.8 716.9h0M771.4 706.0h0M845.9 647.4h0M818.0 641.9h0M839.1 680.8h0M775.2 668.2h0M795.7 742.4h0M796.5 662.3h0M833.7 716.4h0M774.6 707.3h0M796.5 735.0h0M780.3 612.3h0M768.5 608.1h0M884.4 672.2h0M870.0 687.2h0M866.6 620.8h0M872.7 694.5h0M845.3 679.9h0M866.6 664.5h0M869.0 641.4h0M875.6 666.9h0M859.4 753.6h0M882.1 701.2h0M895.2 689.3h0M875.6 709.4h0M857.4 674.9h0M875.4 669.3h0M850.6 670.1h0M862.2 712.1h0M888.4 684.0h0M886.6 700.7h0M883.6 675.0h0M848.3 705.7h0M869.5 683.5h0M847.4 719.1h0M843.8 693.8h0M866.1 683.2h0M878.0 706.7h0" stroke="#bebebe" stroke-width="3" stroke-linecap="round"/>
<path d="M827.2 714.0h0M827.1 688.5h0M827.0 695.7h0M826.2 686.2h0M824.4 698.5h0M815.9 691.6h0M822.9 703.6h0M824.5 697.3h0M813.5 693.5h0M816.3 694.2h0M829.8 698.2h0M822.2 695.9h0M805.4 698.6h0M828.1 708.1h0M817.2 701.3h0M818.8 699.0h0M824.8 698.6h0M830.0 678.8h0M821.5 683.9h0M828.4 691.9h0M817.7 708.3h0M825.5 688.1h0M822.9 698.2h0M818.5 698.2h0M823.7 713.4h0M813.7 699.7h0M821.9 694.6h0M820.1 705.3h0M836.5 702.7h0M822.3 699.7h0M834.2 704.4h0M813.3 712.7h0M823.9 700.3h0M810.4 706.5h0M821.9 704.3h0M819.7 691.0h0M828.0 692.4h0M821.7 690.6h0M817.7 694.5h0M804.3 699.2h0M823.5 684.7h0M817.0 698.5h0M823.0 693.5h0M829.8 697.8h0M823.6 690.7h0M813.8 706.4h0M824.4 693.5h0M826.6 700.5h0M823.2 689.6h0M810.3 681.6h0M816.7 703.8h0M826.3 690.4h0M818.5 719.9h0M825.4 697.3h0M825.8 692.5h0M817.0 701.3h0M825.1 698.6h0M826.6 705.2h0M820.3 697.7h0M819.7 686.0h0M818.5 686.3h0M823.1 703.5h0M810.4 693.9h0M817.1 701.3h0M821.5 704.7h0M822.0 697.8h0M827.4 694.5h0M825.3 696.7h0M819.3 697.8h0M815.9 707.2h0M811.4 696.0h0M819.3 691.5h0M825.3 694.3h0M817.7 705.6h0M832.5 691.2h0M815.5 682.4h0M817.2 702.0h0M819.2 701.4h0M826.9 716.0h0M827.1 699.2h0M832.1 704.9h0M832.5 683.1h0M825.9 694.2h0M829.8 712.4h0M823.1 700.2h0M825.5 697.6h0M815.8 711.0h0M820.1 698.0h0M818.9 696.7h0M824.8 718.3h0M817.8 704.8h0M810.4 692.4h0M831.7 698.0h0M815.0 686.2h0M816.1 691.4h0M823.9 702.0h0M821.0 705.9h0M819.2 692.3h0M822.9 692.4h0M831.6 698.6h0M823.4 693.3h0M821.7 702.0h0M831.2 688.6h0M834.7 696.0h0M817.7 709.2h0M837.8 691.0h0M817.5 684.5h0M828.9 693.9h0M812.3 709.1h0M825.4 699.0h0M825.0 701.7h0M823.3 718.9h0M824.2 704.9h0M810.0 721.7h0M826.0 730.2h0M808.8 716.4h0M816.6 719.9h0M826.4 695.4h0M832.0 706.3h0M825.8 713.3h0M818.4 718.7h0M826.2 708.5h0M805.9 727.9h0M801.1 727.4h0M800.7 719.0h0M814.0 701.6h0M820.2 710.2h0M828.9 726.8h0M821.8 712.4h0M831.6 699.1h0M821.3 737.1h0M814.8 725.0h0M823.7 705.3h0M805.0 702.2h0M821.6 690.7h0M821.1 715.0h0M812.2 699.7h0M813.6 715.3h0M805.1 719.2h0M810.3 727.8h0M809.9 726.9h0M818.3 710.7h0M823.5 709.7h0M823.6 705.7h0M813.0 704.1h0M817.2 713.9h0M807.6 680.2h0M826.5 715.5h0M821.6 705.3h0M826.9 704.0h0" stroke="#636363" stroke-width="3" stroke-linecap="round"/>
<circle cx="873.3" cy="704.3" r="1.45" fill="none" stroke="#000" stroke-width="0.9"/>
<circle cx="852.6" cy="612.3" r="1.45" fill="none" stroke="#000" stroke-width="0.9"/>
<circle cx="852.8" cy="604.4" r="1.45" fill="none" stroke="#000" stroke-width="0.9"/>
<circle cx="874.1" cy="715.0" r="1.45" fill="none" stroke="#000" stroke-width="0.9"/>
<circle cx="856.2" cy="611.6" r="1.45" fill="none" stroke="#000" stroke-width="0.9"/>
<circle cx="869.6" cy="709.8" r="1.45" fill="none" stroke="#000" stroke-width="0.9"/>
<circle cx="868.5" cy="623.9" r="1.45" fill="none" stroke="#000" stroke-width="0.9"/>
<circle cx="848.0" cy="596.7" r="1.45" fill="none" stroke="#000" stroke-width="0.9"/>
<circle cx="863.4" cy="654.7" r="1.45" fill="none" stroke="#000" stroke-width="0.9"/>
<circle cx="841.1" cy="597.5" r="1.45" fill="none" stroke="#000" stroke-width="0.9"/>
<circle cx="859.7" cy="665.5" r="1.45" fill="none" stroke="#000" stroke-width="0.9"/>
<circle cx="861.7" cy="692.8" r="1.45" fill="none" stroke="#000" stroke-width="0.9"/>
<circle cx="863.6" cy="632.6" r="1.45" fill="none" stroke="#000" stroke-width="0.9"/>
<circle cx="861.4" cy="677.2" r="1.45" fill="none" stroke="#000" stroke-width="0.9"/>
<circle cx="877.1" cy="676.2" r="1.45" fill="none" stroke="#000" stroke-width="0.9"/>
<circle cx="856.2" cy="638.6" r="1.45" fill="none" stroke="#000" stroke-width="0.9"/>
<circle cx="872.2" cy="675.4" r="1.45" fill="none" stroke="#000" stroke-width="0.9"/>
<circle cx="870.0" cy="702.0" r="1.45" fill="none" stroke="#000" stroke-width="0.9"/>
<circle cx="861.6" cy="624.3" r="1.45" fill="none" stroke="#000" stroke-width="0.9"/>
<circle cx="864.3" cy="697.4" r="1.45" fill="none" stroke="#000" stroke-width="0.9"/>
<circle cx="858.7" cy="614.9" r="1.45" fill="none" stroke="#000" stroke-width="0.9"/>
<circle cx="863.4" cy="676.6" r="1.45" fill="none" stroke="#000" stroke-width="0.9"/>
<circle cx="867.0" cy="725.8" r="1.45" fill="none" stroke="#000" stroke-width="0.9"/>
<circle cx="877.9" cy="699.6" r="1.45" fill="none" stroke="#000" stroke-width="0.9"/>
<circle cx="852.0" cy="626.0" r="1.45" fill="none" stroke="#000" stroke-width="0.9"/>
<circle cx="849.7" cy="598.9" r="1.45" fill="none" stroke="#000" stroke-width="0.9"/>
<circle cx="868.0" cy="688.3" r="1.45" fill="none" stroke="#000" stroke-width="0.9"/>
<circle cx="870.0" cy="674.7" r="1.45" fill="none" stroke="#000" stroke-width="0.9"/>
<circle cx="867.5" cy="705.4" r="1.45" fill="none" stroke="#000" stroke-width="0.9"/>
<circle cx="855.8" cy="614.3" r="1.45" fill="none" stroke="#000" stroke-width="0.9"/>
<circle cx="857.3" cy="622.1" r="1.45" fill="none" stroke="#000" stroke-width="0.9"/>
<circle cx="855.7" cy="662.9" r="1.45" fill="none" stroke="#000" stroke-width="0.9"/>
<circle cx="868.7" cy="651.1" r="1.45" fill="none" stroke="#000" stroke-width="0.9"/>
<circle cx="876.4" cy="706.4" r="1.45" fill="none" stroke="#000" stroke-width="0.9"/>
<circle cx="864.7" cy="713.6" r="1.45" fill="none" stroke="#000" stroke-width="0.9"/>
<circle cx="857.6" cy="617.0" r="1.45" fill="none" stroke="#000" stroke-width="0.9"/>
<circle cx="877.8" cy="706.6" r="1.45" fill="none" stroke="#000" stroke-width="0.9"/>
<circle cx="878.2" cy="698.3" r="1.45" fill="none" stroke="#000" stroke-width="0.9"/>
<circle cx="863.4" cy="696.4" r="1.45" fill="none" stroke="#000" stroke-width="0.9"/>
<circle cx="860.9" cy="662.6" r="1.45" fill="none" stroke="#000" stroke-width="0.9"/>
<circle cx="857.1" cy="637.9" r="1.45" fill="none" stroke="#000" stroke-width="0.9"/>
<circle cx="871.4" cy="669.1" r="1.45" fill="none" stroke="#000" stroke-width="0.9"/>
<circle cx="859.6" cy="613.5" r="1.45" fill="none" stroke="#000" stroke-width="0.9"/>
<circle cx="863.9" cy="676.6" r="1.45" fill="none" stroke="#000" stroke-width="0.9"/>
<circle cx="845.1" cy="628.8" r="1.45" fill="none" stroke="#000" stroke-width="0.9"/>
<circle cx="868.1" cy="676.9" r="1.45" fill="none" stroke="#000" stroke-width="0.9"/>
<circle cx="863.8" cy="624.3" r="1.45" fill="none" stroke="#000" stroke-width="0.9"/>
<circle cx="843.6" cy="594.7" r="1.45" fill="none" stroke="#000" stroke-width="0.9"/>
<circle cx="863.1" cy="685.3" r="1.45" fill="none" stroke="#000" stroke-width="0.9"/>
<circle cx="850.7" cy="615.1" r="1.45" fill="none" stroke="#000" stroke-width="0.9"/>
<circle cx="862.7" cy="664.3" r="1.45" fill="none" stroke="#000" stroke-width="0.9"/>
<circle cx="856.1" cy="599.4" r="1.45" fill="none" stroke="#000" stroke-width="0.9"/>
<circle cx="842.4" cy="592.2" r="1.45" fill="none" stroke="#000" stroke-width="0.9"/>
<circle cx="854.5" cy="662.6" r="1.45" fill="none" stroke="#000" stroke-width="0.9"/>
<circle cx="873.2" cy="682.4" r="1.45" fill="none" stroke="#000" stroke-width="0.9"/>
<circle cx="861.4" cy="694.8" r="1.45" fill="none" stroke="#000" stroke-width="0.9"/>
<circle cx="860.7" cy="617.4" r="1.45" fill="none" stroke="#000" stroke-width="0.9"/>
<circle cx="859.2" cy="661.9" r="1.45" fill="none" stroke="#000" stroke-width="0.9"/>
<circle cx="863.5" cy="680.4" r="1.45" fill="none" stroke="#000" stroke-width="0.9"/>
<circle cx="878.5" cy="722.1" r="1.45" fill="none" stroke="#000" stroke-width="0.9"/>
<circle cx="872.5" cy="661.2" r="1.45" fill="none" stroke="#000" stroke-width="0.9"/>
<circle cx="876.7" cy="720.4" r="1.45" fill="none" stroke="#000" stroke-width="0.9"/>
<circle cx="847.0" cy="618.4" r="1.45" fill="none" stroke="#000" stroke-width="0.9"/>
<circle cx="850.8" cy="629.5" r="1.45" fill="none" stroke="#000" stroke-width="0.9"/>
<circle cx="861.3" cy="685.5" r="1.45" fill="none" stroke="#000" stroke-width="0.9"/>
<circle cx="862.8" cy="656.8" r="1.45" fill="none" stroke="#000" stroke-width="0.9"/>
<circle cx="869.2" cy="700.3" r="1.45" fill="none" stroke="#000" stroke-width="0.9"/>
<circle cx="844.5" cy="590.9" r="1.45" fill="none" stroke="#000" stroke-width="0.9"/>
<circle cx="874.5" cy="698.8" r="1.45" fill="none" stroke="#000" stroke-width="0.9"/>
<circle cx="878.8" cy="716.3" r="1.45" fill="none" stroke="#000" stroke-width="0.9"/>
<circle cx="873.5" cy="709.2" r="1.45" fill="none" stroke="#000" stroke-width="0.9"/>
<circle cx="857.2" cy="604.0" r="1.45" fill="none" stroke="#000" stroke-width="0.9"/>
<circle cx="852.4" cy="608.8" r="1.45" fill="none" stroke="#000" stroke-width="0.9"/>
<circle cx="849.1" cy="603.9" r="1.45" fill="none" stroke="#000" stroke-width="0.9"/>
<circle cx="865.3" cy="685.5" r="1.45" fill="none" stroke="#000" stroke-width="0.9"/>
<circle cx="876.1" cy="717.3" r="1.45" fill="none" stroke="#000" stroke-width="0.9"/>
<circle cx="848.7" cy="612.5" r="1.45" fill="none" stroke="#000" stroke-width="0.9"/>
<circle cx="865.4" cy="719.5" r="1.45" fill="none" stroke="#000" stroke-width="0.9"/>
<circle cx="855.1" cy="652.9" r="1.45" fill="none" stroke="#000" stroke-width="0.9"/>
<circle cx="856.3" cy="672.1" r="1.45" fill="none" stroke="#000" stroke-width="0.9"/>
<circle cx="850.7" cy="632.7" r="1.45" fill="none" stroke="#000" stroke-width="0.9"/>
<circle cx="870.5" cy="694.8" r="1.45" fill="none" stroke="#000" stroke-width="0.9"/>
<circle cx="874.4" cy="686.1" r="1.45" fill="none" stroke="#000" stroke-width="0.9"/>
<circle cx="876.6" cy="684.1" r="1.45" fill="none" stroke="#000" stroke-width="0.9"/>
<circle cx="864.2" cy="664.8" r="1.45" fill="none" stroke="#000" stroke-width="0.9"/>
<circle cx="852.8" cy="621.6" r="1.45" fill="none" stroke="#000" stroke-width="0.9"/>
<circle cx="869.6" cy="713.9" r="1.45" fill="none" stroke="#000" stroke-width="0.9"/>
<circle cx="868.4" cy="685.1" r="1.45" fill="none" stroke="#000" stroke-width="0.9"/>
<circle cx="859.1" cy="626.0" r="1.45" fill="none" stroke="#000" stroke-width="0.9"/>
<circle cx="869.5" cy="709.9" r="1.45" fill="none" stroke="#000" stroke-width="0.9"/>
<circle cx="849.9" cy="612.4" r="1.45" fill="none" stroke="#000" stroke-width="0.9"/>
<circle cx="854.3" cy="610.9" r="1.45" fill="none" stroke="#000" stroke-width="0.9"/>
<circle cx="858.7" cy="653.4" r="1.45" fill="none" stroke="#000" stroke-width="0.9"/>
<circle cx="876.4" cy="701.1" r="1.45" fill="none" stroke="#000" stroke-width="0.9"/>
<circle cx="860.8" cy="649.1" r="1.45" fill="none" stroke="#000" stroke-width="0.9"/>
<circle cx="868.1" cy="706.9" r="1.45" fill="none" stroke="#000" stroke-width="0.9"/>
<circle cx="855.6" cy="646.9" r="1.45" fill="none" stroke="#000" stroke-width="0.9"/>
<circle cx="867.7" cy="706.7" r="1.45" fill="none" stroke="#000" stroke-width="0.9"/>
<circle cx="861.8" cy="662.0" r="1.45" fill="none" stroke="#000" stroke-width="0.9"/>
<circle cx="873.1" cy="693.1" r="1.45" fill="none" stroke="#000" stroke-width="0.9"/>
<circle cx="856.8" cy="667.4" r="1.45" fill="none" stroke="#000" stroke-width="0.9"/>
<circle cx="857.7" cy="668.0" r="1.45" fill="none" stroke="#000" stroke-width="0.9"/>
<circle cx="841.2" cy="604.2" r="1.45" fill="none" stroke="#000" stroke-width="0.9"/>
<circle cx="870.5" cy="727.5" r="1.45" fill="none" stroke="#000" stroke-width="0.9"/>
<circle cx="873.0" cy="683.8" r="1.45" fill="none" stroke="#000" stroke-width="0.9"/>
<circle cx="862.1" cy="672.6" r="1.45" fill="none" stroke="#000" stroke-width="0.9"/>
<circle cx="860.7" cy="715.0" r="1.45" fill="none" stroke="#000" stroke-width="0.9"/>
<circle cx="878.0" cy="695.6" r="1.45" fill="none" stroke="#000" stroke-width="0.9"/>
<circle cx="859.3" cy="701.4" r="1.45" fill="none" stroke="#000" stroke-width="0.9"/>
<circle cx="853.9" cy="615.8" r="1.45" fill="none" stroke="#000" stroke-width="0.9"/>
<circle cx="865.2" cy="657.9" r="1.45" fill="none" stroke="#000" stroke-width="0.9"/>
<circle cx="844.3" cy="595.5" r="1.45" fill="none" stroke="#000" stroke-width="0.9"/>
<circle cx="868.7" cy="682.5" r="1.45" fill="none" stroke="#000" stroke-width="0.9"/>
<circle cx="845.5" cy="617.9" r="1.45" fill="none" stroke="#000" stroke-width="0.9"/>
<circle cx="854.9" cy="594.2" r="1.45" fill="none" stroke="#000" stroke-width="0.9"/>
<circle cx="848.3" cy="645.8" r="1.45" fill="none" stroke="#000" stroke-width="0.9"/>
<circle cx="877.7" cy="697.1" r="1.45" fill="none" stroke="#000" stroke-width="0.9"/>
<circle cx="847.3" cy="596.4" r="1.45" fill="none" stroke="#000" stroke-width="0.9"/>
<circle cx="872.4" cy="711.8" r="1.45" fill="none" stroke="#000" stroke-width="0.9"/>
<circle cx="851.9" cy="646.3" r="1.45" fill="none" stroke="#000" stroke-width="0.9"/>
<circle cx="852.9" cy="673.5" r="1.45" fill="none" stroke="#000" stroke-width="0.9"/>
<circle cx="866.9" cy="653.9" r="1.45" fill="none" stroke="#000" stroke-width="0.9"/>
<circle cx="844.2" cy="597.5" r="1.45" fill="none" stroke="#000" stroke-width="0.9"/>
<circle cx="874.7" cy="680.7" r="1.45" fill="none" stroke="#000" stroke-width="0.9"/>
<circle cx="880.8" cy="726.2" r="1.45" fill="none" stroke="#000" stroke-width="0.9"/>
<circle cx="858.3" cy="599.4" r="1.45" fill="none" stroke="#000" stroke-width="0.9"/>
<circle cx="859.3" cy="651.3" r="1.45" fill="none" stroke="#000" stroke-width="0.9"/>
<circle cx="852.9" cy="613.8" r="1.45" fill="none" stroke="#000" stroke-width="0.9"/>
<circle cx="843.6" cy="604.0" r="1.45" fill="none" stroke="#000" stroke-width="0.9"/>
<circle cx="858.0" cy="616.3" r="1.45" fill="none" stroke="#000" stroke-width="0.9"/>
<circle cx="842.5" cy="611.7" r="1.45" fill="none" stroke="#000" stroke-width="0.9"/>
<circle cx="860.7" cy="646.1" r="1.45" fill="none" stroke="#000" stroke-width="0.9"/>
<circle cx="861.4" cy="646.9" r="1.45" fill="none" stroke="#000" stroke-width="0.9"/>
<circle cx="855.3" cy="654.9" r="1.45" fill="none" stroke="#000" stroke-width="0.9"/>
<circle cx="862.2" cy="649.9" r="1.45" fill="none" stroke="#000" stroke-width="0.9"/>
<circle cx="875.9" cy="711.9" r="1.45" fill="none" stroke="#000" stroke-width="0.9"/>
<circle cx="853.3" cy="625.9" r="1.45" fill="none" stroke="#000" stroke-width="0.9"/>
<circle cx="873.2" cy="710.0" r="1.45" fill="none" stroke="#000" stroke-width="0.9"/>
<circle cx="877.0" cy="712.8" r="1.45" fill="none" stroke="#000" stroke-width="0.9"/>
<circle cx="862.4" cy="625.8" r="1.45" fill="none" stroke="#000" stroke-width="0.9"/>
<circle cx="849.3" cy="597.3" r="1.45" fill="none" stroke="#000" stroke-width="0.9"/>
<circle cx="865.1" cy="712.9" r="1.45" fill="none" stroke="#000" stroke-width="0.9"/>
<circle cx="849.8" cy="632.4" r="1.45" fill="none" stroke="#000" stroke-width="0.9"/>
<circle cx="872.2" cy="693.2" r="1.45" fill="none" stroke="#000" stroke-width="0.9"/>
<circle cx="847.2" cy="607.5" r="1.45" fill="none" stroke="#000" stroke-width="0.9"/>
<circle cx="851.3" cy="596.1" r="1.45" fill="none" stroke="#000" stroke-width="0.9"/>
<circle cx="856.4" cy="593.7" r="1.45" fill="none" stroke="#000" stroke-width="0.9"/>
<circle cx="855.6" cy="653.1" r="1.45" fill="none" stroke="#000" stroke-width="0.9"/>
<circle cx="862.7" cy="714.1" r="1.45" fill="none" stroke="#000" stroke-width="0.9"/>
<circle cx="873.8" cy="713.0" r="1.45" fill="none" stroke="#000" stroke-width="0.9"/>
<circle cx="852.1" cy="619.4" r="1.45" fill="none" stroke="#000" stroke-width="0.9"/>
<circle cx="857.1" cy="632.7" r="1.45" fill="none" stroke="#000" stroke-width="0.9"/>
<circle cx="845.8" cy="605.0" r="1.45" fill="none" stroke="#000" stroke-width="0.9"/>
<circle cx="861.6" cy="629.2" r="1.45" fill="none" stroke="#000" stroke-width="0.9"/>
<circle cx="841.4" cy="595.1" r="1.45" fill="none" stroke="#000" stroke-width="0.9"/>
<circle cx="862.8" cy="696.1" r="1.45" fill="none" stroke="#000" stroke-width="0.9"/>
<circle cx="869.4" cy="668.2" r="1.45" fill="none" stroke="#000" stroke-width="0.9"/>
<circle cx="859.9" cy="649.4" r="1.45" fill="none" stroke="#000" stroke-width="0.9"/>
<circle cx="858.0" cy="659.5" r="1.45" fill="none" stroke="#000" stroke-width="0.9"/>
<circle cx="855.0" cy="638.5" r="1.45" fill="none" stroke="#000" stroke-width="0.9"/>
<circle cx="851.3" cy="613.7" r="1.45" fill="none" stroke="#000" stroke-width="0.9"/>
<circle cx="858.5" cy="667.8" r="1.45" fill="none" stroke="#000" stroke-width="0.9"/>
<circle cx="870.3" cy="681.8" r="1.45" fill="none" stroke="#000" stroke-width="0.9"/>
<circle cx="873.2" cy="720.8" r="1.45" fill="none" stroke="#000" stroke-width="0.9"/>
<circle cx="867.1" cy="675.0" r="1.45" fill="none" stroke="#000" stroke-width="0.9"/>
<circle cx="859.6" cy="615.1" r="1.45" fill="none" stroke="#000" stroke-width="0.9"/>
<circle cx="860.6" cy="601.7" r="1.45" fill="none" stroke="#000" stroke-width="0.9"/>
<circle cx="857.4" cy="658.3" r="1.45" fill="none" stroke="#000" stroke-width="0.9"/>
<circle cx="853.0" cy="592.8" r="1.45" fill="none" stroke="#000" stroke-width="0.9"/>
<circle cx="862.7" cy="681.6" r="1.45" fill="none" stroke="#000" stroke-width="0.9"/>
<circle cx="860.6" cy="698.6" r="1.45" fill="none" stroke="#000" stroke-width="0.9"/>
<circle cx="856.4" cy="645.6" r="1.45" fill="none" stroke="#000" stroke-width="0.9"/>
<circle cx="863.9" cy="646.4" r="1.45" fill="none" stroke="#000" stroke-width="0.9"/>
<circle cx="857.9" cy="649.1" r="1.45" fill="none" stroke="#000" stroke-width="0.9"/>
<circle cx="850.4" cy="618.7" r="1.45" fill="none" stroke="#000" stroke-width="0.9"/>
<circle cx="846.6" cy="614.4" r="1.45" fill="none" stroke="#000" stroke-width="0.9"/>
<circle cx="874.7" cy="708.9" r="1.45" fill="none" stroke="#000" stroke-width="0.9"/>
<circle cx="857.8" cy="665.4" r="1.45" fill="none" stroke="#000" stroke-width="0.9"/>
<circle cx="849.1" cy="605.3" r="1.45" fill="none" stroke="#000" stroke-width="0.9"/>
<circle cx="877.3" cy="692.2" r="1.45" fill="none" stroke="#000" stroke-width="0.9"/>
<circle cx="871.1" cy="699.8" r="1.45" fill="none" stroke="#000" stroke-width="0.9"/>
<circle cx="866.9" cy="672.9" r="1.45" fill="none" stroke="#000" stroke-width="0.9"/>
<circle cx="868.3" cy="672.7" r="1.45" fill="none" stroke="#000" stroke-width="0.9"/>
<circle cx="860.0" cy="670.4" r="1.45" fill="none" stroke="#000" stroke-width="0.9"/>
<circle cx="861.0" cy="648.1" r="1.45" fill="none" stroke="#000" stroke-width="0.9"/>
<circle cx="863.5" cy="673.8" r="1.45" fill="none" stroke="#000" stroke-width="0.9"/>
<circle cx="860.0" cy="649.4" r="1.45" fill="none" stroke="#000" stroke-width="0.9"/>
<circle cx="873.5" cy="728.3" r="1.45" fill="none" stroke="#000" stroke-width="0.9"/>
<circle cx="844.9" cy="620.9" r="1.45" fill="none" stroke="#000" stroke-width="0.9"/>
<circle cx="873.7" cy="651.5" r="1.45" fill="none" stroke="#000" stroke-width="0.9"/>
<circle cx="849.6" cy="601.2" r="1.45" fill="none" stroke="#000" stroke-width="0.9"/>
<circle cx="879.2" cy="720.0" r="1.45" fill="none" stroke="#000" stroke-width="0.9"/>
<circle cx="848.3" cy="593.1" r="1.45" fill="none" stroke="#000" stroke-width="0.9"/>
<circle cx="860.2" cy="687.0" r="1.45" fill="none" stroke="#000" stroke-width="0.9"/>
<circle cx="873.7" cy="672.8" r="1.45" fill="none" stroke="#000" stroke-width="0.9"/>
<circle cx="847.5" cy="603.5" r="1.45" fill="none" stroke="#000" stroke-width="0.9"/>
<circle cx="859.9" cy="632.3" r="1.45" fill="none" stroke="#000" stroke-width="0.9"/>
<circle cx="870.4" cy="676.9" r="1.45" fill="none" stroke="#000" stroke-width="0.9"/>
<circle cx="859.4" cy="678.3" r="1.45" fill="none" stroke="#000" stroke-width="0.9"/>
<circle cx="873.3" cy="710.7" r="1.45" fill="none" stroke="#000" stroke-width="0.9"/>
<circle cx="865.3" cy="670.6" r="1.45" fill="none" stroke="#000" stroke-width="0.9"/>
<circle cx="865.8" cy="655.0" r="1.45" fill="none" stroke="#000" stroke-width="0.9"/>
<circle cx="852.8" cy="626.8" r="1.45" fill="none" stroke="#000" stroke-width="0.9"/>
<circle cx="866.4" cy="664.4" r="1.45" fill="none" stroke="#000" stroke-width="0.9"/>
<circle cx="859.6" cy="622.1" r="1.45" fill="none" stroke="#000" stroke-width="0.9"/>
<circle cx="874.2" cy="696.0" r="1.45" fill="none" stroke="#000" stroke-width="0.9"/>
<circle cx="868.7" cy="712.7" r="1.45" fill="none" stroke="#000" stroke-width="0.9"/>
<circle cx="866.7" cy="678.3" r="1.45" fill="none" stroke="#000" stroke-width="0.9"/>
<circle cx="861.7" cy="670.9" r="1.45" fill="none" stroke="#000" stroke-width="0.9"/>
<circle cx="863.1" cy="625.2" r="1.45" fill="none" stroke="#000" stroke-width="0.9"/>
<circle cx="855.9" cy="638.3" r="1.45" fill="none" stroke="#000" stroke-width="0.9"/>
<circle cx="843.5" cy="604.9" r="1.45" fill="none" stroke="#000" stroke-width="0.9"/>
<circle cx="856.0" cy="644.5" r="1.45" fill="none" stroke="#000" stroke-width="0.9"/>
<circle cx="865.8" cy="635.8" r="1.45" fill="none" stroke="#000" stroke-width="0.9"/>
<circle cx="867.4" cy="670.6" r="1.45" fill="none" stroke="#000" stroke-width="0.9"/>
<circle cx="874.8" cy="689.3" r="1.45" fill="none" stroke="#000" stroke-width="0.9"/>
<circle cx="856.1" cy="610.9" r="1.45" fill="none" stroke="#000" stroke-width="0.9"/>
<circle cx="852.5" cy="627.0" r="1.45" fill="none" stroke="#000" stroke-width="0.9"/>
<circle cx="845.0" cy="602.8" r="1.45" fill="none" stroke="#000" stroke-width="0.9"/>
<circle cx="848.8" cy="605.5" r="1.45" fill="none" stroke="#000" stroke-width="0.9"/>
<circle cx="855.9" cy="633.2" r="1.45" fill="none" stroke="#000" stroke-width="0.9"/>
<circle cx="860.4" cy="640.3" r="1.45" fill="none" stroke="#000" stroke-width="0.9"/>
<circle cx="870.8" cy="693.0" r="1.45" fill="none" stroke="#000" stroke-width="0.9"/>
<circle cx="843.5" cy="618.9" r="1.45" fill="none" stroke="#000" stroke-width="0.9"/>
<circle cx="848.0" cy="599.0" r="1.45" fill="none" stroke="#000" stroke-width="0.9"/>
<circle cx="846.0" cy="612.2" r="1.45" fill="none" stroke="#000" stroke-width="0.9"/>
<circle cx="878.6" cy="712.7" r="1.45" fill="none" stroke="#000" stroke-width="0.9"/>
<circle cx="867.0" cy="643.7" r="1.45" fill="none" stroke="#000" stroke-width="0.9"/>
<circle cx="862.1" cy="619.8" r="1.45" fill="none" stroke="#000" stroke-width="0.9"/>
<circle cx="848.8" cy="615.9" r="1.45" fill="none" stroke="#000" stroke-width="0.9"/>
<circle cx="867.4" cy="667.9" r="1.45" fill="none" stroke="#000" stroke-width="0.9"/>
<circle cx="860.4" cy="639.8" r="1.45" fill="none" stroke="#000" stroke-width="0.9"/>
<circle cx="883.1" cy="727.0" r="1.45" fill="none" stroke="#000" stroke-width="0.9"/>
<circle cx="887.0" cy="672.9" r="1.45" fill="none" stroke="#000" stroke-width="0.9"/>
<circle cx="843.2" cy="611.9" r="1.45" fill="none" stroke="#000" stroke-width="0.9"/>
<circle cx="857.6" cy="619.8" r="1.45" fill="none" stroke="#000" stroke-width="0.9"/>
<circle cx="874.7" cy="708.6" r="1.45" fill="none" stroke="#000" stroke-width="0.9"/>
<circle cx="851.8" cy="650.5" r="1.45" fill="none" stroke="#000" stroke-width="0.9"/>
<circle cx="872.0" cy="703.3" r="1.45" fill="none" stroke="#000" stroke-width="0.9"/>
<circle cx="858.3" cy="613.8" r="1.45" fill="none" stroke="#000" stroke-width="0.9"/>
<circle cx="866.4" cy="699.6" r="1.45" fill="none" stroke="#000" stroke-width="0.9"/>
<circle cx="854.2" cy="603.5" r="1.45" fill="none" stroke="#000" stroke-width="0.9"/>
<circle cx="835.8" cy="593.6" r="1.45" fill="none" stroke="#000" stroke-width="0.9"/>
<circle cx="832.6" cy="597.1" r="1.45" fill="none" stroke="#000" stroke-width="0.9"/>
<circle cx="856.8" cy="703.2" r="1.45" fill="none" stroke="#000" stroke-width="0.9"/>
<circle cx="862.7" cy="603.1" r="1.45" fill="none" stroke="#000" stroke-width="0.9"/>
<circle cx="859.5" cy="644.5" r="1.45" fill="none" stroke="#000" stroke-width="0.9"/>
<circle cx="853.4" cy="669.5" r="1.45" fill="none" stroke="#000" stroke-width="0.9"/>
<circle cx="868.7" cy="691.0" r="1.45" fill="none" stroke="#000" stroke-width="0.9"/>
<circle cx="851.2" cy="605.3" r="1.45" fill="none" stroke="#000" stroke-width="0.9"/>
<circle cx="890.3" cy="667.4" r="1.45" fill="none" stroke="#000" stroke-width="0.9"/>
<circle cx="873.2" cy="645.7" r="1.45" fill="none" stroke="#000" stroke-width="0.9"/>
<circle cx="852.4" cy="676.2" r="1.45" fill="none" stroke="#000" stroke-width="0.9"/>
<circle cx="860.9" cy="672.6" r="1.45" fill="none" stroke="#000" stroke-width="0.9"/>
<circle cx="862.7" cy="627.2" r="1.45" fill="none" stroke="#000" stroke-width="0.9"/>
<circle cx="853.5" cy="679.2" r="1.45" fill="none" stroke="#000" stroke-width="0.9"/>
<circle cx="846.8" cy="625.4" r="1.45" fill="none" stroke="#000" stroke-width="0.9"/>
<circle cx="866.0" cy="655.0" r="1.45" fill="none" stroke="#000" stroke-width="0.9"/>
<circle cx="881.3" cy="654.3" r="1.45" fill="none" stroke="#000" stroke-width="0.9"/>
<circle cx="859.3" cy="724.9" r="1.45" fill="none" stroke="#000" stroke-width="0.9"/>
<circle cx="858.0" cy="640.4" r="1.45" fill="none" stroke="#000" stroke-width="0.9"/>
<circle cx="866.4" cy="670.3" r="1.45" fill="none" stroke="#000" stroke-width="0.9"/>
<circle cx="834.0" cy="617.3" r="1.45" fill="none" stroke="#000" stroke-width="0.9"/>
<circle cx="851.0" cy="598.9" r="1.45" fill="none" stroke="#000" stroke-width="0.9"/>
<circle cx="847.9" cy="599.0" r="1.45" fill="none" stroke="#000" stroke-width="0.9"/>
<circle cx="857.1" cy="684.2" r="1.45" fill="none" stroke="#000" stroke-width="0.9"/>
<circle cx="858.0" cy="677.9" r="1.45" fill="none" stroke="#000" stroke-width="0.9"/>
<circle cx="843.0" cy="644.2" r="1.45" fill="none" stroke="#000" stroke-width="0.9"/>
<circle cx="845.4" cy="607.0" r="1.45" fill="none" stroke="#000" stroke-width="0.9"/>
<circle cx="877.8" cy="650.2" r="1.45" fill="none" stroke="#000" stroke-width="0.9"/>
<circle cx="892.1" cy="717.0" r="1.45" fill="none" stroke="#000" stroke-width="0.9"/>
<circle cx="844.7" cy="603.9" r="1.45" fill="none" stroke="#000" stroke-width="0.9"/>
<circle cx="878.3" cy="720.6" r="1.45" fill="none" stroke="#000" stroke-width="0.9"/>
<circle cx="875.3" cy="650.7" r="1.45" fill="none" stroke="#000" stroke-width="0.9"/>
<circle cx="883.2" cy="723.8" r="1.45" fill="none" stroke="#000" stroke-width="0.9"/>
<circle cx="857.7" cy="655.6" r="1.45" fill="none" stroke="#000" stroke-width="0.9"/>
<circle cx="861.0" cy="628.8" r="1.45" fill="none" stroke="#000" stroke-width="0.9"/>
<circle cx="867.9" cy="600.1" r="1.45" fill="none" stroke="#000" stroke-width="0.9"/>
<circle cx="882.0" cy="691.8" r="1.45" fill="none" stroke="#000" stroke-width="0.9"/>
<circle cx="853.9" cy="593.5" r="1.45" fill="none" stroke="#000" stroke-width="0.9"/>
<circle cx="870.3" cy="728.8" r="1.45" fill="none" stroke="#000" stroke-width="0.9"/>
<circle cx="881.1" cy="700.5" r="1.45" fill="none" stroke="#000" stroke-width="0.9"/>
<circle cx="867.0" cy="692.2" r="1.45" fill="none" stroke="#000" stroke-width="0.9"/>
<circle cx="872.1" cy="723.5" r="1.45" fill="none" stroke="#000" stroke-width="0.9"/>
<circle cx="884.5" cy="637.2" r="1.45" fill="none" stroke="#000" stroke-width="0.9"/>
<circle cx="871.2" cy="721.8" r="1.45" fill="none" stroke="#000" stroke-width="0.9"/>
<circle cx="867.5" cy="597.4" r="1.45" fill="none" stroke="#000" stroke-width="0.9"/>
<circle cx="858.3" cy="698.8" r="1.45" fill="none" stroke="#000" stroke-width="0.9"/>
<circle cx="863.0" cy="607.0" r="1.45" fill="none" stroke="#000" stroke-width="0.9"/>
<circle cx="855.2" cy="645.0" r="1.45" fill="none" stroke="#000" stroke-width="0.9"/>
<circle cx="854.5" cy="619.4" r="1.45" fill="none" stroke="#000" stroke-width="0.9"/>
<circle cx="863.8" cy="655.1" r="1.45" fill="none" stroke="#000" stroke-width="0.9"/>
<circle cx="875.6" cy="676.3" r="1.45" fill="none" stroke="#000" stroke-width="0.9"/>
<circle cx="846.0" cy="614.6" r="1.45" fill="none" stroke="#000" stroke-width="0.9"/>
<circle cx="861.2" cy="659.8" r="1.45" fill="none" stroke="#000" stroke-width="0.9"/>
<circle cx="851.1" cy="613.4" r="1.45" fill="none" stroke="#000" stroke-width="0.9"/>
<circle cx="865.4" cy="690.7" r="1.45" fill="none" stroke="#000" stroke-width="0.9"/>
<circle cx="865.3" cy="625.8" r="1.45" fill="none" stroke="#000" stroke-width="0.9"/>
<circle cx="859.1" cy="650.7" r="1.45" fill="none" stroke="#000" stroke-width="0.9"/>
<circle cx="854.1" cy="617.5" r="1.45" fill="none" stroke="#000" stroke-width="0.9"/>
<circle cx="873.0" cy="669.9" r="1.45" fill="none" stroke="#000" stroke-width="0.9"/>
<circle cx="853.2" cy="610.6" r="1.45" fill="none" stroke="#000" stroke-width="0.9"/>
<circle cx="853.7" cy="598.8" r="1.45" fill="none" stroke="#000" stroke-width="0.9"/>
<circle cx="835.9" cy="594.4" r="1.45" fill="none" stroke="#000" stroke-width="0.9"/>
<circle cx="868.1" cy="655.9" r="1.45" fill="none" stroke="#000" stroke-width="0.9"/>
<circle cx="846.8" cy="647.1" r="1.45" fill="none" stroke="#000" stroke-width="0.9"/>
<circle cx="845.3" cy="594.7" r="1.45" fill="none" stroke="#000" stroke-width="0.9"/>
<circle cx="864.4" cy="645.3" r="1.45" fill="none" stroke="#000" stroke-width="0.9"/>
<circle cx="848.4" cy="595.3" r="1.45" fill="none" stroke="#000" stroke-width="0.9"/>
<circle cx="861.7" cy="711.8" r="1.45" fill="none" stroke="#000" stroke-width="0.9"/>
<circle cx="859.4" cy="653.8" r="1.45" fill="none" stroke="#000" stroke-width="0.9"/>
<circle cx="871.9" cy="660.8" r="1.45" fill="none" stroke="#000" stroke-width="0.9"/>
<circle cx="865.2" cy="686.4" r="1.45" fill="none" stroke="#000" stroke-width="0.9"/>
<circle cx="864.2" cy="646.3" r="1.45" fill="none" stroke="#000" stroke-width="0.9"/>
<circle cx="862.1" cy="635.6" r="1.45" fill="none" stroke="#000" stroke-width="0.9"/>
<circle cx="867.2" cy="623.1" r="1.45" fill="none" stroke="#000" stroke-width="0.9"/>
<circle cx="892.2" cy="729.4" r="1.45" fill="none" stroke="#000" stroke-width="0.9"/>
<circle cx="868.2" cy="635.1" r="1.45" fill="none" stroke="#000" stroke-width="0.9"/>
<circle cx="829.4" cy="607.6" r="1.45" fill="none" stroke="#000" stroke-width="0.9"/>
<circle cx="843.3" cy="655.3" r="1.45" fill="none" stroke="#000" stroke-width="0.9"/>
<circle cx="839.7" cy="614.7" r="1.45" fill="none" stroke="#000" stroke-width="0.9"/>
<circle cx="886.6" cy="628.0" r="1.45" fill="none" stroke="#000" stroke-width="0.9"/>
<circle cx="856.2" cy="660.5" r="1.45" fill="none" stroke="#000" stroke-width="0.9"/>
<circle cx="869.3" cy="710.0" r="1.45" fill="none" stroke="#000" stroke-width="0.9"/>
<circle cx="878.0" cy="703.5" r="1.45" fill="none" stroke="#000" stroke-width="0.9"/>
<circle cx="855.7" cy="634.9" r="1.45" fill="none" stroke="#000" stroke-width="0.9"/>
<circle cx="882.3" cy="701.4" r="1.45" fill="none" stroke="#000" stroke-width="0.9"/>
<circle cx="838.7" cy="594.6" r="1.45" fill="none" stroke="#000" stroke-width="0.9"/>
<circle cx="864.5" cy="666.2" r="1.45" fill="none" stroke="#000" stroke-width="0.9"/>
<circle cx="837.3" cy="607.0" r="1.45" fill="none" stroke="#000" stroke-width="0.9"/>
<circle cx="851.9" cy="620.7" r="1.45" fill="none" stroke="#000" stroke-width="0.9"/>
<circle cx="869.8" cy="648.4" r="1.45" fill="none" stroke="#000" stroke-width="0.9"/>
<circle cx="875.6" cy="663.4" r="1.45" fill="none" stroke="#000" stroke-width="0.9"/>
<circle cx="885.6" cy="691.6" r="1.45" fill="none" stroke="#000" stroke-width="0.9"/>
<circle cx="857.2" cy="627.3" r="1.45" fill="none" stroke="#000" stroke-width="0.9"/>
<circle cx="865.3" cy="674.5" r="1.45" fill="none" stroke="#000" stroke-width="0.9"/>
<circle cx="882.0" cy="698.2" r="1.45" fill="none" stroke="#000" stroke-width="0.9"/>
<circle cx="857.0" cy="610.1" r="1.45" fill="none" stroke="#000" stroke-width="0.9"/>
<circle cx="892.6" cy="711.5" r="1.45" fill="none" stroke="#000" stroke-width="0.9"/>
<circle cx="871.6" cy="649.3" r="1.45" fill="none" stroke="#000" stroke-width="0.9"/>
<circle cx="855.9" cy="643.8" r="1.45" fill="none" stroke="#000" stroke-width="0.9"/>
<circle cx="861.3" cy="598.0" r="1.45" fill="none" stroke="#000" stroke-width="0.9"/>
<circle cx="876.8" cy="649.3" r="1.45" fill="none" stroke="#000" stroke-width="0.9"/>
<circle cx="865.5" cy="611.9" r="1.45" fill="none" stroke="#000" stroke-width="0.9"/>
<circle cx="869.4" cy="667.0" r="1.45" fill="none" stroke="#000" stroke-width="0.9"/>
<circle cx="863.2" cy="703.9" r="1.45" fill="none" stroke="#000" stroke-width="0.9"/>
<circle cx="843.2" cy="628.2" r="1.45" fill="none" stroke="#000" stroke-width="0.9"/>
<circle cx="839.7" cy="625.7" r="1.45" fill="none" stroke="#000" stroke-width="0.9"/>
<circle cx="849.0" cy="618.9" r="1.45" fill="none" stroke="#000" stroke-width="0.9"/>
<circle cx="858.9" cy="620.6" r="1.45" fill="none" stroke="#000" stroke-width="0.9"/>
<circle cx="857.1" cy="630.8" r="1.45" fill="none" stroke="#000" stroke-width="0.9"/>
<circle cx="868.9" cy="682.3" r="1.45" fill="none" stroke="#000" stroke-width="0.9"/>
<circle cx="850.1" cy="651.4" r="1.45" fill="none" stroke="#000" stroke-width="0.9"/>
<circle cx="861.6" cy="700.7" r="1.45" fill="none" stroke="#000" stroke-width="0.9"/>
<circle cx="844.4" cy="611.9" r="1.45" fill="none" stroke="#000" stroke-width="0.9"/>
<circle cx="862.9" cy="632.9" r="1.45" fill="none" stroke="#000" stroke-width="0.9"/>
<circle cx="875.1" cy="638.0" r="1.45" fill="none" stroke="#000" stroke-width="0.9"/>
<circle cx="849.5" cy="599.2" r="1.45" fill="none" stroke="#000" stroke-width="0.9"/>
<circle cx="857.8" cy="637.7" r="1.45" fill="none" stroke="#000" stroke-width="0.9"/>
<circle cx="864.1" cy="698.0" r="1.45" fill="none" stroke="#000" stroke-width="0.9"/>
<circle cx="874.0" cy="687.9" r="1.45" fill="none" stroke="#000" stroke-width="0.9"/>
<circle cx="874.8" cy="688.3" r="1.45" fill="none" stroke="#000" stroke-width="0.9"/>
<circle cx="847.9" cy="662.0" r="1.45" fill="none" stroke="#000" stroke-width="0.9"/>
<circle cx="878.0" cy="663.3" r="1.45" fill="none" stroke="#000" stroke-width="0.9"/>
<circle cx="866.4" cy="688.0" r="1.45" fill="none" stroke="#000" stroke-width="0.9"/>
<circle cx="875.1" cy="712.0" r="1.45" fill="none" stroke="#000" stroke-width="0.9"/>
<circle cx="860.8" cy="679.3" r="1.45" fill="none" stroke="#000" stroke-width="0.9"/>
<circle cx="855.9" cy="622.4" r="1.45" fill="none" stroke="#000" stroke-width="0.9"/>
<circle cx="871.3" cy="691.5" r="1.45" fill="none" stroke="#000" stroke-width="0.9"/>
<circle cx="867.4" cy="658.8" r="1.45" fill="none" stroke="#000" stroke-width="0.9"/>
<circle cx="862.8" cy="599.5" r="1.45" fill="none" stroke="#000" stroke-width="0.9"/>
<circle cx="864.2" cy="601.0" r="1.45" fill="none" stroke="#000" stroke-width="0.9"/>
<circle cx="866.1" cy="670.9" r="1.45" fill="none" stroke="#000" stroke-width="0.9"/>
<circle cx="872.3" cy="702.0" r="1.45" fill="none" stroke="#000" stroke-width="0.9"/>
<circle cx="864.4" cy="683.4" r="1.45" fill="none" stroke="#000" stroke-width="0.9"/>
<circle cx="883.9" cy="676.6" r="1.45" fill="none" stroke="#000" stroke-width="0.9"/>
<circle cx="855.2" cy="649.6" r="1.45" fill="none" stroke="#000" stroke-width="0.9"/>
<circle cx="866.9" cy="650.1" r="1.45" fill="none" stroke="#000" stroke-width="0.9"/>
<circle cx="857.2" cy="672.3" r="1.45" fill="none" stroke="#000" stroke-width="0.9"/>
<circle cx="868.2" cy="696.5" r="1.45" fill="none" stroke="#000" stroke-width="0.9"/>
<circle cx="860.9" cy="670.4" r="1.45" fill="none" stroke="#000" stroke-width="0.9"/>
<circle cx="861.2" cy="665.8" r="1.45" fill="none" stroke="#000" stroke-width="0.9"/>
<circle cx="855.5" cy="673.7" r="1.45" fill="none" stroke="#000" stroke-width="0.9"/>
<circle cx="854.5" cy="617.2" r="1.45" fill="none" stroke="#000" stroke-width="0.9"/>
<circle cx="857.6" cy="624.0" r="1.45" fill="none" stroke="#000" stroke-width="0.9"/>
<circle cx="845.2" cy="639.1" r="1.45" fill="none" stroke="#000" stroke-width="0.9"/>
<circle cx="890.2" cy="728.5" r="1.45" fill="none" stroke="#000" stroke-width="0.9"/>
<circle cx="856.4" cy="656.4" r="1.45" fill="none" stroke="#000" stroke-width="0.9"/>
<circle cx="854.1" cy="669.5" r="1.45" fill="none" stroke="#000" stroke-width="0.9"/>
<circle cx="844.1" cy="610.6" r="1.45" fill="none" stroke="#000" stroke-width="0.9"/>
<circle cx="857.3" cy="658.5" r="1.45" fill="none" stroke="#000" stroke-width="0.9"/>
<circle cx="851.9" cy="693.5" r="1.45" fill="none" stroke="#000" stroke-width="0.9"/>
<circle cx="860.8" cy="648.3" r="1.45" fill="none" stroke="#000" stroke-width="0.9"/>
<circle cx="849.8" cy="619.8" r="1.45" fill="none" stroke="#000" stroke-width="0.9"/>
<circle cx="866.6" cy="626.6" r="1.45" fill="none" stroke="#000" stroke-width="0.9"/>
<circle cx="862.0" cy="638.6" r="1.45" fill="none" stroke="#000" stroke-width="0.9"/>
<circle cx="861.8" cy="637.3" r="1.45" fill="none" stroke="#000" stroke-width="0.9"/>
<circle cx="872.0" cy="721.4" r="1.45" fill="none" stroke="#000" stroke-width="0.9"/>
<circle cx="868.5" cy="613.1" r="1.45" fill="none" stroke="#000" stroke-width="0.9"/>
<circle cx="854.1" cy="702.3" r="1.45" fill="none" stroke="#000" stroke-width="0.9"/>
<circle cx="862.6" cy="643.7" r="1.45" fill="none" stroke="#000" stroke-width="0.9"/>
<circle cx="845.2" cy="642.5" r="1.45" fill="none" stroke="#000" stroke-width="0.9"/>
<circle cx="843.9" cy="614.7" r="1.45" fill="none" stroke="#000" stroke-width="0.9"/>
<circle cx="866.1" cy="653.1" r="1.45" fill="none" stroke="#000" stroke-width="0.9"/>
<circle cx="833.5" cy="608.4" r="1.45" fill="none" stroke="#000" stroke-width="0.9"/>
<circle cx="889.4" cy="699.7" r="1.45" fill="none" stroke="#000" stroke-width="0.9"/>
<circle cx="880.4" cy="701.5" r="1.45" fill="none" stroke="#000" stroke-width="0.9"/>
<circle cx="842.1" cy="656.2" r="1.45" fill="none" stroke="#000" stroke-width="0.9"/>
<circle cx="871.6" cy="652.2" r="1.45" fill="none" stroke="#000" stroke-width="0.9"/>
<circle cx="863.9" cy="610.8" r="1.45" fill="none" stroke="#000" stroke-width="0.9"/>
<circle cx="858.6" cy="605.5" r="1.45" fill="none" stroke="#000" stroke-width="0.9"/>
<circle cx="864.0" cy="682.5" r="1.45" fill="none" stroke="#000" stroke-width="0.9"/>
<circle cx="861.4" cy="632.4" r="1.45" fill="none" stroke="#000" stroke-width="0.9"/>
<circle cx="845.5" cy="656.8" r="1.45" fill="none" stroke="#000" stroke-width="0.9"/>
<circle cx="859.6" cy="621.5" r="1.45" fill="none" stroke="#000" stroke-width="0.9"/>
<circle cx="860.2" cy="672.9" r="1.45" fill="none" stroke="#000" stroke-width="0.9"/>
<circle cx="840.5" cy="593.0" r="1.45" fill="none" stroke="#000" stroke-width="0.9"/>
<circle cx="856.0" cy="658.3" r="1.45" fill="none" stroke="#000" stroke-width="0.9"/>
<circle cx="872.6" cy="695.6" r="1.45" fill="none" stroke="#000" stroke-width="0.9"/>
<circle cx="848.5" cy="604.2" r="1.45" fill="none" stroke="#000" stroke-width="0.9"/>
<circle cx="875.9" cy="623.0" r="1.45" fill="none" stroke="#000" stroke-width="0.9"/>
<circle cx="856.4" cy="639.6" r="1.45" fill="none" stroke="#000" stroke-width="0.9"/>
<circle cx="876.3" cy="718.5" r="1.45" fill="none" stroke="#000" stroke-width="0.9"/>
<circle cx="855.3" cy="615.5" r="1.45" fill="none" stroke="#000" stroke-width="0.9"/>
<circle cx="869.3" cy="666.7" r="1.45" fill="none" stroke="#000" stroke-width="0.9"/>
<circle cx="853.9" cy="615.7" r="1.45" fill="none" stroke="#000" stroke-width="0.9"/>
<circle cx="906.8" cy="610.0" r="1.45" fill="none" stroke="#000" stroke-width="0.9"/>
<circle cx="924.8" cy="649.0" r="1.45" fill="none" stroke="#000" stroke-width="0.9"/>
<circle cx="901.4" cy="733.4" r="1.45" fill="none" stroke="#000" stroke-width="0.9"/>
<circle cx="845.4" cy="715.0" r="1.45" fill="none" stroke="#000" stroke-width="0.9"/>
<circle cx="852.6" cy="708.5" r="1.45" fill="none" stroke="#000" stroke-width="0.9"/>
<circle cx="810.2" cy="709.5" r="3.1" fill="#ff8c00" stroke="#e8000b" stroke-width="1"/>
</g>
<rect x="753.3" y="591.7" width="195.2" height="174.5" stroke="#000" stroke-width="1" fill="none"/>
<line x1="760.5" y1="766.2" x2="941.1" y2="766.2" stroke="#000" stroke-width="1"/>
<line x1="760.5" y1="766.2" x2="760.5" y2="772.2" stroke="#000" stroke-width="1"/>
<line x1="796.62" y1="766.2" x2="796.62" y2="772.2" stroke="#000" stroke-width="1"/>
<line x1="832.74" y1="766.2" x2="832.74" y2="772.2" stroke="#000" stroke-width="1"/>
<line x1="868.86" y1="766.2" x2="868.86" y2="772.2" stroke="#000" stroke-width="1"/>
<line x1="904.98" y1="766.2" x2="904.98" y2="772.2" stroke="#000" stroke-width="1"/>
<line x1="941.1" y1="766.2" x2="941.1" y2="772.2" stroke="#000" stroke-width="1"/>
<text x="760.5" y="786.5" font-size="9.3" text-anchor="middle" font-weight="normal" fill="#000">0.0</text>
<text x="796.62" y="786.5" font-size="9.3" text-anchor="middle" font-weight="normal" fill="#000">0.2</text>
<text x="832.74" y="786.5" font-size="9.3" text-anchor="middle" font-weight="normal" fill="#000">0.4</text>
<text x="868.86" y="786.5" font-size="9.3" text-anchor="middle" font-weight="normal" fill="#000">0.6</text>
<text x="904.98" y="786.5" font-size="9.3" text-anchor="middle" font-weight="normal" fill="#000">0.8</text>
<text x="941.1" y="786.5" font-size="9.3" text-anchor="middle" font-weight="normal" fill="#000">1.0</text>
<text x="850.9" y="797.2" font-size="9.3" text-anchor="middle" font-weight="normal" fill="#000">Period [days]</text>
<line x1="753.3" y1="760.4" x2="753.3" y2="598.1" stroke="#000" stroke-width="1"/>
<line x1="747.3" y1="760.4" x2="753.3" y2="760.4" stroke="#000" stroke-width="1"/>
<line x1="747.3" y1="706.3" x2="753.3" y2="706.3" stroke="#000" stroke-width="1"/>
<line x1="747.3" y1="652.2" x2="753.3" y2="652.2" stroke="#000" stroke-width="1"/>
<line x1="747.3" y1="598.1" x2="753.3" y2="598.1" stroke="#000" stroke-width="1"/>
<text x="740.3" y="760.4" font-size="9.3" text-anchor="middle" font-weight="normal" fill="#000" transform="rotate(-90 740.3 760.4)">0.0</text>
<text x="740.3" y="706.3" font-size="9.3" text-anchor="middle" font-weight="normal" fill="#000" transform="rotate(-90 740.3 706.3)">0.5</text>
<text x="740.3" y="652.2" font-size="9.3" text-anchor="middle" font-weight="normal" fill="#000" transform="rotate(-90 740.3 652.2)">1.0</text>
<text x="740.3" y="598.1" font-size="9.3" text-anchor="middle" font-weight="normal" fill="#000" transform="rotate(-90 740.3 598.1)">1.5</text>
<text x="729.9" y="678.95" font-size="9.3" text-anchor="middle" font-weight="normal" fill="#000" transform="rotate(-90 729.9 678.95)">Amplitude [mag]</text>
<text x="850.7" y="584" font-size="8.75" text-anchor="middle" font-weight="bold" fill="#000">Period - Amplitude</text>
<line x1="989.84" y1="592.2" x2="989.84" y2="765.7" stroke="#ffc0cb" stroke-width="1" stroke-dasharray="4 4"/>
<line x1="1030.19" y1="592.2" x2="1030.19" y2="765.7" stroke="#ffc0cb" stroke-width="1" stroke-dasharray="4 4"/>
<line x1="1082.77" y1="592.2" x2="1082.77" y2="765.7" stroke="#ffc0cb" stroke-width="1" stroke-dasharray="4 4"/>
<line x1="1129.55" y1="592.2" x2="1129.55" y2="765.7" stroke="#ffc0cb" stroke-width="1" stroke-dasharray="4 4"/>
<line x1="1181.1" y1="592.2" x2="1181.1" y2="765.7" stroke="#ffc0cb" stroke-width="1" stroke-dasharray="4 4"/>
<polyline points="989.8,646.6 1030.2,630.3 1082.8,646.6 1129.5,679.0 1181.1,711.4" fill="none" stroke="#222" stroke-width="1"/>
<polyline points="989.8,760.1 1030.2,679.0 1082.8,711.4 1129.5,727.7 1181.1,760.1" fill="none" stroke="#222" stroke-width="1"/>
<polyline points="989.8,722.8 1030.2,639.3 1082.8,680.6 1129.5,705.0 1181.1,731.7" fill="none" stroke="#ff6010" stroke-width="2.6"/>
<rect x="982.2" y="591.7" width="206.3" height="174.5" stroke="#000" stroke-width="1" fill="none"/>
<line x1="1005.8" y1="766.2" x2="1183.55" y2="766.2" stroke="#000" stroke-width="1"/>
<line x1="1005.8" y1="766.2" x2="1005.8" y2="772.2" stroke="#000" stroke-width="1"/>
<line x1="1041.35" y1="766.2" x2="1041.35" y2="772.2" stroke="#000" stroke-width="1"/>
<line x1="1076.9" y1="766.2" x2="1076.9" y2="772.2" stroke="#000" stroke-width="1"/>
<line x1="1112.45" y1="766.2" x2="1112.45" y2="772.2" stroke="#000" stroke-width="1"/>
<line x1="1148" y1="766.2" x2="1148" y2="772.2" stroke="#000" stroke-width="1"/>
<line x1="1183.55" y1="766.2" x2="1183.55" y2="772.2" stroke="#000" stroke-width="1"/>
<text x="1005.8" y="786.5" font-size="9.3" text-anchor="middle" font-weight="normal" fill="#000">4000</text>
<text x="1041.35" y="786.5" font-size="9.3" text-anchor="middle" font-weight="normal" fill="#000">5000</text>
<text x="1076.9" y="786.5" font-size="9.3" text-anchor="middle" font-weight="normal" fill="#000">6000</text>
<text x="1112.45" y="786.5" font-size="9.3" text-anchor="middle" font-weight="normal" fill="#000">7000</text>
<text x="1148" y="786.5" font-size="9.3" text-anchor="middle" font-weight="normal" fill="#000">8000</text>
<text x="1183.55" y="786.5" font-size="9.3" text-anchor="middle" font-weight="normal" fill="#000">9000</text>
<text x="1085.35" y="797.2" font-size="9.3" text-anchor="middle" font-weight="normal" fill="#000">Wavelength</text>
<line x1="982.2" y1="760.1" x2="982.2" y2="597.9" stroke="#000" stroke-width="1"/>
<line x1="976.2" y1="760.1" x2="982.2" y2="760.1" stroke="#000" stroke-width="1"/>
<line x1="976.2" y1="727.66" x2="982.2" y2="727.66" stroke="#000" stroke-width="1"/>
<line x1="976.2" y1="695.22" x2="982.2" y2="695.22" stroke="#000" stroke-width="1"/>
<line x1="976.2" y1="662.78" x2="982.2" y2="662.78" stroke="#000" stroke-width="1"/>
<line x1="976.2" y1="630.34" x2="982.2" y2="630.34" stroke="#000" stroke-width="1"/>
<line x1="976.2" y1="597.9" x2="982.2" y2="597.9" stroke="#000" stroke-width="1"/>
<text x="969.2" y="760.1" font-size="9.3" text-anchor="middle" font-weight="normal" fill="#000" transform="rotate(-90 969.2 760.1)">0.0</text>
<text x="969.2" y="727.66" font-size="9.3" text-anchor="middle" font-weight="normal" fill="#000" transform="rotate(-90 969.2 727.66)">0.2</text>
<text x="969.2" y="695.22" font-size="9.3" text-anchor="middle" font-weight="normal" fill="#000" transform="rotate(-90 969.2 695.22)">0.4</text>
<text x="969.2" y="662.78" font-size="9.3" text-anchor="middle" font-weight="normal" fill="#000" transform="rotate(-90 969.2 662.78)">0.6</text>
<text x="969.2" y="630.34" font-size="9.3" text-anchor="middle" font-weight="normal" fill="#000" transform="rotate(-90 969.2 630.34)">0.8</text>
<text x="969.2" y="597.9" font-size="9.3" text-anchor="middle" font-weight="normal" fill="#000" transform="rotate(-90 969.2 597.9)">1.0</text>
<text x="1085.35" y="584" font-size="8.75" text-anchor="middle" font-weight="bold" fill="#000">PC1 coefficients</text>
</g></svg></body></html>
